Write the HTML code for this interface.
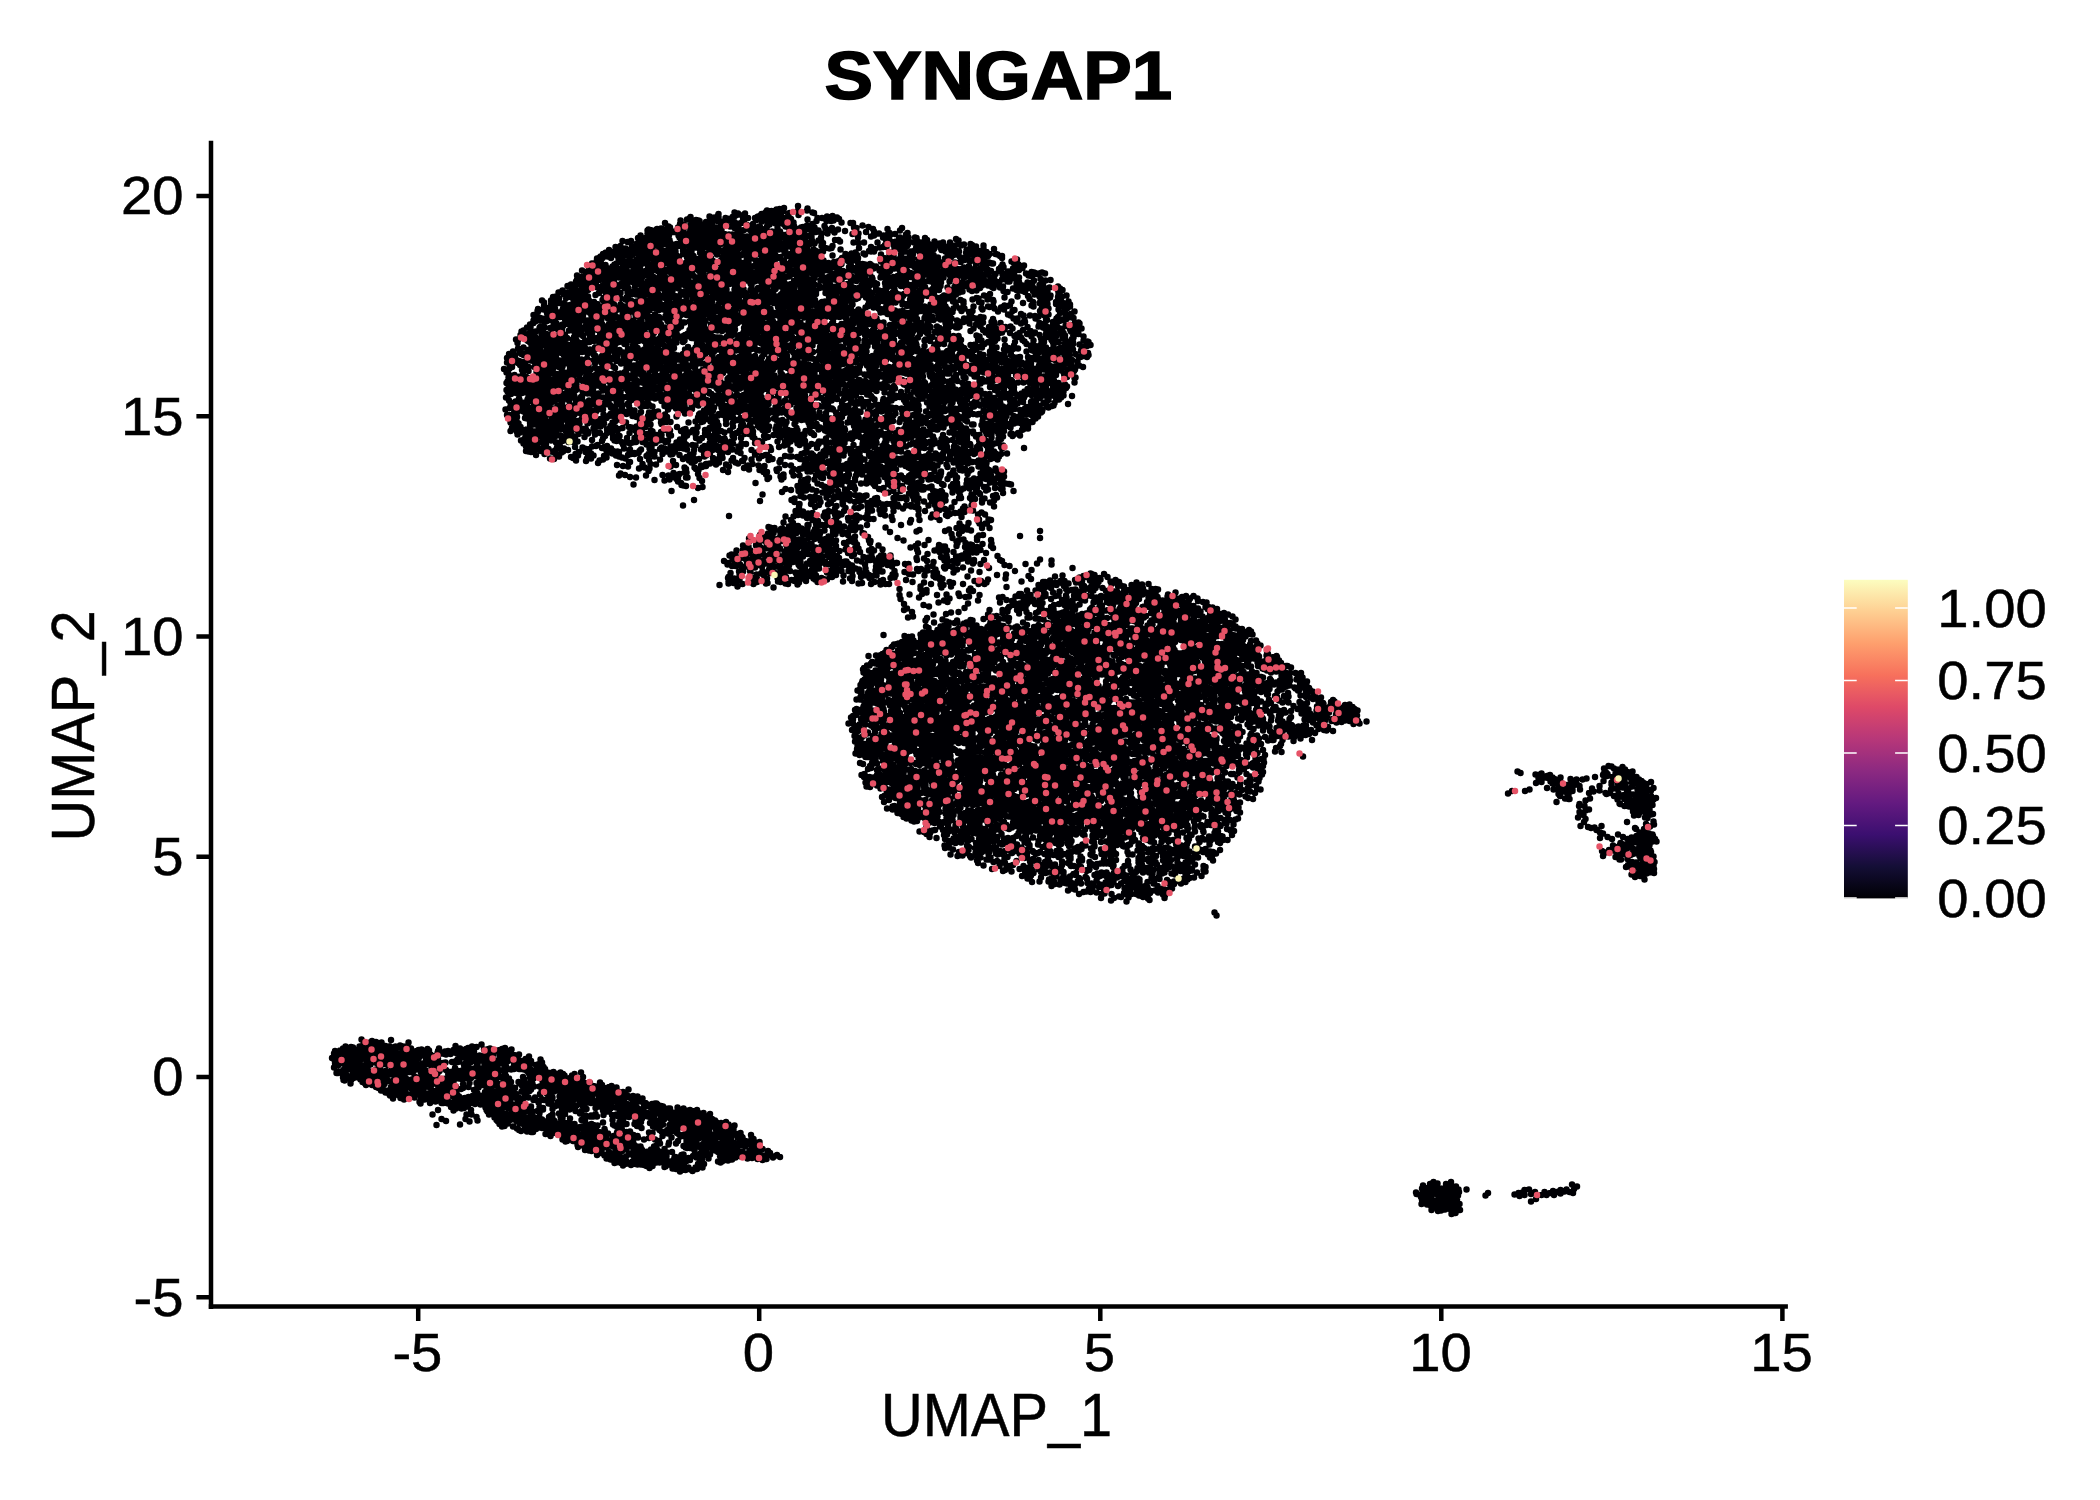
<!DOCTYPE html>
<html><head><meta charset="utf-8"><title>SYNGAP1</title>
<style>html,body{margin:0;padding:0;background:#fff}svg{display:block}text{font-family:"Liberation Sans",sans-serif;fill:#000;stroke:#000;stroke-width:0.5px}</style>
</head><body>
<svg width="2100" height="1500" viewBox="0 0 2100 1500">
<rect width="2100" height="1500" fill="#fff"/>
<g transform="scale(0.5000)" fill="none" stroke-linecap="round" stroke-width="12.80">
<path stroke="#000004" d="M1568 416h.1m28-4h-.1m110 34h.1m-5 0h-.1m-18-1h.1m-5-7h-.1m-4-3h.1m-7 6h-.1m-2-9h.1m-3 10h-.1m-8-9h.1m-1 9h-.1m-9-6h.1m-9 0h-.1m-2 6h.1m-5-16h-.1m-3-1h.1m-10 14h-.1m0-22h.1m-1 4h-.1m-17 9h.1m-2-8h-.1m-8 23h.1m0 3h-.1m-5-10h.1m0 3h-.1m0 3h.1m-3-18h-.1m-1 17h.1m-1-5h-.1m0 9h.1m-1-15h-.1m-1 3h.1m-2 9h-.1m-2-3h.1m-3 6h-.1m-1-25h.1m-3 12h-.1m-1-15h.1m-1 27h-.1m-2-16h.1m-1-12h-.1m-1 14h.1m0-4h-.1m-1 14h.1m-2-10h-.1m-2-13h.1m-1 26h-.1m0-3h.1m-1 5h-.1m-4-24h.1m-2 13h-.1m-1-4h.1m-1-10h-.1m0 20h.1m-6-15h-.1m-1 19h.1m-2-25h-.1m0 16h.1m-2-13h-.1m-3 3h.1m-5 16h-.1m-1-15h.1m0 9h-.1m-4-5h.1m-1 3h-.1m-1 4h.1m-1-3h-.1m0-3h.1m-3 7h-.1m-2-2h.1m-1-2h-.1m-4 12h.1m-10-12h-.1m-6 2h.1m0-11h-.1m-2 3h.1m0 16h-.1m-1-3h.1m-1-4h-.1m-4 7h.1m-3 1h-.1m-1-18h.1m-2-2h-.1m-3 3h.1m-3 2h-.1m-1-7h.1m0 19h-.1m-2 1h.1m-1-6h-.1m-1-5h.1m-1 7h-.1m-2 0h.1m-8-4h-.1m-3 4h.1m0 3h-.1m0-8h.1m-4 12h-.1m-1-2h.1m-5-3h-.1m-4-15h.1m0 6h-.1m-2 8h.1m0-10h-.1m-5 3h.1m-1 6h-.1m-5-6h.1m0 12h-.1m-3-2h.1m-2-12h-.1m-4 12h.1m-3-1h-.1m-1 3h.1m-12-5h-.1m-1 4h.1m-1-5h-.1m-5-1h.1m-9 6h-.1m-2-6h.1m0-6h-.1m-7 5h.1m-13 2h-.1m-1 7h.1m-30-2h-.1m-54 30h.1m2 1h-.1m3-6h.1m10 5h-.1m3-1h.1m1-8h-.1m0-6h.1m0 18h-.1m2-20h.1m0 18h-.1m3-17h.1m0 16h-.1m3-9h.1m1-6h-.1m5 16h.1m5-19h-.1m0 9h.1m2 5h-.1m0 7h.1m2-3h-.1m0-10h.1m1 3h-.1m2 6h.1m1-18h-.1m3 8h.1m1 9h-.1m1-2h.1m1-3h-.1m0 8h.1m0-18h-.1m5 20h.1m3-8h-.1m0-15h.1m1-3h-.1m1 17h.1m0-3h-.1m1-6h.1m1-6h-.1m7 9h.1m2-1h-.1m4 2h.1m3 2h-.1m0-12h.1m1 16h-.1m2 4h.1m5-18h-.1m0 3h.1m1 12h-.1m1-10h.1m1-13h-.1m0 13h.1m3 6h-.1m3 5h.1m2 1h-.1m1-21h.1m2 25h-.1m2-14h.1m2 13h-.1m0-21h.1m3-3h-.1m1 24h.1m0-17h-.1m0 5h.1m2 13h-.1m0-3h.1m0-25h-.1m2 18h.1m0-17h-.1m2 3h.1m0 3h-.1m1 17h.1m0-8h-.1m3-11h.1m1 13h-.1m1-4h.1m1-14h-.1m0 28h.1m0 2h-.1m1-19h.1m3 15h-.1m1-18h.1m0-8h-.1m1 25h.1m0 5h-.1m0-8h.1m1-4h-.1m0 10h.1m1-18h-.1m1-7h.1m2-3h-.1m2 10h.1m0-4h-.1m2 3h.1m0 15h-.1m0 2h.1m1 3h-.1m1-30h.1m1 16h-.1m1 9h.1m3-19h-.1m0-3h.1m1 17h-.1m1 4h.1m1-6h-.1m0-12h.1m2 23h-.1m1-7h.1m0-7h-.1m3 6h.1m1 10h-.1m1-18h.1m0-7h-.1m3 10h.1m1 14h-.1m1-7h.1m0-8h-.1m1-4h.1m2 7h-.1m1 10h.1m1-29h-.1m1 12h.1m1 13h-.1m2-3h.1m1-19h-.1m2 17h.1m0 9h-.1m3-4h.1m3-1h-.1m0 4h.1m2 3h-.1m1-10h.1m0 8h-.1m2-24h.1m4 24h-.1m0-6h.1m0 9h-.1m1-11h.1m1-16h-.1m2 24h.1m0-27h-.1m1 6h.1m1 20h-.1m1-4h.1m3-3h-.1m1-14h.1m0 11h-.1m1-2h.1m1 16h-.1m0-11h.1m0-14h-.1m3 16h.1m1 8h-.1m0-15h.1m0 4h-.1m6 5h.1m1-13h-.1m6 15h.1m0-2h-.1m0-23h.1m0 3h-.1m4 20h.1m2-13h-.1m0 18h.1m2-23h-.1m1-2h.1m1 22h-.1m1-5h.1m0 3h-.1m1-18h.1m0 24h-.1m3 1h.1m0-5h-.1m2-13h.1m0 18h-.1m2-5h.1m1-11h-.1m1-6h.1m0 4h-.1m1 16h.1m1-15h-.1m1-10h.1m0 6h-.1m2-5h.1m0 18h-.1m1-2h.1m2-12h-.1m3 1h.1m1 9h-.1m1-3h.1m1 14h-.1m2-15h.1m1 16h-.1m0-2h.1m1-3h-.1m0-19h.1m1 21h-.1m0-24h.1m3 23h-.1m1 3h.1m1-30h-.1m3 27h.1m1-4h-.1m1-9h.1m1 12h-.1m1-10h.1m2 6h-.1m0-6h.1m2 9h-.1m4-1h.1m1-17h-.1m1 10h.1m0 4h-.1m4-7h.1m7 12h-.1m1-5h.1m0-21h-.1m1 24h.1m2-20h-.1m0 25h.1m2-1h-.1m2-8h.1m1-1h-.1m0-14h.1m2 18h-.1m1-10h.1m1 14h-.1m1-26h.1m0 11h-.1m2 5h.1m2-11h-.1m1 21h.1m2-24h-.1m2 23h.1m0-19h-.1m2 5h.1m0 15h-.1m2-6h.1m4 5h-.1m2-8h.1m1 8h-.1m1-20h.1m0 6h-.1m3 8h.1m1-7h-.1m0-8h.1m2 11h-.1m0 6h.1m3 7h-.1m3-27h.1m1 21h-.1m1-14h.1m6-1h-.1m1 11h.1m0 6h-.1m2-26h.1m4 7h-.1m3 9h.1m5-3h-.1m5 14h.1m1-8h-.1m6-15h.1m2 5h-.1m4 3h.1m0 7h-.1m9-11h.1m3 6h-.1m2 3h.1m1 15h-.1m6-21h.1m14 3h-.1m15 6h.1m3-13h-.1m5 1h.1m3 19h-.1m1-8h.1m8-16h-.1m7 13h.1m5-10h-.1m5 19h.1m4-15h-.1m2 5h.1m0 8h-.1m3-3h.1m7-1h-.1m8 8h.1m1-4h-.1m5 9h.1m2-10h-.1m1-12h.1m0 14h-.1m3-4h.1m0 8h-.1m1-10h.1m2 3h-.1m9-1h.1m8 10h-.1m2-17h.1m0 14h-.1m3 2h.1m1-21h-.1m0 22h.1m4 1h-.1m4-7h.1m0-3h-.1m3-3h.1m2 9h-.1m13 0h.1m3 1h-.1m17 0h.1m62 2h-.1m92 34h.1m-4 0h-.1m-5-3h.1m-4-1h-.1m-3-10h.1m-9 10h-.1m-2 2h.1m-1 2h-.1m-3-8h.1m-3 0h-.1m-3-7h.1m0-6h-.1m-1 9h.1m-2 12h-.1m-1-10h.1m-4 7h-.1m-4-8h.1m-1 11h-.1m-2-19h.1m-5 17h-.1m0-4h.1m-1-5h-.1m-1-8h.1m-1 15h-.1m0-18h.1m-1 14h-.1m-1-9h.1m-1-7h-.1m-1 9h.1m-4 14h-.1m-3-11h.1m-1 6h-.1m-4-17h.1m-6 2h-.1m-4 12h.1m-1-22h-.1m-2 7h.1m-2 14h-.1m-1 7h.1m-2-18h-.1m-2 18h.1m0-4h-.1m-3 6h.1m-2-17h-.1m-1 2h.1m-1 3h-.1m-1-14h.1m-2 27h-.1m-3-3h.1m-4-16h-.1m0 10h.1m-4-12h-.1m0 3h.1m-1-9h-.1m-1 15h.1m-2 0h-.1m0-8h.1m-2 4h-.1m0-6h.1m-2-3h-.1m-3 3h.1m-7-7h-.1m-1 7h.1m0 8h-.1m-1 12h.1m-1-21h-.1m-2 21h.1m0-7h-.1m-2-10h.1m-2-2h-.1m-1 12h.1m-2 3h-.1m0-10h.1m-1 15h-.1m0-24h.1m0 3h-.1m-2-10h.1m-2 15h-.1m-1 6h.1m0 3h-.1m-5-8h.1m-1 6h-.1m0-14h.1m-1 13h-.1m-1-10h.1m-1-6h-.1m-1 26h.1m-1-6h-.1m-1-19h.1m0 3h-.1m-2 11h.1m-1-2h-.1m-2-4h.1m0-13h-.1m-1 4h.1m-1 11h-.1m-1-15h.1m-3 4h-.1m0 17h.1m-2 6h-.1m-3 3h.1m-1-8h-.1m-2 7h.1m-1-26h-.1m0 21h.1m-1-22h-.1m-2 6h.1m-2 3h-.1m-3 11h.1m0-21h-.1m-1 3h.1m0 14h-.1m-5-2h.1m-2 3h-.1m0 6h.1m0-17h-.1m-1 20h.1m-2-10h-.1m0-17h.1m-3 0h-.1m-4 5h.1m-1-4h-.1m0 9h.1m-3 5h-.1m-2-7h.1m0 21h-.1m-2-27h.1m-2 27h-.1m-3-6h.1m0-23h-.1m-1 28h.1m-6-16h-.1m-3-4h.1m-4 4h-.1m-4 15h.1m-2-14h-.1m-5-10h.1m-5 13h-.1m-2 5h.1m-6-9h-.1m0 9h.1m-4-1h-.1m-8 7h.1m-2-24h-.1m-1 22h.1m-9-11h-.1m-1-10h.1m-3 24h-.1m-3-2h.1m0-3h-.1m-4-20h.1m-4 22h-.1m-7 5h.1m-5-4h-.1m-10-9h.1m-1-16h-.1m-3-3h.1m-12 12h-.1m0 19h.1m-2-15h-.1m-4 1h.1m-8-1h-.1m-5-10h.1m0 17h-.1m-3-11h.1m0-9h-.1m-3 21h.1m-1 8h-.1m-2-31h.1m-5 30h-.1m0-9h.1m-2-1h-.1m-1-14h.1m-1 18h-.1m-1-6h.1m-3-18h-.1m-3 30h.1m-1-8h-.1m0-17h.1m-1 2h-.1m-2 17h.1m-2 0h-.1m0-13h.1m0 14h-.1m-3-4h.1m-1-8h-.1m-1-3h.1m0-10h-.1m-3 31h.1m-2-16h-.1m-1-15h.1m-1 5h-.1m-1 20h.1m-1-18h-.1m-1 16h.1m0 7h-.1m-1-4h.1m-2-1h-.1m-1-11h.1m-1 14h-.1m0-12h.1m-2-3h-.1m0-10h.1m-2 4h-.1m0 4h.1m-2-2h-.1m-1-2h.1m-2 13h-.1m-1 6h.1m0-23h-.1m0 3h.1m-2 7h-.1m-3 14h.1m-3 2h-.1m-3 2h.1m0-27h-.1m-1 3h.1m-2-8h-.1m0 18h.1m-2-8h-.1m0 16h.1m0-5h-.1m0-2h.1m-2-3h-.1m-3-1h.1m-3-7h-.1m-3 11h.1m0-18h-.1m-1 13h.1m0-11h-.1m-1 8h.1m-1-8h-.1m0 16h.1m-3 0h-.1m-1 12h.1m-2-18h-.1m-3-4h.1m0 10h-.1m0 3h.1m-2-18h-.1m-1 17h.1m-2 3h-.1m-1-11h.1m0-8h-.1m0 21h.1m-1 5h-.1m0-14h.1m-2-2h-.1m-1-5h.1m-2 4h-.1m0 10h.1m0 8h-.1m-2-19h.1m0 9h-.1m0-4h.1m-1 9h-.1m-3-6h.1m-2 10h-.1m-1-17h.1m0 16h-.1m-1-25h.1m-1 16h-.1m-4-15h.1m0 22h-.1m-1-9h.1m-3-9h-.1m-4 14h.1m-2-18h-.1m-2 22h.1m-1-14h-.1m-1-12h.1m0 27h-.1m-2-2h.1m0-24h-.1m-3 12h.1m-1-2h-.1m0 10h.1m-1-7h-.1m0-8h.1m-1 23h-.1m-1-30h.1m-1 23h-.1m-1-22h.1m-1 23h-.1m0-2h.1m0-14h-.1m0 11h.1m-1-5h-.1m-2-1h.1m-1 5h-.1m0-2h.1m-1 12h-.1m0-3h.1m-2 2h-.1m-2-26h.1m-3 29h-.1m-1-18h.1m0-6h-.1m-1-5h.1m0 27h-.1m0 2h.1m-1-26h-.1m-1 12h.1m-2 14h-.1m-1-24h.1m-1 11h-.1m-3 1h.1m-1 9h-.1m0 2h.1m-2-22h-.1m-3 4h.1m0 11h-.1m-1 7h.1m0-6h-.1m-1-7h.1m-2 3h-.1m0-14h.1m0 18h-.1m-1-23h.1m-1 27h-.1m0-15h.1m0 19h-.1m-1-31h.1m-1 3h-.1m-3 2h.1m0 7h-.1m-1-10h.1m-2 17h-.1m0-15h.1m-2 2h-.1m0 20h.1m-2-22h-.1m0 16h.1m-4-13h-.1m0-8h.1m-2 23h-.1m-1-19h.1m-3 13h-.1m0 4h.1m-1-11h-.1m-1-7h.1m0 26h-.1m-2-15h.1m0-3h-.1m0 5h.1m0-11h-.1m-3 17h.1m-3 1h-.1m0-10h.1m-2-2h-.1m-2 2h.1m-1 3h-.1m-1-11h.1m0 20h-.1m-3-23h.1m-1 2h-.1m0 2h.1m0-4h-.1m-1 24h.1m-1-23h-.1m0 11h.1m0-10h-.1m-4 23h.1m-1-23h-.1m0 23h.1m-1 4h-.1m-2-16h.1m0-1h-.1m-1 2h.1m-1-12h-.1m0 20h.1m-4-5h-.1m0 7h.1m-4-19h-.1m-3 2h.1m-1 6h-.1m-3-12h.1m-3 2h-.1m0 5h.1m-2-10h-.1m0 4h.1m0 8h-.1m-1 18h.1m0-6h-.1m0-5h.1m-1 10h-.1m-2-5h.1m-1-10h-.1m-2-6h.1m0 22h-.1m-2-7h.1m-1-15h-.1m-1 2h.1m-4-1h-.1m-2 4h.1m-1 8h-.1m0 7h.1m-3-19h-.1m-1-8h.1m-3 9h-.1m-2 2h.1m-4-4h-.1m0 1h.1m0 22h-.1m-2-5h.1m0-3h-.1m-4-3h.1m-1 10h-.1m0-8h.1m0-8h-.1m-5-8h.1m-2-6h-.1m-2 13h.1m-1 11h-.1m-4-19h.1m-1 17h-.1m-3 9h.1m-2-22h-.1m-1-9h.1m-2 29h-.1m0-25h.1m0 17h-.1m-2-5h.1m-1-4h-.1m-1 17h.1m0-10h-.1m-2-12h.1m-2 3h-.1m0 18h.1m0 3h-.1m-3-20h.1m-2 16h-.1m0-3h.1m-4-22h-.1m-2 21h.1m0-6h-.1m-1-2h.1m-6 7h-.1m-1 8h.1m-1-7h-.1m0-22h.1m-1 31h-.1m0-24h.1m0 2h-.1m0 10h.1m-1-7h-.1m-3 1h.1m-2-14h-.1m0 10h.1m-3 12h-.1m-1-9h.1m-1 17h-.1m0-23h.1m-3 15h-.1m-2-5h.1m-1-10h-.1m-1 21h.1m-1-15h-.1m-1-6h.1m-3 15h-.1m-3 1h.1m-2 0h-.1m-2-11h.1m0 7h-.1m0 11h.1m-2-28h-.1m-3 21h.1m-1 6h-.1m-3 2h.1m0-27h-.1m-2 24h.1m-1-10h-.1m0 13h.1m-1-14h-.1m-2 2h.1m-2 3h-.1m-1 5h.1m-1-25h-.1m-2 20h.1m-2-10h-.1m-2 5h.1m-3 7h-.1m0-7h.1m-2 14h-.1m0-4h.1m-2-2h-.1m-1-11h.1m-2 9h-.1m-6 7h.1m-5-10h-.1m-6 5h.1m-1 6h-.1m-5-3h.1m-42 33h-.1m7 3h.1m7-5h-.1m2 3h.1m1-6h-.1m3 7h.1m0-16h-.1m1 10h.1m0-8h-.1m1 10h.1m4-4h-.1m2-9h.1m0 10h-.1m1-13h.1m0 8h-.1m0-2h.1m1-12h-.1m2 18h.1m0 2h-.1m0-15h.1m0 6h-.1m3-1h.1m0 6h-.1m2-20h.1m1 7h-.1m3-4h.1m1 24h-.1m0-3h.1m2-6h-.1m1 5h.1m0-23h-.1m2 17h.1m0 11h-.1m1-7h.1m1 5h-.1m2-26h.1m4 24h-.1m3-21h.1m3 17h-.1m3-2h.1m1 2h-.1m0 4h.1m0-8h-.1m4 7h.1m0-9h-.1m4-10h.1m2 7h-.1m1 14h.1m3-1h-.1m0-16h.1m1 2h-.1m0 16h.1m1-23h-.1m1 6h.1m0 10h-.1m5 11h.1m0-19h-.1m2 15h.1m1 4h-.1m2-17h.1m1-2h-.1m1 6h.1m1-12h-.1m2 2h.1m6 16h-.1m0-7h.1m1-3h-.1m0 13h.1m3-2h-.1m1-13h.1m1-3h-.1m0-1h.1m1 5h-.1m1-7h.1m0 6h-.1m2 19h.1m0-11h-.1m0-6h.1m1 1h-.1m1-11h.1m0 15h-.1m1 5h.1m0-14h-.1m0 22h.1m1-29h-.1m3 9h.1m2 3h-.1m1-14h.1m2 6h-.1m1 7h.1m1-9h-.1m0 25h.1m4-23h-.1m0 9h.1m1 8h-.1m1-7h.1m0-11h-.1m0 16h.1m2-4h-.1m4 0h.1m1 4h-.1m1-20h.1m2 14h-.1m1-7h.1m1-5h-.1m2-4h.1m1 8h-.1m0 7h.1m1 14h-.1m1-22h.1m1 11h-.1m1-7h.1m1-3h-.1m0 23h.1m2-23h-.1m1 4h.1m3-11h-.1m2 22h.1m0 1h-.1m1-9h.1m2-1h-.1m1-5h.1m0 23h-.1m1-18h.1m1-11h-.1m0 29h.1m2-4h-.1m1-22h.1m2 9h-.1m1-13h.1m1 2h-.1m0 23h.1m0-14h-.1m1 9h.1m1-17h-.1m0 24h.1m1-12h-.1m0-10h.1m3 11h-.1m1-12h.1m1 21h-.1m2-11h.1m1-6h-.1m1 15h.1m0-20h-.1m2 14h.1m3 9h-.1m1-27h.1m2 8h-.1m0-7h.1m0 19h-.1m1 7h.1m1 1h-.1m0-11h.1m4 2h-.1m1-2h.1m0 12h-.1m0-15h.1m3 8h-.1m3-4h.1m2-6h-.1m1 16h.1m0-26h-.1m1 16h.1m0-3h-.1m2 15h.1m0-23h-.1m3 23h.1m0-5h-.1m2-21h.1m0 26h-.1m0-24h.1m1 20h-.1m1 4h.1m1-5h-.1m0-7h.1m2-19h-.1m1 15h.1m1-6h-.1m2 13h.1m2-10h-.1m0-6h.1m3 22h-.1m0-22h.1m1 18h-.1m1-17h.1m0 2h-.1m0 21h.1m0-16h-.1m2 11h.1m0-14h-.1m0 21h.1m1-15h-.1m1 14h.1m1-17h-.1m2-3h.1m0 13h-.1m0-20h.1m1 14h-.1m2-15h.1m0 3h-.1m1-2h.1m2-2h-.1m4 24h.1m0-17h-.1m0 8h.1m2-14h-.1m0 10h.1m0 6h-.1m2 9h.1m1-22h-.1m1 19h.1m1-21h-.1m2 13h.1m2-7h-.1m5 19h.1m4-15h-.1m1 15h.1m0 3h-.1m5-18h.1m1-5h-.1m1 7h.1m0 8h-.1m2-21h.1m4 18h-.1m3-5h.1m0-10h-.1m2 4h.1m0 5h-.1m0-15h.1m2 0h-.1m0 20h.1m4 4h-.1m0-9h.1m3 4h-.1m1 9h.1m1-23h-.1m0 9h.1m0 3h-.1m1-4h.1m0 16h-.1m2-16h.1m1 13h-.1m1-15h.1m0 14h-.1m3-17h.1m1 22h-.1m1-13h.1m2-10h-.1m1 4h.1m1 18h-.1m0-7h.1m5-7h-.1m1 16h.1m0-6h-.1m1 6h.1m2-4h-.1m1-14h.1m3 12h-.1m0-8h.1m0 7h-.1m1-22h.1m1 17h-.1m1-14h.1m0 2h-.1m1 4h.1m1 3h-.1m0 8h.1m1 10h-.1m1-26h.1m2 19h-.1m4-22h.1m2 2h-.1m1 15h.1m2-13h-.1m2 9h.1m1 5h-.1m0-8h.1m2 16h-.1m1-4h.1m0 6h-.1m1-18h.1m2 6h-.1m1 2h.1m1 5h-.1m0-17h.1m1 23h-.1m1-2h.1m0-26h-.1m1 8h.1m1-1h-.1m0 13h.1m2-18h-.1m1 9h.1m0 14h-.1m0-9h.1m1-11h-.1m2 14h.1m0-16h-.1m1 25h.1m2-30h-.1m0 29h.1m0-26h-.1m0 24h.1m1-15h-.1m1-3h.1m1 20h-.1m1-10h.1m0-15h-.1m3 1h.1m0 25h-.1m1-23h.1m0 9h-.1m1-7h.1m2 16h-.1m4-21h.1m0 4h-.1m1 5h.1m4 16h-.1m1-29h.1m2 26h-.1m1-7h.1m0-17h-.1m3-2h.1m4 11h-.1m1 17h.1m2-20h-.1m3 12h.1m0-6h-.1m5 13h.1m0-12h-.1m0-17h.1m3 1h-.1m0 17h.1m1 2h-.1m1-7h.1m3-8h-.1m1 9h.1m0 16h-.1m2-19h.1m1-10h-.1m1 12h.1m3 16h-.1m0-9h.1m2-17h-.1m1 24h.1m0-4h-.1m1-2h.1m1-18h-.1m1 14h.1m1 4h-.1m1-15h.1m1 22h-.1m1-21h.1m4 6h-.1m5-6h.1m1 7h-.1m1 18h.1m2-6h-.1m0-18h.1m1-2h-.1m2 8h.1m1 12h-.1m1-26h.1m2 32h-.1m1-15h.1m0 13h-.1m0-6h.1m0-13h-.1m1-5h.1m2 19h-.1m1-21h.1m2-1h-.1m1 16h.1m1-17h-.1m0 12h.1m1 1h-.1m3 13h.1m0-18h-.1m2 9h.1m0 3h-.1m5-18h.1m0 5h-.1m0 4h.1m2 16h-.1m2 1h.1m0-6h-.1m0-5h.1m1-10h-.1m0 14h.1m5 2h-.1m2 3h.1m1-9h-.1m2-5h.1m7 9h-.1m2-8h.1m0 2h-.1m2-5h.1m1 3h-.1m0-2h.1m1 8h-.1m1 0h.1m3 1h-.1m0 4h.1m1-15h-.1m2 4h.1m1-2h-.1m0 8h.1m0 5h-.1m3-18h.1m1 22h-.1m1-14h.1m1-12h-.1m2 26h.1m1-24h-.1m9 4h.1m2 12h-.1m2 8h.1m0-22h-.1m2-4h.1m0 10h-.1m2 12h.1m2-2h-.1m0-15h.1m3 20h-.1m3-27h.1m2 7h-.1m1 13h.1m1-9h-.1m0-9h.1m2 12h-.1m1 5h.1m1 1h-.1m2 6h.1m2-4h-.1m1-8h.1m3 11h-.1m2-10h.1m10 5h-.1m0-6h.1m1 8h-.1m3-5h.1m3 6h-.1m5-4h.1m7 8h-.1m1-3h.1m2-15h-.1m5 5h.1m1-12h-.1m1 22h.1m5-15h-.1m3 4h.1m3 15h-.1m0-21h.1m0-6h-.1m1 24h.1m1-5h-.1m0-16h.1m0 18h-.1m2-1h.1m3-5h-.1m1-9h.1m1 16h-.1m1-10h.1m1 5h-.1m0-2h.1m0-11h-.1m5 9h.1m1-3h-.1m0 6h.1m2 9h-.1m1-17h.1m1 2h-.1m0-10h.1m2 16h-.1m2-4h.1m0 10h-.1m1 5h.1m2-25h-.1m1 15h.1m1 7h-.1m1-17h.1m0 21h-.1m3-1h.1m2-25h-.1m3 13h.1m0-7h-.1m4 6h.1m1-10h-.1m2 12h.1m0-14h-.1m1 10h.1m2 7h-.1m4 9h.1m1-4h-.1m2-11h.1m2-10h-.1m0 2h.1m0 22h-.1m3-2h.1m1-6h-.1m0-11h.1m1-10h-.1m0 30h.1m1-18h-.1m1 15h.1m4-26h-.1m1 11h.1m2 4h-.1m2 6h.1m1-13h-.1m2-7h.1m0 25h-.1m2-4h.1m0-7h-.1m2-11h.1m1 17h-.1m1-8h.1m1-8h-.1m0 9h.1m0 13h-.1m2-11h.1m1-12h-.1m2 4h.1m0 17h-.1m0-6h.1m1 9h-.1m4-3h.1m2-11h-.1m0-13h.1m2 15h-.1m2-3h.1m0 16h-.1m2-15h.1m1-3h-.1m0 18h.1m4-6h-.1m3-20h.1m3-1h-.1m2 11h.1m1-7h-.1m0 14h.1m6-20h-.1m1 15h.1m3 12h-.1m1-7h.1m3-9h-.1m5 13h.1m5-24h-.1m1 10h.1m2-2h-.1m0 16h.1m4-1h-.1m1-2h.1m1-15h-.1m2-5h.1m1 25h-.1m6 1h.1m0-9h-.1m1-11h.1m2 1h-.1m2 19h.1m6-27h-.1m1 23h.1m0-19h-.1m0 22h.1m1-24h-.1m1 12h.1m5-14h-.1m3 27h.1m1-18h-.1m1 13h.1m3-4h-.1m0-7h.1m1 12h-.1m0-20h.1m3 5h-.1m2 6h.1m0-4h-.1m2 18h.1m0-13h-.1m2 10h.1m3-14h-.1m4 17h.1m2-15h-.1m2 0h.1m12 11h-.1m0 4h.1m4-8h-.1m1 4h.1m1-22h-.1m1 13h.1m2 5h-.1m9 9h.1m7-20h-.1m2 17h.1m1-3h-.1m1-12h.1m3 17h-.1m0-12h.1m1 9h-.1m1-4h.1m2-16h-.1m3 10h.1m1 11h-.1m7-4h.1m3-5h-.1m68 42h.1m-15-13h-.1m-2 15h.1m-8-14h-.1m-1-14h.1m-4 21h-.1m-2-23h.1m-3 13h-.1m0 11h.1m-2 1h-.1m-1-23h.1m-4 1h-.1m-6 13h.1m0-16h-.1m-1 31h.1m-2-11h-.1m-1-13h.1m-1 18h-.1m0-26h.1m0 29h-.1m-1-21h.1m-5-1h-.1m0 23h.1m-1-3h-.1m-1-6h.1m-3 8h-.1m0-26h.1m-7 24h-.1m-6 3h.1m-1-19h-.1m0 9h.1m-1 9h-.1m-2-7h.1m-2 1h-.1m-4-16h.1m0 6h-.1m-2-11h.1m-1 5h-.1m0-4h.1m-6 5h-.1m-1 7h.1m0 4h-.1m-3-3h.1m-1 3h-.1m-4-10h.1m-2-6h-.1m-3 26h.1m-1-24h-.1m-1 10h.1m-4 16h-.1m-2-11h.1m-7-16h-.1m-1 21h.1m-1-9h-.1m-1-5h.1m-2 6h-.1m-1 5h.1m-1 8h-.1m-3-18h.1m-1-12h-.1m-1 18h.1m-1 3h-.1m0-19h.1m-2 25h-.1m-1-4h.1m-5-17h-.1m-2 10h.1m-1-6h-.1m-1 11h.1m0-14h-.1m-2 20h.1m0-19h-.1m-4 24h.1m-1-15h-.1m-2 9h.1m-2-15h-.1m-1 9h.1m0-17h-.1m-5 2h.1m-1 14h-.1m-2-1h.1m-1-10h-.1m-1 23h.1m-3-19h-.1m-1 10h.1m-1 9h-.1m0-3h.1m-2-21h-.1m-1 15h.1m-2-15h-.1m-2-4h.1m-2 7h-.1m-2 19h.1m0-18h-.1m-2 9h.1m0-14h-.1m-5-2h.1m-1 3h-.1m0 14h.1m-1-17h-.1m0 24h.1m-2-7h-.1m-2-18h.1m-1 9h-.1m-3 14h.1m-1-19h-.1m-1 23h.1m0-19h-.1m-5 0h.1m0-8h-.1m-2 11h.1m-1-4h-.1m-1-10h.1m-1 19h-.1m0-14h.1m-4 26h-.1m-4-30h.1m-1 2h-.1m-3 8h.1m-3-8h-.1m-2 11h.1m0 7h-.1m-1 7h.1m-2-25h-.1m-1 3h.1m-1 10h-.1m0 8h.1m-3 7h-.1m-2-22h.1m0 9h-.1m-2-14h.1m-1 20h-.1m-1 5h.1m-1-22h-.1m-2 5h.1m-2-11h-.1m-1 18h.1m-1-9h-.1m-1-5h.1m-1 9h-.1m-3 4h.1m-5-13h-.1m-1 25h.1m0-26h-.1m-2-1h.1m0 16h-.1m0 12h.1m-2-2h-.1m-1-21h.1m-1 8h-.1m-1-11h.1m-1 22h-.1m-1-5h.1m0-21h-.1m-1 9h.1m-2 6h-.1m-1-13h.1m0 2h-.1m-2 14h.1m-3-5h-.1m-2 2h.1m0-4h-.1m0 17h.1m-1-24h-.1m0-2h.1m-1 21h-.1m-1 7h.1m-2-23h-.1m0-2h.1m-3 4h-.1m0 21h.1m-1-29h-.1m-2 24h.1m-4-23h-.1m-3 29h.1m0-15h-.1m0 3h.1m-1-10h-.1m-1 19h.1m-2-29h-.1m0 3h.1m0 9h-.1m-1 10h.1m0-2h-.1m-1-5h.1m-2 8h-.1m0-3h.1m-2-14h-.1m0 22h.1m-1-10h-.1m-1 2h.1m-3-1h-.1m-2-11h.1m0 16h-.1m-2-9h.1m-4 3h-.1m-2 5h.1m0-13h-.1m-1 4h.1m0 15h-.1m-1-6h.1m-4-8h-.1m0-3h.1m-2-1h-.1m-1 4h.1m-1-2h-.1m-1 15h.1m0-15h-.1m-1 17h.1m0-11h-.1m0-12h.1m-1 4h-.1m-2 7h.1m-1 9h-.1m-1-5h.1m0-14h-.1m-1-8h.1m-6 4h-.1m-2 7h.1m-7 13h-.1m-3 4h.1m-1-6h-.1m-3-1h.1m-2-7h-.1m-1-3h.1m-1 7h-.1m-1 6h.1m-2-22h-.1m-1 25h.1m-3-3h-.1m-1-21h.1m-1 23h-.1m0-9h.1m-1 4h-.1m-1-20h.1m-1 13h-.1m-3 7h.1m-1-15h-.1m0-2h.1m-2 7h-.1m-1 15h.1m-1-11h-.1m0 13h.1m-4 3h-.1m0-23h.1m-4-5h-.1m-2 15h.1m-3-6h-.1m-1 5h.1m-1 15h-.1m-4-2h.1m-1-21h-.1m-1 5h.1m-1 8h-.1m-1 7h.1m-2-26h-.1m-3 21h.1m-1-15h-.1m0-2h.1m-1-4h-.1m-1 23h.1m-1-26h-.1m0 4h.1m-1 4h-.1m-2 2h.1m-2 22h-.1m0-7h.1m-3 4h-.1m0-16h.1m0 4h-.1m-2 14h.1m0-27h-.1m-1 16h.1m-1-14h-.1m-1 15h.1m0-2h-.1m-4-14h.1m-1 5h-.1m0 6h.1m0 13h-.1m-2 1h.1m0-26h-.1m-1 11h.1m-2-1h-.1m0 16h.1m-2-19h-.1m-2 4h.1m-1-12h-.1m-1 7h.1m-2 12h-.1m-1-5h.1m-1-8h-.1m-2 4h.1m0 8h-.1m0 3h.1m-2 5h-.1m-3-17h.1m0 11h-.1m-1 7h.1m0-11h-.1m-4-9h.1m-2 0h-.1m0 4h.1m-3 3h-.1m-2 15h.1m0-27h-.1m-1 22h.1m-1-25h-.1m-8 23h.1m0-24h-.1m0 11h.1m-1-1h-.1m-2-8h.1m0 14h-.1m0 10h.1m0 2h-.1m-1-16h.1m-2-11h-.1m-1 29h.1m-1-7h-.1m-4-4h.1m-3 4h-.1m0 3h.1m0-24h-.1m-1 7h.1m-5 15h-.1m-1-9h.1m0-7h-.1m-1-9h.1m0 11h-.1m-2 11h.1m-1 2h-.1m-1 8h.1m0-16h-.1m-1 6h.1m0-21h-.1m-1 4h.1m-1 4h-.1m-1 10h.1m-4 3h-.1m-1-15h.1m0 17h-.1m0-5h.1m0-18h-.1m-4 30h.1m-1-13h-.1m0-14h.1m-1-2h-.1m-1 24h.1m-2-23h-.1m-1-2h.1m-1 23h-.1m-2-17h.1m0 19h-.1m-2-17h.1m-2 20h-.1m-3-4h.1m-1-15h-.1m-2-1h.1m-2 9h-.1m-2-6h.1m0 15h-.1m-1-21h.1m-1 18h-.1m-2-17h.1m-1 22h-.1m0-18h.1m-2 17h-.1m-1-10h.1m-3-14h-.1m0 18h.1m0 6h-.1m-1-17h.1m0 9h-.1m-3-18h.1m0 17h-.1m-1 11h.1m-2-20h-.1m-1 19h.1m0-24h-.1m0 22h.1m-1-14h-.1m0-2h.1m0-9h-.1m-1 8h.1m-1 14h-.1m0-22h.1m-1 4h-.1m-1 11h.1m0-15h-.1m-3-2h.1m0 5h-.1m-2 20h.1m-1-20h-.1m-2 26h.1m0-25h-.1m0 23h.1m-4-15h-.1m0 7h.1m-1-16h-.1m-1 4h.1m-2 14h-.1m-2 8h.1m0-2h-.1m-1-8h.1m0-15h-.1m-3 6h.1m-3 5h-.1m-1 15h.1m-2-23h-.1m0-8h.1m-1 12h-.1m-3-12h.1m-1 18h-.1m-1-7h.1m-5 15h-.1m0-21h.1m-1-2h-.1m-1 14h.1m0 5h-.1m-2-13h.1m0-2h-.1m-3-8h.1m0 17h-.1m-2-8h.1m0-4h-.1m0-1h.1m-2 13h-.1m-3-16h.1m0 2h-.1m-2 8h.1m-2-9h-.1m-1 25h.1m-1-10h-.1m-1-8h.1m-1 17h-.1m0-15h.1m-2-8h-.1m0 20h.1m-1-21h-.1m0 25h.1m0-14h-.1m-1 3h.1m0-12h-.1m-5 16h.1m-1-17h-.1m-1 24h.1m0-13h-.1m0-1h.1m-4-10h-.1m-3 5h.1m0 2h-.1m-1 12h.1m-3 2h-.1m-3-13h.1m-1 3h-.1m-2-13h.1m0 24h-.1m-1-8h.1m0 13h-.1m0-24h.1m-4 13h-.1m0-17h.1m0 26h-.1m-2-7h.1m0 9h-.1m-2-22h.1m0 23h-.1m0-12h.1m-2 11h-.1m-1 2h.1m0-19h-.1m-4-4h.1m0 18h-.1m-1-17h.1m-1-3h-.1m0-6h.1m-2 17h-.1m0-12h.1m0 9h-.1m0-3h.1m-1 7h-.1m-1-8h.1m-1 7h-.1m-1-7h.1m-1 15h-.1m0-22h.1m-2 9h-.1m-2 4h.1m-3 13h-.1m0-6h.1m-2-18h-.1m-2 8h.1m-1 14h-.1m-2-17h.1m0 11h-.1m-1 4h.1m-1-14h-.1m-4 10h.1m-1-22h-.1m-1 25h.1m0-20h-.1m-2 10h.1m0-13h-.1m-1 9h.1m0 14h-.1m-1-12h.1m-1 10h-.1m-1 2h.1m-1-15h-.1m0 5h.1m-5 12h-.1m-1-16h.1m-2 4h-.1m-4 10h.1m0 3h-.1m-1 4h.1m0-25h-.1m-7 1h.1m0 12h-.1m0-15h.1m-2 24h-.1m-1-25h.1m-1 6h-.1m-2 11h.1m-1-2h-.1m-1 6h.1m-1-22h-.1m0 24h.1m0-4h-.1m-2-12h.1m0-6h-.1m-3 13h.1m-1-14h-.1m-2 8h.1m-1 3h-.1m-2-14h.1m0 25h-.1m-2-13h.1m-1 19h-.1m-2-28h.1m-1 6h-.1m0 3h.1m-1 6h-.1m-2 11h.1m0-13h-.1m-1-10h.1m-1-4h-.1m-3 0h.1m-1 16h-.1m-2-7h.1m-1 19h-.1m0-4h.1m0-6h-.1m-1-21h.1m-1 29h-.1m-1-16h.1m-1 17h-.1m0-8h.1m-1 2h-.1m-1-3h.1m-2 3h-.1m-1-12h.1m0 20h-.1m-1-18h.1m0 12h-.1m-3-11h.1m-5-9h-.1m-1 5h.1m0 17h-.1m-1-9h.1m0-1h-.1m-1 14h.1m-1-31h-.1m0 10h.1m0 14h-.1m-1-2h.1m-1-8h-.1m0-2h.1m-2 13h-.1m0-3h.1m-2 4h-.1m0-14h.1m-1 9h-.1m-1-3h.1m-4-9h-.1m-1 15h.1m-2 0h-.1m-2-21h.1m0-4h-.1m0 6h.1m0 22h-.1m-3-18h.1m0 8h-.1m-1-16h.1m0 10h-.1m0 12h.1m-1 7h-.1m-1-14h.1m-1 8h-.1m-1-24h.1m0 5h-.1m-3 20h.1m0-2h-.1m-1-19h.1m-2 26h-.1m-3-26h.1m-1 6h-.1m-1-3h.1m0 10h-.1m0 9h.1m-2-12h-.1m-3 2h.1m-3-6h-.1m-1 13h.1m-1-16h-.1m-1 6h.1m-1 9h-.1m-1 7h.1m0-27h-.1m-2 8h.1m0 8h-.1m-1 2h.1m0-8h-.1m-1 4h.1m-5-11h-.1m0-4h.1m-3 13h-.1m-1-14h.1m0 3h-.1m-1-1h.1m-1 29h-.1m0-7h.1m-1-24h-.1m-1 19h.1m-2 3h-.1m0-13h.1m-1 4h-.1m-1 11h.1m0 5h-.1m0-11h.1m-1 3h-.1m-1 4h.1m0-22h-.1m0 3h.1m-1 7h-.1m-1-6h.1m-2 20h-.1m-1-4h.1m-2-14h-.1m-2 1h.1m-2 19h-.1m0-27h.1m-6 21h-.1m-2-12h.1m0-8h-.1m0 27h.1m0-16h-.1m-4 5h.1m0 2h-.1m-1-14h.1m-1-2h-.1m-1 14h.1m0-20h-.1m0 12h.1m0-4h-.1m-3 3h.1m-2 18h-.1m-1-9h.1m0-14h-.1m-2 23h.1m-1-18h-.1m0 16h.1m-1-12h-.1m-1-8h.1m0 9h-.1m-1 2h.1m-2-7h-.1m-1 15h.1m0 4h-.1m-1-25h.1m0 2h-.1m-2 6h.1m-5 17h-.1m-1-18h.1m0 4h-.1m-1 14h.1m-1-30h-.1m0 31h.1m-2-30h-.1m0 17h.1m-1 5h-.1m0-3h.1m-1-9h-.1m0-4h.1m-1 8h-.1m-2 12h.1m0-9h-.1m-1-14h.1m-1 10h-.1m-1 7h.1m0-4h-.1m-3-16h.1m-4 0h-.1m-1 16h.1m-1-15h-.1m0 21h.1m0 9h-.1m0-25h.1m-3-2h-.1m-2 21h.1m-2 4h-.1m0-6h.1m-3-1h-.1m0-9h.1m-3-4h-.1m-1 10h.1m-1-8h-.1m-1 12h.1m0-4h-.1m-2 5h.1m-4-2h-.1m0-8h.1m0-8h-.1m-2 12h.1m-3 11h-.1m-3-1h.1m-1-3h-.1m-3-1h.1m-7 3h-.1m-51 29h.1m4 4h-.1m14 3h.1m0-7h-.1m4 3h.1m0-10h-.1m4 5h.1m2-6h-.1m4 13h.1m0-2h-.1m1-19h.1m1 12h-.1m1 9h.1m6-25h-.1m3 8h.1m1 17h-.1m3-10h.1m2-7h-.1m0-4h.1m6 6h-.1m1 3h.1m0-5h-.1m1-6h.1m1-5h-.1m3 17h.1m0 2h-.1m1 9h.1m0-14h-.1m2-4h.1m0 13h-.1m1-5h.1m1 11h-.1m0-4h.1m1-22h-.1m1 5h.1m3 20h-.1m0-2h.1m1-6h-.1m0 7h.1m2-14h-.1m3-6h.1m1-5h-.1m1 9h.1m0 4h-.1m1 2h.1m1 9h-.1m3-1h.1m1-8h-.1m1-4h.1m0-8h-.1m5 13h.1m0-16h-.1m0 13h.1m2 11h-.1m0-3h.1m10 3h-.1m3-14h.1m7-4h-.1m3-4h.1m4 18h-.1m2-21h.1m0 17h-.1m3 9h.1m0-2h-.1m2-20h.1m0 6h-.1m1 9h.1m1 8h-.1m2-6h.1m0-4h-.1m2-11h.1m1 8h-.1m1-15h.1m1 29h-.1m2-30h.1m1 18h-.1m0-11h.1m0-4h-.1m2 27h.1m2-31h-.1m1 12h.1m2-10h-.1m2 2h.1m2-3h-.1m6 9h.1m0 11h-.1m8-21h.1m2 23h-.1m2-4h.1m2-14h-.1m0 4h.1m1 17h-.1m0-10h.1m0-8h-.1m0-4h.1m1-3h-.1m1 5h.1m1 5h-.1m2 1h.1m1 13h-.1m1-17h.1m0 23h-.1m1-19h.1m4 19h-.1m0-23h.1m4 5h-.1m1 14h.1m2 3h-.1m0-25h.1m2 8h-.1m4 6h.1m0-8h-.1m1 14h.1m1-19h-.1m0 26h.1m0-30h-.1m2 20h.1m1 8h-.1m1-6h.1m1-15h-.1m0 7h.1m0-10h-.1m1-5h.1m1 10h-.1m1 18h.1m0-20h-.1m2-7h.1m2 30h-.1m1-6h.1m2-26h-.1m0 14h.1m1-9h-.1m2 23h.1m0-7h-.1m1-2h.1m0-3h-.1m1-13h.1m0 6h-.1m2 9h.1m0 2h-.1m1-1h.1m1 6h-.1m1-20h.1m2 5h-.1m1 9h.1m0 12h-.1m1-19h.1m2-8h-.1m0 11h.1m1 16h-.1m0-23h.1m1 8h-.1m0 9h.1m1-4h-.1m0 6h.1m0-10h-.1m0-4h.1m1 10h-.1m3 9h.1m0-12h-.1m8-7h.1m0-9h-.1m1 16h.1m2-10h-.1m1 4h.1m1 14h-.1m1 4h.1m0-7h-.1m1-4h.1m1-18h-.1m1 23h.1m0-17h-.1m1-1h.1m2 3h-.1m0 2h.1m1 18h-.1m1-12h.1m0-2h-.1m0-6h.1m2-10h-.1m0 5h.1m1 10h-.1m3 2h.1m1-2h-.1m2 6h.1m0-4h-.1m1 8h.1m3 6h-.1m1-31h.1m3 14h-.1m1-2h.1m0 14h-.1m3 1h.1m2-20h-.1m4 5h.1m1 14h-.1m0-20h.1m1 3h-.1m0 6h.1m1 5h-.1m1-16h.1m2 3h-.1m0 5h.1m2 18h-.1m2-2h.1m6-22h-.1m0 13h.1m1-5h-.1m0 2h.1m4-11h-.1m1 25h.1m1-21h-.1m0-9h.1m2 21h-.1m0 3h.1m3-23h-.1m2 19h.1m2-17h-.1m0 14h.1m1-15h-.1m0 25h.1m2-2h-.1m2-25h.1m0 13h-.1m1 14h.1m2-12h-.1m1-15h.1m0 23h-.1m1-8h.1m0-10h-.1m2-2h.1m0 13h-.1m0-9h.1m2 11h-.1m0-19h.1m2 4h-.1m0 27h.1m1-29h-.1m3 21h.1m0 4h-.1m2-3h.1m0 3h-.1m1-19h.1m1 7h-.1m1 5h.1m0-8h-.1m4-7h.1m5 2h-.1m1 14h.1m0-7h-.1m0 18h.1m1-15h-.1m1-15h.1m0 28h-.1m3-23h.1m1 22h-.1m1-25h.1m2 15h-.1m4-3h.1m0-9h-.1m1 5h.1m1 15h-.1m0-12h.1m1-12h-.1m1 13h.1m1 7h-.1m4-7h.1m1 13h-.1m0-2h.1m1-14h-.1m3 13h.1m0 4h-.1m2-14h.1m0 3h-.1m1 6h.1m2-22h-.1m1 12h.1m0-8h-.1m0 15h.1m0-10h-.1m3 7h.1m0-9h-.1m0-8h.1m1 18h-.1m1-7h.1m0 12h-.1m2-24h.1m1 18h-.1m1-14h.1m2 7h-.1m3-5h.1m0 22h-.1m2-20h.1m1 5h-.1m0-12h.1m0 8h-.1m2 19h.1m0-20h-.1m2 7h.1m1 7h-.1m0 4h.1m1-15h-.1m1 12h.1m4-3h-.1m0 9h.1m0-12h-.1m3-14h.1m1 20h-.1m0 7h.1m1-4h-.1m0-26h.1m1 19h-.1m1-5h.1m1-4h-.1m1 15h.1m3-3h-.1m1-8h.1m1-10h-.1m2 18h.1m3 9h-.1m1-12h.1m5-16h-.1m0 10h.1m1 8h-.1m0 7h.1m1 3h-.1m0-25h.1m0-4h-.1m1 7h.1m1 8h-.1m0 13h.1m2-29h-.1m1 4h.1m1 18h-.1m2-15h.1m1-5h-.1m0 6h.1m2 21h-.1m1-16h.1m2-7h-.1m1 9h.1m0-7h-.1m0-3h.1m3 14h-.1m0-9h.1m1 14h-.1m3-5h.1m0-15h-.1m0 24h.1m4-28h-.1m2 26h.1m1-11h-.1m5 13h.1m1-12h-.1m1 7h.1m1-12h-.1m2 8h.1m1-11h-.1m0 22h.1m2-27h-.1m3 10h.1m1-7h-.1m0-2h.1m2 14h-.1m0 7h.1m1-21h-.1m1 2h.1m1-7h-.1m1 8h.1m1 21h-.1m1-4h.1m0-25h-.1m1 23h.1m1 1h-.1m2-5h.1m2-3h-.1m1 7h.1m0-14h-.1m1-7h.1m0 15h-.1m1-6h.1m0 12h-.1m1-10h.1m0-7h-.1m1 10h.1m0 12h-.1m3 2h.1m1-5h-.1m0-10h.1m1 16h-.1m0-18h.1m3 17h-.1m0-14h.1m1-8h-.1m1 12h.1m1-3h-.1m2-17h.1m0 10h-.1m1 3h.1m0 13h-.1m1-3h.1m0-14h-.1m1 14h.1m2-22h-.1m1 8h.1m3 20h-.1m3-6h.1m0-6h-.1m2 11h.1m1-28h-.1m1 25h.1m1-4h-.1m0-16h.1m1 2h-.1m1 8h.1m0 10h-.1m3-18h.1m1 2h-.1m2 15h.1m0-20h-.1m0 23h.1m1-18h-.1m1 14h.1m2-12h-.1m0-4h.1m3 23h-.1m9-3h.1m3 4h-.1m3-31h.1m0 26h-.1m1-17h.1m4-1h-.1m0-6h.1m0 27h-.1m1-19h.1m1-11h-.1m1 17h.1m1 12h-.1m0-18h.1m0 11h-.1m1-5h.1m0 3h-.1m0-17h.1m3 23h-.1m0-17h.1m2 2h-.1m6 9h.1m1-4h-.1m1-11h.1m1 27h-.1m0-25h.1m1 23h-.1m1-26h.1m1 3h-.1m0 14h.1m3-15h-.1m2 14h.1m0 10h-.1m1-25h.1m2 11h-.1m2 3h.1m1-8h-.1m2 20h.1m1-16h-.1m1 11h.1m0-13h-.1m0-9h.1m1 20h-.1m0 2h.1m4-11h-.1m1-1h.1m1-10h-.1m0 4h.1m1 9h-.1m1-2h.1m1 12h-.1m3-22h.1m7 17h-.1m1-21h.1m1 11h-.1m2 8h.1m0-16h-.1m1 11h.1m0-6h-.1m3 6h.1m0-13h-.1m3 11h.1m1-12h-.1m1 6h.1m3-3h-.1m3 2h.1m1 13h-.1m3-5h.1m1-2h-.1m1-8h.1m1 24h-.1m5-8h.1m1-10h-.1m0 12h.1m2 5h-.1m3-5h.1m3-18h-.1m2 25h.1m1-13h-.1m1 14h.1m2-25h-.1m1 15h.1m4-12h-.1m0 13h.1m1-8h-.1m0 6h.1m1 2h-.1m1 5h.1m1-20h-.1m1 6h.1m3-10h-.1m2 21h.1m0-14h-.1m3 7h.1m2-4h-.1m2 10h.1m1-8h-.1m0 11h.1m5-17h-.1m1 16h.1m1-14h-.1m0 6h.1m1-13h-.1m2 24h.1m0 2h-.1m0-20h.1m6 15h-.1m1-11h.1m5 8h-.1m1-6h.1m1 15h-.1m1-14h.1m2-4h-.1m2 20h.1m4-21h-.1m0-8h.1m4 7h-.1m2 13h.1m3-5h-.1m2 11h.1m2-24h-.1m1 21h.1m1-5h-.1m0-6h.1m1-6h-.1m2 5h.1m1 13h-.1m0-11h.1m0 14h-.1m1-18h.1m1 2h-.1m1-5h.1m4-4h-.1m2 20h.1m2-8h-.1m0-9h.1m1-7h-.1m6 2h.1m2 12h-.1m2-2h.1m0-2h-.1m0 5h.1m4-11h-.1m4 5h.1m3-9h-.1m2 11h.1m4-9h-.1m1 17h.1m2 0h-.1m3 4h.1m0-20h-.1m1 27h.1m1-10h-.1m4-3h.1m4-3h-.1m0 13h.1m1-6h-.1m7-1h.1m3-7h-.1m4-10h.1m3 23h-.1m1-3h.1m1-9h-.1m1-6h.1m2-6h-.1m0 26h.1m1-16h-.1m4-9h.1m2 5h-.1m2-5h.1m1 20h-.1m1-23h.1m3 6h-.1m2 24h.1m0-4h-.1m12-24h.1m5 3h-.1m1 17h.1m8-3h-.1m0-15h.1m4 16h-.1m1 7h.1m5 1h-.1m5-14h.1m7 8h-.1m2-7h.1m3-4h-.1m6 12h.1m1 3h-.1m0-27h.1m20 6h-.1m2 13h.1m6-11h-.1m8 19h.1m3-26h-.1m7 3h.1m2 13h-.1m4-12h.1m7 1h-.1m0 24h.1m4-22h-.1m5-7h.1m1 15h-.1m3 6h.1m7-16h-.1m0 22h.1m3-21h-.1m0 6h.1m1-3h-.1m1-6h.1m8 26h-.1m0-13h.1m0-7h-.1m2 16h.1m0-10h-.1m1-12h.1m1 5h-.1m0 6h.1m1 3h-.1m1 3h.1m2-8h-.1m2-8h.1m0-5h-.1m1 30h.1m1-10h-.1m1 11h.1m1-3h-.1m1-13h.1m1 3h-.1m0-11h.1m0 6h-.1m0 10h.1m5-4h-.1m1-4h.1m11 13h-.1m2-1h.1m2-22h-.1m0 13h.1m1-9h-.1m0-6h.1m0 10h-.1m3 16h.1m0-28h-.1m2 21h.1m2-5h-.1m1-13h.1m1 26h-.1m6 1h.1m1-16h-.1m4 12h.1m1 5h-.1m11 15h.1m-2 13h-.1m-3-1h.1m-2-7h-.1m-2-15h.1m0-4h-.1m-2 20h.1m-3-13h-.1m-2 22h.1m0-26h-.1m-2 6h.1m0 10h-.1m-2-5h.1m-5 16h-.1m-3 0h.1m-1-26h-.1m0 13h.1m-3 12h-.1m0-19h.1m-1 15h-.1m-3 3h.1m-1-29h-.1m-15 21h.1m0-12h-.1m-2-9h.1m0 19h-.1m-1 13h.1m-1-11h-.1m-2-14h.1m0 10h-.1m-2 6h.1m0-14h-.1m0 7h.1m-1 3h-.1m-3-11h.1m-2 2h-.1m0-9h.1m-3 13h-.1m-3 11h.1m-6 4h-.1m-1-5h.1m-3-19h-.1m-4-2h.1m-3 20h-.1m-11 8h.1m-2-8h-.1m-5-3h.1m-7 9h-.1m-6-17h.1m-2 17h-.1m-2-15h.1m-4 9h-.1m-1-21h.1m-4 19h-.1m-1-17h.1m-6-1h-.1m-1 8h.1m-6-4h-.1m-6 8h.1m-7-6h-.1m-3 21h.1m0-26h-.1m-7 2h.1m-3-1h-.1m-9 22h.1m-2-16h-.1m-2-3h.1m-2 18h-.1m-10 3h.1m-4-24h-.1m-1 23h.1m-1-14h-.1m-3 6h.1m-3 4h-.1m-1-8h.1m-3 16h-.1m-6-23h.1m-1 20h-.1m-5-15h.1m-3-5h-.1m-8-6h.1m-5 6h-.1m-2 7h.1m-2 13h-.1m-3-5h.1m-2-10h-.1m-2 11h.1m-1-8h-.1m-1-7h.1m0 15h-.1m-3-20h.1m-2 26h-.1m-2-12h.1m-2 2h-.1m-1-6h.1m-1-8h-.1m-1 18h.1m0-24h-.1m-1 6h.1m0 24h-.1m-2-2h.1m-1-3h-.1m0 3h.1m-1-9h-.1m0-6h.1m-1 3h-.1m-5-15h.1m0 6h-.1m-2 5h.1m-4 13h-.1m-2-17h.1m0-8h-.1m-2 0h.1m0 7h-.1m-2 1h.1m-1-2h-.1m0 12h.1m0 13h-.1m-1-8h.1m-3 2h-.1m-1-7h.1m-2 5h-.1m-1-17h.1m-1-2h-.1m0 23h.1m-7-24h-.1m0 10h.1m-1-4h-.1m-1 4h.1m-4-14h-.1m0 15h.1m-1-4h-.1m-1 19h.1m0-25h-.1m-2 14h.1m-2-9h-.1m0 20h.1m-1-5h-.1m0-23h.1m-1 28h-.1m-3-24h.1m0 4h-.1m0 6h.1m-5 12h-.1m-3-10h.1m-3-14h-.1m0-4h.1m-3 18h-.1m-1 5h.1m-1-6h-.1m-2 12h.1m-1-11h-.1m-1-17h.1m0 25h-.1m0-12h.1m-1 8h-.1m-2 0h.1m-1-6h-.1m-1 5h.1m-1-6h-.1m-4 7h.1m0 6h-.1m-5-12h.1m0 13h-.1m0-16h.1m-2 5h-.1m-1 3h.1m0 6h-.1m-1-11h.1m-2 8h-.1m0 4h.1m-2-21h-.1m-1-4h.1m-1 10h-.1m0 3h.1m-2-10h-.1m-1 1h.1m0 10h-.1m-2 3h.1m-2-18h-.1m-2 6h.1m-5 8h-.1m-5-6h.1m0 7h-.1m-1-5h.1m-3-3h-.1m-4-5h.1m0 25h-.1m-5-28h.1m-1 31h-.1m0-25h.1m-9-4h-.1m-1 25h.1m-1-26h-.1m-1 3h.1m-4 2h-.1m-5 25h.1m-1-8h-.1m0-9h.1m-1 3h-.1m-5 2h.1m-2-9h-.1m0 6h.1m-2 13h-.1m0-6h.1m-2-9h-.1m-3 4h.1m0 4h-.1m-2 5h.1m0-7h-.1m-3-4h.1m0-16h-.1m0 28h.1m-3-17h-.1m0 7h.1m0-14h-.1m-1 10h.1m-1-6h-.1m-4-2h.1m0 6h-.1m-3 2h.1m-1 11h-.1m-1 2h.1m-1-19h-.1m-1 6h.1m-1 6h-.1m0-20h.1m-1 9h-.1m-2-7h.1m0 3h-.1m-4 8h.1m-1 9h-.1m0-14h.1m-1 13h-.1m0 4h.1m0-21h-.1m-2 14h.1m-2 6h-.1m-3-15h.1m-2-8h-.1m0 23h.1m-1-12h-.1m0-6h.1m-2 21h-.1m0-25h.1m-2 19h-.1m-3 4h.1m0-2h-.1m-1-14h.1m-3 0h-.1m0-6h.1m-1 11h-.1m0-14h.1m-2 5h-.1m0-1h.1m-2 1h-.1m0 3h.1m-2 17h-.1m-2-22h.1m0 7h-.1m-1-5h.1m-1 18h-.1m-1-15h.1m0-7h-.1m-1 13h.1m-1 4h-.1m0 7h.1m-2-26h-.1m-1 12h.1m0-9h-.1m-1 5h.1m-1 20h-.1m0-23h.1m-2 15h-.1m-1 9h.1m0-27h-.1m0 7h.1m-1 5h-.1m-1 14h.1m-1-25h-.1m-1 25h.1m-1-28h-.1m-1 19h.1m-2 6h-.1m0-10h.1m0 17h-.1m-3-17h.1m0 16h-.1m-1-29h.1m-1 17h-.1m0 4h.1m-1-22h-.1m-2 28h.1m-1-4h-.1m0-8h.1m-2-4h-.1m0-8h.1m-3 0h-.1m0 9h.1m-1 7h-.1m-2-11h.1m-1 4h-.1m-1-4h.1m-1 17h-.1m-2-15h.1m0 13h-.1m0-10h.1m-1-6h-.1m-1 7h.1m-2-15h-.1m-4 23h.1m-2-15h-.1m-1 10h.1m0 11h-.1m-1-19h.1m-1 18h-.1m0-28h.1m-2 14h-.1m-1 13h.1m-1-13h-.1m0-10h.1m-3 11h-.1m-1-12h.1m0-4h-.1m-3 15h.1m0 8h-.1m0-22h.1m0 24h-.1m-2-16h.1m-1 12h-.1m-1 3h.1m-3 6h-.1m-2-28h.1m-1 25h-.1m-1-9h.1m-3-10h-.1m-1 16h.1m-1-17h-.1m-1 8h.1m-3 14h-.1m-1 2h.1m-2-6h-.1m0-18h.1m-2 10h-.1m0 5h.1m-1 1h-.1m0-17h.1m-5 12h-.1m-3 0h.1m0 5h-.1m-2-5h.1m0 1h-.1m-2 12h.1m-2-1h-.1m-1-20h.1m-2 8h-.1m0 3h.1m0 10h-.1m-2-21h.1m-1 6h-.1m-1-2h.1m0 6h-.1m-1 6h.1m0-13h-.1m-1-7h.1m-2-1h-.1m0 14h.1m-1 3h-.1m-1-7h.1m-4 14h-.1m0-17h.1m-1-10h-.1m-1 20h.1m-2-1h-.1m0-8h.1m-1-3h-.1m0-10h.1m-3 13h-.1m-1 11h.1m0-4h-.1m-1-19h.1m-1 10h-.1m0 10h.1m-1 3h-.1m-1-22h.1m-2 28h-.1m-4-8h.1m-2-10h-.1m0 16h.1m-1-11h-.1m0 4h.1m-1-15h-.1m0 24h.1m0-4h-.1m-2 0h.1m0-4h-.1m-1 2h.1m-1-10h-.1m0-3h.1m-2-8h-.1m0 21h.1m-1-17h-.1m-1 2h.1m-2 1h-.1m0 14h.1m0-6h-.1m0-15h.1m-1 28h-.1m-2-7h.1m-1-9h-.1m-1 5h.1m-1-12h-.1m-1-6h.1m0 9h-.1m-1 4h.1m-3 8h-.1m-3 5h.1m-1 4h-.1m-1-8h.1m-2-19h-.1m-1 25h.1m-1-9h-.1m0-11h.1m-1 7h-.1m0-3h.1m-1 11h-.1m0-7h.1m0 4h-.1m0-21h.1m-2 9h-.1m-1 10h.1m0 9h-.1m-1-4h.1m-2-4h-.1m-1 2h.1m-2 2h-.1m0-4h.1m-4-5h-.1m-1-9h.1m-1 7h-.1m-1 11h.1m-3 3h-.1m0-13h.1m0-12h-.1m-1 2h.1m0 19h-.1m0-23h.1m-3 12h-.1m-1 4h.1m-2-7h-.1m0 11h.1m-1 5h-.1m-1-5h.1m0 4h-.1m-1-2h.1m0-11h-.1m-1 17h.1m-3-15h-.1m-3-2h.1m-2 15h-.1m0-14h.1m-1-4h-.1m0-2h.1m-2-2h-.1m0 10h.1m-2 14h-.1m-1-9h.1m0-12h-.1m-3 19h.1m0 2h-.1m-1-9h.1m0-16h-.1m-1 19h.1m-1-4h-.1m0 7h.1m0-15h-.1m0 10h.1m-1-17h-.1m0 19h.1m-1-7h-.1m-1-2h.1m-1-10h-.1m-2 4h.1m0 11h-.1m-7 6h.1m-3-19h-.1m0 9h.1m0 16h-.1m-1-7h.1m-2-2h-.1m-1-22h.1m-4 16h-.1m0 16h.1m-4-15h-.1m0-7h.1m-2 12h-.1m0 7h.1m0-19h-.1m-4 2h.1m-1 20h-.1m-1-3h.1m-2-16h-.1m-1 11h.1m-4-5h-.1m0-4h.1m-1-7h-.1m-2 1h.1m0-4h-.1m-1 14h.1m0 3h-.1m-11-16h.1m0 16h-.1m-1-5h.1m-1 4h-.1m-1-11h.1m-1 19h-.1m-1-11h.1m-1-16h-.1m-1 9h.1m-3 6h-.1m0-17h.1m-1 14h-.1m0-12h.1m0 9h-.1m-2 19h.1m-1-4h-.1m-2-15h.1m-1 16h-.1m0-4h.1m-1-16h-.1m-3 21h.1m-1-14h-.1m-1-8h.1m-4 18h-.1m0-16h.1m-2 9h-.1m-1 12h.1m0-24h-.1m-1 19h.1m-4-13h-.1m-2-9h.1m-5 27h-.1m-2-3h.1m0-14h-.1m-3-9h.1m-1 24h-.1m-1-26h.1m-3 20h-.1m-1-13h.1m0-3h-.1m-2 2h.1m-3 19h-.1m-1 4h.1m-2-23h-.1m-1 25h.1m-1-19h-.1m-1 15h.1m0-1h-.1m0-21h.1m-1 8h-.1m0-4h.1m-1 20h-.1m-2-5h.1m0-5h-.1m-1-18h.1m0 21h-.1m-3-13h.1m-2 0h-.1m-1-3h.1m-2 10h-.1m-1 8h.1m-4 7h-.1m-1-18h.1m0-4h-.1m-2-2h.1m-1 16h-.1m-1-12h.1m-3 11h-.1m-1-9h.1m0-12h-.1m0 20h.1m-6-8h-.1m0-8h.1m-3 7h-.1m0 2h.1m-1-6h-.1m0-2h.1m-2-7h-.1m-1 2h.1m0 6h-.1m-1 21h.1m0-17h-.1m0 13h.1m-3-7h-.1m-1-12h.1m-1 23h-.1m0-14h.1m-1-8h-.1m-2 25h.1m-1-27h-.1m-1 18h.1m0-9h-.1m-2 2h.1m-1-5h-.1m-3-10h.1m-3 26h-.1m0 1h.1m-2-20h-.1m-3 4h.1m-2 13h-.1m-1-3h.1m-2 5h-.1m0-26h.1m-3 14h-.1m0-11h.1m-1 27h-.1m0-20h.1m0-11h-.1m-2 26h.1m0 6h-.1m-1-12h.1m-1 8h-.1m0-9h.1m0 11h-.1m-1-7h.1m0 2h-.1m-3 4h.1m-1-10h-.1m-1-8h.1m-1 8h-.1m0-18h.1m-1 6h-.1m-2-5h.1m-1 21h-.1m-2-14h.1m-1 13h-.1m-1-14h.1m0 3h-.1m0 5h.1m-2 14h-.1m0-3h.1m-1-22h-.1m0 25h.1m-2-1h-.1m-1 1h.1m-1-16h-.1m-1 5h.1m0-2h-.1m-1 7h.1m-2-24h-.1m-2 7h.1m-1 5h-.1m-1 4h.1m-3-4h-.1m-3-1h.1m-1 14h-.1m-1-25h.1m-2 18h-.1m-6-11h.1m-2 8h-.1m-1-9h.1m-3 9h-.1m0-3h.1m-2 11h-.1m-3-14h.1m-1 21h-.1m0-26h.1m-2 18h-.1m0-15h.1m0 5h-.1m-1-8h.1m-2 24h-.1m-2 3h.1m-1 1h-.1m-2-17h.1m0-12h-.1m-2 2h.1m-1 19h-.1m-1-10h.1m0 7h-.1m-1-17h.1m-1 8h-.1m-2 17h.1m0 3h-.1m-1-28h.1m-1 19h-.1m0 5h.1m-2-23h-.1m0 8h.1m0-11h-.1m-4 15h.1m-2-14h-.1m-3 24h.1m0-20h-.1m0-4h.1m-1 28h-.1m0-8h.1m-1-21h-.1m0 8h.1m-2 8h-.1m0 8h.1m-1-17h-.1m0 10h.1m-1-7h-.1m-1 6h.1m-4 8h-.1m-1-6h.1m-2-3h-.1m-3 8h.1m-1 2h-.1m-3-7h.1m0-11h-.1m-1 8h.1m0 9h-.1m0-21h.1m-3-3h-.1m-1 4h.1m-2-2h-.1m0 23h.1m-1-8h-.1m-1-5h.1m0-4h-.1m0 15h.1m-2 1h-.1m0-10h.1m-2 13h-.1m0-6h.1m-3-5h-.1m0 9h.1m-3-20h-.1m-3-4h.1m-1 8h-.1m-3 18h.1m-6 2h-.1m0-4h.1m-1-14h-.1m-1 2h.1m0-5h-.1m-1 4h.1m-5 13h-.1m-1 3h.1m-2-8h-.1m-26 40h.1m2-7h-.1m2 7h.1m2-9h-.1m4 9h.1m3 0h-.1m0-15h.1m3 13h-.1m3-2h.1m0-17h-.1m1 5h.1m0 17h-.1m1-7h.1m5-23h-.1m0 5h.1m3 19h-.1m1-2h.1m1-21h-.1m7 14h.1m1-2h-.1m0-13h.1m0 21h-.1m1-4h.1m1 5h-.1m1 5h.1m0-27h-.1m3 29h.1m0-28h-.1m0 17h.1m2-15h-.1m1 11h.1m3-12h-.1m1 25h.1m1-26h-.1m4 30h.1m2-16h-.1m3 12h.1m0-28h-.1m2 17h.1m2-11h-.1m5 10h.1m1-9h-.1m1 4h.1m0 4h-.1m2 4h.1m1-7h-.1m1 4h.1m2 10h-.1m0-8h.1m4 14h-.1m0-12h.1m1-11h-.1m1 21h.1m0-18h-.1m2 17h.1m2 2h-.1m0-24h.1m1-4h-.1m2 3h.1m3-3h-.1m0 5h.1m2 13h-.1m0-20h.1m3 9h-.1m7-2h.1m0 6h-.1m0-9h.1m1 19h-.1m1-21h.1m0 9h-.1m1-11h.1m0 5h-.1m1 19h.1m4-8h-.1m0-7h.1m1 19h-.1m0-24h.1m0 9h-.1m1-8h.1m2 19h-.1m2 0h.1m4 7h-.1m1-17h.1m1-14h-.1m3 16h.1m1-3h-.1m0-7h.1m2-6h-.1m1 7h.1m0 16h-.1m3 3h.1m2-7h-.1m0-8h.1m0 11h-.1m0-14h.1m0 17h-.1m2-3h.1m0 6h-.1m1-8h.1m0-6h-.1m0-12h.1m0 2h-.1m1 5h.1m0 10h-.1m0 8h.1m3-23h-.1m2 1h.1m1-5h-.1m1 7h.1m1-6h-.1m3 18h.1m1-13h-.1m2-2h.1m0 4h-.1m1 3h.1m1 18h-.1m1-10h.1m0-19h-.1m0 9h.1m2 0h-.1m0 2h.1m1-4h-.1m3 4h.1m0 11h-.1m1-6h.1m0 8h-.1m7-7h.1m1 3h-.1m1-4h.1m1-9h-.1m3 16h.1m1-11h-.1m1-12h.1m2 5h-.1m1 5h.1m0-7h-.1m0 13h.1m3 8h-.1m0 3h.1m2 2h-.1m0-21h.1m1 2h-.1m1 11h.1m1-15h-.1m1 9h.1m1 8h-.1m1 2h.1m1-10h-.1m1-14h.1m0 11h-.1m0 7h.1m1-15h-.1m2 7h.1m0-2h-.1m3 1h.1m2 5h-.1m1 14h.1m0-20h-.1m1 7h.1m2 12h-.1m0-26h.1m5 3h-.1m2 14h.1m0 11h-.1m2-16h.1m0 14h-.1m1-8h.1m1 5h-.1m1 5h.1m0-20h-.1m1 10h.1m1 3h-.1m1-22h.1m1 13h-.1m0-3h.1m0-11h-.1m2 16h.1m0 14h-.1m3-21h.1m2 12h-.1m1 8h.1m0-10h-.1m1-2h.1m1 13h-.1m0-2h.1m1-18h-.1m0-6h.1m3 9h-.1m1 15h.1m1-28h-.1m1 13h.1m0 16h-.1m1-4h.1m1-17h-.1m1 9h.1m1-8h-.1m2 16h.1m2 5h-.1m0-16h.1m4-9h-.1m2-3h.1m0 27h-.1m1-21h.1m1-2h-.1m0 8h.1m2 1h-.1m1 8h.1m1-6h-.1m2-9h.1m0 19h-.1m2-16h.1m0-4h-.1m0 18h.1m1-23h-.1m1 18h.1m1-19h-.1m2 8h.1m0 2h-.1m0 7h.1m3 0h-.1m1-12h.1m3 0h-.1m2 24h.1m0-22h-.1m3 12h.1m3 2h-.1m3-8h.1m1 5h-.1m1-1h.1m2 3h-.1m0-20h.1m1 25h-.1m0-26h.1m1 17h-.1m2-14h.1m1 5h-.1m0 20h.1m1-24h-.1m0 21h.1m4-24h-.1m0 12h.1m0 15h-.1m1-2h.1m0-10h-.1m3 0h.1m2 1h-.1m0-9h.1m1-8h-.1m0 19h.1m1 4h-.1m1 6h.1m3-14h-.1m1-7h.1m2 2h-.1m1-7h.1m1 1h-.1m0 8h.1m5-8h-.1m0 27h.1m2-27h-.1m1 25h.1m3 1h-.1m3-4h.1m2 1h-.1m1-25h.1m0 17h-.1m2 2h.1m1-10h-.1m1-5h.1m0 17h-.1m2 0h.1m0-15h-.1m1 9h.1m0 14h-.1m0-17h.1m0 15h-.1m2-15h.1m1 4h-.1m1-2h.1m0-10h-.1m0-1h.1m1 16h-.1m1 2h.1m1-13h-.1m1 7h.1m0-13h-.1m2 0h.1m2 0h-.1m0 18h.1m1 3h-.1m0-5h.1m4-15h-.1m1 1h.1m1 4h-.1m0 17h.1m0-12h-.1m2 7h.1m1-13h-.1m2 12h.1m1-20h-.1m2 23h.1m1 7h-.1m2-12h.1m2 0h-.1m1 10h.1m0-12h-.1m1 5h.1m1 4h-.1m0-8h.1m1-10h-.1m1 13h.1m2-8h-.1m1-11h.1m2 17h-.1m2-3h.1m0-7h-.1m4 0h.1m1 11h-.1m2-8h.1m0-12h-.1m2 11h.1m2-5h-.1m1 6h.1m2 9h-.1m1-10h.1m2 5h-.1m3-7h.1m2-6h-.1m1 5h.1m2 11h-.1m2-7h.1m1 14h-.1m1-21h.1m1 18h-.1m2-8h.1m2 2h-.1m1-10h.1m0 22h-.1m1-30h.1m1 13h-.1m2 15h.1m0-28h-.1m1 19h.1m0-9h-.1m2-3h.1m3-1h-.1m2 25h.1m3-1h-.1m0-27h.1m2 29h-.1m1-31h.1m3 1h-.1m0 27h.1m1-4h-.1m0-23h.1m1 14h-.1m1 10h.1m1-14h-.1m1-6h.1m2-4h-.1m2 25h.1m2-17h-.1m1 13h.1m1-9h-.1m3-4h.1m0 17h-.1m2-14h.1m0 13h-.1m1-6h.1m0-14h-.1m3 16h.1m1-4h-.1m0-12h.1m1-6h-.1m1 10h.1m1 15h-.1m1-2h.1m1-7h-.1m1-4h.1m3 6h-.1m2-11h.1m0-7h-.1m1 23h.1m3-7h-.1m1 6h.1m1-9h-.1m2 14h.1m0-15h-.1m1-5h.1m2 3h-.1m2 12h.1m0-14h-.1m3 18h.1m3-6h-.1m0-7h.1m1 9h-.1m1 4h.1m0-25h-.1m1 29h.1m1-24h-.1m2 4h.1m0 6h-.1m1-13h.1m2 17h-.1m0-6h.1m2-4h-.1m0 18h.1m1-8h-.1m3 9h.1m0-21h-.1m1 22h.1m1-19h-.1m0 6h.1m2-5h-.1m0 3h.1m2-6h-.1m0 12h.1m1 11h-.1m0-21h.1m2-7h-.1m3 23h.1m0-14h-.1m0-12h.1m1 5h-.1m1 12h.1m1 8h-.1m4-26h.1m0 6h-.1m2 24h.1m2-2h-.1m0-26h.1m1 3h-.1m0 4h.1m1 22h-.1m1-15h.1m1-11h-.1m0 27h.1m1-5h-.1m1-10h.1m2-15h-.1m1 21h.1m2-19h-.1m4 11h.1m0-7h-.1m3 10h.1m1 7h-.1m3 2h.1m2-21h-.1m1 10h.1m4-5h-.1m2 5h.1m1-1h-.1m2 4h.1m0-7h-.1m1 14h.1m2-13h-.1m1 18h.1m2-19h-.1m0-7h.1m2-2h-.1m2 14h.1m0-2h-.1m0-6h.1m1 13h-.1m1 10h.1m0-4h-.1m1-12h.1m1 8h-.1m1-3h.1m0-14h-.1m0 7h.1m2 4h-.1m1 3h.1m1 11h-.1m1-16h.1m2 12h-.1m2 4h.1m0-2h-.1m2-1h.1m0-16h-.1m2 11h.1m3-9h-.1m2-8h.1m1 1h-.1m0-7h.1m1 29h-.1m3-4h.1m1-2h-.1m1-12h.1m1 18h-.1m2-15h.1m1 16h-.1m0-12h.1m1-7h-.1m2 6h.1m0-3h-.1m0-3h.1m6-5h-.1m2 4h.1m0 14h-.1m0-22h.1m3 9h-.1m0 10h.1m1-5h-.1m1-5h.1m2 17h-.1m3-16h.1m2 18h-.1m2-12h.1m3-11h-.1m2 16h.1m2-2h-.1m2 1h.1m2-2h-.1m1-9h.1m1-7h-.1m1 13h.1m1 7h-.1m3 0h.1m2-21h-.1m0 16h.1m1-3h-.1m1-5h.1m0-10h-.1m3 21h.1m1-15h-.1m0 18h.1m0-24h-.1m5 18h.1m0-17h-.1m3 20h.1m0-3h-.1m4 6h.1m1-16h-.1m2 3h.1m0-4h-.1m0 15h.1m1-10h-.1m2 10h.1m3-22h-.1m2 9h.1m1 19h-.1m2-10h.1m0 11h-.1m2-25h.1m1 24h-.1m1-22h.1m0-3h-.1m3 3h.1m1 16h-.1m5 1h.1m1-5h-.1m1 5h.1m1-14h-.1m1 12h.1m1 7h-.1m2-30h.1m1 12h-.1m2-9h.1m2 2h-.1m3 20h.1m1-2h-.1m2 7h.1m4-15h-.1m0-6h.1m0-4h-.1m3 25h.1m0-6h-.1m7-4h.1m2 8h-.1m1-18h.1m2 2h-.1m2 9h.1m1 7h-.1m2-19h.1m1 12h-.1m1-19h.1m2 26h-.1m1-17h.1m1 16h-.1m1-18h.1m3 16h-.1m3-11h.1m2-1h-.1m0 7h.1m1 10h-.1m0-24h.1m2 16h-.1m1 6h.1m3-21h-.1m0 15h.1m0 7h-.1m1-14h.1m3 4h-.1m5-11h.1m0-2h-.1m2 10h.1m0 9h-.1m1 4h.1m3-1h-.1m3-6h.1m2-12h-.1m3-3h.1m1 5h-.1m2 6h.1m4 1h-.1m1 9h.1m1-7h-.1m0-12h.1m1 9h-.1m0-4h.1m1-8h-.1m3 6h.1m3 10h-.1m1-8h.1m4 7h-.1m0 5h.1m2-22h-.1m1 21h.1m0-17h-.1m1 7h.1m0 2h-.1m3-3h.1m6-14h-.1m3 24h.1m4-11h-.1m1 2h.1m3 12h-.1m1-11h.1m2 14h-.1m2-11h.1m4 8h-.1m3-9h.1m1 13h-.1m0-25h.1m1 8h-.1m1 14h.1m3-4h-.1m1-23h.1m1 3h-.1m1 10h.1m1-10h-.1m3 8h.1m8 1h-.1m1 2h.1m2-5h-.1m0-9h.1m2 14h-.1m1 17h.1m0-29h-.1m2 10h.1m8-9h-.1m12 3h.1m2 15h-.1m6-5h.1m5-8h-.1m1 22h.1m4-28h-.1m4 10h.1m5 7h-.1m0-15h.1m5 20h-.1m5-4h.1m2 9h-.1m0-16h.1m4 6h-.1m1-16h.1m5 0h-.1m1 23h.1m0-16h-.1m3 6h.1m7 9h-.1m2-20h.1m3 19h-.1m5-6h.1m2-5h-.1m9 12h.1m1-13h-.1m4 4h.1m4 15h-.1m4-29h.1m1 26h-.1m5-3h.1m3-19h-.1m4 13h.1m4-16h-.1m4 24h.1m1-14h-.1m6 8h.1m6 5h-.1m3-2h.1m7-12h-.1m1-2h.1m1 19h-.1m0-24h.1m5 2h-.1m2 7h.1m4-8h-.1m1 11h.1m0-4h-.1m1-2h.1m0-12h-.1m0 28h.1m3-1h-.1m6-7h.1m1-2h-.1m1-4h.1m2 14h-.1m1-24h.1m0 5h-.1m2 9h.1m0-11h-.1m1 18h.1m0 4h-.1m3-20h.1m1 1h-.1m2-6h.1m1-3h-.1m3 26h.1m0-25h-.1m1 15h.1m4 3h-.1m3 6h.1m1-25h-.1m2 30h.1m1-19h-.1m9 6h.1m1 3h-.1m0-11h.1m1 13h-.1m4 5h.1m2-10h-.1m1 3h.1m1-16h-.1m3 22h.1m0-7h-.1m3-9h.1m1-4h-.1m0-2h.1m0 23h-.1m2-21h.1m0 11h-.1m4-1h.1m18 33h-.1m-4 0h.1m0-6h-.1m-2-1h.1m-1 9h-.1m-6 2h.1m-1-13h-.1m0-8h.1m-1 23h-.1m-4 5h.1m-3-12h-.1m-12-17h.1m0 3h-.1m-1 24h.1m0-11h-.1m0-4h.1m-2 8h-.1m0-14h.1m0 19h-.1m-4 2h.1m-1-5h-.1m0-6h.1m-1-3h-.1m0 11h.1m-4-13h-.1m-2 14h.1m-1 2h-.1m-1-23h.1m-1 12h-.1m-1 8h.1m-3-20h-.1m0 25h.1m-4-5h-.1m-2 1h.1m-1 5h-.1m-1-18h.1m-5-11h-.1m0 27h.1m-1-15h-.1m-4 8h.1m-1-8h-.1m-1-7h.1m0 23h-.1m-1-20h.1m0-5h-.1m-1 4h.1m-2 20h-.1m-7-26h.1m-2 21h-.1m-4-11h.1m-1 11h-.1m-2 1h.1m-2-3h-.1m0-9h.1m-1-7h-.1m-1 25h.1m-1-11h-.1m-1 13h.1m-3-5h-.1m-4 3h.1m-2-10h-.1m-2 10h.1m-1-21h-.1m-2 20h.1m0-11h-.1m-2-17h.1m-1 20h-.1m-9 10h.1m0-15h-.1m-4-5h.1m-4-3h-.1m-3-5h.1m-5-1h-.1m-1 23h.1m-6-13h-.1m-2 7h.1m-2 7h-.1m-4 5h.1m-2-3h-.1m-3-4h.1m-5 5h-.1m-2-10h.1m-1-12h-.1m-1 20h.1m-13-22h-.1m-2 18h.1m-3-13h-.1m-1 15h.1m-2-23h-.1m-2 18h.1m-1 3h-.1m-1-15h.1m0 8h-.1m-3 15h.1m-4-19h-.1m-7 4h.1m-5 7h-.1m-1-14h.1m-2 12h-.1m-2-20h.1m-3 7h-.1m-3 18h.1m-3-9h-.1m-1 11h.1m-1-3h-.1m-3-1h.1m-4-6h-.1m-10 11h.1m-3-5h-.1m-3 3h.1m-2-6h-.1m-1-13h.1m-1 10h-.1m-2 8h.1m-1-10h-.1m0-12h.1m-2 17h-.1m-2-12h.1m0 10h-.1m-1-13h.1m-2 2h-.1m-1 6h.1m-2-11h-.1m-1 23h.1m0-26h-.1m-3 29h.1m0-3h-.1m-1-9h.1m-2 5h-.1m-1-18h.1m-1 2h-.1m-1-6h.1m-3 6h-.1m0 24h.1m-1-29h-.1m-1 31h.1m-1-25h-.1m-4 9h.1m-4-12h-.1m-6 12h.1m-2-9h-.1m-1 22h.1m-1-6h-.1m-4-6h.1m-2 4h-.1m-2 11h.1m-1-30h-.1m-2 30h.1m-3-22h-.1m-1 21h.1m0-30h-.1m-8 6h.1m-2 2h-.1m0 11h.1m-2 9h-.1m-11-26h.1m-1 28h-.1m0-6h.1m-2-7h-.1m0 3h.1m-1-6h-.1m-1 9h.1m-1-6h-.1m-1 4h.1m-1-9h-.1m0 2h.1m0-8h-.1m-1 21h.1m-1 2h-.1m-3-3h.1m-1-12h-.1m-2 8h.1m0-17h-.1m-2-6h.1m0 14h-.1m-4 14h.1m-3-3h-.1m-1-15h.1m-3-3h-.1m0 20h.1m0 2h-.1m-2-4h.1m0-12h-.1m0 5h.1m-3-4h-.1m0 14h.1m0-27h-.1m-3 21h.1m-2 4h-.1m-4-7h.1m-2 5h-.1m-1 3h.1m-2-13h-.1m0-6h.1m0 3h-.1m-1 16h.1m-1-24h-.1m-4 11h.1m-2 8h-.1m-2-19h.1m-1 10h-.1m0-6h.1m-1 20h-.1m0-25h.1m-1 19h-.1m-2-1h.1m-3 7h-.1m-1-19h.1m-2 19h-.1m0-12h.1m-2 8h-.1m0-22h.1m-2 3h-.1m-2 0h.1m-1 19h-.1m-2-23h.1m-2 29h-.1m-1-21h.1m-1 5h-.1m-4 8h.1m-1-15h-.1m-6-4h.1m-1 9h-.1m-6 1h.1m-1 8h-.1m-1-3h.1m-1 14h-.1m-1-31h.1m-2 29h-.1m-1-20h.1m0 4h-.1m-2 18h.1m0-3h-.1m-1-7h.1m-9 0h-.1m-1 8h.1m0-22h-.1m-1 6h.1m-1 15h-.1m0-12h.1m-2-2h-.1m0-10h.1m0 17h-.1m-2-9h.1m-1-11h-.1m-1 17h.1m-1 9h-.1m0-11h.1m-2 7h-.1m-2 1h.1m-2-15h-.1m-1 13h.1m0 6h-.1m-1-19h.1m0 17h-.1m-2-12h.1m-1-12h-.1m-4 11h.1m-4-9h-.1m-1 20h.1m-4 3h-.1m-2-26h.1m0 6h-.1m0 14h.1m-1-17h-.1m-1 23h.1m0 2h-.1m0-26h.1m-1 5h-.1m-1-7h.1m-2 8h-.1m0-6h.1m-1-2h-.1m-2 11h.1m0-3h-.1m-2 10h.1m-1-8h-.1m0 9h.1m-1-18h-.1m-1 26h.1m-1-24h-.1m-3 0h.1m0 7h-.1m-4 10h.1m-2-16h-.1m-1 5h.1m0 13h-.1m-1-9h.1m-3-7h-.1m-1 15h.1m-3-3h-.1m-2 6h.1m0-22h-.1m-1 11h.1m0-12h-.1m-5 20h.1m0-10h-.1m-2 18h.1m-4-20h-.1m0-8h.1m-1 2h-.1m-2 5h.1m-3-3h-.1m0 5h.1m-2 21h-.1m-1-19h.1m0 6h-.1m-1-1h.1m-1 14h-.1m-1-27h.1m0 10h-.1m-2-7h.1m0 17h-.1m-1-19h.1m-3 25h-.1m-3-25h.1m-1 23h-.1m0-18h.1m0 7h-.1m-1-2h.1m0 7h-.1m-2-20h.1m-1 20h-.1m0-14h.1m0 4h-.1m-3 8h.1m0-3h-.1m0 6h.1m-1-15h-.1m-1 11h.1m-1 9h-.1m-1-5h.1m-1-2h-.1m-1-20h.1m0 3h-.1m-1 25h.1m-1-26h-.1m-4 11h.1m-2-8h-.1m-1 4h.1m-2 2h-.1m-1 8h.1m-1 11h-.1m-1-17h.1m0 3h-.1m0 12h.1m-1-28h-.1m-2 27h.1m-2-10h-.1m-1-15h.1m-4 18h-.1m-3-15h.1m-3 6h-.1m-1 16h.1m-1-12h-.1m-1-13h.1m0 18h-.1m-1-9h.1m-2-2h-.1m-1 19h.1m-1-12h-.1m-6-17h.1m0 21h-.1m-1-5h.1m0 1h-.1m-3 1h.1m-3 0h-.1m-2 7h.1m0-22h-.1m0 11h.1m-1-6h-.1m-2 10h.1m-1-16h-.1m0 27h.1m-1 1h-.1m0-6h.1m0-16h-.1m-2 21h.1m0-17h-.1m-3-12h.1m-2 18h-.1m0-10h.1m0 12h-.1m-2-17h.1m-1 12h-.1m-2 14h.1m0-13h-.1m-2 8h.1m0-10h-.1m0 16h.1m0-26h-.1m-2 2h.1m-2 8h-.1m-1-10h.1m-3 24h-.1m0-16h.1m-2-10h-.1m-2 25h.1m-2 0h-.1m-2-19h.1m-2 13h-.1m0-11h.1m-1-8h-.1m-3-1h.1m-1 4h-.1m-1 20h.1m0-12h-.1m0 7h.1m0-13h-.1m-5 10h.1m-2-1h-.1m-1-9h.1m-3-8h-.1m-1 28h.1m-1-14h-.1m-4 15h.1m-1-20h-.1m0 11h.1m-2-5h-.1m-1 15h.1m0-11h-.1m-2-13h.1m-1 16h-.1m-4-14h.1m-3 21h-.1m-3-8h.1m0-9h-.1m-2 4h.1m-2 12h-.1m0-17h.1m0 20h-.1m-3-15h.1m-2 13h-.1m-2 2h.1m-1-25h-.1m0 8h.1m-1-14h-.1m-1 13h.1m-1-12h-.1m-1 10h.1m0-8h-.1m0 17h.1m-1 10h-.1m-2-4h.1m-2-1h-.1m-2-10h.1m-3 11h-.1m-1-22h.1m-1 2h-.1m-1-3h.1m0 7h-.1m-2-1h.1m-1 18h-.1m-1-1h.1m0-16h-.1m-1 4h.1m-1-11h-.1m0 1h.1m-1 23h-.1m0-5h.1m-1-8h-.1m-3-10h.1m0 4h-.1m-1 23h.1m0-6h-.1m-1-23h.1m-1 19h-.1m-2-3h.1m-1 7h-.1m-1 3h.1m-1-26h-.1m-1 5h.1m0-3h-.1m-2 3h.1m0-6h-.1m0 8h.1m0 16h-.1m-1-13h.1m0 6h-.1m-2 14h.1m-3-10h-.1m-3-15h.1m-1 20h-.1m-1-26h.1m0 5h-.1m-1 1h.1m0 18h-.1m-1-6h.1m-2-9h-.1m0 14h.1m-2 0h-.1m-2 3h.1m-1-4h-.1m0-10h.1m-1 13h-.1m-1 1h.1m-1-23h-.1m0 14h.1m-1 4h-.1m0-7h.1m0 5h-.1m-1-15h.1m-2 18h-.1m-1-18h.1m-6 24h-.1m0-26h.1m-1 1h-.1m-6-4h.1m0 31h-.1m-1-9h.1m-6 5h-.1m-1-18h.1m0-6h-.1m-3 9h.1m-1-6h-.1m-1-4h.1m-5 1h-.1m-1-2h.1m-1 2h-.1m-1-1h.1m-3 11h-.1m-1-2h.1m0-7h-.1m-4 20h.1m0-15h-.1m-1 9h.1m-2 4h-.1m-1 2h.1m-1-6h-.1m-1 4h.1m-1 10h-.1m0-12h.1m-1-6h-.1m-3-5h.1m-1-3h-.1m0 20h.1m-3 3h-.1m0-23h.1m-4 21h-.1m0-7h.1m0-18h-.1m-4 10h.1m0 5h-.1m-1-7h.1m-2 1h-.1m-1 1h.1m-1-8h-.1m-2 3h.1m0 8h-.1m-1-4h.1m0 17h-.1m-2-5h.1m-1-15h-.1m-2 3h.1m-1-4h-.1m0 24h.1m-1-6h-.1m-1 6h.1m-3-18h-.1m-2 9h.1m-1 6h-.1m-1-20h.1m0 16h-.1m-1-5h.1m-1-13h-.1m-2-6h.1m0 15h-.1m-2 9h.1m-1-4h-.1m0 10h.1m-1-17h-.1m0-3h.1m-1 10h-.1m-1-4h.1m-1 14h-.1m0-18h.1m0-10h-.1m-1 24h.1m-2-20h-.1m0 4h.1m0 20h-.1m-1-2h.1m-5-20h-.1m-1-4h.1m-4 6h-.1m0 18h.1m-2-4h-.1m0-14h.1m-1 21h-.1m-1-30h.1m-1 6h-.1m-1 14h.1m0-17h-.1m-4 22h.1m-1-8h-.1m-2-9h.1m0-8h-.1m-4 4h.1m-2 3h-.1m-2 18h.1m-1 6h-.1m-2-16h.1m-1-7h-.1m-3-2h.1m0 9h-.1m-3-4h.1m-6 19h-.1m-1-3h.1m-1-16h-.1m0-4h.1m-2 22h-.1m-1-23h.1m-3-3h-.1m-1 12h.1m-1-7h-.1m-1 10h.1m0 7h-.1m-1-11h.1m-4-14h-.1m-1 3h.1m0 19h-.1m-1 6h.1m0-15h-.1m0-13h.1m-1 2h-.1m-1 23h.1m-1-2h-.1m-1-14h.1m-1 20h-.1m0-14h.1m-3 15h-.1m0-20h.1m0 11h-.1m-1-19h.1m-1-3h-.1m0 7h.1m-1 3h-.1m-2 21h.1m-1-13h-.1m0-13h.1m-1 1h-.1m-1 14h.1m0-6h-.1m-1 11h.1m0-5h-.1m-2-19h.1m-1 7h-.1m0 5h.1m-2-4h-.1m-1 7h.1m0-3h-.1m-3-3h.1m-2-6h-.1m-1 21h.1m-3-2h-.1m-1-15h.1m0-2h-.1m-1 4h.1m0 19h-.1m-3-21h.1m-3 20h-.1m-2-1h.1m0-25h-.1m-1 10h.1m-3 0h-.1m-1 17h.1m-2-2h-.1m-1-16h.1m-2 1h-.1m0 12h.1m0-15h-.1m-1 8h.1m-2 4h-.1m-1-3h.1m-1 10h-.1m-1-9h.1m-2 7h-.1m-2-12h.1m-3 13h-.1m-4-5h.1m0-13h-.1m-1 20h.1m-1-23h-.1m-2 26h.1m0-14h-.1m-1-16h.1m0 12h-.1m-1 15h.1m0-13h-.1m-2-9h.1m-1 24h-.1m-2-3h.1m-1-10h-.1m-2 11h.1m-2-3h-.1m-1-8h.1m-2-1h-.1m0-13h.1m-3 10h-.1m0 10h.1m0-6h-.1m-1 2h.1m0-20h-.1m-1 26h.1m-1-16h-.1m-2 16h.1m-1-14h-.1m-2-8h.1m-1 27h-.1m0-14h.1m0 8h-.1m-1-2h.1m-3-4h-.1m-1 9h.1m-1-27h-.1m-1 25h.1m-1-22h-.1m-1 5h.1m-1-9h-.1m0 28h.1m-1 2h-.1m-1-13h.1m-2 3h-.1m0-12h.1m-3 18h-.1m0-25h.1m-1 8h-.1m-1 11h.1m-1 4h-.1m0-15h.1m-1 20h-.1m-1-27h.1m0 6h-.1m-1 17h.1m-3 7h-.1m0-13h.1m-2 3h-.1m0-2h.1m0 8h-.1m-2-17h.1m-4-10h-.1m-1 3h.1m-3 28h-.1m0-23h.1m-1 11h-.1m-1-10h.1m0 21h-.1m-3-1h.1m0-17h-.1m-2-3h.1m-1-4h-.1m0 22h.1m0-7h-.1m-1 6h.1m-1-16h-.1m0 19h.1m-1-23h-.1m-2 19h.1m0-23h-.1m-3 8h.1m-1 6h-.1m-2-13h.1m0 16h-.1m-3 5h.1m0-10h-.1m-3-3h.1m-2-10h-.1m-1 8h.1m-1 18h-.1m-1-20h.1m-3-4h-.1m-4 19h.1m-11-15h-.1m0 17h.1m-1-11h-.1m-3-7h.1m-6 24h-.1m-12 13h.1m0 9h-.1m4-17h.1m1 20h-.1m2-11h.1m1 7h-.1m2-7h.1m0 17h-.1m4-18h.1m2-5h-.1m0 13h.1m1-6h-.1m5 8h.1m2-4h-.1m1-17h.1m1 25h-.1m3-22h.1m1 16h-.1m0 2h.1m2-18h-.1m1 2h.1m2 24h-.1m2-11h.1m1 9h-.1m1 3h.1m1-27h-.1m1 5h.1m2-4h-.1m0 25h.1m2-22h-.1m2 9h.1m1-9h-.1m1 0h.1m1 5h-.1m3-10h.1m1 16h-.1m1 11h.1m2 0h-.1m1-20h.1m1 8h-.1m2-1h.1m0-6h-.1m1-3h.1m1 5h-.1m1 5h.1m1 4h-.1m0-2h.1m2 9h-.1m0-28h.1m3 3h-.1m3-1h.1m1 11h-.1m2 18h.1m2-1h-.1m1-10h.1m2-14h-.1m1 19h.1m2 5h-.1m0-13h.1m3 2h-.1m1 3h.1m0-13h-.1m2-4h.1m0 9h-.1m1-2h.1m1 8h-.1m1 10h.1m0-2h-.1m2-10h.1m1-13h-.1m1 6h.1m1-5h-.1m1 13h.1m2 3h-.1m1 1h.1m2 6h-.1m1-13h.1m1-16h-.1m3 19h.1m0-18h-.1m0 29h.1m2-2h-.1m1-9h.1m1-15h-.1m2 4h.1m2-6h-.1m1 19h.1m3 1h-.1m1-5h.1m0-14h-.1m1 10h.1m5 11h-.1m1-14h.1m0-4h-.1m1 24h.1m0-12h-.1m1-10h.1m1-4h-.1m0 18h.1m1 3h-.1m0-6h.1m2-17h-.1m1 22h.1m1-22h-.1m1 24h.1m0-10h-.1m1 3h.1m1-17h-.1m0 18h.1m0-14h-.1m0 18h.1m1 6h-.1m1-14h.1m1 3h-.1m3 6h.1m0-3h-.1m2-5h.1m1-3h-.1m1 12h.1m0-27h-.1m6 28h.1m1-9h-.1m1 11h.1m2-17h-.1m1-10h.1m1 25h-.1m0-4h.1m1 3h-.1m0-10h.1m10-12h-.1m1 11h.1m2 15h-.1m0-9h.1m1-14h-.1m1 9h.1m5 0h-.1m5 0h.1m1-6h-.1m0 11h.1m1-14h-.1m0 3h.1m1 8h-.1m2 5h.1m1-21h-.1m1 12h.1m0-7h-.1m2 7h.1m1 16h-.1m4-27h.1m1 4h-.1m1 13h.1m1-8h-.1m0-2h.1m1 16h-.1m1-14h.1m0 3h-.1m2-4h.1m3 17h-.1m2-18h.1m2-8h-.1m3 15h.1m1-8h-.1m3-9h.1m4 18h-.1m1 4h.1m5-16h-.1m0-6h.1m0 14h-.1m1-9h.1m2-4h-.1m1 16h.1m1 6h-.1m0-11h.1m0 3h-.1m1 16h.1m1-17h-.1m1 17h.1m1-12h-.1m1 4h.1m0-10h-.1m0-2h.1m1 4h-.1m0 6h.1m0-1h-.1m1 6h.1m0-25h-.1m1 12h.1m6-9h-.1m2 22h.1m3-15h-.1m1 16h.1m1 3h-.1m0-21h.1m1-6h-.1m3 23h.1m0-4h-.1m2 5h.1m2-25h-.1m2 14h.1m0-9h-.1m1 6h.1m2 6h-.1m2 11h.1m1-28h-.1m0 15h.1m1-16h-.1m1 23h.1m0-20h-.1m1-5h.1m2 13h-.1m1 17h.1m0-19h-.1m1 4h.1m3 3h-.1m1-9h.1m0 13h-.1m1 10h.1m4-32h-.1m1 11h.1m0-4h-.1m0 11h.1m1-9h-.1m2 12h.1m0-13h-.1m1 17h.1m0 5h-.1m1-17h.1m2-2h-.1m0 17h.1m2-19h-.1m2 2h.1m1-6h-.1m0 20h.1m1-25h-.1m0 13h.1m0 8h-.1m1-8h.1m1-11h-.1m0 18h.1m0 2h-.1m1 9h.1m1-15h-.1m1-6h.1m0 3h-.1m1 5h.1m2-17h-.1m2 10h.1m3 4h-.1m1 8h.1m1-21h-.1m0 30h.1m3-14h-.1m0-11h.1m1 22h-.1m1 0h.1m5-24h-.1m1 11h.1m0 6h-.1m1-4h.1m2 6h-.1m1 6h.1m0-25h-.1m3 6h.1m2 2h-.1m1 2h.1m1-8h-.1m1 23h.1m2-1h-.1m3-13h.1m3 15h-.1m0-16h.1m1 8h-.1m0-19h.1m0 5h-.1m2-4h.1m1 7h-.1m2 9h.1m0-13h-.1m2-6h.1m0 24h-.1m2 4h.1m2-28h-.1m0 26h.1m2 2h-.1m0-20h.1m0 2h-.1m2 17h.1m0-19h-.1m3 18h.1m0-25h-.1m1 20h.1m1 3h-.1m2-24h.1m1 12h-.1m1 18h.1m0-8h-.1m0-20h.1m2 14h-.1m0 7h.1m2-4h-.1m1-16h.1m6 15h-.1m1-13h.1m0 16h-.1m1-12h.1m5-3h-.1m2-7h.1m1 2h-.1m1 20h.1m0 4h-.1m3-5h.1m1-4h-.1m1-3h.1m5-15h-.1m1 11h.1m2-9h-.1m0 6h.1m0 9h-.1m1 15h.1m2-17h-.1m1 9h.1m2 1h-.1m3-5h.1m3-3h-.1m0-4h.1m1-3h-.1m2 18h.1m1-5h-.1m3-14h.1m0 7h-.1m0-12h.1m1 25h-.1m3-22h.1m1-6h-.1m1 28h.1m0-18h-.1m2 13h.1m0-10h-.1m1-11h.1m1 2h-.1m5 20h.1m1-15h-.1m0 5h.1m2 11h-.1m0-23h.1m3 25h-.1m1-19h.1m2 23h-.1m1-15h.1m1 11h-.1m0-5h.1m1-8h-.1m0 6h.1m2-2h-.1m2-5h.1m1 11h-.1m2-15h.1m2 1h-.1m1 7h.1m0 8h-.1m1-16h.1m0 21h-.1m2 0h.1m1-8h-.1m1 7h.1m1-28h-.1m1 8h.1m3 7h-.1m0 14h.1m1-23h-.1m1 13h.1m1-9h-.1m0-10h.1m0 2h-.1m3-1h.1m0 5h-.1m0 24h.1m1-8h-.1m0 5h.1m1-12h-.1m1 14h.1m0-8h-.1m0 6h.1m3-16h-.1m0 16h.1m4-19h-.1m0 20h.1m1-3h-.1m1 5h.1m0-6h-.1m1-18h.1m0 14h-.1m0-11h.1m1 5h-.1m0 9h.1m3 6h-.1m2-16h.1m1 10h-.1m3 2h.1m2-10h-.1m2-7h.1m2 13h-.1m2-22h.1m1 26h-.1m0-23h.1m6 24h-.1m1-9h.1m2-5h-.1m3 18h.1m1-8h-.1m1-18h.1m3 7h-.1m0 2h.1m2-9h-.1m0 17h.1m1 8h-.1m1-14h.1m0 6h-.1m1-2h.1m1-5h-.1m2-13h.1m2 26h-.1m2-6h.1m0-21h-.1m4 3h.1m0 13h-.1m2-4h.1m1-11h-.1m0 8h.1m0 16h-.1m0-21h.1m1 17h-.1m0-6h.1m1-9h-.1m0 4h.1m1 14h-.1m0-23h.1m2 27h-.1m2-27h.1m0 8h-.1m0 14h.1m2-17h-.1m0 9h.1m1 8h-.1m0 7h.1m5-14h-.1m0 6h.1m2 3h-.1m0 4h.1m0-10h-.1m3 5h.1m1 5h-.1m1-30h.1m1 16h-.1m0 8h.1m1-21h-.1m0 8h.1m1 14h-.1m1-3h.1m1-19h-.1m3 13h.1m1-9h-.1m2 1h.1m1 14h-.1m2-19h.1m0 22h-.1m3 0h.1m0 5h-.1m4 1h.1m0-6h-.1m1-18h.1m0-2h-.1m0 9h.1m1-3h-.1m2-7h.1m4 7h-.1m1 13h.1m2-24h-.1m5 29h.1m0-17h-.1m0-12h.1m1 27h-.1m5-13h.1m2 9h-.1m1-8h.1m0 4h-.1m4-7h.1m2-4h-.1m1 20h.1m0-17h-.1m1-6h.1m1 4h-.1m2 22h.1m0-21h-.1m1 6h.1m3-12h-.1m0 6h.1m1 18h-.1m2-6h.1m0-5h-.1m3-1h.1m1-16h-.1m1 13h.1m0-7h-.1m2 5h.1m2 9h-.1m5-8h.1m0-10h-.1m1 14h.1m0 12h-.1m2-22h.1m1-5h-.1m1 23h.1m1-15h-.1m1 18h.1m0-27h-.1m0 25h.1m0-11h-.1m2-7h.1m1 22h-.1m0-5h.1m2 5h-.1m0-21h.1m1 17h-.1m4-2h.1m1-15h-.1m1-8h.1m0 16h-.1m2 7h.1m0-9h-.1m1-15h.1m0 19h-.1m0-5h.1m2 1h-.1m0 3h.1m2-9h-.1m1-3h.1m1 17h-.1m3-21h.1m0 6h-.1m2 2h.1m0 22h-.1m1-32h.1m2 27h-.1m0-12h.1m4-13h-.1m0 19h.1m1-6h-.1m4-6h.1m1 9h-.1m1 2h.1m3-18h-.1m3 13h.1m2 13h-.1m4-19h.1m1 12h-.1m1-10h.1m0-7h-.1m1 3h.1m1-4h-.1m0 7h.1m3-3h-.1m2 13h.1m1 7h-.1m2-17h.1m0 3h-.1m1 12h.1m1 7h-.1m0-22h.1m7 10h-.1m0-12h.1m2 1h-.1m1 20h.1m2-20h-.1m1 16h.1m1 3h-.1m1-27h.1m1 16h-.1m0-10h.1m5-7h-.1m0 4h.1m2 8h-.1m1 9h.1m1-3h-.1m1 4h.1m1 7h-.1m1-22h.1m2 15h-.1m2-8h.1m1 17h-.1m1-15h.1m1 13h-.1m0-16h.1m2-8h-.1m3 25h.1m3-29h-.1m3 3h.1m1 10h-.1m0 17h.1m4-2h-.1m1-18h.1m0 7h-.1m2 8h.1m1-8h-.1m2 12h.1m2-30h-.1m0 13h.1m2-12h-.1m1 26h.1m2 1h-.1m0-6h.1m2-16h-.1m1-3h.1m1 27h-.1m0-15h.1m0-8h-.1m1 19h.1m2-23h-.1m4 19h.1m0 8h-.1m0-28h.1m2 13h-.1m2 7h.1m0-16h-.1m1 12h.1m2-9h-.1m4-9h.1m0 22h-.1m1-8h.1m5 7h-.1m0 8h.1m2-5h-.1m5-12h.1m0 6h-.1m1 7h.1m1 2h-.1m1-12h.1m1-9h-.1m1 22h.1m1-14h-.1m0-9h.1m1 18h-.1m5-17h.1m4 20h-.1m0-19h.1m2 22h-.1m0-12h.1m6 14h-.1m0-5h.1m0-16h-.1m1 4h.1m7-7h-.1m1-1h.1m2 24h-.1m0-16h.1m3 2h-.1m1 10h.1m1-18h-.1m3 2h.1m4-7h-.1m0 8h.1m1 11h-.1m1-8h.1m2 7h-.1m1 2h.1m0-18h-.1m1 24h.1m0-26h-.1m4 10h.1m1-6h-.1m0 9h.1m2-12h-.1m1 27h.1m0-25h-.1m1 10h.1m2 2h-.1m1-2h.1m2 14h-.1m0-26h.1m3 7h-.1m2 3h.1m0 3h-.1m5 6h.1m1-13h-.1m1 5h.1m1 16h-.1m1-12h.1m0-6h-.1m1-8h.1m2 25h-.1m1-1h.1m2-11h-.1m1-17h.1m2 17h-.1m3-11h.1m4 19h-.1m1-26h.1m0 7h-.1m5 25h.1m2-4h-.1m2-13h.1m0-12h-.1m5 7h.1m2 12h-.1m1-10h.1m2 11h-.1m1-10h.1m1 18h-.1m3-11h.1m1-16h-.1m0 14h.1m1 13h-.1m2-2h.1m0-18h-.1m1 5h.1m0-2h-.1m3-8h.1m3 10h-.1m0 2h.1m1 12h-.1m3 1h.1m0-6h-.1m2-9h.1m4-10h-.1m2 23h.1m2-27h-.1m0 10h.1m2 12h-.1m2-11h.1m0-4h-.1m2 15h.1m1-11h-.1m1-4h.1m2 22h-.1m0-27h.1m4 12h-.1m0-6h.1m2-4h-.1m3 15h.1m0-9h-.1m6-10h.1m1 9h-.1m1 8h.1m1 5h-.1m1 8h.1m0-4h-.1m3-10h.1m3 11h-.1m1-8h.1m2 5h-.1m0-20h.1m4 4h-.1m0 2h.1m2 9h-.1m1 2h.1m3-4h-.1m1 2h.1m2-10h-.1m1 14h.1m4-15h-.1m0 15h.1m3-4h-.1m5 2h.1m3 5h-.1m3-2h.1m2-16h-.1m1 15h.1m0-11h-.1m2 13h.1m3-4h-.1m3-11h.1m3 2h-.1m4-8h.1m1 5h-.1m1 4h.1m1-6h-.1m2 7h.1m1 11h-.1m3-1h.1m2-11h-.1m0 14h.1m1-16h-.1m3-1h.1m2-10h-.1m2 24h.1m2-22h-.1m0 21h.1m0-3h-.1m1-20h.1m2 23h-.1m0-9h.1m2 0h-.1m1-15h.1m1 27h-.1m0-22h.1m3 3h-.1m3 5h.1m1-10h-.1m2 25h.1m1-18h-.1m0 5h.1m0-8h-.1m5-7h.1m0 13h-.1m2 17h.1m0-29h-.1m0 24h.1m1-12h-.1m2 17h.1m3-2h-.1m1-6h.1m3 8h-.1m1-28h.1m1 9h-.1m3 6h.1m2-10h-.1m2 14h.1m1-13h-.1m0-8h.1m1 3h-.1m0 17h.1m1-14h-.1m0 9h.1m1-3h-.1m2 11h.1m2-8h-.1m1 15h.1m6-27h-.1m4 15h.1m0 6h-.1m2-16h.1m1 18h-.1m3-17h.1m5 20h-.1m0-22h.1m2-7h-.1m3 1h.1m3 8h-.1m2-8h.1m1 4h-.1m-26 45h.1m-1-16h-.1m-1 26h.1m0-9h-.1m-1-14h.1m-3 5h-.1m-1-10h.1m-5 11h-.1m-2-10h.1m-3 16h-.1m0-8h.1m-4 9h-.1m-1-3h.1m-1-4h-.1m-5-11h.1m-1 4h-.1m-2-2h.1m-3 27h-.1m-3-29h.1m-2 13h-.1m0-7h.1m-2 25h-.1m-2-30h.1m0 23h-.1m-2-7h.1m-1 9h-.1m-2-16h.1m-3 7h-.1m-3-12h.1m0 24h-.1m-1-21h.1m-2 18h-.1m-1-11h.1m-2 2h-.1m-1 11h.1m-2-26h-.1m-1 14h.1m-2 6h-.1m-5-22h.1m-2 6h-.1m-1 9h.1m-1-3h-.1m0 17h.1m-1-15h-.1m-1-14h.1m0 27h-.1m0-22h.1m-1 4h-.1m-2-4h.1m0 4h-.1m-2 14h.1m0-2h-.1m-1-17h.1m-1 19h-.1m0-15h.1m-1 20h-.1m-1-24h.1m0 7h-.1m-1-12h.1m-1 11h-.1m-3 20h.1m0-26h-.1m0 10h.1m-2 3h-.1m-1-6h.1m-1 15h-.1m-2-1h.1m-1-20h-.1m-5 16h.1m-1-11h-.1m0 18h.1m-6-24h-.1m-2 11h.1m-3 13h-.1m-2-21h.1m-2 6h-.1m-2-7h.1m-1-6h-.1m-5 25h.1m-2-2h-.1m0-18h.1m-3-1h-.1m-2 24h.1m-1-20h-.1m0 7h.1m-1-13h-.1m0-2h.1m-1 8h-.1m-1 12h.1m-2-2h-.1m-1-5h.1m0 10h-.1m-1 7h.1m-5-17h-.1m0-12h.1m-2 6h-.1m0 11h.1m-3 6h-.1m-2-22h.1m-1 17h-.1m0-12h.1m-5 11h-.1m0-14h.1m-2-5h-.1m-1 24h.1m-2 2h-.1m-1-2h.1m-1-14h-.1m-1 21h.1m-1-28h-.1m0 18h.1m0 5h-.1m-1-13h.1m-3 2h-.1m-3 12h.1m-1-2h-.1m0-22h.1m-6 6h-.1m0 18h.1m-2-24h-.1m0 3h.1m-2 16h-.1m0 3h.1m-3-18h-.1m0 21h.1m0 3h-.1m-2-4h.1m-5-10h-.1m0-8h.1m-1-4h-.1m-2 2h.1m-2 10h-.1m-1-3h.1m-4-9h-.1m-2 6h.1m-5 21h-.1m0-25h.1m-6 13h-.1m-2-14h.1m-2 8h-.1m0 4h.1m-2 12h-.1m-3-29h.1m0 8h-.1m-7 17h.1m-3-12h-.1m0 5h.1m-4 5h-.1m0-23h.1m0 19h-.1m0-17h.1m-5 25h-.1m0-3h.1m-3-24h-.1m-1 10h.1m-1 16h-.1m-4-16h.1m-3-6h-.1m-3 21h.1m-1-15h-.1m-1-1h.1m-1 3h-.1m-1 7h.1m-1 11h-.1m-3-22h.1m0 8h-.1m-2-16h.1m0 13h-.1m-2 13h.1m0-9h-.1m-1 11h.1m0-25h-.1m-3 12h.1m-5 16h-.1m-1-10h.1m-1-21h-.1m-1 11h.1m-3 0h-.1m0 5h.1m-1-2h-.1m-1-4h.1m-4-8h-.1m-5 27h.1m-2-2h-.1m-2-11h.1m0-13h-.1m-1 5h.1m-2 0h-.1m-2 8h.1m-2-17h-.1m-1 16h.1m-1 12h-.1m-1-24h.1m-4 25h-.1m0-10h.1m0-3h-.1m-3-1h.1m-2-6h-.1m-2-7h.1m-2 20h-.1m-3-8h.1m-3-5h-.1m-2 17h.1m-3-15h-.1m-2-1h.1m-5-4h-.1m0 3h.1m-1 15h-.1m-1 5h.1m0-24h-.1m-4-4h.1m-1 8h-.1m-1 13h.1m-1-17h-.1m-1 16h.1m-1-12h-.1m-2-2h.1m-5 16h-.1m-1-16h.1m-1 9h-.1m0-16h.1m-1 4h-.1m-3 3h.1m-1 6h-.1m-1 12h.1m-1-15h-.1m-3 7h.1m0-7h-.1m-1 4h.1m-3-12h-.1m0 23h.1m0 5h-.1m-1-15h.1m-3-2h-.1m-1-13h.1m-2 17h-.1m-4-4h.1m-3-5h-.1m-3 13h.1m-1 7h-.1m0-12h.1m-1 10h-.1m-2-11h.1m-1 10h-.1m0-4h.1m-1 8h-.1m-1-24h.1m0 9h-.1m-1 10h.1m0-14h-.1m-2-9h.1m-1 6h-.1m0 7h.1m-2 2h-.1m-1-2h.1m-1 15h-.1m0-23h.1m-7 9h-.1m-2 11h.1m-1-13h-.1m-5 14h.1m-1 2h-.1m-4-20h.1m0 15h-.1m-1-23h.1m-2 25h-.1m-2-20h.1m0-5h-.1m-1 10h.1m-2 3h-.1m-1-12h.1m-5 5h-.1m-1-6h.1m0 24h-.1m-1-13h.1m0 9h-.1m-1-12h.1m-5-7h-.1m-1 19h.1m-1-11h-.1m-1-4h.1m-1-2h-.1m-4 15h.1m-2 0h-.1m0-12h.1m-1 16h-.1m-1 5h.1m-1-4h-.1m0 6h.1m-2-9h-.1m0-9h.1m-1-2h-.1m0 7h.1m-3 3h-.1m-1-7h.1m0 11h-.1m-3-2h.1m-1 3h-.1m0-19h.1m0 23h-.1m-4-20h.1m0-6h-.1m0 26h.1m-1-24h-.1m-2 12h.1m-2-9h-.1m-3 9h.1m-3 11h-.1m0-6h.1m0 9h-.1m-1-27h.1m0-2h-.1m-1 11h.1m-2 5h-.1m-2 8h.1m0-26h-.1m-2 11h.1m0 8h-.1m-1-18h.1m-2 8h-.1m0 17h.1m-2-13h-.1m0 10h.1m-1-14h-.1m-1 23h.1m-3-8h-.1m-2-3h.1m-2 7h-.1m-1-9h.1m0 12h-.1m-1-29h.1m-5 8h-.1m-2 15h.1m-3-21h-.1m0 26h.1m0-15h-.1m-1 12h.1m-2 0h-.1m-1-8h.1m-1-19h-.1m0 9h.1m0 21h-.1m0-17h.1m-2-6h-.1m-3 12h.1m-3 1h-.1m-1-9h.1m0 18h-.1m-1 3h.1m-1-15h-.1m-2 12h.1m0-13h-.1m-1-13h.1m0 9h-.1m-2 12h.1m-2-9h-.1m-1-14h.1m0 19h-.1m0-15h.1m-1 4h-.1m-1 22h.1m0-3h-.1m-2-3h.1m-1 2h-.1m-1-11h.1m0-7h-.1m-2 13h.1m0-10h-.1m0-11h.1m-2 2h-.1m-2 1h.1m0 1h-.1m-2 22h.1m-1-13h-.1m0 7h.1m-1 4h-.1m-1-10h.1m-2-9h-.1m0 6h.1m-2 3h-.1m0 12h.1m0-25h-.1m-4 16h.1m-2 2h-.1m0-3h.1m-3 9h-.1m0 4h.1m-3-3h-.1m0 2h.1m-3-4h-.1m0-12h.1m-2 3h-.1m0 3h.1m0 11h-.1m-1-23h.1m-4 23h-.1m-2-3h.1m-1-5h-.1m-2 6h.1m-3 3h-.1m0-16h.1m-1 2h-.1m-2 13h.1m0-27h-.1m-3 13h.1m-2-2h-.1m-2 9h.1m0-10h-.1m0 8h.1m0 3h-.1m-2-3h.1m-1 3h-.1m0-22h.1m-1 6h-.1m-2-2h.1m0 3h-.1m-1 8h.1m0 12h-.1m-1-17h.1m-1 20h-.1m0-15h.1m-1-2h-.1m0 10h.1m0 5h-.1m-1-28h.1m-1 3h-.1m-3 5h.1m-4 12h-.1m0 5h.1m-1-24h-.1m0 3h.1m-3 25h-.1m-1-27h.1m0 4h-.1m-1 17h.1m0-5h-.1m-1-4h.1m-2-12h-.1m-1 27h.1m-2-3h-.1m0-24h.1m0 27h-.1m-3-25h.1m0 2h-.1m-2 23h.1m-5-16h-.1m0 17h.1m-2-18h-.1m0 12h.1m-1 6h-.1m-1-16h.1m-1 1h-.1m-1-10h.1m-1 18h-.1m-1-21h.1m0 9h-.1m-1 6h.1m-2-1h-.1m-3 3h.1m0-18h-.1m0 4h.1m0 23h-.1m-3-10h.1m-2 0h-.1m-3-13h.1m0-5h-.1m-1 20h.1m-1 8h-.1m-1-24h.1m0 22h-.1m-1-17h.1m-1 9h-.1m0 9h.1m-5-25h-.1m-1 9h.1m-1 10h-.1m-1-22h.1m-1 17h-.1m0 2h.1m0-4h-.1m-1-5h.1m0 3h-.1m-2-8h.1m-2 21h-.1m0-7h.1m-1 5h-.1m-1-3h.1m-3-18h-.1m-3-3h.1m-1 31h-.1m-2-22h.1m-3 21h-.1m-1-22h.1m-1 5h-.1m0-3h.1m0-6h-.1m-1 19h.1m-1-17h-.1m-2 10h.1m0-14h-.1m-1 20h.1m-2-16h-.1m0 9h.1m-1 9h-.1m-1-8h.1m-1 3h-.1m0-13h.1m-1 18h-.1m-1-19h.1m0 18h-.1m0-9h.1m-1 4h-.1m-1-17h.1m-3-1h-.1m0 11h.1m-2 13h-.1m0-7h.1m-2-13h-.1m-1 13h.1m-5-18h-.1m-1 20h.1m-1 7h-.1m0-16h.1m-1 11h-.1m-2-13h.1m-1 18h-.1m0-8h.1m-1 1h-.1m0 2h.1m0 6h-.1m-2-24h.1m-4 10h-.1m0 12h.1m-1 5h-.1m-2-21h.1m-1-2h-.1m-1 6h.1m-1 18h-.1m-1-8h.1m-3-4h-.1m0-11h.1m0-2h-.1m-2 5h.1m-2 3h-.1m-1 8h.1m-2-10h-.1m-1 18h.1m0-10h-.1m-2 6h.1m-1-17h-.1m-1 16h.1m-1 3h-.1m-4-22h.1m-1 5h-.1m-1 10h.1m-2-6h-.1m-3 11h.1m0-10h-.1m0-16h.1m-1 24h-.1m0-8h.1m-1 12h-.1m-1-28h.1m-2 23h-.1m-1-3h.1m-1 4h-.1m-2-16h.1m-2 15h-.1m-2-4h.1m-1 10h-.1m-1-14h.1m0-4h-.1m-2-5h.1m-3 21h-.1m-1-3h.1m-2-22h-.1m0 21h.1m0 5h-.1m0-10h.1m-1-14h-.1m-2 26h.1m-1-14h-.1m0 4h.1m-2 0h-.1m-1-4h.1m-1-14h-.1m0 19h.1m-4-9h-.1m-3-10h.1m-1 9h-.1m-1 5h.1m0 14h-.1m-1-7h.1m-1-16h-.1m0-7h.1m-1 14h-.1m-2 12h.1m0-11h-.1m-1 7h.1m-2-7h-.1m-1 11h.1m-1-4h-.1m-2 1h.1m-2-22h-.1m-2 12h.1m-1 12h-.1m0-3h.1m0-15h-.1m-5-6h.1m-1 2h-.1m-1-4h.1m-2 17h-.1m-2-12h.1m-1 15h-.1m0 4h.1m-1-3h-.1m-3-2h.1m-1-2h-.1m-1-2h.1m0 12h-.1m-1 4h.1m0-2h-.1m-2-15h.1m0 13h-.1m-3-11h.1m0-7h-.1m-1 19h.1m-1-3h-.1m0 4h.1m-1-15h-.1m-4-10h.1m-3 7h-.1m-1 19h.1m-3-26h-.1m0 20h.1m-1-18h-.1m-2 12h.1m-1-18h-.1m0 31h.1m0-26h-.1m-1-3h.1m0 6h-.1m0 10h.1m-4-2h-.1m-2 4h.1m0-20h-.1m-2 0h.1m-2 15h-.1m-2 1h.1m0 2h-.1m0 8h.1m-3-16h-.1m-1 15h.1m0-4h-.1m-1-13h.1m0 16h-.1m-2-12h.1m-1 6h-.1m-2 9h.1m-2 0h-.1m0-9h.1m-2 10h-.1m0-17h.1m-6 6h-.1m-1-5h.1m-2 12h-.1m0-2h.1m-1-2h-.1m-1-20h.1m-1 16h-.1m-2-2h.1m-3-2h-.1m-2 8h.1m0 2h-.1m-1 5h.1m0 4h-.1m0-16h.1m-1 10h-.1m-2 2h.1m-3-16h-.1m0 5h.1m-3 2h-.1m-2-15h.1m-1 22h-.1m-1-21h.1m-2 12h-.1m-1-3h.1m0-3h-.1m-1 6h.1m-4-14h-.1m-2 13h.1m-1 10h-.1m-2-10h.1m-1-13h-.1m-2 26h.1m0-15h-.1m-5 9h.1m-6-19h-.1m-1 28h.1m0-17h-.1m-1 1h.1m-3 9h-.1m-1 3h.1m0-24h-.1m0 9h.1m-3 6h-.1m0 7h.1m-3-1h-.1m0-17h.1m-1-4h-.1m-1 25h.1m0 3h-.1m-1-28h.1m-3 21h-.1m-1-20h.1m-2 7h-.1m0-4h.1m0 15h-.1m-6-18h.1m0 8h-.1m-1-3h.1m-4 15h-.1m0 2h.1m0-15h-.1m0-5h.1m-3 13h-.1m-1 12h.1m-1-20h-.1m-2 9h.1m-2-20h-.1m-1 8h.1m-3 8h-.1m-1 15h.1m0-22h-.1m-1 13h.1m-2 3h-.1m-1-6h.1m-3-10h-.1m-2 17h.1m0-18h-.1m-1 1h.1m0 5h-.1m-1-6h.1m0 23h-.1m0-12h.1m-1-17h-.1m0 26h.1m-3 4h-.1m-2-5h.1m-4-15h-.1m0 7h.1m-1 0h-.1m-1 8h.1m-2-14h-.1m0 7h.1m-4-12h-.1m0 20h.1m-2-25h-.1m-1 3h.1m-2-5h-.1m0 26h.1m-3-14h-.1m0 13h.1m0-4h-.1m-1 3h.1m-2-5h-.1m-1-2h.1m-1-7h-.1m-4 17h.1m0-2h-.1m-2-2h.1m-1-19h-.1m-1 11h.1m-1-15h-.1m-1 25h.1m0-2h-.1m-1-17h.1m-2 23h-.1m-1-24h.1m0-3h-.1m-1 16h.1m0-2h-.1m0-4h.1m0-8h-.1m-2 21h.1m-1-13h-.1m0 15h.1m-1 3h-.1m0-21h.1m-1 17h-.1m0-19h.1m-2 9h-.1m-2 5h.1m-4 8h-.1m-2-6h.1m-1-2h-.1m-4 1h.1m-1-17h-.1m-2 15h.1m0-16h-.1m0 19h.1m-1 4h-.1m0-9h.1m-2 1h-.1m0-2h.1m-1 5h-.1m-1-5h.1m-1 12h-.1m-1-6h.1m-2-16h-.1m0 14h.1m-2-18h-.1m0-2h.1m-2 30h-.1m-2-15h.1m-2 4h-.1m-3 3h.1m-1-5h-.1m-3 13h.1m-2-15h-.1m0-3h.1m-2 9h-.1m-1 8h.1m-4-13h-.1m-3-17h.1m-1 14h-.1m-1-13h.1m0 10h-.1m0 7h.1m-2 8h-.1m0-24h.1m-2 6h-.1m0 21h.1m-5-28h-.1m4 57h.1m1-15h-.1m2 3h.1m0 11h-.1m2-19h.1m3-3h-.1m0 15h.1m2 1h-.1m1-10h.1m4-2h-.1m4-2h.1m1 12h-.1m1-15h.1m0 4h-.1m3 5h.1m2 17h-.1m3-11h.1m3-9h-.1m0 9h.1m6-17h-.1m2 16h.1m1-7h-.1m2-4h.1m0 25h-.1m1-26h.1m0 24h-.1m2-6h.1m2 1h-.1m0 4h.1m1-14h-.1m0-7h.1m3 7h-.1m1-2h.1m0-9h-.1m1 23h.1m1-2h-.1m0-14h.1m3 7h-.1m1-6h.1m0 6h-.1m3-8h.1m0 14h-.1m0-17h.1m1 21h-.1m1-25h.1m1 6h-.1m0 10h.1m0 11h-.1m0-12h.1m1-15h-.1m5 0h.1m1 25h-.1m0-10h.1m0-12h-.1m2 16h.1m0-17h-.1m1 12h.1m1-15h-.1m0 8h.1m2 16h-.1m0-14h.1m1 19h-.1m1-24h.1m1 10h-.1m1-4h.1m1 15h-.1m0-9h.1m3-15h-.1m1 16h.1m0-18h-.1m1 24h.1m2-12h-.1m2-12h.1m1 11h-.1m1 6h.1m0-10h-.1m1 16h.1m0-23h-.1m1 11h.1m0 13h-.1m0 5h.1m1-26h-.1m1 2h.1m1 26h-.1m1-19h.1m4 7h-.1m2 4h.1m0 4h-.1m0-10h.1m1-2h-.1m1-14h.1m0 11h-.1m1 19h.1m0-11h-.1m3-15h.1m1 25h-.1m0-3h.1m1-26h-.1m2 18h.1m2 6h-.1m1-6h.1m4-8h-.1m0-2h.1m0 11h-.1m2-2h.1m0 12h-.1m1-16h.1m2 2h-.1m0 10h.1m1-7h-.1m3 4h.1m0-9h-.1m4 6h.1m0-12h-.1m1 2h.1m0 14h-.1m1-23h.1m1 29h-.1m1-19h.1m1-11h-.1m0 8h.1m0 22h-.1m8-2h.1m1-3h-.1m1-16h.1m1 18h-.1m0-4h.1m1-16h-.1m0 6h.1m0-4h-.1m4-7h.1m6 16h-.1m1-3h.1m2-12h-.1m2 9h.1m1 6h-.1m4-18h.1m0 13h-.1m1-3h.1m2 14h-.1m1-6h.1m5-18h-.1m1 22h.1m0-20h-.1m2 16h.1m0 8h-.1m1-26h.1m5 6h-.1m3-4h.1m0 24h-.1m0-14h.1m5-4h-.1m1 3h.1m0 19h-.1m3-21h.1m1 21h-.1m0-10h.1m1 8h-.1m1-19h.1m1 18h-.1m1-21h.1m0 17h-.1m1-4h.1m1-15h-.1m0 9h.1m3 9h-.1m0 5h.1m1-10h-.1m0 2h.1m2-5h-.1m0-14h.1m2 12h-.1m0 8h.1m1-12h-.1m0 11h.1m2-4h-.1m1-6h.1m1-7h-.1m0 25h.1m1-16h-.1m2 11h.1m0-5h-.1m1-15h.1m1 2h-.1m1 12h.1m2 15h-.1m2-6h.1m2-21h-.1m4 4h.1m2 17h-.1m1-21h.1m1 6h-.1m1 3h.1m2 1h-.1m0-6h.1m0 12h-.1m3-19h.1m2 30h-.1m0-8h.1m2-18h-.1m0 3h.1m3 15h-.1m0-6h.1m1-3h-.1m2-2h.1m1-9h-.1m1 11h.1m0-9h-.1m2 25h.1m4-11h-.1m1 10h.1m1-18h-.1m2 16h.1m1-3h-.1m0-5h.1m6-7h-.1m1-9h.1m2 18h-.1m1-22h.1m1 32h-.1m1-14h.1m1 6h-.1m0-9h.1m0-11h-.1m0 24h.1m2-27h-.1m1 26h.1m0-6h-.1m1-5h.1m1 9h-.1m0 2h.1m1-12h-.1m1-6h.1m1 7h-.1m2-8h.1m0-3h-.1m3 6h.1m0 18h-.1m0-23h.1m1 18h-.1m3 0h.1m3-17h-.1m0 20h.1m1-3h-.1m1-6h.1m1-13h-.1m2 5h.1m1 17h-.1m1-5h.1m3-14h-.1m2 0h.1m0 19h-.1m1-25h.1m2 26h-.1m0-21h.1m0 19h-.1m1-14h.1m1-6h-.1m0 12h.1m1 5h-.1m4-1h.1m0 4h-.1m1-23h.1m0 6h-.1m1 18h.1m1-12h-.1m1 13h.1m1-24h-.1m0 26h.1m2-17h-.1m0 14h.1m4-6h-.1m3 11h.1m0-6h-.1m0-3h.1m1-10h-.1m1-3h.1m0-10h-.1m1 7h.1m2 24h-.1m0-14h.1m1-8h-.1m0 2h.1m1-7h-.1m1 11h.1m1-4h-.1m0-2h.1m0 21h-.1m1-6h.1m3-16h-.1m3 5h.1m0 19h-.1m5-13h.1m0-14h-.1m1 21h.1m3-6h-.1m1 7h.1m3-17h-.1m2 19h.1m2-3h-.1m1-17h.1m5 15h-.1m0-11h.1m1 18h-.1m1-18h.1m0-2h-.1m1 12h.1m0-19h-.1m0 10h.1m1 8h-.1m0-9h.1m0 4h-.1m4 9h.1m4-22h-.1m2 21h.1m2-8h-.1m3-17h.1m1 4h-.1m6 12h.1m1 3h-.1m1-17h.1m3 18h-.1m2-17h.1m1 24h-.1m4 4h.1m1-3h-.1m2-20h.1m1 15h-.1m0-19h.1m2 7h-.1m2-3h.1m1 3h-.1m0-11h.1m3 30h-.1m0-7h.1m5-13h-.1m1 12h.1m1-10h-.1m1 2h.1m0-5h-.1m2-9h.1m0 26h-.1m1-6h.1m1-13h-.1m1 13h.1m1-15h-.1m1 26h.1m0-19h-.1m0 17h.1m3-9h-.1m1 10h.1m1-21h-.1m1-4h.1m6 26h-.1m2-7h.1m1-15h-.1m0 3h.1m3 10h-.1m3-21h.1m2 6h-.1m0 2h.1m2 23h-.1m0-26h.1m1 18h-.1m1 5h.1m3-7h-.1m1-20h.1m0 23h-.1m2 0h.1m3-8h-.1m0 2h.1m0 12h-.1m0-20h.1m2-7h-.1m0 10h.1m1 11h-.1m1-18h.1m2 3h-.1m1-6h.1m2 4h-.1m0 23h.1m1-3h-.1m3-9h.1m1 7h-.1m1-23h.1m0 2h-.1m1 18h.1m2-11h-.1m5 19h.1m1-29h-.1m0 10h.1m1 10h-.1m1-8h.1m1-2h-.1m2 16h.1m1-14h-.1m0 12h.1m3-21h-.1m2 2h.1m4-5h-.1m1 3h.1m0 5h-.1m4 21h.1m1-10h-.1m0-11h.1m0-2h-.1m1 22h.1m1-15h-.1m0-10h.1m2 15h-.1m1-18h.1m1 13h-.1m2 15h.1m4 0h-.1m1-24h.1m4 13h-.1m0-16h.1m2 22h-.1m0 5h.1m0-7h-.1m3-15h.1m1 7h-.1m0-3h.1m3-6h-.1m2 9h.1m2-3h-.1m3-2h.1m3 13h-.1m1-7h.1m1-9h-.1m0 13h.1m0 2h-.1m1-10h.1m4 8h-.1m2-19h.1m1 12h-.1m2 18h.1m1 1h-.1m2-27h.1m1 16h-.1m1-21h.1m1 29h-.1m1-8h.1m1-20h-.1m2 12h.1m0-5h-.1m2 2h.1m0-2h-.1m1 22h.1m0-15h-.1m1 7h.1m1-18h-.1m1 24h.1m3-22h-.1m3 4h.1m1 5h-.1m0-7h.1m1 15h-.1m0-17h.1m2 0h-.1m0-3h.1m4 9h-.1m0-11h.1m3 8h-.1m1-4h.1m1 25h-.1m0-27h.1m1 8h-.1m1 3h.1m1 11h-.1m2 3h.1m0-14h-.1m1-5h.1m2-8h-.1m1 3h.1m3-1h-.1m1 7h.1m0 17h-.1m1-20h.1m0 18h-.1m0-19h.1m1 17h-.1m1-16h.1m1 4h-.1m0 5h.1m3-4h-.1m0 1h.1m1 15h-.1m3-17h.1m3-10h-.1m0 30h.1m0-22h-.1m3 9h.1m3-6h-.1m1 17h.1m1 2h-.1m2-13h.1m0-15h-.1m1 20h.1m2-16h-.1m0 18h.1m2-4h-.1m1-18h.1m2 26h-.1m0-18h.1m1 6h-.1m1-9h.1m3 19h-.1m1-27h.1m2 30h-.1m1-18h.1m1-8h-.1m1 5h.1m3 10h-.1m7-18h.1m1 29h-.1m1-9h.1m1-9h-.1m1-9h.1m1 13h-.1m3 6h.1m2-20h-.1m1 17h.1m0-4h-.1m0 13h.1m2-1h-.1m2 3h.1m1-19h-.1m1-8h.1m1 19h-.1m3-22h.1m1 4h-.1m0-2h.1m1 14h-.1m1 7h.1m0-13h-.1m1 11h.1m1-14h-.1m2 9h.1m1-16h-.1m0 9h.1m1-7h-.1m3 5h.1m0 7h-.1m0-12h.1m2 28h-.1m1-28h.1m0 14h-.1m0-5h.1m0-6h-.1m1 9h.1m2-2h-.1m4-9h.1m0 13h-.1m3-4h.1m1 9h-.1m1-10h.1m4 10h-.1m2-10h.1m1 13h-.1m0-23h.1m3 27h-.1m1-21h.1m2-5h-.1m1 29h.1m3-18h-.1m0-10h.1m1 2h-.1m0 9h.1m7-10h-.1m4-3h.1m1 7h-.1m0-3h.1m2 25h-.1m1-23h.1m1 10h-.1m0-4h.1m4-8h-.1m3 1h.1m3 24h-.1m1-10h.1m3-11h-.1m0 6h.1m1 9h-.1m1-16h.1m1 3h-.1m2-3h.1m0-4h-.1m2 19h.1m0 5h-.1m0-19h.1m4 16h-.1m3-1h.1m2 2h-.1m3-10h.1m6-15h-.1m1 23h.1m2-22h-.1m4 11h.1m2 13h-.1m4-3h.1m0-22h-.1m0 3h.1m4 1h-.1m1 26h.1m2-16h-.1m0-9h.1m3-2h-.1m4 16h.1m0-6h-.1m1-14h.1m1 22h-.1m0-3h.1m1-3h-.1m0-11h.1m6 17h-.1m1-12h.1m0 19h-.1m2-6h.1m0-13h-.1m0-10h.1m3 18h-.1m1 5h.1m0-17h-.1m6 2h.1m1-3h-.1m0 7h.1m1-2h-.1m0 19h.1m1-23h-.1m1 20h.1m3-8h-.1m1-18h.1m2 16h-.1m3 2h.1m1-13h-.1m1 9h.1m0 10h-.1m0 8h.1m2-5h-.1m1-14h.1m1-6h-.1m0 22h.1m0-14h-.1m3-11h.1m1-3h-.1m0 26h.1m2-11h-.1m1-12h.1m2 17h-.1m0 9h.1m3-11h-.1m0 3h.1m1-11h-.1m1 7h.1m4-11h-.1m0 13h.1m3-10h-.1m0 21h.1m1-28h-.1m0 2h.1m1 23h-.1m2-17h.1m3 12h-.1m0-15h.1m1-4h-.1m6 25h.1m0-18h-.1m0 7h.1m2 4h-.1m5 5h.1m1-3h-.1m3 7h.1m0-2h-.1m0-17h.1m2 4h-.1m1-6h.1m1 6h-.1m0 2h.1m1-8h-.1m1-9h.1m5 0h-.1m0 6h.1m1 18h-.1m0 6h.1m2-23h-.1m0 9h.1m0 5h-.1m4 2h.1m1-7h-.1m1-5h.1m1 5h-.1m1-11h.1m5-3h-.1m0 20h.1m4-12h-.1m2 16h.1m0-25h-.1m0 10h.1m4 12h-.1m2-11h.1m9 7h-.1m4 4h.1m3 3h-.1m2-7h.1m1-14h-.1m2-4h.1m6 26h-.1m2-16h.1m3-6h-.1m2 5h.1m2 8h-.1m2-12h.1m0 14h-.1m2-17h.1m0 25h-.1m2-9h.1m0-14h-.1m3 13h.1m2-7h-.1m1 10h.1m1 5h-.1m1-3h.1m2 0h-.1m1-22h.1m3 18h-.1m0 6h.1m1-2h-.1m1-24h.1m1 21h-.1m1-16h.1m1-5h-.1m1 15h.1m2-14h-.1m1 30h.1m2-17h-.1m0-7h.1m1 11h-.1m6 6h.1m0-2h-.1m5 2h.1m3-5h-.1m3 12h.1m2-4h-.1m1-3h.1m0-9h-.1m3 6h.1m0-5h-.1m3-6h.1m8 12h-.1m1-6h.1m0-3h-.1m3-7h.1m0 13h-.1m1-18h.1m4 22h-.1m1-17h.1m1 22h-.1m1-15h.1m4 15h-.1m1-6h.1m1 4h-.1m3-4h.1m0-6h-.1m2-10h.1m2-4h-.1m1 16h.1m1 5h-.1m0-19h.1m1-3h-.1m1 7h.1m3 16h-.1m0 4h.1m4-13h-.1m4 8h.1m1-7h-.1m1-16h.1m1 8h-.1m3 8h.1m2-8h-.1m1 10h.1m0 10h-.1m5-14h.1m0 5h-.1m1 4h.1m0 8h-.1m3-28h.1m1 24h-.1m1-19h.1m1 15h-.1m3 0h.1m0-8h-.1m2-12h.1m1-2h-.1m2 7h.1m2-3h-.1m10 19h.1m-8 16h-.1m-27-2h.1m-2 5h-.1m-3 1h.1m-7-12h-.1m0 15h.1m-3-3h-.1m-5-7h.1m-2 1h-.1m-2 13h.1m-1 4h-.1m-2 2h.1m-3-13h-.1m0 6h.1m-2 1h-.1m-1-2h.1m-3-5h-.1m-1 9h.1m0 5h-.1m0-22h.1m0 4h-.1m-2 16h.1m0-3h-.1m-1-13h.1m-2 1h-.1m-3 9h.1m0 13h-.1m0-29h.1m-1 11h-.1m-1-9h.1m0 16h-.1m-4-4h.1m-4 13h-.1m0-5h.1m0-10h-.1m-2 12h.1m0-9h-.1m-2 0h.1m-2 8h-.1m-2-21h.1m-4-2h-.1m0 24h.1m-2-6h-.1m-5-13h.1m-4 2h-.1m-1 9h.1m-1-18h-.1m-1 9h.1m-1-8h-.1m-4 14h.1m-2 9h-.1m-1-23h.1m-1 11h-.1m0 4h.1m-1 5h-.1m-4 3h.1m-1 8h-.1m-2-16h.1m-2 0h-.1m-2 10h.1m-1-13h-.1m-1 3h.1m-1 8h-.1m-2-5h.1m-1-11h-.1m-1-5h.1m-1 24h-.1m-2-18h.1m0 22h-.1m-1-29h.1m0 5h-.1m-3 21h.1m-1-17h-.1m-1 3h.1m-2 4h-.1m-1-2h.1m-3 2h-.1m0-7h.1m0-7h-.1m-1 3h.1m0 12h-.1m-3 5h.1m-2-9h-.1m-2-10h.1m-1 7h-.1m-2-11h.1m0 7h-.1m-1 17h.1m0 2h-.1m-2 3h.1m-1-26h-.1m-1 6h.1m-2-9h-.1m0 21h.1m-7-11h-.1m-2 17h.1m-2-19h-.1m-2 20h.1m-1-26h-.1m-4 1h.1m-1 9h-.1m-2 15h.1m0-20h-.1m-2 0h.1m-4 12h-.1m-1 4h.1m-1-5h-.1m-2 12h.1m-1-10h-.1m-3-11h.1m-1-3h-.1m-2 15h.1m-1 10h-.1m0-21h.1m-6 0h-.1m-2-7h.1m-1 14h-.1m-5 0h.1m-2 7h-.1m-2-5h.1m-2-3h-.1m-2 10h.1m-1-22h-.1m-2 12h.1m0 11h-.1m-2-16h.1m-1 8h-.1m-2-19h.1m-5 18h-.1m-3 3h.1m-1-18h-.1m-1-1h.1m-1 12h-.1m-1 5h.1m0-3h-.1m-2-1h.1m-1 2h-.1m-2 9h.1m0-7h-.1m0-5h.1m-3-14h-.1m-1 8h.1m-1 20h-.1m-2-15h.1m-3 3h-.1m0 11h.1m0-4h-.1m-3-3h.1m0 2h-.1m-1 8h.1m-1-14h-.1m-1-10h.1m-1-5h-.1m-1 3h.1m-1 22h-.1m-3-14h.1m-5-8h-.1m-2 18h.1m-14-3h-.1m-1-9h.1m-1-10h-.1m0 23h.1m-1 5h-.1m-2-7h.1m0 6h-.1m-6 2h.1m-1-14h-.1m0-10h.1m0 2h-.1m0 4h.1m-5 4h-.1m0-6h.1m-2 21h-.1m-3-23h.1m0 10h-.1m-2-4h.1m-1 2h-.1m0-15h.1m-2 1h-.1m0 3h.1m-3 20h-.1m0-25h.1m-3 27h-.1m-1-7h.1m-1-3h-.1m-11-1h.1m-1 11h-.1m-4 4h.1m-4-30h-.1m0 14h.1m-2 4h-.1m-3 8h.1m-2-23h-.1m-1 12h.1m0 9h-.1m0-17h.1m-8 6h-.1m-1-5h.1m0-7h-.1m-1 18h.1m0-7h-.1m-2 10h.1m-6-13h-.1m-1 10h.1m-4 11h-.1m0-8h.1m-1-14h-.1m-2 19h.1m-4-2h-.1m-2-14h.1m-3 3h-.1m-4 8h.1m0-19h-.1m-3 3h.1m-1-2h-.1m-4-1h.1m-1 9h-.1m-1-6h.1m-5 17h-.1m-1-21h.1m-3 4h-.1m0 16h.1m-1 4h-.1m-2-24h.1m-4 15h-.1m0 2h.1m0-12h-.1m-4 13h.1m-4 3h-.1m0-19h.1m-1 25h-.1m-4-10h.1m0-9h-.1m-3 5h.1m-1 7h-.1m-4 3h.1m-3-16h-.1m-1 11h.1m-1-5h-.1m0-10h.1m0-3h-.1m-2 13h.1m-1 0h-.1m-4 14h.1m-5-5h-.1m-6-6h.1m-2-2h-.1m-1-16h.1m-2 17h-.1m-2-16h.1m0 14h-.1m-3-1h.1m0-7h-.1m-1 11h.1m-3 7h-.1m0 5h.1m-2-24h-.1m-2-5h.1m-3 11h-.1m-6 12h.1m-2-14h-.1m-1 2h.1m-2-2h-.1m-7 5h.1m0 15h-.1m-1-5h.1m-2-16h-.1m-2-4h.1m0 18h-.1m0-5h.1m-3-13h-.1m-4 0h.1m-2 17h-.1m0-11h.1m-3-11h-.1m-1 23h.1m-4-10h-.1m0 16h.1m0-30h-.1m-1 21h.1m0-14h-.1m0 9h.1m-2-14h-.1m0 9h.1m-2 15h-.1m-1-6h.1m0-11h-.1m-6 16h.1m0-9h-.1m-2-12h.1m-1 23h-.1m-2-24h.1m-2 25h-.1m0-27h.1m-3 0h-.1m-2 8h.1m-4 2h-.1m0-2h.1m0-2h-.1m-3 21h.1m-1-22h-.1m0 10h.1m-3-15h-.1m0 14h.1m-2-11h-.1m-2 17h.1m-3 4h-.1m-3-6h.1m0 5h-.1m-1-17h.1m-3 0h-.1m0 8h.1m-2 12h-.1m0-15h.1m-1-5h-.1m0 16h.1m-1 6h-.1m-1-15h.1m-10-14h-.1m0 21h.1m-1 4h-.1m-3-24h.1m0 7h-.1m-1 20h.1m-1-8h-.1m0 3h.1m-1 8h-.1m-1-21h.1m0-8h-.1m-3 19h.1m-1-4h-.1m-2 8h.1m0 6h-.1m-1-18h.1m-1-12h-.1m-1 2h.1m-1 25h-.1m-1-15h.1m-1 12h-.1m-1-20h.1m0 26h-.1m-2-3h.1m-1 4h-.1m-2-23h.1m-1 10h-.1m-1 7h.1m-1 6h-.1m-1-11h.1m-1-21h-.1m0 24h.1m-1-16h-.1m-2-4h.1m0-3h-.1m-1 11h.1m0-2h-.1m-2 6h.1m-1 13h-.1m-1-1h.1m-1-8h-.1m0-18h.1m0 15h-.1m-1-3h.1m-3 17h-.1m-1-17h.1m-5 5h-.1m-1-4h.1m-1-7h-.1m-4 7h.1m-1 6h-.1m-2-3h.1m-2 1h-.1m0-14h.1m-1 17h-.1m-2 2h.1m-1-16h-.1m-2 4h.1m0 9h-.1m-1-6h.1m-1-11h-.1m-1 18h.1m-2 2h-.1m-1-20h.1m-1 9h-.1m-2-5h.1m0 17h-.1m-1 6h.1m-1-6h-.1m0-25h.1m-1 4h-.1m-1 27h.1m0-4h-.1m-1-14h.1m0-5h-.1m-2 12h.1m-1 5h-.1m0-14h.1m-2 17h-.1m-6 3h.1m-1-2h-.1m0-10h.1m-1-8h-.1m0 6h.1m-1 13h-.1m-1-12h.1m0-17h-.1m-2 14h.1m0 11h-.1m-1-16h.1m-3-8h-.1m-1 26h.1m0-21h-.1m-2 24h.1m-2-31h-.1m-4 1h.1m-2 14h-.1m-2 6h.1m-3-14h-.1m0-6h.1m-1 21h-.1m-3-1h.1m-1-9h-.1m-1 10h.1m0-13h-.1m-1 11h.1m0 4h-.1m-1-13h.1m0-4h-.1m-1 10h.1m-1-17h-.1m-2 2h.1m0 22h-.1m-1 6h.1m-2-9h-.1m0-16h.1m-2-4h-.1m-6 26h.1m-1-20h-.1m0-3h.1m-1 25h-.1m-1-18h.1m-1-10h-.1m-1 8h.1m-2 0h-.1m-3-4h.1m0 4h-.1m-2-6h.1m-2 2h-.1m-2 13h.1m0-8h-.1m-1-2h.1m-5-6h-.1m-3 17h.1m-5 8h-.1m-1-16h.1m-2-6h-.1m-1 14h.1m-5 1h-.1m0-10h.1m-1 5h-.1m-2-1h.1m-1-5h-.1m-1-4h.1m-2-1h-.1m-2 13h.1m-6-7h-.1m-3-7h.1m-2 10h-.1m-1-7h.1m-4 13h-.1m-3-19h.1m-3 29h-.1m-1-17h.1m-6-10h-.1m-7 21h.1m0 4h-.1m-8-3h.1m-3-11h-.1m-1 15h.1m-2 4h-.1m-1-4h.1m-2-17h-.1m-1 14h.1m-1-17h-.1m-1 24h.1m-2-20h-.1m-4-3h.1m-2 3h-.1m0-5h.1m-6 17h-.1m-1-12h.1m-4-11h-.1m-5 30h.1m-3-10h-.1m-6 4h.1m-1-5h-.1m-3-17h.1m-1 9h-.1m-3 11h.1m0-15h-.1m-2 20h.1m-3-2h-.1m-5-15h.1m-1 7h-.1m-1 5h.1m0-13h-.1m-5-8h.1m-1 22h-.1m-2-22h.1m-1 6h-.1m-1 20h.1m0-26h-.1m-2 14h.1m0 11h-.1m-2 0h.1m0-10h-.1m-1 6h.1m-2 9h-.1m-1-19h.1m-3 2h-.1m-1 13h.1m-1-18h-.1m-1 21h.1m-1 1h-.1m-1-29h.1m0 6h-.1m-9 1h.1m-1 19h-.1m-1-19h.1m0 9h-.1m0-11h.1m-1 8h-.1m-1 3h.1m-8-1h-.1m0-7h.1m-2 9h-.1m0-17h.1m-2 18h-.1m0 2h.1m-2 6h-.1m-2-20h.1m0 20h-.1m-1-25h.1m0 1h-.1m-2 17h.1m-1 10h-.1m0-9h.1m-2 5h-.1m0-3h.1m-4 2h-.1m0-12h.1m0-14h-.1m0 10h.1m-1 4h-.1m-1 7h.1m-3 9h-.1m-1-6h.1m-5-21h-.1m-1 4h.1m-1 8h-.1m0-14h.1m-1 4h-.1m-3 20h.1m-1 0h-.1m-1-5h.1m-1-11h-.1m0 14h.1m-1-18h-.1m0 15h.1m-2-16h-.1m-2 6h.1m0-2h-.1m-1-7h.1m-1 24h-.1m0-15h.1m-2 18h-.1m-3-8h.1m0 10h-.1m-2-20h.1m-1 20h-.1m-1-14h.1m0 5h-.1m-3-1h.1m-1-20h-.1m0 28h.1m0-17h-.1m-3 9h.1m-1 3h-.1m-3-2h.1m-2-7h-.1m0 10h.1m-3-25h-.1m0 27h.1m-1-25h-.1m0 22h.1m0-6h-.1m-1-2h.1m0-9h-.1m-2 8h.1m0-5h-.1m0 16h.1m-2-3h-.1m-1 4h.1m0 3h-.1m-1-1h.1m-2 2h-.1m0-3h.1m0-14h-.1m-1-2h.1m-1 11h-.1m-1-2h.1m-2 6h-.1m-2-2h.1m-2-5h-.1m-1-3h.1m-1 4h-.1m0-18h.1m-1 1h-.1m-1 25h.1m-2-3h-.1m-2-4h.1m-1 7h-.1m0-17h.1m-2 4h-.1m-1-6h.1m-1-5h-.1m-1 4h.1m-2 9h-.1m0 10h.1m-1-7h-.1m0 4h.1m-2-19h-.1m-3 18h.1m-2-21h-.1m-1 19h.1m0-8h-.1m-6 12h.1m0-26h-.1m-1 9h.1m-4-3h-.1m0 7h.1m0-3h-.1m-3 20h.1m0-20h-.1m0 5h.1m-1 6h-.1m0 7h.1m-1-24h-.1m0 21h.1m-2-24h-.1m-1 25h.1m0-24h-.1m-3 24h.1m0-8h-.1m0-2h.1m-1 14h-.1m-1-7h.1m-3-18h-.1m0 21h.1m-1-4h-.1m-3-12h.1m0 16h-.1m-1-21h.1m-2 13h-.1m0-2h.1m-1 7h-.1m-2-14h.1m-2 7h-.1m0-9h.1m0 14h-.1m-1-16h.1m-3-5h-.1m0 3h.1m-1 16h-.1m-2-15h.1m-1 16h-.1m-1 5h.1m-2 1h-.1m-1-23h.1m-2 6h-.1m0 10h.1m-1 7h-.1m-4-11h.1m-2-1h-.1m-1-8h.1m-2 24h-.1m0-14h.1m-1-15h-.1m-4 29h.1m-3-11h-.1m9 20h.1m1 6h-.1m0 17h.1m1-20h-.1m2 13h.1m0-22h-.1m2 18h.1m0-6h-.1m3 13h.1m1-23h-.1m0 17h.1m2-17h-.1m1 6h.1m0 14h-.1m1-21h.1m3 13h-.1m4 7h.1m9 6h-.1m0 3h.1m0-27h-.1m2 27h.1m0-3h-.1m2-1h.1m0-22h-.1m6 9h.1m0 6h-.1m1-20h.1m0 2h-.1m1 5h.1m1-2h-.1m0 25h.1m3-17h-.1m1-3h.1m0 7h-.1m2 14h.1m1-29h-.1m1 12h.1m2 18h-.1m0-20h.1m1-9h-.1m3 19h.1m1-3h-.1m0 10h.1m0-15h-.1m1-13h.1m1 17h-.1m1-18h.1m1 9h-.1m1 9h.1m2 10h-.1m3 4h.1m1-16h-.1m1-5h.1m0-10h-.1m1 24h.1m0-12h-.1m0-5h.1m0 11h-.1m1-8h.1m1 18h-.1m1-12h.1m2-4h-.1m1 18h.1m1 1h-.1m0-13h.1m1 5h-.1m1-3h.1m1 11h-.1m1-2h.1m0-15h-.1m1-6h.1m1-8h-.1m0 18h.1m1 10h-.1m1-10h.1m0-8h-.1m1 3h.1m0-4h-.1m0 16h.1m1-8h-.1m3-9h.1m0 22h-.1m0-25h.1m1 11h-.1m0 6h.1m1-10h-.1m2 11h.1m2-20h-.1m0 3h.1m1 8h-.1m2 7h.1m2 4h-.1m0-21h.1m0 10h-.1m1 6h.1m3-17h-.1m3 19h.1m2 6h-.1m0-26h.1m2 5h-.1m1 19h.1m2-13h-.1m1-14h.1m0 10h-.1m1 13h.1m0 5h-.1m0 3h.1m0-31h-.1m0 7h.1m1-4h-.1m0 18h.1m2 5h-.1m1 2h.1m1-9h-.1m2-9h.1m1-8h-.1m6 18h.1m2 8h-.1m0-18h.1m1 11h-.1m3-11h.1m1 20h-.1m0-14h.1m4-10h-.1m4 20h.1m1 1h-.1m0 3h.1m1-4h-.1m2 2h.1m1-1h-.1m1-19h.1m2 23h-.1m0-16h.1m2-3h-.1m1-9h.1m4 4h-.1m2 6h.1m3 12h-.1m1-16h.1m1 20h-.1m0 3h.1m1-28h-.1m2 17h.1m1-5h-.1m3-2h.1m1-3h-.1m1 8h.1m2-10h-.1m1-3h.1m0 15h-.1m4-10h.1m0-3h-.1m1 5h.1m1 4h-.1m1-2h.1m5-11h-.1m1 23h.1m7-7h-.1m3 12h.1m1-10h-.1m0-9h.1m2 6h-.1m3-13h.1m0-5h-.1m0 21h.1m0 3h-.1m1-15h.1m3 19h-.1m2-23h.1m1 20h-.1m5-18h.1m3 16h-.1m7-11h.1m6 9h-.1m5 1h.1m2-23h-.1m5 24h.1m1 5h-.1m2-8h.1m0-19h-.1m2 29h.1m0-5h-.1m3 2h.1m1-27h-.1m0 16h.1m1-6h-.1m1 17h.1m2-8h-.1m1 11h.1m7-9h-.1m0-4h.1m2-6h-.1m3-6h.1m5 11h-.1m1-12h.1m0 24h-.1m3 2h.1m4-30h-.1m12 3h.1m1 9h-.1m1 3h.1m2-7h-.1m2-7h.1m2 3h-.1m3 23h.1m1-16h-.1m1-10h.1m6 27h-.1m1-17h.1m12-11h-.1m1 21h.1m8 8h-.1m6-3h.1m3-1h-.1m6-13h.1m9 15h-.1m5-17h.1m4 11h-.1m1-19h.1m7 9h-.1m1-10h.1m2 9h-.1m3-6h.1m1 23h-.1m7-21h.1m2 17h-.1m2-13h.1m1 14h-.1m1-23h.1m1 2h-.1m2 17h.1m0-20h-.1m1 13h.1m3-8h-.1m0 16h.1m4-10h-.1m3 7h.1m1 11h-.1m4 0h.1m10-22h-.1m0 8h.1m2-12h-.1m6 25h.1m4-26h-.1m1 12h.1m1-13h-.1m0 19h.1m1-16h-.1m0 6h.1m8-3h-.1m4 21h.1m2-25h-.1m1 16h.1m2-7h-.1m1 18h.1m0-26h-.1m0 3h.1m1 9h-.1m5 6h.1m6-16h-.1m3 10h.1m1-2h-.1m3 10h.1m2-15h-.1m0 21h.1m7-19h-.1m3 8h.1m2-13h-.1m1 16h.1m2-9h-.1m3-5h.1m1 9h-.1m0 10h.1m2-25h-.1m1 13h.1m1-6h-.1m1-6h.1m1 26h-.1m0-16h.1m0 12h-.1m1-26h.1m1 11h-.1m1 14h.1m2 3h-.1m0-21h.1m2 14h-.1m10-16h.1m3-4h-.1m0 25h.1m2-18h-.1m0 12h.1m3 10h-.1m1-21h.1m2 18h-.1m2-11h.1m1-7h-.1m3-1h.1m1 4h-.1m5 4h.1m0 9h-.1m2-13h.1m3 16h-.1m2-27h.1m5 29h-.1m2-26h.1m4 12h-.1m2-13h.1m0 9h-.1m1 20h.1m1-8h-.1m0-18h.1m2 23h-.1m2-23h.1m2-3h-.1m4 5h.1m2-8h-.1m4 7h.1m2 23h-.1m1-29h.1m1 5h-.1m2-6h.1m2 13h-.1m0-9h.1m2 23h-.1m0-9h.1m1-11h-.1m2 7h.1m7 6h-.1m1-16h.1m3 12h-.1m0-15h.1m4 26h-.1m3-4h.1m1-22h-.1m1 3h.1m1-2h-.1m3 4h.1m1 19h-.1m3 4h.1m2-14h-.1m1 7h.1m1 9h-.1m0-19h.1m2 16h-.1m2-6h.1m0-6h-.1m2 6h.1m0-6h-.1m1-11h.1m1 18h-.1m2-8h.1m1 6h-.1m5 7h.1m0-20h-.1m1-2h.1m1-4h-.1m2 22h.1m1-8h-.1m1 13h.1m1-21h-.1m2-5h.1m1 26h-.1m0-19h.1m1-6h-.1m0 15h.1m1-5h-.1m0 6h.1m1 5h-.1m1-23h.1m0 29h-.1m5-6h.1m1 3h-.1m5-15h.1m5-8h-.1m2 7h.1m1-12h-.1m4 7h.1m1-7h-.1m0 20h.1m2 9h-.1m1-23h.1m1 16h-.1m0 8h.1m1-17h-.1m1-7h.1m3-1h-.1m1 12h.1m0 13h-.1m1-10h.1m2 2h-.1m2 5h.1m1-2h-.1m1-12h.1m3 15h-.1m3-1h.1m0-20h-.1m1 18h.1m1 6h-.1m0-12h.1m4 7h-.1m0-25h.1m0 5h-.1m0 5h.1m1-9h-.1m0 20h.1m2-14h-.1m1 15h.1m1 7h-.1m1-11h.1m0 2h-.1m0-9h.1m2 16h-.1m5-3h.1m1 3h-.1m1-24h.1m2 0h-.1m1 14h.1m1 13h-.1m1-18h.1m4-3h-.1m4 3h.1m1 8h-.1m3-17h.1m0 9h-.1m5-5h.1m0-7h-.1m0 21h.1m2-14h-.1m0-2h.1m1 13h-.1m2-7h.1m1 18h-.1m1-5h.1m5-15h-.1m11 18h.1m2-16h-.1m2-6h.1m4-2h-.1m2 25h.1m1-24h-.1m0 21h.1m3-22h-.1m0 18h.1m0 10h-.1m1-14h.1m1-9h-.1m0 3h.1m0 9h-.1m4 5h.1m1-22h-.1m0 3h.1m1 13h-.1m1-5h.1m0-3h-.1m0 20h.1m3-1h-.1m7-7h.1m1-6h-.1m1-7h.1m1-6h-.1m0 25h.1m1-7h-.1m6 7h.1m1-15h-.1m1-14h.1m1 29h-.1m1-16h.1m1-5h-.1m2 18h.1m1 3h-.1m3-21h.1m1-5h-.1m3 11h.1m2-15h-.1m3 21h.1m1-7h-.1m2 13h.1m3-16h-.1m4 12h.1m3-1h-.1m0 5h.1m2-18h-.1m0 18h.1m4-4h-.1m0-15h.1m1 4h-.1m1 3h.1m1-7h-.1m2 0h.1m3-3h-.1m0 18h.1m2-13h-.1m3 5h.1m1-7h-.1m4 0h.1m0-4h-.1m3-1h.1m1 9h-.1m3 9h.1m2 10h-.1m2-18h.1m2 5h-.1m0 5h.1m1-18h-.1m1 11h.1m4 1h-.1m0-13h.1m0-4h-.1m1 8h.1m3 16h-.1m0-6h.1m3 4h-.1m1 3h.1m2-20h-.1m4 3h.1m2 17h-.1m2-14h.1m3 20h-.1m7-14h.1m2 14h-.1m1-14h.1m16 1h-.1m2-3h.1m0-5h-.1m1 17h.1m0-8h-.1m0-15h.1m2 21h-.1m4 7h.1m2-8h-.1m1-7h.1m1-15h-.1m0 13h.1m3 9h-.1m0-22h.1m3-1h-.1m0 7h.1m2 14h-.1m3 5h.1m0-7h-.1m1-13h.1m1 14h-.1m4 4h.1m1-25h-.1m1 31h.1m2-19h-.1m0-5h.1m2 19h-.1m1 3h.1m0-19h-.1m1 8h.1m0 5h-.1m2 4h.1m1-8h-.1m2-3h.1m1-11h-.1m1 25h.1m2-24h-.1m2 14h.1m2-4h-.1m7 7h.1m3-13h-.1m0 3h.1m1-6h-.1m2-7h.1m1 15h-.1m5-13h.1m1 11h-.1m3-6h.1m1-6h-.1m2 3h.1m1 10h-.1m2-2h.1m0-10h-.1m1 26h.1m2-11h-.1m0 10h.1m0-6h-.1m1-2h.1m1-10h-.1m0 6h.1m5-5h-.1m3 15h.1m0-5h-.1m2-7h.1m3-1h-.1m4 0h.1m1-11h-.1m3 1h.1m2 3h-.1m5-4h.1m-36 38h-.1m-4-5h.1m-8 3h-.1m-3 3h.1m-2-5h-.1m-2 1h.1m-15 5h-.1m0 18h.1m-1 5h-.1m-3-18h.1m0 16h-.1m-1-29h.1m0 2h-.1m-3 14h.1m-1-3h-.1m0-10h.1m-1 18h-.1m-7 1h.1m-5 3h-.1m-1-15h.1m0-7h-.1m0 19h.1m-1 5h-.1m-1-24h.1m-2 15h-.1m-3 1h.1m-3-1h-.1m0 8h.1m0-23h-.1m-2 17h.1m-1-5h-.1m-5 1h.1m-1 6h-.1m-4-4h.1m-1-13h-.1m-1 10h.1m0 14h-.1m0-5h.1m-4 5h-.1m-2-21h.1m0-3h-.1m-5-3h.1m-6 24h-.1m-1-3h.1m-5 0h-.1m-1-17h.1m0 7h-.1m-1 9h.1m0-12h-.1m-1 2h.1m-4 16h-.1m-1-21h.1m0 16h-.1m-1-23h.1m-2 8h-.1m0 6h.1m-4 2h-.1m0-15h.1m0 18h-.1m-3-10h.1m-6-7h-.1m-1 18h.1m-1-16h-.1m-1 24h.1m-3-13h-.1m-6-15h.1m-4 16h-.1m-1 13h.1m-1-3h-.1m-2-13h.1m-5-5h-.1m0-3h.1m-1 18h-.1m-2-10h.1m-1 6h-.1m-1 10h.1m-9-8h-.1m-3-6h.1m-1 7h-.1m-2-14h.1m-1 16h-.1m-2 1h.1m-1-3h-.1m-1-4h.1m-1-14h-.1m-5-5h.1m-3 6h-.1m-1 14h.1m0 3h-.1m-3-20h.1m-2 10h-.1m-3-12h.1m0 30h-.1m-1-16h.1m0-3h-.1m-1 11h.1m-1-10h-.1m-3 2h.1m0 2h-.1m-3-12h.1m-1 17h-.1m-2-1h.1m-4-14h-.1m-2 16h.1m-1-20h-.1m-1 4h.1m-1 4h-.1m-2 14h.1m-4-16h-.1m0-2h.1m-2 6h-.1m-2 16h.1m-4-18h-.1m-2 7h.1m0 9h-.1m-2-23h.1m-1 27h-.1m-1-7h.1m-1-4h-.1m-2-12h.1m-1 4h-.1m-2 12h.1m-1-6h-.1m0-5h.1m0 17h-.1m-3-28h.1m0 16h-.1m-2-5h.1m-1 9h-.1m-2-9h.1m0 5h-.1m-4 14h.1m-1-23h-.1m0 3h.1m-5-8h-.1m-3 25h.1m-1-11h-.1m-1-14h.1m-1 8h-.1m-1 9h.1m-1 2h-.1m-1 5h.1m-3 0h-.1m-3-27h.1m0 4h-.1m-8 5h.1m-1 12h-.1m-1-3h.1m-3 12h-.1m0-16h.1m-2 13h-.1m0-22h.1m-1 12h-.1m0-5h.1m-2 7h-.1m-1-4h.1m-2-10h-.1m0 18h.1m-1-20h-.1m-1 18h.1m-1 4h-.1m-1-24h.1m0 27h-.1m0-16h.1m-3 11h-.1m-2-2h.1m-1 10h-.1m0-23h.1m-4 2h-.1m0 19h.1m-1-11h-.1m-1 12h.1m0-4h-.1m0-3h.1m-5-14h-.1m-3-5h.1m-8 4h-.1m-2 17h.1m-2-18h-.1m-1 6h.1m-2-11h-.1m-6 5h.1m-2 5h-.1m-5-10h.1m0 19h-.1m0-7h.1m0 4h-.1m-2 12h.1m-1-29h-.1m-2 4h.1m-1 8h-.1m-1-11h.1m-1 18h-.1m0 3h.1m-2-1h-.1m-2-19h.1m0 24h-.1m-3-2h.1m-2-16h-.1m0 9h.1m0 5h-.1m-3-14h.1m-1-5h-.1m0 4h.1m-2-1h-.1m0-7h.1m-3 20h-.1m-3-19h.1m-1 3h-.1m-3 17h.1m-2 9h-.1m0-10h.1m-1 4h-.1m0 7h.1m-1-19h-.1m-6 6h.1m-8 0h-.1m-1 2h.1m0 3h-.1m-3 8h.1m-1-7h-.1m-5-19h.1m-4-4h-.1m-1 22h.1m-1-22h-.1m-5 27h.1m-4-1h-.1m0 4h.1m-3-14h-.1m-1-13h.1m-1 10h-.1m-1-10h.1m-1 8h-.1m-1-6h.1m-2 16h-.1m0-17h.1m-2 5h-.1m-2 1h.1m0 14h-.1m-4-3h.1m-1-5h-.1m-1-6h.1m-2-6h-.1m0 6h.1m-1 2h-.1m-3-13h.1m-1-1h-.1m0 8h.1m-4-8h-.1m-1 19h.1m-2-13h-.1m-1 3h.1m-3 16h-.1m0-19h.1m-1 3h-.1m-3-1h.1m-1 12h-.1m-1-19h.1m-1 26h-.1m-1-24h.1m-6 3h-.1m-1 3h.1m0 2h-.1m-2 19h.1m0-25h-.1m-3 1h.1m0 13h-.1m-8-13h.1m-8 24h-.1m-3-20h.1m-6 2h-.1m-2-4h.1m-4 13h-.1m-3 4h.1m-3-7h-.1m-8 4h.1m-1-9h-.1m-3-7h.1m-1 4h-.1m-4-7h.1m-3 1h-.1m-6 20h.1m-3-20h-.1m-6 19h.1m-1-11h-.1m-1 18h.1m-4-1h-.1m-1-28h.1m-3 1h-.1m-5 10h.1m-1-7h-.1m-1 18h.1m-1-16h-.1m-3 12h.1m-2 11h-.1m0-2h.1m-8-1h-.1m0-3h.1m-2-6h-.1m0-2h.1m-1-15h-.1m0 12h.1m-2 14h-.1m-5 3h.1m-1-16h-.1m0 3h.1m-2-2h-.1m-2-4h.1m-3 4h-.1m-1-9h.1m0 22h-.1m-2-24h.1m0 9h-.1m-1-12h.1m-2 23h-.1m0 6h.1m-2-17h-.1m-6 0h.1m0-5h-.1m-1 15h.1m-3-20h-.1m-2 3h.1m-4-3h-.1m-1 25h.1m0 3h-.1m-4 0h.1m-1-19h-.1m-5 5h.1m-6-16h-.1m-1 11h.1m-1 15h-.1m0-22h.1m-6 21h-.1m-6-25h.1m-5 2h-.1m0 4h.1m-1 19h-.1m-1-20h.1m-2 4h-.1m-1 12h.1m0 9h-.1m-1-18h.1m0-7h-.1m-4 9h.1m-3 9h-.1m-1-9h.1m-1 17h-.1m-4-4h.1m-2-7h-.1m-4 10h.1m-3-2h-.1m-4-22h.1m-1 22h-.1m-3-24h.1m-2 12h-.1m-5 3h.1m-6-4h-.1m-2 15h.1m0-25h-.1m-1-6h.1m-1 14h-.1m-3 3h.1m0-7h-.1m-5-4h.1m-2 16h-.1m-1-16h.1m-5 3h-.1m-1 15h.1m-1 6h-.1m-1-17h.1m-1-9h-.1m-3 9h.1m-4-9h-.1m-1 21h.1m-2-8h-.1m-6 3h.1m0-11h-.1m-7 0h.1m-3 3h-.1m-1-9h.1m-2 17h-.1m-3-8h.1m-4 9h-.1m-5 2h.1m-1-21h-.1m-4 19h.1m-1-9h-.1m-1 8h.1m-7 5h-.1m-3-5h.1m-4-12h-.1m-3-2h.1m-3 12h-.1m-3-8h.1m-1 7h-.1m-3-9h.1m0 5h-.1m-11 18h.1m-1-3h-.1m0-26h.1m-3 29h-.1m-1-23h.1m-1 22h-.1m-3-17h.1m-2 5h-.1m-4-16h.1m-5 24h-.1m-1-25h.1m-2 27h-.1m-2-23h.1m-6 11h-.1m0 13h.1m-8-29h-.1m0 3h.1m-7 7h-.1m-4 21h.1m-8-27h-.1m-2 15h.1m-3-1h-.1m-2 12h.1m0-20h-.1m-2 1h.1m-1 9h-.1m-2-8h.1m-2-7h-.1m-4 5h.1m-2 10h-.1m-2-12h.1m-1-4h-.1m0 7h.1m-1-5h-.1m-8 12h.1m-2-10h-.1m0 3h.1m-2-4h-.1m-1 22h.1m-4-7h-.1m-1 5h.1m-1 4h-.1m0-26h.1m-2 16h-.1m-2-12h.1m-3 2h-.1m-1-6h.1m0 6h-.1m-2-7h.1m-2 13h-.1m-3-6h.1m-1 2h-.1m-3-1h.1m-1 2h-.1m-2 12h.1m0 3h-.1m-2-19h.1m-2-4h-.1m-1 2h.1m-1 9h-.1m-2-10h.1m-1 14h-.1m-2-13h.1m-7 22h-.1m-1-7h.1m0-10h-.1m0-10h.1m-2 6h-.1m-1 16h.1m-2-18h-.1m-1 21h.1m-1-11h-.1m-2-10h.1m-1 21h-.1m0-17h.1m-1-4h-.1m-2 18h.1m-1-20h-.1m0 13h.1m0-7h-.1m-2-3h.1m-1-8h-.1m-2 2h.1m-2 25h-.1m0 2h.1m-1-27h-.1m0 7h.1m-2 5h-.1m-2 9h.1m-5-6h-.1m-2-16h.1m-5 4h-.1m-1-5h.1m18 38h-.1m5 1h.1m4-4h-.1m1 5h.1m8-4h-.1m2 10h.1m3-14h-.1m7 6h.1m3-5h-.1m4 11h.1m8-10h-.1m3 19h.1m2-14h-.1m6 2h.1m0 13h-.1m2-17h.1m2 10h-.1m2-14h.1m1 13h-.1m3 3h.1m5-8h-.1m3-2h.1m2-6h-.1m8 3h.1m6 14h-.1m4 2h.1m5-8h-.1m1 13h.1m4-10h-.1m2-7h.1m11-7h-.1m2 7h.1m1 18h-.1m2-5h.1m2-4h-.1m2-15h.1m4 19h-.1m0-10h.1m5 4h-.1m9 15h.1m3-5h-.1m5-25h.1m2 23h-.1m2-7h.1m5-10h-.1m0 13h.1m1-8h-.1m8-10h.1m3 10h-.1m1-5h.1m6 9h-.1m3-8h.1m3 1h-.1m0 9h.1m6 2h-.1m4-18h.1m3 20h-.1m5-7h.1m2 15h-.1m1-21h.1m1-5h-.1m0 25h.1m2-16h-.1m7-2h.1m0 2h-.1m8-2h.1m2-4h-.1m1 16h.1m2-19h-.1m3 29h.1m8-16h-.1m4-4h.1m1 12h-.1m1-23h.1m2 31h-.1m1-20h.1m7 5h-.1m0-9h.1m11-6h-.1m0 21h.1m5-11h-.1m4-11h.1m4 6h-.1m0-2h.1m6 2h-.1m1-4h.1m1 10h-.1m4-1h.1m1-4h-.1m0 18h.1m4-19h-.1m9 7h.1m7 8h-.1m1-21h.1m6 17h-.1m1-15h.1m4 22h-.1m2-11h.1m2 2h-.1m1 13h.1m4-19h-.1m1 11h.1m0-17h-.1m2 22h.1m8-4h-.1m4-19h.1m5 3h-.1m1 7h.1m1 4h-.1m1-14h.1m2 12h-.1m0-11h.1m3-4h-.1m4 1h.1m1 30h-.1m0-20h.1m2-7h-.1m3 0h.1m0-4h-.1m1 20h.1m5 8h-.1m5-24h.1m2 17h-.1m0 8h.1m2-16h-.1m4 0h.1m1 7h-.1m2-18h.1m1 4h-.1m8 2h.1m5-5h-.1m2 22h.1m2-22h-.1m1 17h.1m5 9h-.1m4-22h.1m1 24h-.1m5-21h.1m3 16h-.1m2 0h.1m3-6h-.1m14-16h.1m0 19h-.1m7-10h.1m3-4h-.1m5 12h.1m6-5h-.1m7-2h.1m3 0h-.1m3 10h.1m2-6h-.1m2-18h.1m1 4h-.1m3 18h.1m14 6h-.1m2-4h.1m9-8h-.1m9 1h.1m2-13h-.1m2 13h.1m11 1h-.1m6 4h.1m3-10h-.1m5 12h.1m1-14h-.1m4 12h.1m0-16h-.1m0 24h.1m7-10h-.1m1-6h.1m2-3h-.1m2 19h.1m0-7h-.1m1-9h.1m6 7h-.1m2-3h.1m1 7h-.1m6-12h.1m4 7h-.1m1-9h.1m1-4h-.1m2 4h.1m1-6h-.1m0 25h.1m1-15h-.1m5-13h.1m1 27h-.1m0-2h.1m2-19h-.1m1 23h.1m3-29h-.1m2 21h.1m0-8h-.1m0-13h.1m2 2h-.1m2 21h.1m2-2h-.1m0 9h.1m1-11h-.1m0-11h.1m1 6h-.1m3 6h.1m0-15h-.1m0 23h.1m1-28h-.1m0 22h.1m2-11h-.1m0-5h.1m1-2h-.1m2 5h.1m5 4h-.1m1-7h.1m4-6h-.1m6 0h.1m3 7h-.1m0 15h.1m1-12h-.1m1-7h.1m2 25h-.1m0-8h.1m1-6h-.1m1 15h.1m0-20h-.1m4-4h.1m3 11h-.1m0 12h.1m0-2h-.1m0-21h.1m2 25h-.1m1-6h.1m0-24h-.1m1 16h.1m1-7h-.1m1 19h.1m1-11h-.1m8 4h.1m1-19h-.1m8 9h.1m2-4h-.1m1 8h.1m2 11h-.1m1 1h.1m2-11h-.1m1-6h.1m2 18h-.1m0-15h.1m2-15h-.1m1 21h.1m1-18h-.1m0 9h.1m2 14h-.1m1-6h.1m1-10h-.1m4 5h.1m0-11h-.1m1 15h.1m2 5h-.1m2-8h.1m2 6h-.1m1-12h.1m1 4h-.1m2 11h.1m0-24h-.1m3 28h.1m0-8h-.1m2-11h.1m2 21h-.1m2-18h.1m0 14h-.1m2-18h.1m1 13h-.1m0 10h.1m2-11h-.1m1-17h.1m2 2h-.1m1 24h.1m2-23h-.1m1 14h.1m0-19h-.1m0 4h.1m2 22h-.1m2-25h.1m3-1h-.1m0 26h.1m0-6h-.1m2-15h.1m2 20h-.1m1-6h.1m8 4h-.1m0-9h.1m0-4h-.1m3-2h.1m2 20h-.1m2-9h.1m1-5h-.1m1-1h.1m0 16h-.1m2-13h.1m4 13h-.1m1-2h.1m3-10h-.1m1-7h.1m0-11h-.1m1 7h.1m0 24h-.1m2-23h.1m4 8h-.1m3 6h.1m2 7h-.1m1-2h.1m3 0h-.1m0-28h.1m1 17h-.1m7 13h.1m0-16h-.1m1-2h.1m2 3h-.1m0 9h.1m1-22h-.1m3 15h.1m7 4h-.1m0-10h.1m3 9h-.1m4-5h.1m0 8h-.1m3 4h.1m1-10h-.1m4-6h.1m1 9h-.1m0-19h.1m4 2h-.1m3 2h.1m2 18h-.1m4-2h.1m0-7h-.1m2-5h.1m2-2h-.1m3 22h.1m1-26h-.1m1-3h.1m1 25h-.1m1-14h.1m2 5h-.1m0-6h.1m1-10h-.1m1 27h.1m1-3h-.1m3 6h.1m2-15h-.1m0-10h.1m1 25h-.1m1-22h.1m1 16h-.1m1-22h.1m2 10h-.1m0 7h.1m1-17h-.1m1 12h.1m1 13h-.1m0-24h.1m1 26h-.1m2-20h.1m2 22h-.1m0-23h.1m1 5h-.1m1 10h.1m2 6h-.1m5-24h.1m1 23h-.1m3-18h.1m0 2h-.1m1-7h.1m2 5h-.1m2 18h.1m1-20h-.1m2-3h.1m1 20h-.1m3-20h.1m0-2h-.1m3 14h.1m5 6h-.1m1-5h.1m1 11h-.1m3-17h.1m0 18h-.1m3-24h.1m0-6h-.1m2 6h.1m2-5h-.1m0 6h.1m0 4h-.1m1 6h.1m0 5h-.1m1-19h.1m4 17h-.1m2-13h.1m2 8h-.1m1-4h.1m1 4h-.1m3 8h.1m3-6h-.1m4-5h.1m2-11h-.1m10 10h.1m34-11h-.1m-40 47h.1m0 10h-.1m-6 7h.1m-2-15h-.1m-3 4h.1m-3 7h-.1m0-13h.1m-3-6h-.1m-9 14h.1m0-8h-.1m-3 15h.1m-1-10h-.1m0-8h.1m-3 16h-.1m-2-7h.1m0-14h-.1m-1 23h.1m-2-10h-.1m-1 9h.1m-3-17h-.1m-1-9h.1m-3-2h-.1m-1 18h.1m-2 10h-.1m-2-24h.1m-9 24h-.1m-5-18h.1m-5 3h-.1m-3 6h.1m-1 12h-.1m-3-19h.1m-1-3h-.1m-5 3h.1m-2-2h-.1m-2-8h.1m-1 9h-.1m-3-8h.1m-3 23h-.1m-2 4h.1m-1-6h-.1m-1-3h.1m-3-9h-.1m-1 3h.1m-1 3h-.1m-5 2h.1m-1 2h-.1m-4-17h.1m0 24h-.1m-2-29h.1m-11 14h-.1m0 3h.1m-1 5h-.1m-2 4h.1m-2-5h-.1m-2-19h.1m-2 29h-.1m-1-29h.1m-3 11h-.1m-3 13h.1m-1-26h-.1m-2 1h.1m0 3h-.1m0 17h.1m-1 8h-.1m-2-3h.1m0-20h-.1m-1 16h.1m-2 8h-.1m0-28h.1m-2 23h-.1m-1-19h.1m-1 16h-.1m-3-17h.1m0 6h-.1m-6-7h.1m-1 24h-.1m0-15h.1m-2 10h-.1m-1-7h.1m0-16h-.1m-2 20h.1m-2-6h-.1m0-12h.1m0 4h-.1m-1-3h.1m-3-1h-.1m0 20h.1m-2-11h-.1m-1 5h.1m-4 13h-.1m0-6h.1m-2-14h-.1m-2 12h.1m-2-14h-.1m-1 24h.1m0-8h-.1m-1-17h.1m-6-3h-.1m0 25h.1m-2 2h-.1m-3-3h.1m-4-5h-.1m-1-22h.1m-7 23h-.1m0 3h.1m-2-16h-.1m-4-9h.1m-1 2h-.1m-1 2h.1m-1 12h-.1m-2 8h.1m-1-9h-.1m-2 6h.1m-3 1h-.1m-1-11h.1m-1-2h-.1m-3 14h.1m-2-2h-.1m-1-15h.1m0 18h-.1m-1-16h.1m-4 10h-.1m-3-4h.1m0-11h-.1m-4 11h.1m0-12h-.1m-2 23h.1m-1-22h-.1m0 10h.1m-1-7h-.1m-2 8h.1m-1-8h-.1m0 19h.1m-2-22h-.1m0 26h.1m0-7h-.1m-1-21h.1m-3 13h-.1m-4-13h.1m-1 28h-.1m-1-6h.1m0-12h-.1m-3 0h.1m0-11h-.1m-1 25h.1m-5-17h-.1m0-2h.1m-3 6h-.1m-1-8h.1m-1 15h-.1m-2-12h.1m-2-4h-.1m-2 5h.1m-1 6h-.1m-3-1h.1m-2 8h-.1m0-19h.1m-2 25h-.1m-6-20h.1m-2-9h-.1m0 8h.1m-3-5h-.1m0 3h.1m-1 15h-.1m-2-7h.1m0 12h-.1m0-2h.1m0-21h-.1m-2-3h.1m-1 8h-.1m-1-6h.1m-1 22h-.1m-2-21h.1m-2 6h-.1m-3-5h.1m-1 26h-.1m-3-15h.1m0 5h-.1m0-11h.1m-2-1h-.1m-2 0h.1m-1 11h-.1m-1 12h.1m-1-27h-.1m-2 14h.1m-1-11h-.1m0 23h.1m-3-1h-.1m-2-7h.1m0-11h-.1m-2 13h.1m-2-11h-.1m-1 12h.1m-1-25h-.1m0 10h.1m0 11h-.1m-11-3h.1m-2 10h-.1m-1-4h.1m0-12h-.1m-2 13h.1m-1 2h-.1m0-27h.1m-4 7h-.1m-1 4h.1m-2 8h-.1m-1-18h.1m-2 21h-.1m-1-12h.1m-2 21h-.1m-3-28h.1m0-3h-.1m-5 15h.1m-2-11h-.1m-1-3h.1m-2 28h-.1m-1-14h.1m-3-11h-.1m-3 28h.1m0-29h-.1m-5 6h.1m-5 1h-.1m0 13h.1m-2-11h-.1m-10-2h.1m0 13h-.1m-3-7h.1m-2-13h-.1m-12-1h.1m-3 19h-.1m0 6h.1m-2-4h-.1m-2 8h.1m-2-6h-.1m-3-16h.1m-4 5h-.1m-1-3h.1m-15 16h-.1m-3 3h.1m-1-14h-.1m-2 5h.1m-3-17h-.1m-1 5h.1m-1 7h-.1m-4-7h.1m-4 3h-.1m-2-9h.1m-12-3h-.1m-7 11h.1m-2-8h-.1m-4 3h.1m-4 2h-.1m-30-3h.1m-2 11h-.1m-4-15h.1m-6 11h-.1m-14-11h.1m-17-1h-.1m-3 4h.1m0-4h-.1m-8 6h.1m-2-3h-.1m-3 25h.1m-2-16h-.1m-1 8h.1m-4-10h-.1m-3-3h.1m-14 20h-.1m-2-10h.1m-1-7h-.1m0 17h.1m0-13h-.1m-3 3h.1m0-10h-.1m-10 13h.1m-3 8h-.1m-3 2h.1m-1-28h-.1m-5 16h.1m0 8h-.1m-6-21h.1m-2 26h-.1m-2-8h.1m-12-1h-.1m-13-21h.1m-13 8h-.1m-2 5h.1m-5 9h-.1m-3-16h.1m-11 2h-.1m-6 18h.1m-12-1h-.1m-4-21h.1m-6 17h-.1m-4-18h.1m-5 15h-.1m-3 4h.1m-4-21h-.1m33 39h.1m42-9h-.1m20 1h.1m14 21h-.1m13-19h.1m6 3h-.1m1 4h.1m4 1h-.1m5 1h.1m24 4h-.1m8-14h.1m1 12h-.1m106-8h.1m14 23h-.1m39-5h.1m7-6h-.1m11 2h.1m13-8h-.1m2 10h.1m0-4h-.1m5-15h.1m2 20h-.1m2-10h.1m0-9h-.1m2 8h.1m3-3h-.1m1 12h.1m3-20h-.1m1 11h.1m8 7h-.1m9 3h.1m2-15h-.1m8 3h.1m2 15h-.1m3-12h.1m0 12h-.1m4-7h.1m2 14h-.1m3-2h.1m2-18h-.1m2-5h.1m0 15h-.1m3-1h.1m0-18h-.1m1 6h.1m4-5h-.1m4 7h.1m3-6h-.1m0 17h.1m1 6h-.1m4 1h.1m2-20h-.1m1 21h.1m1-27h-.1m2-1h.1m3 17h-.1m2 8h.1m2-8h-.1m1 9h.1m1-25h-.1m3 28h.1m0-3h-.1m1-14h.1m4-4h-.1m2-4h.1m2 7h-.1m2-12h.1m0 29h-.1m0-12h.1m9 13h-.1m3-24h.1m7 25h-.1m4-1h.1m0-24h-.1m0-4h.1m7 1h-.1m7 4h.1m1-7h-.1m2 11h.1m3-10h-.1m4 0h.1m1 16h-.1m8 2h.1m1-4h-.1m8-15h.1m1 7h-.1m1 17h.1m3-15h-.1m2-1h.1m0 3h-.1m5 10h.1m5 8h-.1m3-26h.1m2 8h-.1m4 10h.1m3-10h-.1m2 4h.1m8-13h-.1m4 24h.1m2-11h-.1m0-11h.1m4 16h-.1m3 3h.1m0-16h-.1m1 5h.1m5 16h-.1m1-11h.1m0-11h-.1m1 3h.1m2-5h-.1m0 6h.1m2-2h-.1m1 2h.1m2 3h-.1m1 5h.1m0-18h-.1m4 18h.1m0-5h-.1m10 1h.1m4 17h-.1m2-19h.1m3 8h-.1m2 2h.1m2 8h-.1m1-8h.1m6-21h-.1m5 20h.1m2 2h-.1m0-16h.1m3 2h-.1m4 21h.1m11-18h-.1m3 5h.1m0 7h-.1m1-17h.1m4 3h-.1m1 8h.1m3-13h-.1m1 7h.1m3 11h-.1m2-5h.1m0 12h-.1m2-11h.1m5-3h-.1m6-9h.1m6 9h-.1m2-16h.1m2 28h-.1m1-15h.1m0-10h-.1m2 27h.1m2-27h-.1m4 19h.1m1-16h-.1m1 9h.1m2-11h-.1m2 21h.1m2-19h-.1m0 21h.1m8-14h-.1m4 7h.1m1-7h-.1m3 5h.1m4-14h-.1m4-5h.1m2 32h-.1m1-29h.1m2 3h-.1m1 10h.1m2 14h-.1m9-22h.1m1 10h-.1m3 0h.1m0-17h-.1m1 25h.1m5-19h-.1m7 1h.1m4 1h-.1m5 13h.1m-33 13h-.1m-6 18h.1m0-12h-.1m-8 4h.1m-11-8h-.1m-5 2h.1m0 6h-.1m-14-7h.1m-4 23h-.1m-2-20h.1m-1 10h-.1m0-14h.1m-3-1h-.1m-8 23h.1m-3 5h-.1m0-11h.1m-3 4h-.1m-1 4h.1m-3-25h-.1m-1 27h.1m-3-27h-.1m-9 8h.1m-6 11h-.1m-8 6h.1m-4-20h-.1m-1 17h.1m-2-17h-.1m-1-9h.1m-2 4h-.1m-1 10h.1m-5 14h-.1m0-27h.1m-2 16h-.1m-1-17h.1m0 26h-.1m-2-3h.1m0-14h-.1m-1 16h.1m-3-7h-.1m-4-8h.1m-1-6h-.1m0 4h.1m-1 2h-.1m-3-7h.1m-4 16h-.1m-7 11h.1m-2-19h-.1m-11-6h.1m0 20h-.1m0 3h.1m-2-14h-.1m-1 5h.1m-4 3h-.1m-2-15h.1m-3-7h-.1m-3 21h.1m0-3h-.1m-9-11h.1m-1 12h-.1m-3-16h.1m-3 22h-.1m-3-21h.1m-4 0h-.1m-2 17h.1m-2-4h-.1m-6 4h.1m0-8h-.1m-2 17h.1m0-26h-.1m-1 17h.1m-4-5h-.1m-8 0h.1m-5 11h-.1m-4-10h.1m-6 11h-.1m-2-15h.1m-3-9h-.1m-1 13h.1m-2-1h-.1m-1-11h.1m-6 24h-.1m-1-11h.1m0-8h-.1m-3 5h.1m-3 3h-.1m-1 11h.1m-1-8h-.1m0-7h.1m-7-12h-.1m-2 5h.1m-3 1h-.1m-1 13h.1m-2-18h-.1m-2 7h.1m-1 14h-.1m-1-23h.1m-6 11h-.1m-1 12h.1m-9-15h-.1m-6-6h.1m-3 21h-.1m-3 6h.1m0-22h-.1m-2 9h.1m-1-4h-.1m-4-10h.1m-7-1h-.1m-1 18h.1m-3 5h-.1m-1 6h.1m0-30h-.1m-2 5h.1m-5 8h-.1m-3 17h.1m0-18h-.1m-2 17h.1m-1-13h-.1m-3-14h.1m-12 9h-.1m-2-7h.1m-1 13h-.1m-2-14h.1m-4 1h-.1m-2-4h.1m0 21h-.1m-2-13h.1m-4-4h-.1m-1 3h.1m-1 8h-.1m-2-14h.1m-12 1h-.1m-2 28h.1m-5-31h-.1m-2 16h.1m-1 5h-.1m0 3h.1m-7 6h-.1m-2-25h.1m0 7h-.1m-6-4h.1m-63 2h-.1m-132-2h.1m-22 11h-.1m92 21h.1m79 22h-.1m3 1h.1m9 1h-.1m18-11h.1m4-12h-.1m7 20h.1m4-13h-.1m3 9h.1m1-3h-.1m1-13h.1m1 18h-.1m4 5h.1m4-4h-.1m0-22h.1m5-4h-.1m5 5h.1m2-4h-.1m6 9h.1m1 20h-.1m0-6h.1m1-23h-.1m1 23h.1m5-14h-.1m3 4h.1m0-14h-.1m7 22h.1m1-8h-.1m3 2h.1m3 8h-.1m5 0h.1m3-18h-.1m3-7h.1m1 11h-.1m2 14h.1m1-4h-.1m1-12h.1m6 14h-.1m3 5h.1m4-12h-.1m2-12h.1m2 8h-.1m1-2h.1m1 13h-.1m1-20h.1m1 4h-.1m1-5h.1m1 20h-.1m3 8h.1m2-26h-.1m5 24h.1m8-17h-.1m1 5h.1m4 13h-.1m1-26h.1m1 17h-.1m1-13h.1m3 0h-.1m3 16h.1m0-5h-.1m3-2h.1m0-10h-.1m2 24h.1m5-20h-.1m1 20h.1m10-20h-.1m2 2h.1m1 13h-.1m1-22h.1m4 10h-.1m8 0h.1m14-10h-.1m9 3h.1m1 24h-.1m12-22h.1m2 7h-.1m17 10h.1m18-5h-.1m2-5h.1m15-10h-.1m2 10h.1m23-5h-.1m3-6h.1m8 5h-.1m1-10h.1m5 16h-.1m13-10h.1m3 2h-.1m5-4h.1m10-2h-.1m8 0h.1m1 21h-.1m4-13h.1m0 19h-.1m2-28h.1m9 29h-.1m3-8h.1m19-17h-.1m1 14h.1m1-4h-.1m1 8h.1m4-22h-.1m7 4h.1m1 18h-.1m3 0h.1m3-8h-.1m5 1h.1m98 36h-.1m0-14h.1m-40 10h-.1m-57 15h.1m-1-7h-.1m-3-24h.1m-13 14h-.1m-2-14h.1m-6 15h-.1m-4 4h.1m0 5h-.1m-12-19h.1m-8-2h-.1m-3 27h.1m-4-7h-.1m-3-17h.1m-6 18h-.1m0-12h.1m-3 18h-.1m-2-3h.1m0-27h-.1m-8 20h.1m-2-8h-.1m-5-9h.1m-8 3h-.1m-33 18h.1m-18-20h-.1m-3 27h.1m-3-24h-.1m-26 18h.1m-12-5h-.1m-15-12h.1m-39 18h-.1m-1 4h.1m-2-5h-.1m-2-7h.1m-8-7h-.1m-3-1h.1m-15 7h-.1m0 10h.1m0-23h-.1m-2 25h.1m-4-8h-.1m0-17h.1m-3 18h-.1m-2-20h.1m-2 25h-.1m-1-13h.1m-5-4h-.1m-3 0h.1m0 20h-.1m-3-18h.1m-5-7h-.1m-3-5h.1m-4 4h-.1m-1 21h.1m-1-13h-.1m-5-7h.1m0 4h-.1m-3 22h.1m-1-10h-.1m-5-4h.1m-1 15h-.1m-4-5h.1m-1-5h-.1m-2-17h.1m-2 19h-.1m-6 1h.1m-1-14h-.1m0 10h.1m-2-14h-.1m-4 8h.1m-1-7h-.1m-2 1h.1m0-5h-.1m-1 7h.1m0-9h-.1m-1 20h.1m-1-13h-.1m0-2h.1m-1 8h-.1m-4 17h.1m-3-18h-.1m-2-1h.1m-1 7h-.1m-2-14h.1m-1-2h-.1m-6 21h.1m0 3h-.1m0-20h.1m-2 5h-.1m-1-4h.1m-2-8h-.1m-2 3h.1m0 27h-.1m-3-8h.1m0 5h-.1m-2-22h.1m-3 4h-.1m-1 14h.1m-3-18h-.1m-1 16h.1m-1 9h-.1m-1-20h.1m-2 5h-.1m-3-6h.1m0 10h-.1m0-4h.1m-1-11h-.1m-4 11h.1m-1-12h-.1m-2 14h.1m-1 10h-.1m-2-24h.1m0 12h-.1m-4-13h.1m-2 2h-.1m0-4h.1m0 16h-.1m0 8h.1m-1-4h-.1m0-7h.1m-1-12h-.1m0 24h.1m-1-11h-.1m0-5h.1m-1 14h-.1m-6-2h.1m-4-18h-.1m-3 6h.1m0 16h-.1m-2 4h.1m-1-17h-.1m0 10h.1m-3-13h-.1m-5 1h.1m0 9h-.1m-3 10h.1m-1-10h-.1m-2-3h.1m-3 8h-.1m-7-11h.1m-3 15h-.1m-5 0h.1m-13-3h-.1m-1-5h.1m-39 34h-.1m4-2h.1m2 10h-.1m3-9h.1m3-1h-.1m2-8h.1m5 17h-.1m8-27h.1m0 8h-.1m1 8h.1m1 9h-.1m0-6h.1m1 2h-.1m3 7h.1m0-9h-.1m1 5h.1m1-7h-.1m1-15h.1m0 3h-.1m2-3h.1m0 13h-.1m4-5h.1m5 12h-.1m1 2h.1m0 5h-.1m2-6h.1m2-10h-.1m1-13h.1m0 27h-.1m1-11h.1m1-4h-.1m2 13h.1m0-20h-.1m2-5h.1m0 18h-.1m1-13h.1m3-1h-.1m1 7h.1m3 6h-.1m4-11h.1m0 16h-.1m3-17h.1m4 1h-.1m1 13h.1m0-19h-.1m3 23h.1m2-17h-.1m2 4h.1m4 1h-.1m0-8h.1m0 12h-.1m0-15h.1m1 13h-.1m1 6h.1m0 10h-.1m2-10h.1m2-4h-.1m0 5h.1m1-22h-.1m4 8h.1m0 16h-.1m4 5h.1m2-6h-.1m3-9h.1m3-14h-.1m0 27h.1m2-6h-.1m0-13h.1m3 7h-.1m1 2h.1m1 2h-.1m2-17h.1m1 12h-.1m1 9h.1m0 7h-.1m1-17h.1m0 8h-.1m1-13h.1m0 3h-.1m3-1h.1m1 18h-.1m0-23h.1m1-2h-.1m2 14h.1m2 0h-.1m0-9h.1m0 11h-.1m4 8h.1m2-7h-.1m1 4h.1m3-20h-.1m2 20h.1m0-21h-.1m1 17h.1m0-5h-.1m5-6h.1m2-4h-.1m1 4h.1m1 10h-.1m1-16h.1m0 2h-.1m2-6h.1m4 22h-.1m1-13h.1m2 20h-.1m1-10h.1m0-5h-.1m1 10h.1m0-16h-.1m3-1h.1m0 10h-.1m0-4h.1m1 8h-.1m0-2h.1m4 10h-.1m4-12h.1m0 13h-.1m0-8h.1m1-3h-.1m1-12h.1m1 6h-.1m0-9h.1m2-1h-.1m1 2h.1m0 20h-.1m3-18h.1m1-4h-.1m2 5h.1m2 6h-.1m0-13h.1m2 21h-.1m2-9h.1m0 13h-.1m1-24h.1m0 21h-.1m6-3h.1m1-6h-.1m0 11h.1m1-13h-.1m5-8h.1m2 20h-.1m2 8h.1m2-4h-.1m1-14h.1m12-3h-.1m2-4h.1m3 11h-.1m8 6h.1m2-12h-.1m2 9h.1m2-12h-.1m3-3h.1m1-5h-.1m3 8h.1m3 7h-.1m7 10h.1m10 1h-.1m1-14h.1m1 18h-.1m2 1h.1m2-22h-.1m0 13h.1m2 6h-.1m3-16h.1m9-10h-.1m1 24h.1m4-4h-.1m1 5h.1m2-17h-.1m2 12h.1m6 5h-.1m8-5h.1m1 8h-.1m39-24h.1m10-3h-.1m2 24h.1m1-17h-.1m2 6h.1m12 12h-.1m1-27h.1m6 18h-.1m14-7h.1m8-5h-.1m1-6h.1m1 14h-.1m3 10h.1m1-17h-.1m3 19h.1m0-23h-.1m1 8h.1m3-8h-.1m3 18h.1m1-10h-.1m0 15h.1m13-12h-.1m5 9h.1m1-21h-.1m5 21h.1m0 6h-.1m6-8h.1m1 6h-.1m5-23h.1m2 11h-.1m3 5h.1m2 6h-.1m0-16h.1m1-7h-.1m3 2h.1m0-6h-.1m3 7h.1m0-6h-.1m1 15h.1m8 0h-.1m1-11h.1m7 6h-.1m4-12h.1m3 32h-.1m4-14h.1m10-14h-.1m4 4h.1m9 16h-.1m85 7h.1m128 29h-.1m-19 2h.1m-4 1h-.1m-2-3h.1m-2-1h-.1m-14 5h.1m-22-16h-.1m-20 15h.1m-22-30h-.1m0 8h.1m-29-2h-.1m-11 13h.1m-6 12h-.1m-6-24h.1m-21 14h-.1m-11-10h.1m-7 17h-.1m-3-19h.1m-5-8h-.1m-4-2h.1m-6 30h-.1m-16-14h.1m-17-8h-.1m-2 16h.1m-11-20h-.1m0-4h.1m-2 7h-.1m-4 14h.1m-6-18h-.1m-10 12h.1m-11-9h-.1m-1 13h.1m-7 6h-.1m-1-23h.1m-1 12h-.1m-9-2h.1m-1-8h-.1m-5 13h.1m-1-16h-.1m-1 13h.1m-14 12h-.1m-2 4h.1m-1-11h-.1m-4 6h.1m0-21h-.1m0 28h.1m-2-20h-.1m-10 9h.1m0-7h-.1m-1-12h.1m-4 19h-.1m-1 10h.1m-7-13h-.1m-5 4h.1m-3-4h-.1m0-18h.1m-8 29h-.1m-8-1h.1m-1-20h-.1m-2 3h.1m-5-3h-.1m-1 16h.1m-15-18h-.1m-2 0h.1m-1 24h-.1m-2-8h.1m-4 7h-.1m-1-16h.1m-1-5h-.1m-3-7h.1m-5 9h-.1m-6-10h.1m-4 23h-.1m-2-14h.1m0 14h-.1m-5-7h.1m0-12h-.1m-5 27h.1m0-27h-.1m0 21h.1m0-17h-.1m-1 10h.1m0-5h-.1m-1 8h.1m0-19h-.1m0 27h.1m-13 1h-.1m-2-30h.1m-3 25h-.1m0 6h.1m-2-14h-.1m-1-8h.1m-1 18h-.1m-2 1h.1m-1 3h-.1m-2-4h.1m-1-24h-.1m-2 23h.1m-2-2h-.1m-1-5h.1m-4-18h-.1m-3 16h.1m-6 15h-.1m-1-9h.1m0-12h-.1m-4 10h.1m-3 1h-.1m0-10h.1m0-4h-.1m-4-5h.1m0 6h-.1m-3-6h.1m-3 28h-.1m0-21h.1m-3-1h-.1m-1 13h.1m-2-3h-.1m-1-16h.1m-8 7h-.1m0 20h.1m0-4h-.1m-2-14h.1m0 7h-.1m-4-5h.1m-1 17h-.1m-1-29h.1m-1 4h-.1m0 2h.1m-1 19h-.1m-2-6h.1m-4-13h-.1m-2 17h.1m-2-16h-.1m-2-5h.1m-4-1h-.1m-3 2h.1m-5 12h-.1m0-8h.1m-1-5h-.1m-2 8h.1m-2-2h-.1m-1 21h.1m-2-24h-.1m-1 18h.1m-1-10h-.1m-3-2h.1m-2 14h-.1m0-6h.1m-1-12h-.1m-2-7h.1m-1 30h-.1m-5-25h.1m-3 22h-.1m0-7h.1m-1-5h-.1m-3-4h.1m-2 5h-.1m-1 2h.1m-3-16h-.1m-1-2h.1m-1 30h-.1m0-4h.1m0-16h-.1m-1 13h.1m-1-16h-.1m-4 20h.1m-2-4h-.1m-3-22h.1m-2 1h-.1m-6 18h.1m-2-11h-.1m-1-3h.1m-5-2h-.1m0 10h.1m-3 10h-.1m-3-9h.1m-2 6h-.1m-1 4h.1m-2-20h-.1m0 12h.1m-2-15h-.1m0 26h.1m-6-17h-.1m-2 15h.1m-1-2h-.1m-5-5h.1m0-10h-.1m0-4h.1m-1 6h-.1m-3 13h.1m0-13h-.1m0-11h.1m-1 10h-.1m-1 10h.1m-1 2h-.1m0-5h.1m-2 5h-.1m-3-17h.1m-3 19h-.1m-2 5h.1m0-5h-.1m-1-18h.1m-1-8h-.1m-1 22h.1m-1-9h-.1m-2 14h.1m-1-23h-.1m-2 6h.1m-2-2h-.1m-4 21h.1m-3-14h-.1m-1-5h.1m-3-9h-.1m-2 0h.1m-3 15h-.1m0-4h.1m0-12h-.1m0 10h.1m0 14h-.1m-1-2h.1m-5-19h-.1m-1 1h.1m-1 9h-.1m-7 10h.1m-2-10h-.1m-1 3h.1m-2 13h-.1m-1-20h.1m-1 15h-.1m0 4h.1m-1-5h-.1m-2-22h.1m-5 11h-.1m-2-3h.1m-5 3h-.1m-3 14h.1m-5-20h-.1m-1 3h.1m-7-7h-.1m-9 48h.1m17-14h-.1m1-2h.1m0 13h-.1m0-4h.1m5-3h-.1m5 6h.1m1-9h-.1m5 6h.1m0-5h-.1m2 15h.1m4-15h-.1m6 10h.1m15-9h-.1m3 6h.1m4 3h-.1m1-12h.1m6 2h-.1m0 4h.1m0 2h-.1m15-2h.1m1 2h-.1m2 3h.1m1-7h-.1m1-3h.1m1 9h-.1m12 9h.1m8-19h-.1m1 7h.1m5 1h-.1m1-5h.1m9 8h-.1m1-13h.1m4 14h-.1m7-8h.1m5 0h-.1m1 2h.1m4-4h-.1m2 11h.1m1-5h-.1m2 1h.1m1-6h-.1m2-2h.1m8 1h-.1m3 4h.1m0-7h-.1m0 2h.1m1-4h-.1m14 4h.1m3 2h-.1m4-1h.1m1 6h-.1m8-8h.1m4 2h-.1m1 3h.1m2-2h-.1m4 0h.1m7-6h-.1m3 1h.1m22 9h-.1m14-6h.1m4 1h-.1m0 4h.1m13 5h-.1m5-13h.1m2 12h-.1m15-10h.1m3 12h-.1m2-15h.1m5 11h-.1m12 5h.1m0-7h-.1m5-2h.1m5 8h-.1m7 0h.1m3-12h-.1m8-1h.1m10 23h-.1m13-18h.1m13 4h-.1m16 14h.1m0-5h-.1m7-8h.1m5 15h-.1m9-12h.1m9-13h-.1m8 0h.1m1 4h-.1m1 10h.1m2 6h-.1m2-17h.1m2 12h-.1m12-6h.1m3 9h-.1m4-7h.1m20 2h-.1m9-15h.1m3 28h-.1m3-4h.1m5 5h-.1m3-20h.1m8 6h-.1m5-6h.1m7 6h-.1m4-3h.1m3-6h-.1m35-2h.1m2 17h-.1m30-11h.1m11 18h-.1m8-23h.1m9 23h-.1m6-11h.1m5 8h-.1m4-14h.1m0 5h-.1m2-2h.1m0 17h-.1m2-20h.1m1 10h-.1m6-10h.1m3-3h-.1m0 9h.1m2 6h-.1m8-23h.1m0 13h-.1m3 4h.1m5-5h-.1m1 18h.1m2-21h-.1m3 3h.1m2 3h-.1m2 4h.1m1-10h-.1m3 16h.1m3 4h-.1m2-15h.1m6 13h-.1m3 0h.1m4-20h-.1m1 19h.1m1-14h-.1m7-10h.1m2 28h-.1m1-16h.1m2 5h-.1m0-9h.1m3 20h-.1m1-11h.1m3-18h-.1m5-2h.1m0 25h-.1m4-16h.1m0 16h-.1m1 4h.1m2-9h-.1m2 5h.1m1-2h-.1m0-11h.1m1 17h-.1m1-10h.1m1-17h-.1m2 22h.1m3-5h-.1m3-7h.1m2-8h-.1m2 3h.1m4 17h-.1m7 6h.1m3-28h-.1m3 27h.1m3-1h-.1m0-17h.1m2 5h-.1m4-3h.1m2 18h-.1m2-23h.1m3 23h-.1m0-18h.1m2 7h-.1m2-8h.1m1 4h-.1m7 5h.1m2 9h-.1m0-9h.1m6 7h-.1m6 0h.1m3-1h-.1m0-9h.1m2 2h-.1m5 9h.1m1-5h-.1m2-11h.1m5 16h-.1m2-5h.1m2-3h-.1m2-4h.1m0 9h-.1m2-1h.1m2 6h-.1m9-15h.1m6 10h-.1m8 0h.1m1 5h-.1m4-4h.1m109 36h-.1m-8-1h.1m-4-9h-.1m-2 9h.1m-5-10h-.1m-10-2h.1m-1-5h-.1m-8-5h.1m0 20h-.1m-7-15h.1m-2 3h-.1m-1 4h.1m0 2h-.1m-5 8h.1m0-22h-.1m-6 15h.1m-1-1h-.1m0-7h.1m-1-5h-.1m-1 13h.1m-2-3h-.1m0 4h.1m-2-11h-.1m-7 0h.1m-1-12h-.1m-2 23h.1m-3 5h-.1m0-17h.1m-1 19h-.1m-3-9h.1m-1-6h-.1m-4 0h.1m-1-11h-.1m0 17h.1m-1-13h-.1m0 3h.1m-3 6h-.1m-2 4h.1m0 2h-.1m-3-2h.1m-2-5h-.1m0 5h.1m-3 1h-.1m0 6h.1m-2-9h-.1m-2 3h.1m-2-9h-.1m-1 11h.1m0-15h-.1m-2 6h.1m0 8h-.1m-1 3h.1m0-5h-.1m-1-3h.1m-1-9h-.1m-1 6h.1m-4 12h-.1m0-26h.1m0 6h-.1m-1 7h.1m-2 4h-.1m-1 10h.1m-1-16h-.1m-1 3h.1m0 12h-.1m-1 2h.1m-1-19h-.1m0 16h.1m0-5h-.1m-1-18h.1m-2 20h-.1m0-4h.1m-2-19h-.1m-4 28h.1m-3-24h-.1m0 25h.1m-6-25h-.1m-1 9h.1m-2-11h-.1m-2 12h.1m-1-7h-.1m-1 14h.1m-1-17h-.1m0-4h.1m-2 31h-.1m-3-26h.1m0 5h-.1m-1-1h.1m0 14h-.1m-1-19h.1m-2 17h-.1m0 5h.1m-8-11h-.1m0 10h.1m-3-11h-.1m0-11h.1m0 9h-.1m-1 11h.1m-1-16h-.1m-1 3h.1m0 21h-.1m-2-12h.1m-1 3h-.1m-2 6h.1m-1-22h-.1m-1 24h.1m0-22h-.1m-3 7h.1m-1-13h-.1m-1 6h.1m-1 10h-.1m-1-8h.1m-8 15h-.1m0-22h.1m-1 10h-.1m0 15h.1m0-12h-.1m0 14h.1m-1-7h-.1m-4-16h.1m-1 2h-.1m-1 12h.1m-1-15h-.1m-3 3h.1m0 10h-.1m-8-10h.1m-2 17h-.1m-2-19h.1m-2 9h-.1m-1 13h.1m-4-18h-.1m-2 7h.1m0-8h-.1m-5 0h.1m-1 10h-.1m-3 10h.1m-1-23h-.1m-10 0h.1m-3 9h-.1m-3-1h.1m-2-4h-.1m-2-6h.1m-2 7h-.1m-2 12h.1m-7-13h-.1m0-6h.1m-1 23h-.1m-3-22h.1m0 21h-.1m-3-11h.1m0 4h-.1m-1 10h.1m-1-8h-.1m-7-1h.1m-1-3h-.1m-2-8h.1m0 10h-.1m-1-14h.1m-1 11h-.1m0 9h.1m-2-1h-.1m-1-4h.1m-4-6h-.1m-6 8h.1m-1-17h-.1m-6 1h.1m-3 18h-.1m-2-25h.1m-4 13h-.1m0 16h.1m-11-26h-.1m0 4h.1m-5 2h-.1m-1 12h.1m-3-2h-.1m0 8h.1m-1-4h-.1m-2-11h.1m-4 11h-.1m-1-3h.1m-4 3h-.1m-4-9h.1m-5-9h-.1m-2 13h.1m0-5h-.1m-3 7h.1m-2 3h-.1m0-16h.1m-2 13h-.1m-1 10h.1m-3-4h-.1m-1-9h.1m-1 14h-.1m-1-23h.1m-3-5h-.1m-3 19h.1m-1-19h-.1m0 4h.1m-2 20h-.1m-5-19h.1m-3 12h-.1m-3 5h.1m-1-8h-.1m-6 12h.1m-5-14h-.1m-8-6h.1m-5 11h-.1m-2-10h.1m-39-5h-.1m-3 11h.1m-18-8h-.1m-2 14h.1m-5-13h-.1m-12-2h.1m-2-5h-.1m-18 10h.1m-4 7h-.1m-2-15h.1m-5 12h-.1m-11 4h.1m-3-15h-.1m-16 23h.1m-5-28h-.1m-6 25h.1m-3-22h-.1m-6 7h.1m-19-6h-.1m-11 19h.1m-7-10h-.1m-2-8h.1m9 30h-.1m6-3h.1m2 18h-.1m8-11h.1m2 9h-.1m25 8h.1m3-5h-.1m13-7h.1m1 16h-.1m17-6h.1m7-11h-.1m1 15h.1m5 2h-.1m4-20h.1m7 21h-.1m5-5h.1m1 4h-.1m2-21h.1m11 23h-.1m1-31h.1m4 29h-.1m3 2h.1m2-1h-.1m3-6h.1m4 1h-.1m22-3h.1m9-9h-.1m1 5h.1m1-2h-.1m1-12h.1m2 24h-.1m5-11h.1m4 13h-.1m3-14h.1m5 6h-.1m7-12h.1m0-6h-.1m3 17h.1m2-16h-.1m2 14h.1m3-12h-.1m1-6h.1m1 25h-.1m1-6h.1m16-16h-.1m4 7h.1m0-7h-.1m8 25h.1m7-21h-.1m2 11h.1m4 0h-.1m0-5h.1m12 7h-.1m1-11h.1m6 12h-.1m0-15h.1m2-5h-.1m1 2h.1m2-4h-.1m1 4h.1m3 19h-.1m6-11h.1m0-6h-.1m2 24h.1m6-13h-.1m1-14h.1m1 9h-.1m4-9h.1m0 21h-.1m4-13h.1m0 21h-.1m1-2h.1m1-13h-.1m1 11h.1m1-8h-.1m0 4h.1m2-10h-.1m3-3h.1m1 17h-.1m1 2h.1m3-3h-.1m1-18h.1m2 10h-.1m2 9h.1m1-11h-.1m1 8h.1m0 2h-.1m1-27h.1m2 18h-.1m1-7h.1m1 13h-.1m4 2h.1m3-12h-.1m1 5h.1m0-13h-.1m1 19h.1m0-8h-.1m0 12h.1m2-2h-.1m0 5h.1m2-29h-.1m0 24h.1m2-7h-.1m0 2h.1m3 1h-.1m0 7h.1m1-15h-.1m1 10h.1m0 5h-.1m3-3h.1m4-15h-.1m0 5h.1m2-2h-.1m3 10h.1m0-4h-.1m0 7h.1m3-7h-.1m0-10h.1m3 15h-.1m1-9h.1m1-7h-.1m3-7h.1m1 6h-.1m0 16h.1m1-24h-.1m3 20h.1m0 6h-.1m3 0h.1m2-17h-.1m2-3h.1m1 17h-.1m0 1h.1m1-22h-.1m3 19h.1m0 8h-.1m1-1h.1m1-26h-.1m0 9h.1m1 11h-.1m2-13h.1m1-6h-.1m0 11h.1m1 5h-.1m3 10h.1m1-25h-.1m5 0h.1m1 15h-.1m3-16h.1m5 0h-.1m0 4h.1m4 11h-.1m2-7h.1m0 8h-.1m1 5h.1m0-18h-.1m1 7h.1m1 17h-.1m5-3h.1m0-15h-.1m1-5h.1m2 20h-.1m0-26h.1m1 8h-.1m0 9h.1m3-4h-.1m0 7h.1m6-11h-.1m1-8h.1m0 19h-.1m0 9h.1m1-18h-.1m1 14h.1m4 0h-.1m0-21h.1m2 3h-.1m0 15h.1m1-5h-.1m1-14h.1m0 17h-.1m3-17h.1m0 11h-.1m1-12h.1m3 22h-.1m0-7h.1m3 0h-.1m1-12h.1m2 16h-.1m1 6h.1m1-13h-.1m0-8h.1m1 16h-.1m1 2h.1m0-16h-.1m1 18h.1m4-23h-.1m0 23h.1m2-26h-.1m0 17h.1m2 0h-.1m0-11h.1m2 11h-.1m4-3h.1m8 13h-.1m2 3h.1m0-22h-.1m1 15h.1m0-25h-.1m4 0h.1m1 7h-.1m1 8h.1m2-10h-.1m1 1h.1m0 10h-.1m2 2h.1m0-14h-.1m0 20h.1m8-9h-.1m1 11h.1m0 4h-.1m1-9h.1m1 1h-.1m2-10h.1m1-11h-.1m3 17h.1m1-17h-.1m1 15h.1m0-11h-.1m1 24h.1m1 0h-.1m1-17h.1m4 15h-.1m1 2h.1m1-22h-.1m1-6h.1m0 22h-.1m1-12h.1m0-8h-.1m3 26h.1m1-9h-.1m2-15h.1m2-2h-.1m1 6h.1m0 5h-.1m8-8h.1m1 17h-.1m0-15h.1m0 18h-.1m0-5h.1m1 2h-.1m0-11h.1m2-1h-.1m0-10h.1m1 4h-.1m1 21h.1m0 5h-.1m1-15h.1m1-12h-.1m1 18h.1m5-20h-.1m0 6h.1m1 2h-.1m0 3h.1m1 11h-.1m3-22h.1m0 6h-.1m0 19h.1m1 4h-.1m1-20h.1m2 18h-.1m1-23h.1m3 13h-.1m0 4h.1m0-7h-.1m1-16h.1m2 9h-.1m3 20h.1m2-15h-.1m0-13h.1m0 6h-.1m4 20h.1m1-20h-.1m4 10h.1m1 9h-.1m1 5h.1m2-1h-.1m2-9h.1m3 4h-.1m1-23h.1m1 18h-.1m2 2h.1m1-17h-.1m1 8h.1m3 0h-.1m3-11h.1m0 4h-.1m2 18h.1m0-4h-.1m2-6h.1m2-1h-.1m2-11h.1m1 28h-.1m3-10h.1m1-4h-.1m1 10h.1m1-14h-.1m4 0h.1m2 10h-.1m1-12h.1m2 14h-.1m1 7h.1m4 0h-.1m1-18h.1m4 17h-.1m5-13h.1m6 6h-.1m34 30h.1m-3-6h-.1m-4 5h.1m0-8h-.1m-3 6h.1m-4 7h-.1m-5-9h.1m0-2h-.1m0 15h.1m-1-1h-.1m-1-18h.1m-1 9h-.1m-3-5h.1m-2 9h-.1m-1 3h.1m-1-17h-.1m-5-4h.1m0 4h-.1m-1 14h.1m-2-15h-.1m0-4h.1m-1 27h-.1m-1-29h.1m-1 20h-.1m-5 7h.1m-1-16h-.1m0 5h.1m-2-17h-.1m-1 11h.1m-1 3h-.1m-1 7h.1m-2 7h-.1m0-23h.1m-2 3h-.1m0 14h.1m-2-3h-.1m-1-13h.1m-1 12h-.1m-4 2h.1m-1-13h-.1m-1 14h.1m-2 0h-.1m-1-5h.1m-1-9h-.1m0 8h.1m0 8h-.1m-2-22h.1m0 22h-.1m-2 0h.1m-1-19h-.1m-2-2h.1m-2 25h-.1m-1-19h.1m0 16h-.1m-1-23h.1m-1 21h-.1m0-7h.1m0-4h-.1m0-12h.1m-1 8h-.1m-1-2h.1m-3 18h-.1m-1-13h.1m0 16h-.1m-2-21h.1m-1 2h-.1m0 17h.1m-2-1h-.1m-2-14h.1m-2 15h-.1m0-13h.1m-1 19h-.1m0-3h.1m-1-8h-.1m-2 6h.1m-3-18h-.1m-1 16h.1m0-3h-.1m0-7h.1m-1-11h-.1m0 2h.1m-2 20h-.1m-1-23h.1m-1 13h-.1m-1-13h.1m0 7h-.1m-2 2h.1m0 4h-.1m0-12h.1m-1 27h-.1m-1-14h.1m-1 8h-.1m0-20h.1m-1 23h-.1m-1-25h.1m0 23h-.1m-4-15h.1m0 18h-.1m0-24h.1m-1-3h-.1m-1 15h.1m-1-2h-.1m0-13h.1m0 11h-.1m-3 3h.1m0-3h-.1m-2 14h.1m0 1h-.1m-1-8h.1m0 10h-.1m-1-26h.1m-2 13h-.1m-1 9h.1m0-21h-.1m0 7h.1m0 18h-.1m-2-28h.1m0 14h-.1m-1 13h.1m-1-11h-.1m0 2h.1m-1-3h-.1m-2-16h.1m-1 3h-.1m0 21h.1m-2-24h-.1m-1 15h.1m0-6h-.1m-4 16h.1m-5-22h-.1m-1 16h.1m0 3h-.1m0-8h.1m-2 8h-.1m-2-11h.1m0 1h-.1m-1-4h.1m-1-2h-.1m-3 6h.1m-2-4h-.1m-1 14h.1m0-20h-.1m-1 18h.1m-1-17h-.1m-1 3h.1m-2-2h-.1m0 8h.1m-2 14h-.1m0-2h.1m-2-16h-.1m-2 12h.1m-1-10h-.1m-1 13h.1m0-2h-.1m-1-10h.1m-2 12h-.1m-1-22h.1m-1 25h-.1m-1-4h.1m-1-14h-.1m-1 13h.1m0-6h-.1m-1 4h.1m-3-7h-.1m0 13h.1m-2-12h-.1m-3 7h.1m-2 9h-.1m0-9h.1m-1 4h-.1m0-23h.1m-1 2h-.1m-5 0h.1m-1 10h-.1m-3-10h.1m0 18h-.1m-4-4h.1m0 14h-.1m0-19h.1m-2 12h-.1m-2-14h.1m-1 5h-.1m0-4h.1m-3 15h-.1m-1-6h.1m0-4h-.1m-1-10h.1m-1 6h-.1m-1 5h.1m0 14h-.1m-4-9h.1m0-15h-.1m-2 2h.1m-5 15h-.1m0 6h.1m-1-3h-.1m0-12h.1m-2-6h-.1m-3 0h.1m0 4h-.1m0 8h.1m-2-7h-.1m-5 5h.1m-1-3h-.1m-1-14h.1m-1 22h-.1m0 3h.1m-2-10h-.1m0 4h.1m-1 8h-.1m-1-27h.1m0 14h-.1m-2-4h.1m0 2h-.1m-1-8h.1m0 25h-.1m-1-28h.1m-2 22h-.1m-2-13h.1m0 3h-.1m-3 12h.1m-1-20h-.1m0 21h.1m-4-24h-.1m0 27h.1m-1-23h-.1m-1 17h.1m-1-15h-.1m-2-9h.1m-3 3h-.1m-1 12h.1m-1-1h-.1m-2 1h.1m0-6h-.1m-2 16h.1m-1 3h-.1m0-27h.1m-1 4h-.1m-2-2h.1m-1 22h-.1m-1-21h.1m-2 22h-.1m-1-10h.1m-1 2h-.1m-1-3h.1m-1 2h-.1m-1-16h.1m-2 2h-.1m-1 24h.1m0-13h-.1m-3 6h.1m-1 2h-.1m-2-7h.1m-1-14h-.1m0 29h.1m-1-4h-.1m0-14h.1m-1-7h-.1m-1 19h.1m0-7h-.1m-3-1h.1m0 6h-.1m0 8h.1m-1-30h-.1m-1 3h.1m0 20h-.1m-1-22h.1m-1 27h-.1m-7 1h.1m-1-20h-.1m-1 14h.1m-1-8h-.1m-7 7h.1m-2 1h-.1m-1-17h.1m-1 8h-.1m0 7h.1m-2 9h-.1m-1-7h.1m0-3h-.1m-1-4h.1m-1-3h-.1m-1 12h.1m-2-2h-.1m0-15h.1m-4 22h-.1m-3-1h.1m-1-3h-.1m-1-11h.1m-1 9h-.1m-1 6h.1m0-13h-.1m-3-5h.1m0 3h-.1m-1 10h.1m-1-2h-.1m-1-15h.1m-1-5h-.1m0 9h.1m-1 8h-.1m-1-17h.1m-1 25h-.1m-1-28h.1m-2 30h-.1m-1-15h.1m-2 4h-.1m-3-9h.1m-1 11h-.1m-1-19h.1m-1 24h-.1m-2-1h.1m-3 1h-.1m0-14h.1m-1 19h-.1m-1-6h.1m-2-24h-.1m0 20h.1m-1-12h-.1m-3 14h.1m-2-18h-.1m0 20h.1m-2 2h-.1m-1-15h.1m-1-3h-.1m0 5h.1m-4-11h-.1m-2-2h.1m-3 15h-.1m0 2h.1m-2 9h-.1m-2-24h.1m-2 8h-.1m-1-3h.1m-1 14h-.1m0-17h.1m-1 7h-.1m-3 17h.1m-1-11h-.1m0-11h.1m0 7h-.1m0-9h.1m-2 6h-.1m-1 9h.1m0-4h-.1m-2-15h.1m-1 18h-.1m0-9h.1m-1 14h-.1m0-20h.1m-7 25h-.1m0-24h.1m-1 11h-.1m0 7h.1m0 3h-.1m-1 2h.1m0 1h-.1m-1-13h.1m-1-3h-.1m-1 8h.1m-1-5h-.1m-1 8h.1m-5-11h-.1m0 13h.1m-1 4h-.1m-1-29h.1m-1 26h-.1m-2 0h.1m-3-13h-.1m0-5h.1m0 13h-.1m-1 8h.1m-2-3h-.1m-5-17h.1m-1 7h-.1m-2-9h.1m-3 15h-.1m0-19h.1m-4 2h-.1m-2 12h.1m-4 11h-.1m-5-1h.1m-1-22h-.1m-3 17h.1m-2-7h-.1m-3 8h.1m-1-12h-.1m-1 17h.1m-1-26h-.1m0 17h.1m-1 2h-.1m0 7h.1m-5-27h-.1m0 7h.1m-3 4h-.1m-1-8h.1m-1-1h-.1m0-5h.1m-1 20h-.1m-1-14h.1m-1 15h-.1m-3-1h.1m-1-12h-.1m0 16h.1m0-10h-.1m-1 6h.1m0-16h-.1m0 25h.1m-1-27h-.1m-1 3h.1m-3 1h-.1m-1 4h.1m-1 14h-.1m0-10h.1m0-4h-.1m-2-8h.1m-1 17h-.1m-3-13h.1m-1 15h-.1m-1 9h.1m-5-18h-.1m-1 12h.1m-3 3h-.1m-1-3h.1m0-12h-.1m-1-2h.1m-4 6h-.1m0-2h.1m-1 14h-.1m-1-3h.1m-3 0h-.1m0-22h.1m0 13h-.1m-3 13h.1m-2-25h-.1m-1 2h.1m0 24h-.1m-1-10h.1m-1-10h-.1m-2-8h.1m-4 26h-.1m-1-10h.1m-1 11h-.1m-1-5h.1m0-3h-.1m-3 0h.1m-2-13h-.1m-1-7h.1m-4 3h-.1m-4 15h.1m0-3h-.1m-1 11h.1m-1 3h-.1m0-21h.1m-1 20h-.1m-1-5h.1m-2-14h-.1m-2 4h.1m-1 11h-.1m-1-3h.1m0 6h-.1m-1-15h.1m-1 8h-.1m-1 6h.1m-2-13h-.1m-1 9h.1m0-6h-.1m-6 9h.1m-3-22h-.1m-2 6h.1m0 14h-.1m0-4h.1m-1-12h-.1m-3 4h.1m-2 11h-.1m-2-17h.1m0-2h-.1m0 23h.1m-1-22h-.1m-4 2h.1m0 20h-.1m0-12h.1m-1-3h-.1m0-7h.1m-1 21h-.1m-5-14h.1m-2 5h-.1m-2 4h.1m-1 9h-.1m-1-7h.1m-2 5h-.1m-3 1h.1m-1-11h-.1m-1 7h.1m-2-3h-.1m-1-5h.1m-1 15h-.1m-1-24h.1m0 12h-.1m-5-2h.1m0-13h-.1m-2 22h.1m-3-6h-.1m-1-4h.1m-1 8h-.1m-3-1h.1m0 4h-.1m-1-7h.1m-17 4h-.1m-7 1h.1m-8-2h-.1m-42-2h.1m-15 41h-.1m7 0h.1m6-3h-.1m2 1h.1m3-4h-.1m2 0h.1m1-5h-.1m10-5h.1m2-2h-.1m2 18h.1m0-3h-.1m1-19h.1m2 20h-.1m4-21h.1m1 17h-.1m0 7h.1m1-11h-.1m2-14h.1m2 13h-.1m0-5h.1m0 17h-.1m2-22h.1m0 19h-.1m2-7h.1m0-18h-.1m2 27h.1m2-20h-.1m2 4h.1m0 16h-.1m0-7h.1m2-2h-.1m1-21h.1m1 27h-.1m1-9h.1m4 10h-.1m1-7h.1m0-14h-.1m1 11h.1m0 13h-.1m1-7h.1m1-17h-.1m1-5h.1m3-2h-.1m2 25h.1m1-12h-.1m1-5h.1m5-3h-.1m3 4h.1m0 17h-.1m1-12h.1m2 5h-.1m1-11h.1m1 7h-.1m1-5h.1m2 4h-.1m2 1h.1m2 14h-.1m0-27h.1m1 13h-.1m1 14h.1m3 0h-.1m0-8h.1m1-4h-.1m0 8h.1m1-12h-.1m1 7h.1m2 8h-.1m0-22h.1m1 7h-.1m2 15h.1m1-20h-.1m2 13h.1m2-14h-.1m3-6h.1m1 2h-.1m1 9h.1m0-12h-.1m0 29h.1m1-9h-.1m1-16h.1m2 17h-.1m1-11h.1m0 5h-.1m2-13h.1m4 22h-.1m0-7h.1m0-9h-.1m0 11h.1m2 6h-.1m1-14h.1m1 12h-.1m1-10h.1m1-5h-.1m0-3h.1m2 6h-.1m0 5h.1m0 14h-.1m1-7h.1m1-22h-.1m2 21h.1m0-15h-.1m1 17h.1m0-8h-.1m0-7h.1m3-3h-.1m0 6h.1m0-10h-.1m1 26h.1m1-14h-.1m1 2h.1m1 8h-.1m0-14h.1m2 9h-.1m1-8h.1m2-3h-.1m0 11h.1m2-1h-.1m0-13h.1m2 12h-.1m0 6h.1m1 4h-.1m4-21h.1m0-7h-.1m3 23h.1m2 9h-.1m1-21h.1m1 13h-.1m1 2h.1m1 6h-.1m2-31h.1m5 19h-.1m2 1h.1m3-13h-.1m2-3h.1m0 15h-.1m1-7h.1m2 2h-.1m4-12h.1m1 27h-.1m2-2h.1m2 3h-.1m0-18h.1m3 4h-.1m0-14h.1m1 1h-.1m1 9h.1m0 17h-.1m2-18h.1m0 10h-.1m1 4h.1m0 3h-.1m2-11h.1m1-15h-.1m2 9h.1m0 13h-.1m1-10h.1m1 13h-.1m0-7h.1m1-14h-.1m2-5h.1m1 17h-.1m1-10h.1m0 7h-.1m2 3h.1m1 10h-.1m1-18h.1m3 4h-.1m1-8h.1m0 4h-.1m2 14h.1m1-12h-.1m0-9h.1m2 3h-.1m1 20h.1m2 0h-.1m1-1h.1m2-21h-.1m2 16h.1m1-14h-.1m1-2h.1m1 13h-.1m3 14h.1m1-27h-.1m5-3h.1m0 19h-.1m1-10h.1m2 6h-.1m1-11h.1m0 16h-.1m2 1h.1m1 5h-.1m1-25h.1m0 23h-.1m0-12h.1m3 17h-.1m3-12h.1m1-17h-.1m0 3h.1m2 6h-.1m1 21h.1m1-3h-.1m1-4h.1m0-10h-.1m1 16h.1m5-19h-.1m3 1h.1m1 10h-.1m2-16h.1m0 6h-.1m2-10h.1m1 22h-.1m1 5h.1m1-7h-.1m1 8h.1m1-16h-.1m1 9h.1m1-23h-.1m3 26h.1m1-25h-.1m0 14h.1m4 7h-.1m2 5h.1m0-22h-.1m0 4h.1m1 5h-.1m1 4h.1m1-16h-.1m1 10h.1m0 15h-.1m2-11h.1m1 12h-.1m0-21h.1m1-4h-.1m0 16h.1m0 2h-.1m1-5h.1m2 0h-.1m0-5h.1m0 17h-.1m2-22h.1m1 16h-.1m5-5h.1m1-2h-.1m0-9h.1m1 21h-.1m1-13h.1m2-6h-.1m0 14h.1m2 7h-.1m1-8h.1m1-20h-.1m2-2h.1m0 3h-.1m4 23h.1m2-2h-.1m1-8h.1m1-9h-.1m0 5h.1m2 4h-.1m0 6h.1m0-19h-.1m0 1h.1m5 15h-.1m3 6h.1m2-13h-.1m0 4h.1m1 6h-.1m0 7h.1m1-29h-.1m1 2h.1m4 20h-.1m0-9h.1m1-6h-.1m1 16h.1m1-10h-.1m0 1h.1m2 14h-.1m2-13h.1m1-3h-.1m1 19h.1m1-21h-.1m0 17h.1m1-3h-.1m2 3h.1m0-19h-.1m1 13h.1m3 5h-.1m4-22h.1m1 16h-.1m0-11h.1m0 7h-.1m0-4h.1m6-5h-.1m0 13h.1m1-16h-.1m0 7h.1m0 5h-.1m1 8h.1m2-16h-.1m2-4h.1m1 5h-.1m1 18h.1m0-22h-.1m1 12h.1m1 11h-.1m1-3h.1m0-12h-.1m2 8h.1m2 0h-.1m1-8h.1m0 9h-.1m2-2h.1m0-12h-.1m2 19h.1m0-6h-.1m1 2h.1m0-17h-.1m1 24h.1m1-8h-.1m2-16h.1m0 10h-.1m3-13h.1m2 27h-.1m1-2h.1m0-3h-.1m2-23h.1m1 28h-.1m1-19h.1m0 6h-.1m0-2h.1m1 6h-.1m1-17h.1m0-3h-.1m0 17h.1m1-10h-.1m1-4h.1m1 8h-.1m0 2h.1m2-5h-.1m1 19h.1m2-4h-.1m0 2h.1m1 3h-.1m4-10h.1m0 9h-.1m1-20h.1m0 6h-.1m3 3h.1m2 2h-.1m0 7h.1m4-7h-.1m1 4h.1m0-7h-.1m1 12h.1m5-5h-.1m0-10h.1m0 9h-.1m1 8h.1m0-30h-.1m0 9h.1m2-6h-.1m1 24h.1m0-4h-.1m1 2h.1m2-16h-.1m0-3h.1m1 16h-.1m2-8h.1m1-4h-.1m0-4h.1m1 9h-.1m2 0h.1m2-15h-.1m1 30h.1m1-23h-.1m1 9h.1m1 15h-.1m0-24h.1m1 6h-.1m2 8h.1m0-4h-.1m1 10h.1m2-15h-.1m0 12h.1m1-1h-.1m0 4h.1m1-12h-.1m2 8h.1m1-9h-.1m0-2h.1m4 17h-.1m2-2h.1m2-8h-.1m2 7h.1m1-17h-.1m2-5h.1m0 21h-.1m6-5h.1m2-4h-.1m0 13h.1m2-23h-.1m2 22h.1m1-28h-.1m2 20h.1m0 9h-.1m1 2h.1m2-26h-.1m2 19h.1m2 4h-.1m0-8h.1m0-5h-.1m1 2h.1m1 6h-.1m1-12h.1m0-3h-.1m1 19h.1m3-23h-.1m2 23h.1m0-17h-.1m0 2h.1m2 6h-.1m1 10h.1m1-14h-.1m0-4h.1m2 0h-.1m2-7h.1m1 12h-.1m1 12h.1m0-25h-.1m0 20h.1m0-5h-.1m2 8h.1m2-11h-.1m0 4h.1m1 10h-.1m1-8h.1m0 7h-.1m2 0h.1m1-23h-.1m3 7h.1m0-8h-.1m1 9h.1m2 2h-.1m0-11h.1m1 23h-.1m2-22h.1m1 10h-.1m1 3h.1m1-13h-.1m0 8h.1m0 13h-.1m1-8h.1m0-11h-.1m3-6h.1m0 8h-.1m2-2h.1m2 10h-.1m0-13h.1m2 10h-.1m2 2h.1m1-4h-.1m1-7h.1m2 26h-.1m0-27h.1m0 3h-.1m3 18h.1m3-23h-.1m0 22h.1m3-23h-.1m0 27h.1m0-20h-.1m1-4h.1m2 28h-.1m0-22h.1m2 4h-.1m3 7h.1m0 7h-.1m0-3h.1m1-22h-.1m0 2h.1m2 21h-.1m8 2h.1m2-27h-.1m4 29h.1m2-4h-.1m1 4h.1m1-4h-.1m0-17h.1m3 4h-.1m0 15h.1m2 0h-.1m0-24h.1m1 16h-.1m1 11h.1m1-12h-.1m3 5h.1m1-10h-.1m0 13h.1m1-18h-.1m3-4h.1m0 12h-.1m3-15h.1m0 27h-.1m5-9h.1m1 3h-.1m0-7h.1m5 3h-.1m0-17h.1m0 28h-.1m3-13h.1m2 11h-.1m1-16h.1m0 20h-.1m1-23h.1m1 12h-.1m0 4h.1m2-22h-.1m1 24h.1m2-10h-.1m1-9h.1m1 21h-.1m4-5h.1m1-6h-.1m1 15h.1m0-26h-.1m1 6h.1m1 17h-.1m1-13h.1m1-10h-.1m0 17h.1m1-21h-.1m1 15h.1m2 11h-.1m0-20h.1m7 0h-.1m2 11h.1m1 4h-.1m1-6h.1m3 9h-.1m0-15h.1m1-3h-.1m1 14h.1m1 9h-.1m2-17h.1m1 2h-.1m1 6h.1m0 9h-.1m1-12h.1m4-16h-.1m0 17h.1m2 9h-.1m0-24h.1m1 13h-.1m0-10h.1m0 16h-.1m2-11h.1m0-13h-.1m4 5h.1m0 21h-.1m1-18h.1m1 10h-.1m0 9h.1m1-11h-.1m1 15h.1m5-24h-.1m2 2h.1m1 15h-.1m0-22h.1m2 17h-.1m1-19h.1m0 26h-.1m1-4h.1m2-2h-.1m2-17h.1m0 27h-.1m1 2h.1m0-15h-.1m1-17h.1m1 12h-.1m4 20h.1m2-8h-.1m1 8h.1m2-18h-.1m4 7h.1m0-12h-.1m2 21h.1m0-28h-.1m3 24h.1m2-5h-.1m1 3h.1m0 2h-.1m2-11h.1m1 5h-.1m1-19h.1m2 18h-.1m0 8h.1m0-17h-.1m1-3h.1m1 24h-.1m5-20h.1m12 20h-.1m1-8h.1m2 5h-.1m17 4h.1m29 23h-.1m-7-3h.1m-3 0h-.1m-4 2h.1m-6-8h-.1m0 15h.1m-3-1h-.1m-1-19h.1m-1 6h-.1m-3-13h.1m-1 29h-.1m-1 0h.1m-1-10h-.1m-2-6h.1m-1 5h-.1m0-18h.1m-1 3h-.1m-1 15h.1m-2 11h-.1m-1-5h.1m0-23h-.1m-1 11h.1m-4-12h-.1m0 9h.1m-3 9h-.1m-1-17h.1m0 26h-.1m-1-8h.1m-5 0h-.1m-1 5h.1m0-15h-.1m-2 14h.1m-1-7h-.1m-2-4h.1m-3 2h-.1m-1-15h.1m-1 6h-.1m-1 13h.1m-1-7h-.1m0-7h.1m-4-3h-.1m-1-2h.1m0 4h-.1m-3 0h.1m-3 26h-.1m-2-10h.1m-5-12h-.1m-1 12h.1m0-7h-.1m-2-3h.1m-7 21h-.1m-2-12h.1m-1-14h-.1m0 24h.1m-2-3h-.1m-4-5h.1m-1-7h-.1m-1 3h.1m-1 4h-.1m-2-14h.1m-1 13h-.1m0-8h.1m-2 15h-.1m-2-26h.1m0 13h-.1m0 7h.1m-1 4h-.1m-3-12h.1m0 16h-.1m-1-9h.1m0 5h-.1m-2-12h.1m-2-8h-.1m-2 3h.1m-1 7h-.1m0-15h.1m-2 11h-.1m0 9h.1m-1-6h-.1m-2 12h.1m-1-8h-.1m-2 4h.1m0-17h-.1m0-4h.1m-2 13h-.1m0 4h.1m-2-19h-.1m0 21h.1m-2 4h-.1m0-11h.1m0 6h-.1m-1 10h.1m0-30h-.1m-1 9h.1m-1 10h-.1m-4 1h.1m-2-19h-.1m0 11h.1m-3 14h-.1m0-8h.1m0 6h-.1m-1-4h.1m-2-17h-.1m-1-1h.1m0 12h-.1m-1 13h.1m-2-13h-.1m0-7h.1m0 4h-.1m-2 7h.1m-3 4h-.1m0 8h.1m0-28h-.1m0 6h.1m-1 5h-.1m-1 13h.1m-1-17h-.1m-1-7h.1m-2-1h-.1m-1 14h.1m0 13h-.1m-1-17h.1m-1-4h-.1m-1 20h.1m0-27h-.1m-3 3h.1m-2 21h-.1m-1-24h.1m0 28h-.1m-4-1h.1m-3 2h-.1m0-2h.1m0-14h-.1m-1-11h.1m0 22h-.1m-1-12h.1m0 11h-.1m0-8h.1m-2-11h-.1m-1 14h.1m0-12h-.1m-1 24h.1m0-26h-.1m-1 24h.1m-1-7h-.1m-1-12h.1m-2 8h-.1m-1 2h.1m0-18h-.1m-1 11h.1m-1-12h-.1m-2 20h.1m0-15h-.1m-1 24h.1m-2-21h-.1m-1-3h.1m0-3h-.1m-3 1h.1m-3 12h-.1m0 13h.1m-1-8h-.1m-1 2h.1m-1-18h-.1m0 22h.1m-1 3h-.1m0-27h.1m-1 5h-.1m0 8h.1m-1 11h-.1m-1-24h.1m-2 24h-.1m-4-14h.1m-1-12h-.1m0 30h.1m-1-12h-.1m0-2h.1m-2 2h-.1m-2-1h.1m-1-12h-.1m-2 25h.1m-1-5h-.1m0-5h.1m-3-19h-.1m0 5h.1m0 4h-.1m-2 16h.1m0 3h-.1m0-16h.1m-1 4h-.1m0-7h.1m-3-10h-.1m-6 11h.1m-1 19h-.1m-3-22h.1m-3-5h-.1m-1 16h.1m0-1h-.1m-3-3h.1m-1 15h-.1m0-28h.1m0 3h-.1m-2 24h.1m-1-14h-.1m-1 6h.1m-2-1h-.1m-3-8h.1m-2 7h-.1m0-15h.1m-2 23h-.1m0-9h.1m0 11h-.1m-3-17h.1m-1-8h-.1m-1-2h.1m-1 23h-.1m-1-23h.1m0 13h-.1m-3-8h.1m-1 12h-.1m0 2h.1m0 10h-.1m-2-27h.1m-1 18h-.1m0-14h.1m-1-3h-.1m0 22h.1m-1-26h-.1m0 19h.1m-1-16h-.1m0 3h.1m-1-1h-.1m0 20h.1m-9-20h-.1m-1 16h.1m0-3h-.1m-3 1h.1m0 6h-.1m-3-19h.1m0 7h-.1m-1 4h.1m0-14h-.1m-1 6h.1m0 18h-.1m0-21h.1m-5 18h-.1m-1-3h.1m-1-20h-.1m0 13h.1m-2-5h-.1m-1-9h.1m0 12h-.1m0 13h.1m-1-4h-.1m0-4h.1m-2 4h-.1m0-21h.1m0 5h-.1m-1 23h.1m0-26h-.1m-3 18h.1m-1 7h-.1m0-6h.1m-3-4h-.1m-3 12h.1m0-3h-.1m-2-25h.1m-1 14h-.1m-5-8h.1m-1 23h-.1m-2-5h.1m-2-7h-.1m-2 5h.1m-1 4h-.1m-2 2h.1m-1-8h-.1m0 2h.1m-1-3h-.1m-1-10h.1m-3 18h-.1m-2-12h.1m-2-8h-.1m0 18h.1m0-11h-.1m-1 14h.1m-1-17h-.1m0 14h.1m-1-9h-.1m-2-17h.1m-2 10h-.1m-1 7h.1m-3-10h-.1m0-5h.1m-1-2h-.1m-1 23h.1m-5 8h-.1m-1-25h.1m0 3h-.1m-1 8h.1m-1-2h-.1m0 5h.1m-3 6h-.1m-2-6h.1m0-8h-.1m-1 17h.1m0-29h-.1m0 15h.1m-1-3h-.1m-1-8h.1m0 21h-.1m-1-14h.1m-2 12h-.1m0-3h.1m0 7h-.1m-2-23h.1m-1 2h-.1m-1 13h.1m-1-18h-.1m0 23h.1m0-17h-.1m-1 3h.1m0 1h-.1m0 18h.1m0-12h-.1m0 5h.1m-1-7h-.1m-1 9h.1m0-6h-.1m-2 1h.1m-3 4h-.1m-3-15h.1m-3-4h-.1m0 18h.1m-2 3h-.1m-3-12h.1m-1-4h-.1m0 19h.1m-1-6h-.1m0-19h.1m-2 21h-.1m-1-17h.1m-2-3h-.1m0 7h.1m-3-2h-.1m-1 21h.1m-1-24h-.1m-3 7h.1m0 3h-.1m0 11h.1m-1-16h-.1m-2 8h.1m0-3h-.1m-3-12h.1m-2 27h-.1m-1-25h.1m-1 9h-.1m-2-14h.1m0 21h-.1m-2 7h.1m-2-8h-.1m-1-2h.1m-2 6h-.1m0-11h.1m-1-2h-.1m-5 18h.1m0-9h-.1m0 3h.1m-1 4h-.1m-1-18h.1m-1-5h-.1m-1 21h.1m-1-20h-.1m-1-6h.1m-1 15h-.1m-2 0h.1m-1-3h-.1m-1-11h.1m-2 4h-.1m0 11h.1m-2-15h-.1m0 17h.1m0-1h-.1m-1 12h.1m0-28h-.1m-2 18h.1m0 9h-.1m-2-22h.1m-4 2h-.1m-1 2h.1m-1 9h-.1m0-5h.1m-1 11h-.1m0-5h.1m-1-3h-.1m-3-6h.1m0-6h-.1m-1 25h.1m-4-25h-.1m-1 17h.1m0-9h-.1m0-10h.1m-2 17h-.1m-2-1h.1m0 9h-.1m-1 2h.1m-1-11h-.1m-2 9h.1m0-8h-.1m-3-8h.1m-1-8h-.1m0 24h.1m-1-21h-.1m0 1h.1m-2 15h-.1m-1 5h.1m0-8h-.1m-1 4h.1m-1-7h-.1m-1-17h.1m-2 2h-.1m0 10h.1m0-3h-.1m-1 18h.1m0-3h-.1m-2-18h.1m-3 16h-.1m0 5h.1m-2-20h-.1m0 13h.1m-2-16h-.1m-1 24h.1m-2-5h-.1m-1-20h.1m-2 15h-.1m-1-15h.1m-2 26h-.1m-2-11h.1m0-15h-.1m-1 12h.1m-2-13h-.1m-1 20h.1m0-8h-.1m-2 13h.1m-2-11h-.1m-1 3h.1m0-18h-.1m0-1h.1m-3 1h-.1m-3 12h.1m-3-2h-.1m-2 0h.1m0 9h-.1m0-2h.1m0 10h-.1m-2-26h.1m0 3h-.1m-1 14h.1m0-19h-.1m-5 19h.1m0-1h-.1m-1 8h.1m-2-2h-.1m-4-1h.1m0-5h-.1m-2-4h.1m0-3h-.1m-2 18h.1m-2-28h-.1m0 17h.1m-2 10h-.1m-2-7h.1m-1-17h-.1m-1-2h.1m-2 1h-.1m0 21h.1m-2 4h-.1m-3-17h.1m-1-9h-.1m-1 22h.1m-2-19h-.1m-1 12h.1m-3 7h-.1m-2-24h.1m0 14h-.1m-1-4h.1m0 5h-.1m-1 2h.1m-3 14h-.1m0-12h.1m-1-14h-.1m-1-1h.1m0 14h-.1m0 10h.1m0-8h-.1m-3-13h.1m-1 2h-.1m-1-5h.1m-1 19h-.1m0-21h.1m0 10h-.1m-1-8h.1m-2 13h-.1m-3 3h.1m-2-7h-.1m0-10h.1m-1 23h-.1m0-3h.1m-1-9h-.1m-1-3h.1m-2 2h-.1m-1 9h.1m-1-5h-.1m0-8h.1m0 11h-.1m-2-15h.1m-2 1h-.1m-6 17h.1m-2-16h-.1m-2-4h.1m-2 8h-.1m-2-9h.1m0 3h-.1m-2-1h.1m-4 15h-.1m-1-20h.1m-2 2h-.1m-1 14h.1m-2 5h-.1m0-7h.1m0-2h-.1m-1 6h.1m-1-7h-.1m-1 2h.1m0 4h-.1m-1-7h.1m-3-4h-.1m-2 6h.1m-1 8h-.1m0 12h.1m-2-21h-.1m-3 1h.1m-1 3h-.1m-1 10h.1m-3 1h-.1m-1-4h.1m-2-3h-.1m-5 8h.1m0-3h-.1m-1-2h.1m0-3h-.1m-1-9h.1m-1 16h-.1m0 2h.1m-2-12h-.1m-4 1h.1m-1 14h-.1m-1-15h.1m-1-10h-.1m-1 17h.1m-1-15h-.1m-1 17h.1m-3 2h-.1m0-19h.1m-1-5h-.1m-1 24h.1m-2-27h-.1m-5 16h.1m0 12h-.1m-2-17h.1m0 17h-.1m-1-6h.1m-4-22h-.1m0 17h.1m-1-2h-.1m0-8h.1m-1-4h-.1m-1 13h.1m0 2h-.1m-2-14h.1m0 9h-.1m0 2h.1m-1-12h-.1m-1 17h.1m0 7h-.1m-1-13h.1m-1-8h-.1m0 21h.1m-2-8h-.1m0-18h.1m-2 5h-.1m-1 16h.1m-1 2h-.1m0-6h.1m-2 12h-.1m-1-17h.1m0-10h-.1m0 7h.1m-1 21h-.1m-2-27h.1m-2 17h-.1m-3-8h.1m-1-4h-.1m0 10h.1m-1-4h-.1m-5 13h.1m-2-8h-.1m-2-4h.1m-1-10h-.1m0 12h.1m-1 7h-.1m-1 2h.1m-2-11h-.1m0 5h.1m-1-21h-.1m0 12h.1m-1 8h-.1m-1-5h.1m0 13h-.1m-2-5h.1m-1 8h-.1m-2-20h.1m0 17h-.1m0-26h.1m-6 18h-.1m-1-16h.1m-1 14h-.1m-1 13h.1m-4-23h-.1m-4 19h.1m0-15h-.1m-1 8h.1m-3-9h-.1m-1-6h.1m-2 0h-.1m-1 15h.1m-1-12h-.1m-3-7h.1m-1 17h-.1m0-9h.1m-1 5h-.1m0-14h.1m-1 22h-.1m-2-14h.1m-1 7h-.1m0 13h.1m-3-3h-.1m0-12h.1m0-2h-.1m-1 13h.1m-1-2h-.1m-1-15h.1m-1 23h-.1m0-8h.1m-3 9h-.1m-1-7h.1m-1 4h-.1m-1-15h.1m0 10h-.1m-2-10h.1m-1 16h-.1m-1-12h.1m-1-13h-.1m-4 26h.1m-1-15h-.1m0 14h.1m-3-16h-.1m-4-1h.1m-2 3h-.1m-3 4h.1m-2-19h-.1m0 19h.1m-3 0h-.1m-6 5h.1m-2 3h-.1m-5 31h.1m1 4h-.1m2-9h.1m1-3h-.1m2-17h.1m2 14h-.1m0 13h.1m2-24h-.1m1-2h.1m0 11h-.1m2 13h.1m2-26h-.1m0 12h.1m4 11h-.1m0 9h.1m1-30h-.1m1 9h.1m1 14h-.1m2-3h.1m2-11h-.1m2-10h.1m0 7h-.1m2 0h.1m2 12h-.1m0-10h.1m2-1h-.1m0 12h.1m1 6h-.1m0-19h.1m3-2h-.1m3 9h.1m0-9h-.1m0-4h.1m1 22h-.1m2 3h.1m1 3h-.1m3-29h.1m0 5h-.1m2 25h.1m1-31h-.1m0 27h.1m1-20h-.1m2 0h.1m2 3h-.1m0-6h.1m0 2h-.1m0 19h.1m1-4h-.1m0-11h.1m1 10h-.1m0-4h.1m4 5h-.1m2 1h.1m0 9h-.1m0-25h.1m0 19h-.1m1-8h.1m0-14h-.1m2 12h.1m0-9h-.1m0 10h.1m1 7h-.1m2-2h.1m2 6h-.1m2-19h.1m0 19h-.1m2-16h.1m1-8h-.1m1 6h.1m1 0h-.1m2 21h.1m0-17h-.1m1 4h.1m0 5h-.1m3-22h.1m1 18h-.1m0 13h.1m1-23h-.1m4 3h.1m0 2h-.1m0-9h.1m1 15h-.1m3-9h.1m2 7h-.1m0-7h.1m1 18h-.1m1-23h.1m0 18h-.1m0 6h.1m2-9h-.1m0-19h.1m0 1h-.1m0 14h.1m1 9h-.1m3 1h.1m5-20h-.1m0 2h.1m2 19h-.1m0 2h.1m1-5h-.1m1-4h.1m0-10h-.1m1 19h.1m0-26h-.1m2 3h.1m1 8h-.1m1 7h.1m0-16h-.1m1-5h.1m1 12h-.1m3 10h.1m1-7h-.1m3 10h.1m1-12h-.1m1 16h.1m1-15h-.1m0-8h.1m1 4h-.1m3 19h.1m0-7h-.1m1-16h.1m1-1h-.1m0-2h.1m1 13h-.1m2-13h.1m0 3h-.1m0 22h.1m2 2h-.1m1-7h.1m1-6h-.1m2-13h.1m0 15h-.1m2 9h.1m0-5h-.1m0-5h.1m4 8h-.1m1-22h.1m1 28h-.1m1-10h.1m5 5h-.1m1-17h.1m2-10h-.1m0 15h.1m1-5h-.1m1 12h.1m0 2h-.1m2-22h.1m1 11h-.1m3-3h.1m0-8h-.1m1 22h.1m6-5h-.1m1 12h.1m2-4h-.1m1-12h.1m0 4h-.1m1-17h.1m1 16h-.1m1-5h.1m1-12h-.1m1 21h.1m0-13h-.1m1 11h.1m3 7h-.1m0-23h.1m1 24h-.1m0-10h.1m5-16h-.1m2 2h.1m2 15h-.1m0-9h.1m1 9h-.1m3-9h.1m2 19h-.1m2 2h.1m0-16h-.1m1-7h.1m1-8h-.1m1 17h.1m0-11h-.1m2 22h.1m0-12h-.1m0-12h.1m0 4h-.1m5 19h.1m0-21h-.1m0-2h.1m1 7h-.1m0 3h.1m2-13h-.1m2 28h.1m2-26h-.1m2 29h.1m1-11h-.1m2-5h.1m1-8h-.1m2 23h.1m1-22h-.1m0 6h.1m2 3h-.1m4 11h.1m1 3h-.1m0-16h.1m3 13h-.1m0-25h.1m0 9h-.1m3-10h.1m0 3h-.1m2-5h.1m1 11h-.1m1 5h.1m0 15h-.1m2-22h.1m1-3h-.1m0 9h.1m0-14h-.1m1 9h.1m0 12h-.1m0 8h.1m0-3h-.1m3-4h.1m1-5h-.1m1 11h.1m0-17h-.1m3 12h.1m0-12h-.1m3 11h.1m0-11h-.1m1 16h.1m1-4h-.1m1-4h.1m3 8h-.1m3-11h.1m1 8h-.1m1-5h.1m2-6h-.1m0 9h.1m0-11h-.1m1 4h.1m3-17h-.1m1 26h.1m0-16h-.1m3 5h.1m0 3h-.1m0-8h.1m1-3h-.1m1 17h.1m0-4h-.1m0-15h.1m3 6h-.1m2 16h.1m1-10h-.1m2 7h.1m3-21h-.1m0 28h.1m1-30h-.1m1 20h.1m0 7h-.1m1-15h.1m2-2h-.1m0-1h.1m1 20h-.1m1-19h.1m2-9h-.1m3 4h.1m2 7h-.1m0 3h.1m1-14h-.1m0 4h.1m1 19h-.1m7-21h.1m1 16h-.1m3 7h.1m0-12h-.1m0 6h.1m1 10h-.1m2-29h.1m2 22h-.1m0 4h.1m3-16h-.1m0 4h.1m1-5h-.1m1 10h.1m1-11h-.1m2 3h.1m1-10h-.1m0 22h.1m0 6h-.1m1-8h.1m0-7h-.1m2 5h.1m1 9h-.1m1-11h.1m0 8h-.1m3-19h.1m3-7h-.1m2 9h.1m0 7h-.1m1-6h.1m1 15h-.1m1-17h.1m1-6h-.1m1 10h.1m0-8h-.1m0 19h.1m1 2h-.1m3-25h.1m2 0h-.1m3 6h.1m2 16h-.1m0-8h.1m1 3h-.1m2 4h.1m1-19h-.1m1 15h.1m0 5h-.1m4-5h.1m0 8h-.1m2-11h.1m2-1h-.1m0 11h.1m2-11h-.1m2-14h.1m1 19h-.1m1-8h.1m2-4h-.1m0 21h.1m1-11h-.1m2 5h.1m0-20h-.1m0 11h.1m0 16h-.1m2-14h.1m2 8h-.1m0 8h.1m1-23h-.1m1-6h.1m0 8h-.1m1 16h.1m2-19h-.1m0 3h.1m0 19h-.1m2-6h.1m1-22h-.1m0 18h.1m1-2h-.1m1-15h.1m3 14h-.1m0-9h.1m3 7h-.1m1-1h.1m1 9h-.1m3 8h.1m0-17h-.1m1 13h.1m1-22h-.1m1 9h.1m4 7h-.1m0 6h.1m3-7h-.1m1-7h.1m0-4h-.1m1 12h.1m1 10h-.1m0-17h.1m2 14h-.1m2-9h.1m2 11h-.1m6-14h.1m1 5h-.1m0-7h.1m1 12h-.1m1-23h.1m1 29h-.1m0-31h.1m2 22h-.1m1 3h.1m0 5h-.1m1-10h.1m0-3h-.1m2 13h.1m0-26h-.1m2 3h.1m1-4h-.1m0 14h.1m1 11h-.1m0-8h.1m6 8h-.1m2-8h.1m0-17h-.1m2 4h.1m0 2h-.1m3 4h.1m0-6h-.1m2 25h.1m2-4h-.1m1-23h.1m5-5h-.1m1 5h.1m2-2h-.1m2-2h.1m3 29h-.1m1-11h.1m0 7h-.1m2 6h.1m1-21h-.1m0 16h.1m1-13h-.1m1-6h.1m2 5h-.1m5-4h.1m0-4h-.1m1 24h.1m1-5h-.1m0-7h.1m1-2h-.1m2-4h.1m0 17h-.1m1-14h.1m0-12h-.1m1 20h.1m0-6h-.1m5 10h.1m0-3h-.1m6-6h.1m1-2h-.1m3-4h.1m1 13h-.1m0 7h.1m1-12h-.1m1-18h.1m0 28h-.1m1-4h.1m0-10h-.1m1-4h.1m0 17h-.1m0-25h.1m1 16h-.1m2 5h.1m0-22h-.1m3 6h.1m2 13h-.1m2-16h.1m1 15h-.1m1 2h.1m1-2h-.1m1-12h.1m5 4h-.1m1 16h.1m0-12h-.1m2-8h.1m0-4h-.1m2 6h.1m1 10h-.1m1-16h.1m0 21h-.1m1-16h.1m4-7h-.1m0 10h.1m1 13h-.1m0-23h.1m1 7h-.1m2 19h.1m1-3h-.1m3-19h.1m0-6h-.1m0 16h.1m2-8h-.1m0 3h.1m0 16h-.1m3-19h.1m0 23h-.1m1-2h.1m0-17h-.1m1-7h.1m1 1h-.1m1 12h.1m3-17h-.1m1 23h.1m3-12h-.1m1-4h.1m1-7h-.1m2 5h.1m2 16h-.1m0-8h.1m0-14h-.1m1 20h.1m1-10h-.1m0 7h.1m1-15h-.1m0 26h.1m2-26h-.1m0 10h.1m1 4h-.1m1-4h.1m2 8h-.1m1-6h.1m2 1h-.1m2 15h.1m3-28h-.1m1 26h.1m1-15h-.1m3 12h.1m1 2h-.1m1-21h.1m1-2h-.1m1 14h.1m0-17h-.1m3 26h.1m2-23h-.1m0 26h.1m0-19h-.1m2 4h.1m1 8h-.1m2-10h.1m0-7h-.1m0 16h.1m1 7h-.1m1-24h.1m2 27h-.1m0-9h.1m1-22h-.1m3 3h.1m0 20h-.1m3 6h.1m4-25h-.1m1 13h.1m2-10h-.1m2 19h.1m0-19h-.1m1 16h.1m0-4h-.1m0-10h.1m1-4h-.1m4 21h.1m1-24h-.1m4 28h.1m2-29h-.1m0 27h.1m3-1h-.1m0-4h.1m2-10h-.1m0 11h.1m4-12h-.1m2 13h.1m0-12h-.1m0 5h.1m3 3h-.1m0-8h.1m1 16h-.1m1-17h.1m1 12h-.1m1 5h.1m1-8h-.1m0-17h.1m2 19h-.1m1-24h.1m2 1h-.1m1 12h.1m2-3h-.1m0 5h.1m3 5h-.1m0 8h.1m0-20h-.1m0-5h.1m1 19h-.1m2-4h.1m0-8h-.1m0 4h.1m1-6h-.1m0-3h.1m3 6h-.1m2-5h.1m1 3h-.1m1-2h.1m1-5h-.1m0 19h.1m1-18h-.1m1 6h.1m1 12h-.1m2 3h.1m1-7h-.1m1-14h.1m1 21h-.1m1 4h.1m5-13h-.1m0 5h.1m0 3h-.1m5-6h.1m0 10h-.1m2 1h.1m2-9h-.1m1-4h.1m1-9h-.1m2 7h.1m1 14h-.1m0 4h.1m1-15h-.1m4-9h.1m0-2h-.1m1 15h.1m2 2h-.1m0-20h.1m2 21h-.1m1-21h.1m1 4h-.1m1 24h.1m1-29h-.1m1 22h.1m4 8h-.1m0-3h.1m0-18h-.1m3 18h.1m0-11h-.1m3-9h.1m0 2h-.1m1 5h.1m0 2h-.1m2-8h.1m0 3h-.1m0 14h.1m0-7h-.1m1-10h.1m1-3h-.1m4 6h.1m0-6h-.1m2 4h.1m4 17h-.1m0-18h.1m2 10h-.1m2-12h.1m1-2h-.1m1 18h.1m0-16h-.1m0 25h.1m1-17h-.1m6 15h.1m0-14h-.1m2-13h.1m0 11h-.1m3 12h.1m0-23h-.1m2 23h.1m2 1h-.1m0-25h.1m1 13h-.1m2 14h.1m5-19h-.1m1 3h.1m0 6h-.1m1 5h.1m0-14h-.1m0 8h.1m3-7h-.1m3 20h.1m2-5h-.1m4-4h.1m5-8h-.1m1 10h.1m1-23h-.1m0 16h.1m2 4h-.1m3 1h.1m1 3h-.1m4-4h.1m7 4h-.1m1-8h.1m3-10h-.1m1 10h.1m1-4h-.1m0-7h.1m2 5h-.1m1 20h.1m0-11h-.1m1 4h.1m3-22h-.1m0 27h.1m1-16h-.1m4 4h.1m2-6h-.1m0 16h.1m1-10h-.1m0-15h.1m9 29h-.1m2-29h.1m2 13h-.1m2-4h.1m1 4h-.1m3 0h.1m1-9h-.1m0 18h.1m0 5h-.1m2-27h.1m1 28h-.1m2-19h.1m3 12h-.1m2 6h.1m3-2h-.1m1-8h.1m4 13h-.1m51 27h.1m-3-3h-.1m-4 4h.1m-15 4h-.1m-1-2h.1m-4-11h-.1m-2 12h.1m-2-6h-.1m-1 3h.1m-7-13h-.1m-3-2h.1m-1 9h-.1m-1-15h.1m0 12h-.1m-4 0h.1m-1-15h-.1m-5 4h.1m-1 22h-.1m-1-29h.1m-1 8h-.1m0 9h.1m-1-15h-.1m-9 27h.1m-1-15h-.1m-2 13h.1m-1-24h-.1m-2 1h.1m-5-4h-.1m-14 28h.1m0-12h-.1m-1-7h.1m-3 15h-.1m-5-9h.1m-3 13h-.1m-1-26h.1m-5-2h-.1m-1 24h.1m-3-18h-.1m-1 11h.1m-4-2h-.1m-8 14h.1m-3-28h-.1m0 28h.1m-1-7h-.1m-2-11h.1m-2 1h-.1m-1 18h.1m-1-24h-.1m-10 20h.1m0-19h-.1m-3 19h.1m-2-25h-.1m-2 24h.1m-1-4h-.1m-1 7h.1m-2-6h-.1m-1-15h.1m0 12h-.1m-2-9h.1m-1 6h-.1m0 6h.1m-3 7h-.1m-3-21h.1m-1-2h-.1m-2 13h.1m-1 9h-.1m-3-29h.1m-1 16h-.1m0 4h.1m-1-11h-.1m-2-2h.1m-2 24h-.1m0-13h.1m-2 8h-.1m-1-26h.1m-1 31h-.1m-2-7h.1m-2-5h-.1m-5 2h.1m0-18h-.1m-1 24h.1m0-5h-.1m0-17h.1m-1 5h-.1m-1-9h.1m0 23h-.1m-2-15h.1m0-3h-.1m-3 14h.1m0 9h-.1m0-12h.1m-1-16h-.1m0 11h.1m0 1h-.1m-4-8h.1m0 19h-.1m-1-16h.1m0-4h-.1m-2 9h.1m-2 2h-.1m-3-2h.1m0 15h-.1m-1-3h.1m-2-18h-.1m0 25h.1m-1-27h-.1m-1 19h.1m-2-8h-.1m-2 9h.1m0-21h-.1m-1 23h.1m-1-2h-.1m-1 2h.1m0-6h-.1m0-9h.1m-1-5h-.1m-3-4h.1m-8 20h-.1m0-15h.1m-1 9h-.1m0 11h.1m-1-23h-.1m-1 18h.1m-2-19h-.1m-1 6h.1m-1 11h-.1m-1-12h.1m-2 6h-.1m-1-13h.1m-3-2h-.1m-4 25h.1m0-19h-.1m-3 8h.1m-4-11h-.1m-4 15h.1m-4-10h-.1m-1 3h.1m-1 20h-.1m-1-15h.1m0-13h-.1m0 21h.1m-2-6h-.1m0-8h.1m-1 21h-.1m-1-24h.1m-1-2h-.1m0 10h.1m-1-14h-.1m0 21h.1m0 5h-.1m-3-16h.1m0 11h-.1m0-2h.1m-1-17h-.1m-4 28h.1m0-7h-.1m-1-7h.1m0-11h-.1m-2 17h.1m0-7h-.1m-1-3h.1m-2-4h-.1m0 17h.1m-2-19h-.1m-1 3h.1m-2-9h-.1m-1 31h.1m0-22h-.1m0 15h.1m0-21h-.1m-1 3h.1m-1 19h-.1m0 6h.1m-1-12h-.1m0-5h.1m-2 5h-.1m0 5h.1m-1-7h-.1m-5-6h.1m-1 13h-.1m-4-12h.1m0-8h-.1m-4 9h.1m0-10h-.1m-3 0h.1m-1 16h-.1m-3-12h.1m-1 16h-.1m0-2h.1m-1 5h-.1m0-23h.1m-2 14h-.1m0-5h.1m0-8h-.1m-2-2h.1m-3 1h-.1m0 16h.1m0-10h-.1m0 15h.1m-1-23h-.1m0 4h.1m-2 9h-.1m0-9h.1m-2 25h-.1m-2-7h.1m-1-2h-.1m-2-7h.1m0 8h-.1m0-3h.1m-1 10h-.1m-1-12h.1m-1-9h-.1m0 2h.1m-1 19h-.1m0-10h.1m0-15h-.1m0-3h.1m-2 6h-.1m0 5h.1m0 5h-.1m0 4h.1m0-12h-.1m-4 21h.1m0-27h-.1m-1 11h.1m-5-13h-.1m0-2h.1m-1 27h-.1m0-12h.1m0-8h-.1m-3 4h.1m-1 18h-.1m0-14h.1m-1 12h-.1m-1-13h.1m0-6h-.1m-1 3h.1m0 17h-.1m-3 1h.1m-1-8h-.1m-3-6h.1m0-10h-.1m-2 16h.1m-1-5h-.1m0-9h.1m-1-2h-.1m-1-2h.1m-6 6h-.1m-1 17h.1m0-13h-.1m-2-10h.1m-4-2h-.1m-1 15h.1m0 13h-.1m-2-28h.1m-2 28h-.1m0-14h.1m-2-9h-.1m-2 4h.1m-2 19h-.1m-1-19h.1m-1-4h-.1m-1 23h.1m-6-29h-.1m-1 22h.1m-2 2h-.1m-1-23h.1m0 8h-.1m-1-3h.1m-4-1h-.1m0 5h.1m0 16h-.1m-1-20h.1m-2 6h-.1m0 17h.1m-1-14h-.1m-1 11h.1m-1 3h-.1m-3-13h.1m-3-4h-.1m0-3h.1m-1 5h-.1m-1-13h.1m-3 3h-.1m-1 8h.1m0 9h-.1m0-11h.1m-1 2h-.1m-1 3h.1m-5 11h-.1m-1-13h.1m0-4h-.1m-2 18h.1m-1 4h-.1m-1-24h.1m-1 17h-.1m-3-24h.1m0 23h-.1m-1-17h.1m-1 3h-.1m-1 11h.1m-2 1h-.1m0-9h.1m-2-9h-.1m-1 28h.1m-1-13h-.1m-1-15h.1m-4 10h-.1m0-6h.1m-1 3h-.1m0 13h.1m-1-17h-.1m-1 4h.1m0 7h-.1m-2 11h.1m-3-16h-.1m0 10h.1m-1-4h-.1m0 3h.1m0-6h-.1m-1 7h.1m0-18h-.1m-2 11h.1m0 13h-.1m-1-2h.1m-3-23h-.1m-2 23h.1m-3-13h-.1m-1-8h.1m-1 20h-.1m0-7h.1m-3-9h-.1m-1 7h.1m-1 2h-.1m0 11h.1m-2-22h-.1m-1 24h.1m-2-2h-.1m-1-6h.1m0-5h-.1m-1-2h.1m0-4h-.1m-1 13h.1m0-22h-.1m0 11h.1m-2 2h-.1m-2-12h.1m-2-4h-.1m0 11h.1m-1 18h-.1m0-24h.1m-2 8h-.1m-2-8h.1m0 22h-.1m-2 0h.1m-1-19h-.1m0 17h.1m-3 1h-.1m-1-26h.1m-1 13h-.1m-2-11h.1m-1 6h-.1m-1 11h.1m-1-17h-.1m-1 5h.1m0 14h-.1m-1-20h.1m-2 24h-.1m-1-17h.1m-1 16h-.1m-1 5h.1m0-24h-.1m-3 22h.1m-2-12h-.1m0 14h.1m-1-24h-.1m0 23h.1m-1-7h-.1m-2 3h.1m-1-4h-.1m-2 9h.1m-1-3h-.1m-1-22h.1m-1 26h-.1m0-10h.1m-3-17h-.1m-1 24h.1m-3-3h-.1m0-2h.1m-2 6h-.1m-1 2h.1m-2-23h-.1m-1 20h.1m0-26h-.1m-1 18h.1m-3-13h-.1m-3-2h.1m-1 19h-.1m0-14h.1m-1 3h-.1m-1-6h.1m-1 2h-.1m-1 11h.1m-1-8h-.1m-2 4h.1m0-7h-.1m-1-8h.1m-1 20h-.1m-1 4h.1m-2-6h-.1m-3 3h.1m-3-19h-.1m-1 3h.1m-1 23h-.1m-1-24h.1m-1 11h-.1m0 9h.1m-1-17h-.1m-1 25h.1m0-15h-.1m-3 12h.1m-1-8h-.1m0-21h.1m-1 4h-.1m0 9h.1m-2 18h-.1m-1-14h.1m-1-5h-.1m-1-8h.1m-1 26h-.1m-2-24h.1m-2-5h-.1m-1 17h.1m0-7h-.1m-1-3h.1m-1 11h-.1m0-5h.1m-2-11h-.1m-1 18h.1m-6-8h-.1m0-12h.1m0 25h-.1m-2-1h.1m-2-8h-.1m-3-7h.1m-1-8h-.1m-2 0h.1m0 7h-.1m-2-5h.1m0 10h-.1m-1 4h.1m-3 4h-.1m0-13h.1m-1 5h-.1m-3-4h.1m-2-1h-.1m-2 1h.1m-1 21h-.1m0-6h.1m-1 5h-.1m-5-29h.1m-1 29h-.1m0-4h.1m0-6h-.1m-1-10h.1m-1-3h-.1m0 23h.1m-3-26h-.1m-2 20h.1m0-13h-.1m-2-6h.1m-1 13h-.1m-2-2h.1m-1 13h-.1m-1-26h.1m-1 3h-.1m-1 12h.1m-3-10h-.1m0-4h.1m-1-2h-.1m-4 4h.1m-1 26h-.1m-2 0h.1m0-19h-.1m0 11h.1m-5 3h-.1m-1 2h.1m-2-17h-.1m-3-9h.1m-2 16h-.1m-1-8h.1m-1-5h-.1m-1-3h.1m-2 20h-.1m-2-5h.1m-2-7h-.1m-1 19h.1m-3-19h-.1m0 15h.1m0 2h-.1m-1-20h.1m-2 6h-.1m0 16h.1m-1-30h-.1m-1 18h.1m0-2h-.1m-1 4h.1m0-7h-.1m-1-5h.1m-1-4h-.1m-1 15h.1m-2-6h-.1m-1-9h.1m0 14h-.1m-1-3h.1m-5 7h-.1m-2 2h.1m-2-4h-.1m-1-18h.1m0 21h-.1m-1-8h.1m-1-11h-.1m-2 14h.1m-4 9h-.1m0-16h.1m0 12h-.1m-2-15h.1m-1 11h-.1m-1 9h.1m-1-26h-.1m0 18h.1m-1-5h-.1m0-14h.1m-2 18h-.1m0-18h.1m-2 9h-.1m0 8h.1m-1 7h-.1m-2-23h.1m-1 18h-.1m-1-13h.1m-1 23h-.1m0-3h.1m-1-18h-.1m-1 18h.1m-2-10h-.1m0-10h.1m-1 17h-.1m-1-20h.1m0 16h-.1m-1 8h.1m-1-6h-.1m0-6h.1m-1 14h-.1m0-28h.1m-2 28h-.1m0-15h.1m-1-2h-.1m-1 6h.1m-1 3h-.1m-2 1h.1m-3 4h-.1m0-9h.1m-3-15h-.1m-2 3h.1m-1 12h-.1m-2-16h.1m0 26h-.1m-3-13h.1m0-3h-.1m0 17h.1m0-23h-.1m-3 9h.1m-3 5h-.1m-1-6h.1m-1-3h-.1m0-2h.1m-1 13h-.1m-1-19h.1m-1 8h-.1m-2-11h.1m0 27h-.1m-2-18h.1m0 11h-.1m-3-14h.1m-1 10h-.1m0-13h.1m-1 27h-.1m0-4h.1m-1-3h-.1m0-12h.1m-2-9h-.1m-1 22h.1m-1 3h-.1m-1-12h.1m-2 2h-.1m0 5h.1m-4-7h-.1m0 9h.1m0-2h-.1m-1-19h.1m-4 25h-.1m-1-18h.1m-2 6h-.1m-1 11h.1m-1 1h-.1m0-11h.1m0-3h-.1m-1-11h.1m0 21h-.1m-1-15h.1m-1 21h-.1m-2-13h.1m-1-5h-.1m-2-11h.1m0 9h-.1m-1 20h.1m-1-16h-.1m-1-12h.1m-1 2h-.1m-2 19h.1m-3-17h-.1m-2 9h.1m-2-4h-.1m-2 15h.1m0-26h-.1m-2 26h.1m0-4h-.1m-1 5h.1m-5-3h-.1m-2-15h.1m-1-3h-.1m-1-3h.1m-2 4h-.1m0 9h.1m-1-10h-.1m-2 15h.1m-6-21h-.1m0 25h.1m-1-7h-.1m0-10h.1m-1 6h-.1m0 5h.1m-2-16h-.1m0 27h.1m-1-5h-.1m-3 1h.1m-1 6h-.1m-1-30h.1m-1 9h-.1m0-5h.1m-1 1h-.1m-3 17h.1m-2-23h-.1m-3 12h.1m-2 16h-.1m0-16h.1m-4 17h-.1m-2-10h.1m-1-12h-.1m-2 18h.1m0-20h-.1m-5 9h.1m0 16h-.1m0-5h.1m-1-18h-.1m-1 2h.1m0 21h-.1m-1-13h.1m-1 5h-.1m0-4h.1m0-14h-.1m-2 3h.1m-2 10h-.1m-1-2h.1m0 13h-.1m-1-17h.1m-1 13h-.1m-1-19h.1m-1-2h-.1m-2 10h.1m-1-4h-.1m-2 18h.1m-1-20h-.1m-1 2h.1m-1 11h-.1m-1 4h.1m-2-7h-.1m-1 11h.1m-2 1h-.1m-1-13h.1m-5-10h-.1m-2 11h.1m-1-11h-.1m0-5h.1m0 21h-.1m-5-18h.1m-2 18h-.1m-11 36h.1m4 4h-.1m0-7h.1m4-12h-.1m2 10h.1m1-12h-.1m4 4h.1m1 3h-.1m4 13h.1m1-19h-.1m0 2h.1m3 16h-.1m1-5h.1m0-19h-.1m2 9h.1m1 14h-.1m1-7h.1m1-14h-.1m1 10h.1m0 9h-.1m1 5h.1m2-10h-.1m0-17h.1m0 10h-.1m0-4h.1m2 13h-.1m1-18h.1m2 14h-.1m2 10h.1m1-16h-.1m1 3h.1m1 4h-.1m3 11h.1m0-17h-.1m3 3h.1m1 11h-.1m1-11h.1m3 6h-.1m0-10h.1m0 13h-.1m2-17h.1m2 3h-.1m1-10h.1m2-2h-.1m1 17h.1m0-12h-.1m0 21h.1m2-16h-.1m1 5h.1m7 9h-.1m2 3h.1m1 2h-.1m1-3h.1m1-23h-.1m1 23h.1m1-12h-.1m0 17h.1m0-4h-.1m2-17h.1m0 11h-.1m2-5h.1m1 16h-.1m2-10h.1m1-16h-.1m2-4h.1m0 27h-.1m2-17h.1m2-3h-.1m0 16h.1m0-21h-.1m1 21h.1m2-8h-.1m1-16h.1m0 17h-.1m2 11h.1m4-3h-.1m3-23h.1m1 2h-.1m2 7h.1m1 15h-.1m1-10h.1m0 5h-.1m0 8h.1m1-19h-.1m0 16h.1m1-7h-.1m1-9h.1m3 1h-.1m2-6h.1m1 18h-.1m0-20h.1m2 10h-.1m1 16h.1m1-19h-.1m0 10h.1m0 4h-.1m1-5h.1m0-8h-.1m1 11h.1m1-19h-.1m0 8h.1m1 13h-.1m0 6h.1m0-28h-.1m2 27h.1m0-3h-.1m5-17h.1m0 6h-.1m2-15h.1m4 10h-.1m2 10h.1m0-13h-.1m0 19h.1m2-5h-.1m3-5h.1m0-12h-.1m1 6h.1m1 6h-.1m0 13h.1m2-25h-.1m3 5h.1m0 13h-.1m1 6h.1m3-7h-.1m0-2h.1m0 12h-.1m2-7h.1m1-8h-.1m2 0h.1m0-13h-.1m1 5h.1m2-5h-.1m1 15h.1m1-13h-.1m0 17h.1m0-14h-.1m1 8h.1m2-15h-.1m1 3h.1m3-3h-.1m1 26h.1m4-18h-.1m1-6h.1m2 10h-.1m0 9h.1m3-5h-.1m2 8h.1m2-17h-.1m1 16h.1m0-3h-.1m1-3h.1m2 9h-.1m0-3h.1m1-21h-.1m2 1h.1m3 26h-.1m1-11h.1m4-5h-.1m1 12h.1m0-14h-.1m2-11h.1m0 29h-.1m0-13h.1m1 9h-.1m1-18h.1m1 23h-.1m1-8h.1m1 5h-.1m0-25h.1m2 18h-.1m1 6h.1m0 2h-.1m2-11h.1m2-18h-.1m0 9h.1m1 15h-.1m1-5h.1m0-14h-.1m1-2h.1m0 14h-.1m1 3h.1m2-12h-.1m2-6h.1m1 17h-.1m0-14h.1m1 4h-.1m0 2h.1m0 14h-.1m1-22h.1m0 10h-.1m2 9h.1m1-3h-.1m2-13h.1m1 22h-.1m0-19h.1m0 14h-.1m2-8h.1m0-9h-.1m5-4h.1m1 12h-.1m1 17h.1m2-29h-.1m1 23h.1m0 5h-.1m2 1h.1m0-4h-.1m2-23h.1m0 17h-.1m0 4h.1m4-13h-.1m0-3h.1m3 6h-.1m0 11h.1m1-27h-.1m1 8h.1m1-7h-.1m1 5h.1m1 3h-.1m1-8h.1m0 14h-.1m1 2h.1m0-14h-.1m0 4h.1m2 25h-.1m3-30h.1m2 28h-.1m1-15h.1m3 13h-.1m0-16h.1m1-9h-.1m5 2h.1m0-1h-.1m2 25h.1m1-3h-.1m0 3h.1m2-19h-.1m2 12h.1m1-5h-.1m4-9h.1m1-4h-.1m2 23h.1m1-20h-.1m0 12h.1m1-14h-.1m2 13h.1m0 6h-.1m1 4h.1m2-12h-.1m0-4h.1m1 9h-.1m0 7h.1m1-4h-.1m0-4h.1m0-15h-.1m1 16h.1m2-3h-.1m1-5h.1m1-8h-.1m0 10h.1m2 12h-.1m0 5h.1m0-8h-.1m1-11h.1m1 9h-.1m3-19h.1m0 23h-.1m1-10h.1m2-11h-.1m0 7h.1m2 18h-.1m1-23h.1m2 18h-.1m0-11h.1m1-14h-.1m3 19h.1m1-16h-.1m1 27h.1m0-17h-.1m0-5h.1m2 16h-.1m0-17h.1m0 11h-.1m3-18h.1m1 32h-.1m0-29h.1m1 28h-.1m2-8h.1m0-14h-.1m1-4h.1m1 12h-.1m0 8h.1m1-14h-.1m2 9h.1m2-10h-.1m1-5h.1m0 16h-.1m4-11h.1m1 21h-.1m2-24h.1m1 18h-.1m2-5h.1m1 5h-.1m1-19h.1m2 12h-.1m1 13h.1m0-17h-.1m1 4h.1m3-15h-.1m2 28h.1m1-18h-.1m3-4h.1m0 22h-.1m6-21h.1m1 16h-.1m0-26h.1m1 10h-.1m2 16h.1m1-24h-.1m1 25h.1m0-19h-.1m2 10h.1m0 5h-.1m1-18h.1m0 15h-.1m1-12h.1m2-6h-.1m0 30h.1m3-20h-.1m1-8h.1m0 23h-.1m1-16h.1m3 19h-.1m1-25h.1m1 11h-.1m1 1h.1m2-13h-.1m2 26h.1m1-12h-.1m2-8h.1m1-3h-.1m1 17h.1m2-8h-.1m1-4h.1m1 6h-.1m1 14h.1m1-4h-.1m2-8h.1m1-15h-.1m0 12h.1m4 8h-.1m1-7h.1m0 13h-.1m1-4h.1m0-10h-.1m2-12h.1m1 11h-.1m2 9h.1m1-4h-.1m2-13h.1m0 6h-.1m1 6h.1m1 2h-.1m0-11h.1m1 5h-.1m0 9h.1m1 2h-.1m0-5h.1m1-22h-.1m0 31h.1m0-15h-.1m1 8h.1m3-8h-.1m0-2h.1m0-7h-.1m1-3h.1m0-3h-.1m1 14h.1m2 6h-.1m1-16h.1m0 13h-.1m1-15h.1m2 24h-.1m1 2h.1m0-20h-.1m1 2h.1m0-8h-.1m0 21h.1m1-15h-.1m0-2h.1m1 5h-.1m0 5h.1m1-3h-.1m4 12h.1m0 2h-.1m3-17h.1m2 16h-.1m1-19h.1m0 10h-.1m0 8h.1m1-4h-.1m0-4h.1m0-3h-.1m1-4h.1m0 10h-.1m4-6h.1m2-12h-.1m0 17h.1m1 8h-.1m3-13h.1m1-12h-.1m2 28h.1m0-26h-.1m1-4h.1m3 22h-.1m2-19h.1m4 17h-.1m2-14h.1m2 20h-.1m1-22h.1m0 4h-.1m1 16h.1m1-2h-.1m1-14h.1m1 16h-.1m1-21h.1m0 18h-.1m5 5h.1m0-7h-.1m1-9h.1m1 19h-.1m1-29h.1m0 6h-.1m1 18h.1m2-18h-.1m1 22h.1m2-10h-.1m6-8h.1m0-3h-.1m1 22h.1m1-20h-.1m1 11h.1m3-13h-.1m0 12h.1m2 6h-.1m1-3h.1m1-16h-.1m0 8h.1m0 11h-.1m0-17h.1m2 5h-.1m0 8h.1m1 10h-.1m0-23h.1m1 19h-.1m1-6h.1m1 7h-.1m0-22h.1m0 4h-.1m1 11h.1m1-8h-.1m1 2h.1m1-4h-.1m1-8h.1m1 25h-.1m1-19h.1m2 3h-.1m1 17h.1m0-10h-.1m4-3h.1m1 9h-.1m0-22h.1m1 20h-.1m0-14h.1m0 10h-.1m3 5h.1m3 7h-.1m2-8h.1m0-21h-.1m2 26h.1m0-12h-.1m1-10h.1m0 8h-.1m0 5h.1m1 1h-.1m3-4h.1m0-5h-.1m2 14h.1m0-24h-.1m1 29h.1m1-19h-.1m1 10h.1m1 4h-.1m2-17h.1m0 12h-.1m1 5h.1m0-3h-.1m0-21h.1m1 26h-.1m3-19h.1m2 14h-.1m0-14h.1m1-9h-.1m0 31h.1m2-8h-.1m1-7h.1m0-12h-.1m1 23h.1m1 2h-.1m0-5h.1m1-6h-.1m1-7h.1m1 17h-.1m1-22h.1m1 13h-.1m1 6h.1m0-23h-.1m1 12h.1m2-7h-.1m2 9h.1m2-8h-.1m1 3h.1m0 14h-.1m1-3h.1m1 6h-.1m0-23h.1m2 14h-.1m1 10h.1m1-9h-.1m0-7h.1m2 15h-.1m0-13h.1m1-1h-.1m3 10h.1m1-24h-.1m3 22h.1m2 1h-.1m2 3h.1m0 5h-.1m0-21h.1m3-9h-.1m1 2h.1m3 7h-.1m0 16h.1m1-4h-.1m2-21h.1m1 8h-.1m2 3h.1m0-7h-.1m0 14h.1m0 4h-.1m2-8h.1m2 6h-.1m1-10h.1m0 3h-.1m1 11h.1m0 3h-.1m3-3h.1m2-16h-.1m0 8h.1m1 4h-.1m0 5h.1m0-12h-.1m1-7h.1m0 14h-.1m1 10h.1m0-27h-.1m3 11h.1m0 7h-.1m1 2h.1m2-8h-.1m0 11h.1m1-23h-.1m0 2h.1m0 2h-.1m2-4h.1m3 19h-.1m2-22h.1m1 26h-.1m4-3h.1m0-14h-.1m1 9h.1m0-6h-.1m1-8h.1m7 26h-.1m1-10h.1m0-6h-.1m1-15h.1m0 26h-.1m1-22h.1m0 12h-.1m1 12h.1m3-8h-.1m1-11h.1m1-7h-.1m1 19h.1m0-15h-.1m0-2h.1m1 5h-.1m0 16h.1m5 2h-.1m1-2h.1m0-5h-.1m0-18h.1m0 20h-.1m1-7h.1m3 7h-.1m2 0h.1m0-2h-.1m1 9h.1m0-4h-.1m2 5h.1m0-17h-.1m0 13h.1m1-19h-.1m1 4h.1m1 15h-.1m4-24h.1m1 11h-.1m1 5h.1m1-17h-.1m0 26h.1m2-10h-.1m0-17h.1m0 19h-.1m1-7h.1m0 2h-.1m1-6h.1m0 21h-.1m2-22h.1m2 12h-.1m0-14h.1m1 12h-.1m0 3h.1m2-1h-.1m0 2h.1m1-9h-.1m0 11h.1m1 3h-.1m2-3h.1m2-8h-.1m2-8h.1m1 6h-.1m0-7h.1m3 23h-.1m0-18h.1m1 15h-.1m1-4h.1m0-19h-.1m0 5h.1m1 3h-.1m1 10h.1m2 3h-.1m2-15h.1m1 11h-.1m0-15h.1m0 20h-.1m1-18h.1m0 7h-.1m1 17h.1m3-18h-.1m2-11h.1m1 19h-.1m1 5h.1m1-15h-.1m1 8h.1m7-10h-.1m0 8h.1m5 12h-.1m4-17h.1m3 20h-.1m1-10h.1m3 4h-.1m0-17h.1m3 12h-.1m3 6h.1m1-12h-.1m1 13h.1m2-20h-.1m2 14h.1m1-4h-.1m5 10h.1m4-8h-.1m1 11h.1m1-3h-.1m1-16h.1m2-9h-.1m0 29h.1m6-20h-.1m4 18h.1m1-2h-.1m1-14h.1m0 16h-.1m2-18h.1m3-8h-.1m2 9h.1m1-12h-.1m6 18h.1m3 7h-.1m2-13h.1m1-3h-.1m5-4h.1m4 7h-.1m2 16h.1m1-6h-.1m1-9h.1m1 13h-.1m2-6h.1m6-9h-.1m3 5h.1m8 13h-.1m3-16h.1m0 12h-.1m5-22h.1m8 6h-.1m6-6h.1m1 4h-.1m1 11h.1m6 12h-.1m0-25h.1m0 13h-.1m2-18h.1m1 12h-.1m0 10h.1m5-2h-.1m0-10h.1m0 17h-.1m1 4h.1m2-13h-.1m2 12h.1m4-5h-.1m2-3h.1m5-10h-.1m1-8h.1m2 2h-.1m0 21h.1m2-15h-.1m1 11h.1m2-15h-.1m0 8h.1m2 4h-.1m0 4h.1m0-17h-.1m1 7h.1m3-6h-.1m1 19h.1m0-21h-.1m1 8h.1m2 8h-.1m1-5h.1m0 9h-.1m1-12h.1m1 8h-.1m4-6h.1m0-6h-.1m1-5h.1m2-3h-.1m1 1h.1m3 26h-.1m4-25h.1m1 24h-.1m2-8h.1m0-19h-.1m1 10h.1m0-3h-.1m1 9h.1m1-12h-.1m1 21h.1m1-13h-.1m1-7h.1m0 11h-.1m1 7h.1m1-4h-.1m1 8h.1m1-19h-.1m1 8h.1m0 6h-.1m1 3h.1m3-6h-.1m1-11h.1m1-6h-.1m0 26h.1m1-4h-.1m0-14h.1m0-10h-.1m1 21h.1m1 4h-.1m2-13h.1m0 14h-.1m0 2h.1m2-20h-.1m0 20h.1m1 1h-.1m1-11h.1m1-19h-.1m1 12h.1m0 8h-.1m0-11h.1m2 5h-.1m2 11h.1m1-6h-.1m0-14h.1m0 10h-.1m2 14h.1m2-20h-.1m2 21h.1m3-8h-.1m1-10h.1m18 22h-.1m-14 4h.1m-3-5h-.1m-9 2h.1m0 4h-.1m-4-6h.1m-4 0h-.1m-9-1h.1m-7 3h-.1m0-2h.1m-10 3h-.1m-1-1h.1m-1-2h-.1m-5 20h.1m-3-20h-.1m-7 12h.1m0 4h-.1m-3 3h.1m-3-9h-.1m0-11h.1m-2 19h-.1m-2-5h.1m-1-5h-.1m-1-7h.1m-3 1h-.1m-3 4h.1m-1 10h-.1m-4-7h.1m-3 15h-.1m-4-21h.1m-2-4h-.1m-2 19h.1m-1 2h-.1m-3 6h.1m-6-17h-.1m0 11h.1m-1 8h-.1m-1-4h.1m0-2h-.1m-2-3h.1m-1-10h-.1m-1 7h.1m-1 11h-.1m-6-14h.1m0 16h-.1m-2-18h.1m0 9h-.1m-8 0h.1m-1 5h-.1m-3-15h.1m-2-2h-.1m-3 14h.1m-3-18h-.1m-2 10h.1m-3-8h-.1m-2 5h.1m0 6h-.1m-1-10h.1m-3 8h-.1m-1-14h.1m-1 8h-.1m0 17h.1m-3-16h-.1m-2-1h.1m0-7h-.1m-3-3h.1m-1 31h-.1m-1-2h.1m-1-14h-.1m-2 9h.1m-1 4h-.1m-8-28h.1m-2 21h-.1m-1-9h.1m-7-4h-.1m-3 5h.1m-1-7h-.1m-2 7h.1m0 7h-.1m-2-11h.1m-7 1h-.1m0-4h.1m-3 24h-.1m-7-28h.1m0 15h-.1m-4 9h.1m-2 3h-.1m-1-23h.1m-1 7h-.1m-1-9h.1m-3 4h-.1m-10 15h.1m-5-3h-.1m-1 6h.1m-1-14h-.1m0 4h.1m-8 3h-.1m-1 4h.1m-3-11h-.1m-6-5h.1m0 17h-.1m-2 3h.1m-1-5h-.1m0 8h.1m-2-30h-.1m0 18h.1m-1 10h-.1m-1-3h.1m-1-21h-.1m0-3h.1m0 21h-.1m-2-18h.1m0 4h-.1m-1 21h.1m0-29h-.1m0 18h.1m-2-19h-.1m0 13h.1m-2 13h-.1m-2-11h.1m0-4h-.1m-2-8h.1m0 12h-.1m-1 6h.1m-3-19h-.1m-3-2h.1m-2 3h-.1m-1 14h.1m-2 2h-.1m-4-1h.1m0-17h-.1m-4 17h.1m0-4h-.1m-5-7h.1m0 6h-.1m-3 12h.1m0 7h-.1m-1-21h.1m-1-2h-.1m0 7h.1m-2 8h-.1m0-11h.1m0 4h-.1m-2 9h.1m-1-5h-.1m-2-11h.1m0 11h-.1m-7 3h.1m0-17h-.1m0 8h.1m0 3h-.1m-1 10h.1m-3-21h-.1m0 17h.1m0 4h-.1m-1-8h.1m-2 6h-.1m-5-2h.1m-1-16h-.1m-1 20h.1m0-1h-.1m-2-6h.1m0-8h-.1m0 17h.1m-4-3h-.1m0 2h.1m-1 2h-.1m-3-25h.1m-1 4h-.1m-2 17h.1m-1-6h-.1m0-4h.1m-2-4h-.1m-1 6h.1m-1 12h-.1m-2-4h.1m0-22h-.1m-2 22h.1m-1-3h-.1m-1-17h.1m-1-6h-.1m-6 19h.1m-1 8h-.1m-3-3h.1m-3-5h-.1m-1-8h.1m0 19h-.1m0-15h.1m-1 2h-.1m-1 12h.1m0-21h-.1m0-7h.1m0 4h-.1m-2 8h.1m-3 3h-.1m0 3h.1m-2-6h-.1m-1 4h.1m0-13h-.1m0 21h.1m-3-4h-.1m-1-19h.1m-2 5h-.1m0 23h.1m-1-21h-.1m0 16h.1m-1-18h-.1m-2 8h.1m0 14h-.1m-1-23h.1m-5 9h-.1m-1 5h.1m-1-18h-.1m-1 14h.1m0-8h-.1m0 5h.1m-1 9h-.1m-1-23h.1m-5 3h-.1m0 25h.1m-4-25h-.1m0 4h.1m-1 5h-.1m-1 10h.1m-1-18h-.1m0 16h.1m-1-7h-.1m-1 10h.1m-1-4h-.1m0 7h.1m-2-19h-.1m-3 22h.1m0-2h-.1m0-21h.1m0 14h-.1m-1 11h.1m0-20h-.1m-2 12h.1m-1-13h-.1m0 5h.1m-4 8h-.1m-1-23h.1m-2 18h-.1m0-2h.1m-1-13h-.1m-1 16h.1m-1 2h-.1m-3-10h.1m0 16h-.1m-1-26h.1m0 14h-.1m-4 2h.1m0-11h-.1m0 23h.1m-1 2h-.1m-1-23h.1m-3 24h-.1m-3-22h.1m0 21h-.1m-2-13h.1m-1 13h-.1m-2-4h.1m-1-17h-.1m-2-9h.1m-3 22h-.1m0 6h.1m-3-27h-.1m-1 23h.1m-4 6h-.1m0-12h.1m-1-8h-.1m-2-5h.1m-2-5h-.1m0 16h.1m-2 10h-.1m-2-23h.1m0 8h-.1m-1-10h.1m0 12h-.1m0 12h.1m-1-20h-.1m0-4h.1m-2 5h-.1m0-3h.1m-3 5h-.1m-2 14h.1m-1-3h-.1m0-12h.1m-1 7h-.1m0-6h.1m0 18h-.1m0-27h.1m-1 24h-.1m-1-1h.1m-2-16h-.1m-2-5h.1m-1 14h-.1m0 2h.1m0-14h-.1m-6 20h.1m-1-15h-.1m0 11h.1m-2-14h-.1m-2 20h.1m0-19h-.1m-1 12h.1m-1-7h-.1m-1 8h.1m-1 6h-.1m-1-9h.1m-1-16h-.1m0 10h.1m-1 13h-.1m-1 5h.1m-3-4h-.1m0 1h.1m-1-7h-.1m-3-4h.1m-1 13h-.1m0-27h.1m0 22h-.1m0-7h.1m-3-13h-.1m0 17h.1m-2-11h-.1m-1 16h.1m0-4h-.1m-4-5h.1m-1 14h-.1m-8-6h.1m0-14h-.1m-1-7h.1m-1 24h-.1m-5-8h.1m0 9h-.1m-4-17h.1m-1 5h-.1m0 12h.1m-4-25h-.1m0 23h.1m-2-21h-.1m0-3h.1m-1 22h-.1m0-20h.1m0 8h-.1m-3 12h.1m0-3h-.1m-2-2h.1m-2 7h-.1m0-11h.1m-1-4h-.1m0-5h.1m0 9h-.1m-2 6h.1m-2-6h-.1m-1-8h.1m-1 7h-.1m0 8h.1m-2 5h-.1m-3-2h.1m-2-15h-.1m0-7h.1m0 11h-.1m-2-7h.1m-1 20h-.1m0-9h.1m-4-12h-.1m-1 13h.1m-2-14h-.1m-2 17h.1m0-8h-.1m-1-10h.1m0 5h-.1m-2 20h.1m-3-17h-.1m-2-4h.1m-7 19h-.1m-1-9h.1m-1-1h-.1m0 7h.1m-3-13h-.1m-1 18h.1m-1-25h-.1m0 13h.1m-1 7h-.1m-1 2h.1m-1-16h-.1m-3 2h.1m0 16h-.1m-1-2h.1m-4-13h-.1m-1-11h.1m-3 4h-.1m-1 7h.1m0 16h-.1m-2-10h.1m-1 8h-.1m0-19h.1m-1 18h-.1m-1 1h.1m0-24h-.1m-2 5h.1m-4 21h-.1m-1-19h.1m-4-5h-.1m0 10h.1m0 17h-.1m-2-12h.1m0-5h-.1m-2 11h.1m0-5h-.1m-2-10h.1m0-6h-.1m-1 8h.1m0 7h-.1m-2 5h.1m0-17h-.1m-1 16h.1m-1-20h-.1m-1 7h.1m-1 18h-.1m0-5h.1m-2 4h-.1m-1-8h.1m0 12h-.1m-3-18h.1m0 12h-.1m-1 3h.1m0-25h-.1m-3-2h.1m-3 13h-.1m-1-6h.1m-2 0h-.1m-2-1h.1m-1 8h-.1m-1 7h.1m0-6h-.1m-1 9h.1m0-24h-.1m-1 21h.1m0-23h-.1m-3 23h.1m0-12h-.1m-1 4h.1m0 16h-.1m-3-19h.1m0 7h-.1m-1-9h.1m-1 14h-.1m0 5h.1m0-29h-.1m0 20h.1m-2-15h-.1m0 23h.1m-4-27h-.1m-6 20h.1m0 2h-.1m-1-13h.1m-1 11h-.1m-2-7h.1m-1 7h-.1m0 10h.1m-1-18h-.1m0-12h.1m-5 2h-.1m-3 22h.1m-3-11h-.1m0-2h.1m-1-4h-.1m-2-7h.1m0 3h-.1m-1 17h.1m0-8h-.1m-1 3h.1m-1-5h-.1m0-7h.1m-1 9h-.1m-2 8h.1m-2-14h-.1m-1 18h.1m0-14h-.1m0 16h.1m-2-10h-.1m-2 15h.1m0-8h-.1m-6-3h.1m-1-13h-.1m-1 15h.1m0-5h-.1m-1-10h.1m0 15h-.1m-1-13h.1m0-8h-.1m-1 28h.1m-2-17h-.1m-1 16h.1m-1-7h-.1m-2-3h.1m0-15h-.1m-2 9h.1m0 2h-.1m-1-5h.1m0-5h-.1m-2 9h.1m-1 2h-.1m-3-11h.1m0 6h-.1m-3 2h.1m-2 14h-.1m0-5h.1m-1-5h-.1m0-4h.1m-2 4h-.1m-1-2h.1m-1 9h-.1m-4-10h.1m-1 10h-.1m-1 2h.1m-4-11h-.1m0-9h.1m-3 10h-.1m-1-12h.1m0 9h-.1m-4 0h.1m0 9h-.1m-1-10h.1m-4-6h-.1m0 8h.1m-4-7h-.1m0 20h.1m-1-9h-.1m-3-8h.1m0 22h-.1m-1-13h.1m-2-17h-.1m0 6h.1m0 19h-.1m-1-8h.1m-1-11h-.1m0-4h.1m-6 10h-.1m-1-3h.1m0 13h-.1m-1-4h.1m0-19h-.1m-1 2h.1m0 2h-.1m-3 7h.1m-1-3h-.1m0 15h.1m0-18h-.1m-1 21h.1m-3-13h-.1m-1 16h.1m-2-15h-.1m-1-13h.1m-1 5h-.1m0 3h.1m-1 20h-.1m-1-11h.1m-2 7h-.1m0-3h.1m-1 2h-.1m-1-22h.1m-3 13h-.1m0 14h.1m-1-18h-.1m-1 19h.1m-1-23h-.1m-1-4h.1m0 14h-.1m-2-3h.1m0-10h-.1m-1-4h.1m-2 9h-.1m-3-2h.1m-2 0h-.1m0 11h.1m-3 2h-.1m-2-16h.1m0 24h-.1m-1-25h.1m-1 3h-.1m0 2h.1m-1-8h-.1m-1 26h.1m-1-19h-.1m-1 14h.1m-3-6h-.1m0-8h.1m0 15h-.1m0-4h.1m-1-16h-.1m-1 9h.1m0 16h-.1m-2-5h.1m-1 8h-.1m-1-12h.1m-3 11h-.1m0-6h.1m0-10h-.1m-1-13h.1m-1 5h-.1m0 16h.1m-1-11h-.1m-1-4h.1m-1-1h-.1m-1 7h.1m-1 9h-.1m0 9h.1m-2-21h-.1m-1-4h.1m-2 17h-.1m0-14h.1m-1-2h-.1m-1 22h.1m-1-19h-.1m0 5h.1m-1-3h-.1m-1 17h.1m0-24h-.1m-1 21h.1m-1 5h-.1m-1-8h.1m-3-5h-.1m0-8h.1m-1-3h-.1m-1 17h.1m-1-9h-.1m-2-9h.1m0-4h-.1m-2 19h.1m-1-9h-.1m0 20h.1m-5-12h-.1m-1 7h.1m-2-25h-.1m0 13h.1m-1-6h-.1m0 3h.1m-3 9h-.1m-2 6h.1m0-14h-.1m-1-3h.1m-1-7h-.1m-1 16h.1m-1 12h-.1m-3 1h.1m0-16h-.1m-2 15h.1m-1-28h-.1m0 11h.1m-5-2h-.1m-2 15h.1m-1 1h-.1m0-12h.1m-1-5h-.1m-1 21h.1m-1-15h-.1m-2 4h.1m-1-20h-.1m-1 16h.1m0-14h-.1m-1 21h.1m0-11h-.1m0-2h.1m-2 17h-.1m0-26h.1m-3 0h-.1m-5 14h.1m-2 1h-.1m-1-5h.1m0-7h-.1m-1 2h.1m0-4h-.1m-1 14h.1m0 7h-.1m-2-10h.1m-1 1h-.1m-1 17h.1m-2-30h-.1m-2 9h.1m-6 14h-.1m-1 2h.1m-2 0h-.1m-2-18h.1m-1-4h-.1m-2 26h.1m-1-12h-.1m-8-10h.1m-3 7h-.1m0 6h.1m-2-4h-.1m-3 12h.1m0-18h-.1m-2 20h.1m-1-15h-.1m-2-10h.1m-2 13h-.1m-7-13h.1m13 36h-.1m4 18h.1m0-3h-.1m1-6h.1m2 7h-.1m1-23h.1m2 2h-.1m0 18h.1m1-14h-.1m3 14h.1m0-22h-.1m1 26h.1m1-9h-.1m3-3h.1m2 13h-.1m1-2h.1m2-5h-.1m2 7h.1m1-15h-.1m1 9h.1m0-14h-.1m2 10h.1m1-3h-.1m1 12h.1m1-6h-.1m1-14h.1m2 22h-.1m3-24h.1m2-2h-.1m0 28h.1m0-5h-.1m1-14h.1m0-4h-.1m2 8h.1m0 11h-.1m1-25h.1m1 9h-.1m1 20h.1m1-3h-.1m0-10h.1m2 6h-.1m2-12h.1m1-2h-.1m1-9h.1m0 21h-.1m1-13h.1m3 15h-.1m3-24h.1m0 9h-.1m0 12h.1m0-7h-.1m1 10h.1m3 4h-.1m3-29h.1m1 26h-.1m0-18h.1m1-3h-.1m3-2h.1m5 28h-.1m1-21h.1m0 9h-.1m3 9h.1m0-11h-.1m3 6h.1m2-22h-.1m2 27h.1m0-22h-.1m1 15h.1m0-17h-.1m1 23h.1m1-17h-.1m2 7h.1m0-15h-.1m1 26h.1m1 3h-.1m0-14h.1m0 4h-.1m1-14h.1m1-5h-.1m0 18h.1m1-17h-.1m4 1h.1m0 11h-.1m1-3h.1m0 12h-.1m0-2h.1m4 3h-.1m2 5h.1m0-3h-.1m1-17h.1m0 10h-.1m1-17h.1m2-2h-.1m0 10h.1m1 13h-.1m3-1h.1m1-8h-.1m1-5h.1m1 21h-.1m1-25h.1m0-1h-.1m1 10h.1m2-2h-.1m3 17h.1m1-28h-.1m0 7h.1m3 8h-.1m0-10h.1m1 2h-.1m0-3h.1m1-4h-.1m0 13h.1m0 15h-.1m0-5h.1m1-14h-.1m0 5h.1m0 4h-.1m0-8h.1m1-4h-.1m1-4h.1m2 5h-.1m1-8h.1m1 19h-.1m0 6h.1m1 3h-.1m0-22h.1m2 6h-.1m2 18h.1m1-19h-.1m0-11h.1m0 5h-.1m1 2h.1m1 15h-.1m1-14h.1m0 8h-.1m1 12h.1m0-8h-.1m0 11h.1m2-32h-.1m1 15h.1m1 13h-.1m2-12h.1m0 2h-.1m1 14h.1m1-27h-.1m1 12h.1m2 2h-.1m0-8h.1m1 4h-.1m1-4h.1m1 20h-.1m1-18h.1m0 4h-.1m0-6h.1m1 15h-.1m4-18h.1m1 4h-.1m3-1h.1m2 15h-.1m0-5h.1m1-8h-.1m1-1h.1m1-9h-.1m0 19h.1m1-4h-.1m1-2h.1m2-12h-.1m0 26h.1m0-28h-.1m1 30h.1m1-17h-.1m0-14h.1m2 10h-.1m2 12h.1m0-22h-.1m1 27h.1m0 2h-.1m1-16h.1m0-13h-.1m0 4h.1m1 4h-.1m2-4h.1m1 20h-.1m0-14h.1m0-7h-.1m4 24h.1m1-18h-.1m4 21h.1m1-29h-.1m1 5h.1m0 7h-.1m1-9h.1m1 26h-.1m2-27h.1m4 5h-.1m3 5h.1m0-13h-.1m1 10h.1m1-10h-.1m2 0h.1m2 30h-.1m0-28h.1m1 10h-.1m2-10h.1m0 19h-.1m0 8h.1m1-3h-.1m3 1h.1m2-13h-.1m0 15h.1m2-4h-.1m0-20h.1m1 7h-.1m2-9h.1m0 5h-.1m0 13h.1m1 3h-.1m7 6h.1m1-6h-.1m2-7h.1m0-16h-.1m0 7h.1m1 22h-.1m0-18h.1m1-11h-.1m2 18h.1m1-17h-.1m2 5h.1m3 3h-.1m1 4h.1m1-14h-.1m3 8h.1m0 20h-.1m0-8h.1m0-3h-.1m3 9h.1m3-10h-.1m1-2h.1m2-6h-.1m1 7h.1m2 14h-.1m1-7h.1m5-19h-.1m0 23h.1m0-12h-.1m0-4h.1m0-2h-.1m2 12h.1m1-6h-.1m0 16h.1m4-23h-.1m1 13h.1m0-4h-.1m0-14h.1m1 0h-.1m1 2h.1m1 19h-.1m2-14h.1m0-5h-.1m2-4h.1m1 27h-.1m0-25h.1m1 26h-.1m3-14h.1m2 6h-.1m3 1h.1m1 8h-.1m0-3h.1m1-22h-.1m0 15h.1m1-19h-.1m1 12h.1m2 11h-.1m0-21h.1m2 23h-.1m2-15h.1m0-7h-.1m3 24h.1m1-22h-.1m0 7h.1m2 3h-.1m6-12h.1m3 16h-.1m2 6h.1m2 4h-.1m0-10h.1m2-10h-.1m1 17h.1m0-14h-.1m2 15h.1m1-5h-.1m1-10h.1m2 0h-.1m1 17h.1m1-6h-.1m0-15h.1m1 21h-.1m1-9h.1m1 5h-.1m2 3h.1m0-6h-.1m1-3h.1m3 7h-.1m2 1h.1m1 3h-.1m0-10h.1m1-15h-.1m1-3h.1m4 0h-.1m0 6h.1m2 18h-.1m1-26h.1m4 2h-.1m2 0h.1m1 16h-.1m1-19h.1m1 21h-.1m1-12h.1m1 17h-.1m2 4h.1m1-17h-.1m2 15h.1m0-15h-.1m0-11h.1m3-1h-.1m2 17h.1m1 8h-.1m2-25h.1m1 21h-.1m0-18h.1m2 5h-.1m2 14h.1m1 6h-.1m0-22h.1m1 11h-.1m1-4h.1m0-8h-.1m1 16h.1m2-16h-.1m2 5h.1m2 11h-.1m0-7h.1m1-13h-.1m2 21h.1m0 5h-.1m1-19h.1m0-2h-.1m1-3h.1m0 17h-.1m5-12h.1m2 15h-.1m0 5h.1m1-20h-.1m0 9h.1m1 6h-.1m4 1h.1m2 1h-.1m0-24h.1m1 18h-.1m0-18h.1m2 29h-.1m1-28h.1m2 2h-.1m1 13h.1m4-15h-.1m2 3h.1m1 22h-.1m1-21h.1m0 7h-.1m0 11h.1m2-15h-.1m0 14h.1m2 4h-.1m1 4h.1m1-31h-.1m1 8h.1m2-4h-.1m1 1h.1m0 10h-.1m0-3h.1m1-10h-.1m2 28h.1m4-17h-.1m3 10h.1m1-7h-.1m1 7h.1m1-10h-.1m0 3h.1m1-7h-.1m1 17h.1m0-10h-.1m2 5h.1m1 4h-.1m0-25h.1m1 7h-.1m4 1h.1m0 2h-.1m1 2h.1m4 14h-.1m1-27h.1m2 11h-.1m0-6h.1m1-1h-.1m1 19h.1m2-23h-.1m2 8h.1m1 5h-.1m3 12h.1m3-23h-.1m1 11h.1m2 15h-.1m1 3h.1m1-12h-.1m0-6h.1m3-8h-.1m1 3h.1m1-6h-.1m0 9h.1m0 8h-.1m1 8h.1m2-24h-.1m0-2h.1m0 16h-.1m1 14h.1m2-1h-.1m0-30h.1m1 27h-.1m1-11h.1m1 12h-.1m0-22h.1m2 8h-.1m0 5h.1m1 11h-.1m0-27h.1m1 15h-.1m1 8h.1m0 5h-.1m1-16h.1m2 13h-.1m1-25h.1m0 7h-.1m3 22h.1m1-9h-.1m1-13h.1m3 20h-.1m0-14h.1m5 3h-.1m1-7h.1m1 19h-.1m1-5h.1m1-15h-.1m3 21h.1m2-5h-.1m4-13h.1m2-7h-.1m0-3h.1m1 8h-.1m0 11h.1m2-5h-.1m0-9h.1m1 4h-.1m1-5h.1m1 10h-.1m2-14h.1m0 10h-.1m1 5h.1m0 12h-.1m0-30h.1m2 22h-.1m2-14h.1m2 12h-.1m1-21h.1m4 3h-.1m1 28h.1m2-27h-.1m1 18h.1m2-13h-.1m0 12h.1m3 2h-.1m1-13h.1m1-4h-.1m0 23h.1m1 2h-.1m0-30h.1m0 15h-.1m3 0h.1m0 10h-.1m2-26h.1m1 31h-.1m1-13h.1m3-12h-.1m0-4h.1m1 27h-.1m3-22h.1m1 20h-.1m0-17h.1m2 1h-.1m2-1h.1m0-8h-.1m1 3h.1m1 16h-.1m2 8h.1m1-5h-.1m5 6h.1m1-27h-.1m0 10h.1m2 5h-.1m6-7h.1m1 17h-.1m1-3h.1m1-10h-.1m1-10h.1m2 1h-.1m1 23h.1m3 3h-.1m1-11h.1m1-15h-.1m2 6h.1m0 16h-.1m1-13h.1m0-7h-.1m1-2h.1m0 17h-.1m1 3h.1m3-3h-.1m2 5h.1m4-10h-.1m0-12h.1m2 20h-.1m0 5h.1m4-20h-.1m3 15h.1m2 5h-.1m0-27h.1m0 25h-.1m2-26h.1m4 12h-.1m0-5h.1m2 3h-.1m2 3h.1m1 5h-.1m0-7h.1m1 6h-.1m5-3h.1m0-10h-.1m3 21h.1m0-28h-.1m2 11h.1m1-8h-.1m4 12h.1m1 10h-.1m0-2h.1m5-17h-.1m1 22h.1m0-18h-.1m1-9h.1m0 6h-.1m0 13h.1m1-18h-.1m2 11h.1m1 14h-.1m0 5h.1m1-11h-.1m4-8h.1m1 9h-.1m1 4h.1m1-19h-.1m1-6h.1m2 18h-.1m2-3h.1m2-5h-.1m3-4h.1m1 10h-.1m1 1h.1m1-10h-.1m0 17h.1m1-5h-.1m0-6h.1m1 14h-.1m1-13h.1m1-11h-.1m0 3h.1m2 18h-.1m0 7h.1m4-8h-.1m1 3h.1m8 1h-.1m0-18h.1m1 15h-.1m1-3h.1m2-18h-.1m1 9h.1m2 3h-.1m0-12h.1m1 10h-.1m1-9h.1m1 3h-.1m4 6h.1m0 15h-.1m1-18h.1m2-11h-.1m0 3h.1m0 16h-.1m2-18h.1m5 29h-.1m2-26h.1m0 17h-.1m2-12h.1m2 19h-.1m2-27h.1m2 22h-.1m6 1h.1m3 4h-.1m2-13h.1m2 16h-.1m0-9h.1m3-2h-.1m1-13h.1m3 18h-.1m1-7h.1m1 2h-.1m0 5h.1m1-19h-.1m2 17h.1m4-18h-.1m0-3h.1m1 21h-.1m4-6h.1m2-12h-.1m4 11h.1m4 12h-.1m4-26h.1m6 7h-.1m7-8h.1m1 7h-.1m1-3h.1m2 3h-.1m3-7h.1m0 30h-.1m2-7h.1m8-4h-.1m2-4h.1m3-8h-.1m1-4h.1m11-3h-.1m7-1h.1m3 10h-.1m1-7h.1m13 2h-.1m23 3h.1m621 54h-.1m-22-1h.1m-6-1h-.1m-611-19h.1m-43-9h-.1m-33 6h.1m-2 15h-.1m-1-7h.1m-1 14h-.1m-3 3h.1m0-17h-.1m-1 14h.1m-7-11h-.1m0-15h.1m-2 27h-.1m-1-6h.1m-1-14h-.1m0 3h.1m-3 9h-.1m-2 10h.1m-1-8h-.1m-7-22h.1m-3 27h-.1m0-3h.1m-1-14h-.1m-2-6h.1m-9 16h-.1m-1-5h.1m-5 10h-.1m-1-20h.1m-3 2h-.1m-1 14h.1m0-20h-.1m-7 15h.1m-2-1h-.1m-2-10h.1m-1 16h-.1m-4-22h.1m0 3h-.1m-1 8h.1m-1 4h-.1m-1 13h.1m-1-6h-.1m-1 2h.1m-3-5h-.1m0-10h.1m-3 14h-.1m-1-11h.1m-4-8h-.1m-2-3h.1m-3 11h-.1m-1-9h.1m0 27h-.1m-1-14h.1m0 7h-.1m-1-4h.1m-2-18h-.1m-1 13h.1m-2 9h-.1m-1-5h.1m-1-5h-.1m-2-9h.1m-6 0h-.1m0 13h.1m-1 10h-.1m0 4h.1m-1-28h-.1m-4 28h.1m-1-13h-.1m0-18h.1m-1 24h-.1m-3-21h.1m-2 27h-.1m-1-13h.1m-3-3h-.1m0-9h.1m-1 22h-.1m-3-3h.1m0 2h-.1m-1-19h.1m0-6h-.1m-2 29h.1m-1-26h-.1m-3-4h.1m-1 32h-.1m0-19h.1m-1 7h-.1m-1-17h.1m-1 8h-.1m0 6h.1m-1-4h-.1m-1 19h.1m0-11h-.1m-1 9h.1m-2-8h-.1m-2-20h.1m0 21h-.1m-1 5h.1m-2 0h-.1m-1-16h.1m-1 13h-.1m0-21h.1m-3 23h-.1m0-15h.1m-1-5h-.1m0-3h.1m-2 24h-.1m-1-24h.1m0 16h-.1m-1-10h.1m0 8h-.1m-1 3h.1m-1 9h-.1m0-19h.1m-1 17h-.1m-2-1h.1m-1-18h-.1m-3-8h.1m-2 21h-.1m-1 5h.1m-3-13h-.1m-1 4h.1m-1-16h-.1m-2 22h.1m-1-5h-.1m0-7h.1m-2-11h-.1m0 30h.1m-2-13h-.1m0-17h.1m-2 17h-.1m0 3h.1m-1-8h-.1m0-5h.1m0 14h-.1m0-10h.1m-3-11h-.1m-1 8h.1m0 18h-.1m-5-5h.1m-1-19h-.1m0 16h.1m0 4h-.1m-1-11h.1m-1 17h-.1m-3-14h.1m-1-12h-.1m-2 0h.1m-2 20h-.1m-2-3h.1m0-12h-.1m-2 4h.1m-1 18h-.1m0-8h.1m-2 8h-.1m-4-22h.1m-2 10h-.1m-6 3h.1m-2-20h-.1m-2 22h.1m-1 7h-.1m-2-15h.1m-1 7h-.1m0-9h.1m-1-12h-.1m-1 18h.1m0-7h-.1m-1 13h.1m-2 1h-.1m0-13h.1m-2 6h-.1m-1 10h.1m-1-7h-.1m-2-3h.1m-1 5h-.1m-1-13h.1m-1 8h-.1m0 8h.1m0 4h-.1m-1-28h.1m-1 19h-.1m-1-17h.1m-3-1h-.1m-2 20h.1m0-6h-.1m-4-14h.1m0 18h-.1m-1 10h.1m-3-12h-.1m-7 3h.1m-1-15h-.1m0 5h.1m0 16h-.1m-1-1h.1m-1-27h-.1m0 6h.1m-1-4h-.1m-1 10h.1m-3-11h-.1m0 14h.1m-1 6h-.1m0-10h.1m-1 16h-.1m0-10h.1m0-9h-.1m-2-1h.1m0 12h-.1m0 11h.1m-1-9h-.1m0 6h.1m0-13h-.1m-3 13h.1m-1-9h-.1m0-9h.1m-1 22h-.1m-2-15h.1m-1 6h-.1m-2 7h.1m0-13h-.1m0-10h.1m-1-7h-.1m-1 8h.1m0 13h-.1m-3-20h.1m0 11h-.1m-2 4h.1m0 6h-.1m-5-1h.1m-1-2h-.1m0-12h.1m-1 18h-.1m-2-21h.1m-2 1h-.1m-2 9h.1m-2-4h-.1m0-7h.1m-1 12h-.1m-2 12h.1m0 2h-.1m-1-23h.1m-4 6h-.1m0 10h.1m0-13h-.1m-4 4h.1m-2 4h-.1m-1-2h.1m0-11h-.1m-1 19h.1m-3-10h-.1m0-4h.1m0-3h-.1m0 19h.1m-5-24h-.1m-2 16h.1m0-9h-.1m-2 22h.1m-5-1h-.1m-2-15h.1m-1-8h-.1m0 21h.1m-1-12h-.1m-2 12h.1m0 4h-.1m-1-6h.1m-2-21h-.1m-1 4h.1m-1 20h-.1m0 4h.1m-1-7h-.1m0-18h.1m-2 19h-.1m-3-8h.1m0 2h-.1m-2-15h.1m-2 7h-.1m-5 0h.1m-2 5h-.1m0 4h.1m-2-16h-.1m-1 16h.1m-1-11h-.1m-1 3h.1m0 16h-.1m-1-9h.1m-1 6h-.1m0-22h.1m-4 1h-.1m-1-2h.1m-1 1h-.1m-3 13h.1m0-13h-.1m-2 10h.1m0 8h-.1m-2-12h.1m0-5h-.1m-2 2h.1m-4 9h-.1m0 2h.1m0-4h-.1m-1 7h.1m-1-19h-.1m-1 16h.1m-1 13h-.1m-1-5h.1m-2-5h-.1m-2-12h.1m-2 22h-.1m-1-27h.1m0 23h-.1m-2-14h.1m0 2h-.1m-1 3h.1m-1 5h-.1m-1 2h.1m0-16h-.1m-1 9h.1m-1 13h-.1m0-2h.1m0-29h-.1m-2 31h.1m-1-17h-.1m-3 10h.1m-3-21h-.1m-2 9h.1m-1-2h-.1m0 15h.1m-1-11h-.1m-1 7h.1m0 7h-.1m-1-13h.1m-1 15h-.1m0-24h.1m0 13h-.1m-1 7h.1m-1 5h-.1m-1-15h.1m-3 7h-.1m0-5h.1m-2 0h-.1m-2-4h.1m-3 1h-.1m0 10h.1m-1-4h-.1m-1-3h.1m0-12h-.1m-3 3h.1m0 7h-.1m-2 0h.1m-1 14h-.1m-1-3h.1m0-22h-.1m-3 20h.1m-4-10h-.1m0 11h.1m0 6h-.1m-1-28h.1m-1 14h-.1m-1-9h.1m0-8h-.1m-3 22h.1m0-11h-.1m-2-4h.1m0 13h-.1m-3-19h.1m-1 3h-.1m-1 7h.1m-1 3h-.1m-4-10h.1m-2-4h-.1m0 24h.1m-1-8h-.1m0 5h.1m-2-9h-.1m-1 13h.1m-1-16h-.1m0 11h.1m-1-21h-.1m0 10h.1m-1-7h-.1m0 14h.1m-1-13h-.1m-2 15h.1m-1-4h-.1m-2-3h.1m0 12h-.1m-3 2h.1m0-24h-.1m-3 4h.1m0 25h-.1m-4-22h.1m-3 3h-.1m-1 1h.1m0 14h-.1m-2-22h.1m-1 14h-.1m-3-9h.1m-2 4h-.1m-2 9h.1m-1 3h-.1m-1-3h.1m0-22h-.1m-2 31h.1m-1-26h-.1m-1-3h.1m-1 20h-.1m-1 8h.1m0-14h-.1m-1-7h.1m-1 6h-.1m0 12h.1m0-6h-.1m-1 5h.1m-1-3h-.1m-1 8h.1m-4-6h-.1m-1-5h.1m-1-11h-.1m-1 2h.1m-1-9h-.1m-1 2h.1m-1 22h-.1m0-19h.1m-3-5h-.1m-1 15h.1m-3 6h-.1m-1-23h.1m-2 24h-.1m0-9h.1m-1-3h-.1m0 17h.1m-3 0h-.1m-1-5h.1m-2-14h-.1m0 18h.1m-2-2h-.1m-2-7h.1m-1-3h-.1m-1-3h.1m-1 17h-.1m0-19h.1m-1 9h-.1m-3 5h.1m-1-26h-.1m-2 2h.1m0 12h-.1m0-5h.1m-1-9h-.1m-1 15h.1m-1 5h-.1m0 12h.1m-2-7h-.1m0-25h.1m-5 8h-.1m0 19h.1m-1-14h-.1m0-5h.1m-1 2h-.1m-2 13h.1m-1 4h-.1m-1-22h.1m-2 23h-.1m0-27h.1m-1 14h-.1m-2 11h.1m-1-12h-.1m-2 8h.1m0-11h-.1m-2-8h.1m-1 25h-.1m0-28h.1m-4 2h-.1m0 15h.1m-6 10h-.1m-7-9h.1m-1 8h-.1m0 1h.1m-1-11h-.1m0-8h.1m-1-5h-.1m-1 4h.1m-1 3h-.1m-2 4h.1m-1-12h-.1m-1 21h.1m0 4h-.1m-3-13h.1m0 11h-.1m0 5h.1m-3-27h-.1m0 20h.1m0-6h-.1m0-9h.1m-1 10h-.1m0-17h.1m0 13h-.1m-1-3h.1m0 15h-.1m-4-23h.1m-3-2h-.1m-1 27h.1m-1-28h-.1m-1 10h.1m-3 10h-.1m-1-11h.1m-2-7h-.1m0 6h.1m-1 17h-.1m-2-23h.1m-1-2h-.1m-2 19h.1m-4 7h-.1m-1-4h.1m0-20h-.1m-1 6h.1m0 12h-.1m-3 7h.1m-2-22h-.1m0 14h.1m-1-11h-.1m-1 15h.1m-2-8h-.1m-2 6h.1m-4-10h-.1m0 3h.1m-1 5h-.1m0 4h.1m-2-21h-.1m-1 24h.1m-2-15h-.1m-4-6h.1m-1 19h-.1m-1-2h.1m-8-2h-.1m-2 2h.1m-6-7h-.1m0-15h.1m-2 22h-.1m-1-21h.1m0 3h-.1m-2 20h.1m-1-16h-.1m-3 18h.1m0-21h-.1m-1 16h.1m0 4h-.1m-1-12h.1m-1 2h-.1m-1-3h.1m0 13h-.1m-1 3h.1m-1-5h-.1m-1-20h.1m-1 11h-.1m0 16h.1m-1-27h-.1m-1 14h.1m-6-6h-.1m-3-2h.1m0 3h-.1m0 13h.1m-2 1h-.1m-4-11h.1m0 5h-.1m-1-8h.1m-1 6h-.1m-1-4h.1m0 16h-.1m-1-27h.1m0 9h-.1m-2 2h.1m0 8h-.1m0-6h.1m-2 2h-.1m-1-6h.1m-1 14h-.1m-1-20h.1m-1 2h-.1m0 12h.1m0 5h-.1m-1-7h.1m-1-6h-.1m-1 6h.1m-3-8h-.1m-2-9h.1m-1 5h-.1m-6 17h.1m-1 0h-.1m-2-20h.1m0 13h-.1m-1-9h.1m0-2h-.1m0 10h.1m-1-7h-.1m-1 4h.1m-1 10h-.1m-2 2h.1m0-9h-.1m-1 7h.1m0-9h-.1m-1-5h.1m-1 24h-.1m0-21h.1m-2 17h-.1m-4-18h.1m0-10h-.1m-4 8h.1m-1 2h-.1m-3-4h.1m-2 18h-.1m-6-2h.1m-1-16h-.1m-2-4h.1m-6 1h-.1m12 43h.1m5 4h-.1m1-6h.1m2 17h-.1m4-11h.1m1-16h-.1m1 26h.1m2-10h-.1m8 1h.1m2 9h-.1m0-4h.1m3 7h-.1m0-12h.1m2-5h-.1m0-10h.1m1 2h-.1m0 6h.1m1 3h-.1m2 5h.1m0 4h-.1m0-21h.1m3 11h-.1m2-13h.1m0 26h-.1m6-24h.1m1 14h-.1m1-14h.1m1 4h-.1m0 22h.1m5-21h-.1m1 7h.1m0 6h-.1m2-16h.1m1 18h-.1m1 6h.1m0-16h-.1m1 10h.1m0 7h-.1m1-10h.1m1-12h-.1m1 12h.1m0-12h-.1m1 24h.1m1-5h-.1m1-2h.1m0 5h-.1m0-29h.1m1 5h-.1m1 12h.1m0-6h-.1m1 14h.1m4-6h-.1m1-5h.1m0 11h-.1m1-7h.1m1 7h-.1m1-20h.1m0 10h-.1m1 11h.1m3-5h-.1m0-6h.1m1 3h-.1m0-13h.1m1 8h-.1m0-5h.1m1 13h-.1m0-15h.1m0 5h-.1m0 13h.1m2 4h-.1m2-26h.1m1 21h-.1m0 7h.1m1-11h-.1m0-17h.1m6 22h-.1m1 3h.1m0-7h-.1m1-8h.1m0 17h-.1m1-28h.1m1 23h-.1m3 0h.1m0-19h-.1m1 24h.1m0-18h-.1m0 4h.1m3-10h-.1m0 15h.1m0 7h-.1m2-12h.1m0-7h-.1m1 13h.1m2 5h-.1m1-13h.1m1 10h-.1m1-11h.1m1 18h-.1m0-11h.1m1-13h-.1m1 8h.1m2 15h-.1m1-8h.1m2 7h-.1m1-9h.1m1-11h-.1m1-4h.1m0 25h-.1m1-20h.1m1 3h-.1m1-4h.1m1 15h-.1m1-13h.1m1 0h-.1m4 11h.1m3-13h-.1m0 3h.1m1 15h-.1m0-7h.1m0-16h-.1m1 13h.1m0-6h-.1m2 15h.1m0-20h-.1m0 16h.1m0-12h-.1m2 6h.1m0 13h-.1m2-26h.1m1 23h-.1m3 2h.1m0-27h-.1m1 23h.1m1 6h-.1m1-8h.1m0-1h-.1m0-14h.1m5-3h-.1m0 24h.1m1-26h-.1m2 25h.1m1-27h-.1m0 14h.1m1 2h-.1m1 1h.1m1 14h-.1m1-7h.1m3 7h-.1m0-22h.1m1 21h-.1m1-18h.1m0-11h-.1m5 7h.1m0 15h-.1m1-20h.1m1 16h-.1m2-15h.1m0 24h-.1m0-11h.1m1 13h-.1m1-7h.1m2-4h-.1m1-7h.1m1 17h-.1m2-13h.1m1 8h-.1m1 2h.1m1-10h-.1m0-6h.1m5-10h-.1m2 15h.1m1-4h-.1m1-3h.1m1 15h-.1m2-13h.1m0-6h-.1m2 3h.1m0 2h-.1m3 2h.1m1 14h-.1m0-22h.1m1 10h-.1m1 4h.1m1-16h-.1m0 26h.1m1-21h-.1m3 6h.1m1 15h-.1m0-11h.1m1-16h-.1m2 30h.1m0-20h-.1m1-4h.1m1 12h-.1m0 12h.1m0-2h-.1m1-9h.1m2-2h-.1m1-13h.1m1 16h-.1m1-12h.1m0-5h-.1m1 26h.1m2-19h-.1m0 7h.1m1 11h-.1m2-5h.1m1-16h-.1m1 20h.1m0-7h-.1m4-5h.1m4-2h-.1m1-11h.1m3 10h-.1m0-10h.1m0 1h-.1m1 9h.1m0 10h-.1m4-9h.1m3 7h-.1m0-13h.1m0 19h-.1m1-10h.1m1-9h-.1m1 7h.1m1-10h-.1m0 4h.1m1 19h-.1m1-13h.1m2-11h-.1m1 18h.1m1 4h-.1m1 4h.1m0-8h-.1m7 2h.1m2 6h-.1m1-28h.1m1 15h-.1m0-2h.1m2 14h-.1m2-4h.1m0 6h-.1m3-6h.1m1-8h-.1m1-7h.1m2 1h-.1m2-6h.1m0 11h-.1m0 6h.1m1-12h-.1m1 14h.1m3-18h-.1m0 18h.1m1 2h-.1m0-5h.1m1 9h-.1m0-7h.1m1-16h-.1m2 4h.1m1 3h-.1m2 15h.1m1-11h-.1m3-6h.1m1 21h-.1m2-12h.1m1-7h-.1m1 10h.1m0 4h-.1m0 2h.1m1-22h-.1m1 9h.1m0-9h-.1m1 7h.1m0 11h-.1m0-13h.1m1 10h-.1m3-2h.1m0-6h-.1m1 0h.1m1-12h-.1m0 19h.1m3-15h-.1m3 24h.1m1-26h-.1m1-4h.1m2 15h-.1m3 0h.1m1 10h-.1m2-19h.1m0-2h-.1m1 14h.1m1 14h-.1m2-13h.1m1-10h-.1m1 5h.1m1 14h-.1m0-13h.1m1 4h-.1m2 0h.1m0-13h-.1m2 22h.1m1-27h-.1m1 30h.1m1-19h-.1m1 17h.1m0-22h-.1m0-6h.1m3 8h-.1m0-7h.1m0 17h-.1m2 8h.1m0-22h-.1m0 26h.1m0-19h-.1m2 8h.1m0-10h-.1m0-4h.1m1 10h-.1m1-4h.1m0 12h-.1m1 5h.1m0-28h-.1m0 5h.1m1 4h-.1m2 12h.1m0-8h-.1m2 5h.1m0 10h-.1m1-24h.1m2-2h-.1m1 7h.1m1 21h-.1m1-8h.1m3 8h-.1m0-3h.1m3-18h-.1m0 4h.1m0 17h-.1m1-19h.1m1 8h-.1m0 8h.1m1-13h-.1m0-10h.1m4 16h-.1m1 2h.1m1 4h-.1m3-14h.1m0-7h-.1m0 9h.1m1 10h-.1m3-14h.1m0-7h-.1m4 27h.1m0-8h-.1m1-17h.1m2-5h-.1m2 17h.1m0 12h-.1m1-19h.1m0-6h-.1m1 13h.1m2-8h-.1m0 22h.1m0-17h-.1m1-13h.1m0 15h-.1m0-12h.1m1 2h-.1m2 22h.1m0-16h-.1m2 15h.1m0-2h-.1m1-15h.1m0 12h-.1m3-14h.1m0-5h-.1m2 4h.1m1-6h-.1m1 9h.1m1 6h-.1m1 3h.1m1-5h-.1m2-11h.1m0-3h-.1m0 7h.1m4 10h-.1m1 6h.1m1-20h-.1m0 13h.1m3 11h-.1m2-1h.1m1-19h-.1m0 2h.1m1 2h-.1m1 2h.1m0 9h-.1m1-17h.1m2 17h-.1m0-20h.1m1 14h-.1m0-12h.1m1 13h-.1m1 7h.1m0-24h-.1m1 21h.1m2-5h-.1m1-5h.1m1 1h-.1m1-6h.1m0 4h-.1m1 8h.1m0-16h-.1m1 21h.1m2-19h-.1m1 13h.1m2 2h-.1m3 2h.1m1 4h-.1m1-12h.1m1-2h-.1m1-4h.1m0 2h-.1m1 20h.1m2-1h-.1m2-8h.1m2 9h-.1m0-8h.1m1 5h-.1m1-24h.1m2 7h-.1m0 3h.1m1-12h-.1m0 7h.1m0 3h-.1m0 5h.1m1 12h-.1m3-8h.1m1-12h-.1m0 5h.1m0-6h-.1m1 2h.1m0 12h-.1m2-7h.1m1-2h-.1m1 0h.1m1 18h-.1m0-12h.1m1 2h-.1m0-12h.1m2 22h-.1m1-12h.1m2 13h-.1m0-19h.1m1-6h-.1m0 25h.1m1-16h-.1m1 10h.1m0-19h-.1m2 6h.1m1 20h-.1m0-22h.1m2 13h-.1m0-21h.1m1 12h-.1m0 17h.1m1-2h-.1m0-11h.1m3-4h-.1m0-3h.1m2-6h-.1m1-5h.1m2 13h-.1m1-1h.1m2 1h-.1m1 18h.1m0-21h-.1m3 9h.1m0 11h-.1m0-24h.1m4 13h-.1m1-13h.1m3 5h-.1m1 20h.1m1-4h-.1m2 1h.1m3-25h-.1m0 3h.1m1-5h-.1m2 19h.1m0 2h-.1m1 8h.1m0-12h-.1m2 4h.1m1-8h-.1m2 1h.1m2-1h-.1m0 16h.1m4-10h-.1m1-6h.1m1-2h-.1m0 14h.1m3 4h-.1m1-29h.1m0 10h-.1m6-8h.1m0 14h-.1m2-1h.1m1 12h-.1m1-25h.1m1 5h-.1m1 11h.1m0-12h-.1m0 18h.1m1-14h-.1m1 10h.1m0-19h-.1m1 6h.1m4 15h-.1m2-12h.1m1 13h-.1m1 6h.1m2-8h-.1m1-15h.1m2 10h-.1m2-13h.1m5 7h-.1m0 14h.1m2-19h-.1m0 2h.1m5 23h-.1m2-14h.1m1 7h-.1m0-23h.1m1 28h-.1m1-12h.1m0 3h-.1m1 10h.1m1-16h-.1m1 9h.1m1-3h-.1m1 9h.1m1-7h-.1m2-11h.1m0 15h-.1m0-6h.1m0 8h-.1m1-19h.1m2 19h-.1m0-21h.1m1 20h-.1m1-21h.1m3-3h-.1m1-2h.1m0 18h-.1m4-9h.1m0-7h-.1m1 2h.1m3 8h-.1m2-11h.1m2 10h-.1m0 8h.1m2-10h-.1m0-10h.1m1 17h-.1m1-2h.1m1 15h-.1m1-24h.1m0 23h-.1m0-7h.1m0-18h-.1m1-4h.1m2 5h-.1m2 1h.1m1-4h-.1m1-2h.1m0 28h-.1m2-19h.1m1 4h-.1m1-7h.1m0 20h-.1m1-7h.1m2-1h-.1m1-17h.1m0 7h-.1m1 19h.1m2-16h-.1m0-8h.1m1-1h-.1m3 30h.1m0-2h-.1m2 0h.1m3-20h-.1m1 21h.1m2-4h-.1m1-21h.1m0 11h-.1m2 8h.1m1-19h-.1m1 2h.1m1 22h-.1m2-8h.1m2-19h-.1m1 18h.1m0 3h-.1m1-6h.1m1-7h-.1m0 17h.1m2-4h-.1m1 2h.1m2-8h-.1m1-13h.1m2 3h-.1m1 10h.1m2-14h-.1m1 20h.1m1-18h-.1m3 3h.1m5-4h-.1m6 15h.1m1 5h-.1m1-6h.1m0-8h-.1m1 14h.1m0-9h-.1m0-14h.1m1 28h-.1m5-12h.1m3-14h-.1m3 5h.1m1 18h-.1m5 0h.1m6-15h-.1m5 0h.1m8 7h-.1m3-15h.1m1 4h-.1m1 23h.1m6-30h-.1m2 1h.1m5 10h-.1m0 17h.1m4 2h-.1m2-7h.1m0 6h-.1m2-13h.1m0 9h-.1m12-3h.1m3-17h-.1m1 21h.1m2-7h-.1m5-7h.1m2-5h-.1m509-1h.1m6 3h-.1m30 3h.1m1 17h-.1m5-16h.1m0 7h-.1m3 1h.1m3-11h-.1m0 17h.1m1-9h-.1m7 0h.1m3-3h-.1m2 2h.1m0 2h-.1m1-4h.1m3 6h-.1m0-8h.1m1 13h-.1m2-5h.1m2-3h-.1m0 12h.1m4-9h-.1m2 6h.1m1 3h-.1m2-5h.1m1 1h-.1m1-3h.1m2 7h-.1m2-7h.1m1-5h-.1m3 12h.1m17-9h-.1m3 8h.1m9-7h-.1m12 0h.1m8-2h-.1m17-3h.1m16-4h-.1m1 12h.1m0-14h-.1m1-11h.1m1 2h-.1m3 6h.1m2 7h-.1m1-4h.1m8 17h-.1m2-11h.1m3-17h-.1m2 15h.1m1-5h-.1m0 7h.1m0-4h-.1m2-11h.1m0 10h-.1m2 13h.1m0-7h-.1m1 12h.1m3-24h-.1m0-4h.1m2 3h-.1m0 5h.1m3 19h-.1m0-14h.1m1 12h-.1m2 3h.1m2-10h-.1m0 4h.1m0-11h-.1m1-3h.1m0-8h-.1m1 6h.1m1 6h-.1m1-5h.1m0 7h-.1m0-9h.1m2 4h-.1m1 4h.1m1-7h-.1m2 0h.1m2 7h-.1m1 5h.1m1-2h-.1m0 9h.1m1-16h-.1m0 3h.1m1-8h-.1m3 18h.1m2 6h-.1m2 0h.1m1-13h-.1m3 11h.1m2-6h-.1m0 5h.1m2 2h-.1m3-4h.1m3 3h-.1m7 3h.1m9-4h-.1m10 32h.1m-5 3h-.1m0-23h.1m-5 5h-.1m0 11h.1m-1 6h-.1m-5-19h.1m-4 10h-.1m0 4h.1m-2-21h-.1m0 18h.1m-3-13h-.1m-1 16h.1m-1-11h-.1m-1 6h.1m-1-4h-.1m-1 0h.1m-1-11h-.1m-1 24h.1m0-4h-.1m-1 1h.1m-1-21h-.1m0 3h.1m0 5h-.1m-1 16h.1m-1-4h-.1m-1 3h.1m0-17h-.1m-4 10h.1m-5 0h-.1m-2-16h.1m-2 17h-.1m-3 7h.1m-1 3h-.1m-1-14h.1m0-9h-.1m0 16h.1m-1 5h-.1m-1-8h.1m0 2h-.1m-1-12h.1m-2-4h-.1m-1 14h.1m0-22h-.1m-2 7h.1m0 23h-.1m-1-8h.1m-2-22h-.1m-1 7h.1m-2-1h-.1m-1 19h.1m-3-18h-.1m-2 12h.1m-2-11h-.1m0 23h.1m-4-22h-.1m-3 15h.1m-5-23h-.1m-1 10h.1m-2 7h-.1m-7 2h.1m-2-2h-.1m-12-14h.1m0 9h-.1m-12 2h.1m-3-6h-.1m-4 20h.1m-2-11h-.1m-18-7h.1m-1-7h-.1m-5-3h.1m-8 3h-.1m-1 8h.1m0 2h-.1m-6 16h.1m0-24h-.1m0-5h.1m-2 20h-.1m0 9h.1m-2-25h-.1m-1-3h.1m0 27h-.1m-1-16h.1m0-4h-.1m-1 7h.1m-2 13h-.1m-2-17h.1m-1 3h-.1m-7 9h.1m-1-4h-.1m0-13h.1m-1 9h-.1m0-11h.1m-1 15h-.1m-10-9h.1m-13-3h-.1m-35 3h.1m-9 3h-.1m-26 0h.1m-8 5h-.1m-495-8h.1m-7-1h-.1m-2-6h.1m-2 14h-.1m-4 12h.1m-5-27h-.1m-1 12h.1m-4 13h-.1m-1-19h.1m0 4h-.1m-4 12h.1m-7-13h-.1m-4-9h.1m-1 18h-.1m0-2h.1m-5-13h-.1m-2 12h.1m-5 8h-.1m-2-26h.1m-1 6h-.1m0 19h.1m-1 5h-.1m-1-13h.1m-2-11h-.1m-2-2h.1m-5-4h-.1m-1 5h.1m0 16h-.1m-3-12h.1m0-6h-.1m-1 24h.1m-3-6h-.1m-1-2h.1m0-6h-.1m-1-8h.1m0 9h-.1m-1 2h.1m0-10h-.1m-1 2h.1m-1 11h-.1m0-15h.1m0-4h-.1m-1 24h.1m0-3h-.1m-5 3h.1m-1 7h-.1m-1-19h.1m-1 17h-.1m-1-23h.1m-1 7h-.1m-1 15h.1m0-7h-.1m0-20h.1m-1 31h-.1m-1-14h.1m-1-10h-.1m-2 17h.1m-1-18h-.1m-1 13h.1m-2-20h-.1m-1 26h.1m-1 5h-.1m0-8h.1m-1-12h-.1m-1 5h.1m0-14h-.1m-2 12h.1m-3-10h-.1m0 9h.1m0-5h-.1m-1 2h.1m-2 6h-.1m-1 4h.1m-2-10h-.1m-1 2h.1m0 4h-.1m-2 2h.1m-1-13h-.1m-2 13h.1m-2-4h-.1m0-8h.1m-1 14h-.1m-2-8h.1m-1 10h-.1m-4 7h.1m-1-24h-.1m-2 21h.1m-2-20h-.1m-1 8h.1m-1 14h-.1m-4-5h.1m-3-2h-.1m-1 2h.1m-1 8h-.1m-1-12h.1m-2-6h-.1m0-8h.1m-1 24h-.1m0-18h.1m-2 13h-.1m0-19h.1m0 23h-.1m-1-18h.1m-1 3h-.1m0-9h.1m0 3h-.1m-1 8h.1m-2-4h-.1m0 13h.1m-3-6h-.1m-2-16h.1m-2 22h-.1m-5-21h.1m0 4h-.1m0 16h.1m-1-6h-.1m-2-1h.1m-1 13h-.1m0-6h.1m-3-13h-.1m0-2h.1m-1-7h-.1m0 9h.1m-1 15h-.1m0 2h.1m0-15h-.1m-3-9h.1m0 10h-.1m-2 5h.1m0-15h-.1m-1 6h.1m-1 10h-.1m-1-13h.1m0 11h-.1m0 14h.1m0-22h-.1m-1 15h.1m-1-20h-.1m-1 15h.1m-1-2h-.1m0 8h.1m-2 0h-.1m-4-12h.1m0 17h-.1m-1-21h.1m0-4h-.1m-1 20h.1m-1-12h-.1m-2-1h.1m-2 13h-.1m0-8h.1m0-9h-.1m-2 3h.1m-1-8h-.1m0 2h.1m-1 22h-.1m-1-6h.1m0-10h-.1m0 18h.1m0-16h-.1m-1 3h.1m-1-15h-.1m-1 14h.1m-1 2h-.1m0 8h.1m-1-19h-.1m0 14h.1m-1-11h-.1m-1 8h.1m-2-10h-.1m0 13h.1m-4-3h-.1m-1-8h.1m0 21h-.1m-2-29h.1m-2 3h-.1m0 12h.1m-1 1h-.1m0-13h.1m-1 21h-.1m-2-1h.1m-2-10h-.1m-2 16h.1m-2-2h-.1m-1-4h.1m-1-9h-.1m-1-15h.1m-3 6h-.1m-7-4h.1m-4 29h-.1m-2-31h.1m0 28h-.1m-1-21h.1m0 23h-.1m0-12h.1m-2 4h-.1m-1 8h.1m-3-17h-.1m-2-9h.1m-3 7h-.1m-2 2h.1m-1 4h-.1m-2-11h.1m0 25h-.1m-5-6h.1m0-5h-.1m-1 2h.1m-1 10h-.1m0-20h.1m-3-7h-.1m-1 9h.1m0 4h-.1m-1 11h.1m-2-14h-.1m-2 8h.1m-1-2h-.1m-2 11h.1m-1-2h-.1m0-3h.1m-2-12h-.1m0 3h.1m-1-1h-.1m-1 8h.1m0-12h-.1m-1-3h.1m-1-5h-.1m-1 10h.1m-1-7h-.1m0 20h.1m-1-5h-.1m0-8h.1m-2 3h-.1m0 8h.1m-3 2h-.1m-1-1h.1m-2-8h-.1m0-3h.1m-1 3h-.1m-1 8h.1m-1-6h-.1m0-8h.1m-2 4h-.1m-1-16h.1m0 31h-.1m0-28h.1m-2 17h-.1m-1-7h.1m0 3h-.1m-2 6h.1m-1-5h-.1m-1-17h.1m-1 12h-.1m-5-8h.1m-5-1h-.1m0 24h.1m0-17h-.1m-1 2h.1m-1 12h-.1m0 4h.1m-1-1h-.1m-1-3h.1m-1 3h-.1m-1-13h.1m-1-6h-.1m0 2h.1m-1 2h-.1m-1-6h.1m-1-1h-.1m-1 18h.1m0-12h-.1m-2 19h.1m-1-8h-.1m-1-14h.1m0 6h-.1m-1 16h.1m0-20h-.1m-1-8h.1m0 20h-.1m-2-5h.1m0 6h-.1m-2 6h.1m0-10h-.1m-4-15h.1m-1-3h-.1m0 9h.1m-2 11h-.1m-3-2h.1m-2-14h-.1m-1-3h.1m0 17h-.1m-3 11h.1m-1-8h-.1m-1-12h.1m-1-6h-.1m-1 11h.1m0 8h-.1m0-9h.1m0-2h-.1m-1 14h.1m-4-23h-.1m-1 23h.1m-1-15h-.1m-2-12h.1m-4 3h-.1m0 13h.1m-3-15h-.1m-1 21h.1m-1-6h-.1m-1-4h.1m-1 12h-.1m0-6h.1m-1-7h-.1m-1 20h.1m0-25h-.1m0-3h.1m-1 16h-.1m-1-2h.1m-1-4h-.1m-5 4h.1m0-5h-.1m-1-9h.1m-1 9h-.1m-1 10h.1m-1-16h-.1m-1 6h.1m-2 9h-.1m-2-2h.1m-1 12h-.1m0-27h.1m-1 15h-.1m0 9h.1m-1-4h-.1m-1 2h.1m-1-19h-.1m-4 18h.1m-2-24h-.1m0 15h.1m-2-6h-.1m-1 9h.1m0 5h-.1m0-13h.1m0 19h-.1m-2-4h.1m-1-24h-.1m0 27h.1m-3-8h-.1m-2-11h.1m-1-2h-.1m-1 20h.1m0-21h-.1m-1 10h.1m0-6h-.1m-1 5h.1m-1 14h-.1m0-23h.1m-1 13h-.1m0 3h.1m-2-18h-.1m0 24h.1m0-17h-.1m0 19h.1m-2-18h-.1m0 8h.1m0-3h-.1m-6-1h.1m-1-6h-.1m-1 10h.1m0 5h-.1m-1 5h.1m0-2h-.1m0-17h.1m-1-8h-.1m0 5h.1m-1 5h-.1m-1 4h.1m-5-10h-.1m0-3h.1m-1 1h-.1m-2 15h.1m-1-6h-.1m-2-6h.1m-1 0h-.1m0 11h.1m-3-11h-.1m-2 2h.1m0 6h-.1m-2 13h.1m0-24h-.1m0 3h.1m-3-6h-.1m0 4h.1m-3 21h-.1m-1-24h.1m-1 28h-.1m0-6h.1m-4 5h-.1m-1-21h.1m-1 14h-.1m0-17h.1m-2 21h-.1m-1-23h.1m0 17h-.1m-2-7h.1m-1-1h-.1m0 6h.1m-1-1h-.1m-1 4h.1m-3 2h-.1m-1-24h.1m-2 0h-.1m0 30h.1m0-13h-.1m0 11h.1m-1-24h-.1m-1 7h.1m0 14h-.1m-3-26h.1m-1 28h-.1m0-9h.1m-1-10h-.1m0-6h.1m-1 6h-.1m-2 17h.1m0-10h-.1m-1 5h.1m-2 11h-.1m-2-27h.1m0 27h-.1m-2-15h.1m-1 10h-.1m0 4h.1m-1-14h-.1m0 3h.1m-1 6h-.1m0-16h.1m0 3h-.1m-1 15h.1m-2-5h-.1m-1-21h.1m0 4h-.1m0 8h.1m-1 4h-.1m-1-3h.1m0-13h-.1m-2 20h.1m0-10h-.1m-1-9h.1m0 17h-.1m-3-3h.1m-1-15h-.1m0 5h.1m-1-4h-.1m0 7h.1m-1 22h-.1m-1-8h.1m-1-6h-.1m-1-16h.1m-1 27h-.1m-2-11h.1m-2 2h-.1m-1 3h.1m-1-2h-.1m0-3h.1m-1-9h-.1m-1 6h.1m0 9h-.1m0-7h.1m-2-9h-.1m0 6h.1m-2 10h-.1m0-13h.1m-2 14h-.1m-1-14h.1m0-6h-.1m0 8h.1m-2 10h-.1m-1 7h.1m0-24h-.1m0 11h.1m-1 2h-.1m0-17h.1m-1 30h-.1m-1-31h.1m-2 16h-.1m-2 14h.1m0-9h-.1m-1-14h.1m0-3h-.1m-1 14h.1m-2 0h-.1m0 3h.1m-1 7h-.1m-2-15h.1m-2-8h-.1m-1 12h.1m-1 8h-.1m-1-11h.1m-2-13h-.1m-1 9h.1m-1 15h-.1m-1-6h.1m0 10h-.1m-4-21h.1m-1-7h-.1m-1 12h.1m0-8h-.1m-3 23h.1m-1-4h-.1m-4-15h.1m-7-3h-.1m-2 17h.1m-1-23h-.1m-1 15h.1m-3-11h-.1m-3 3h.1m-1 21h-.1m-1-24h.1m0 2h-.1m-1 23h.1m0-20h-.1m-1 6h.1m0 12h-.1m-4-1h.1m-1-22h-.1m0 15h.1m-1-13h-.1m-1 10h.1m-1-10h-.1m-4 11h.1m-1-17h-.1m0 26h.1m-1-16h-.1m-2 17h.1m-1-8h-.1m-1-18h.1m-1 14h-.1m-1-9h.1m-1 10h-.1m-1 8h.1m-1-21h-.1m0-2h.1m0 29h-.1m0-14h.1m-3 13h-.1m-1-5h.1m0-23h-.1m-1 10h.1m-3 2h-.1m0 11h.1m-1-12h-.1m-1-2h.1m0-9h-.1m0 14h.1m-1 5h-.1m-5-8h.1m-3 8h-.1m-2-6h.1m-1-4h-.1m0 8h.1m-2-14h-.1m0-3h.1m-2 8h-.1m-1 7h.1m0-11h-.1m0 9h.1m-6 3h-.1m-6 9h.1m0-3h-.1m-1-16h.1m-1-7h-.1m0 4h.1m-1 10h-.1m-2 17h.1m-1-13h-.1m-1 9h.1m-1-3h-.1m0 5h.1m-1-13h-.1m0-3h.1m-2-12h-.1m-1 15h.1m-1-2h-.1m0-10h.1m-1 21h-.1m-1-15h.1m-2 14h-.1m-4-21h.1m0 15h-.1m-4-15h.1m-1 18h-.1m0-16h.1m-1 26h-.1m-4-11h.1m0 8h-.1m0-13h.1m-2 3h-.1m-1 2h.1m-1-14h-.1m-1 23h.1m-4-22h-.1m-1 18h.1m0 2h-.1m-1-7h.1m-1-8h-.1m-1-12h.1m-1 27h-.1m-2-18h.1m-1 2h-.1m-1 2h.1m-5 5h-.1m-1-7h.1m-1-1h-.1m-1 17h.1m-1 4h-.1m-2-10h.1m-3-10h-.1m-2-3h.1m-1 14h-.1m-2-18h.1m-4 21h-.1m-2-20h.1m-1 3h-.1m-4-6h.1m-3 0h-.1m-12-1h.1m-2 4h-.1m-3-5h.1m-4 4h-.1m35 31h.1m6 13h-.1m11-4h.1m0 6h-.1m3-2h.1m1-5h-.1m1 3h.1m5 11h-.1m0-4h.1m2-8h-.1m3 11h.1m0-21h-.1m1-4h.1m1 16h-.1m0-11h.1m1 23h-.1m1-15h.1m0 9h-.1m4 2h.1m0 2h-.1m2-14h.1m1 8h-.1m0-13h.1m1-2h-.1m0-2h.1m2 24h-.1m1-23h.1m1 28h-.1m2-12h.1m2-19h-.1m1 12h.1m0 7h-.1m0 11h.1m1-7h-.1m2-2h.1m1-13h-.1m1 7h.1m2-9h-.1m0 24h.1m1-30h-.1m0 11h.1m3 11h-.1m4-14h.1m0 8h-.1m0 2h.1m0 2h-.1m1-19h.1m0 25h-.1m4-1h.1m2-25h-.1m1 28h.1m3-20h-.1m1-6h.1m2 26h-.1m1-7h.1m0-22h-.1m0 13h.1m1 6h-.1m4 5h.1m4-3h-.1m2 0h.1m0 4h-.1m2-12h.1m0-7h-.1m0-5h.1m1 17h-.1m1-10h.1m2 4h-.1m1 19h.1m1-3h-.1m1-7h.1m1-20h-.1m1 5h.1m0 17h-.1m2 6h.1m0-22h-.1m1 8h.1m1 10h-.1m0-14h.1m2 13h-.1m1-16h.1m3-5h-.1m2 1h.1m5 4h-.1m1 19h.1m0-9h-.1m2 7h.1m2-4h-.1m2-14h.1m2 17h-.1m0 2h.1m0-26h-.1m1 11h.1m1 19h-.1m0-27h.1m1 16h-.1m1 4h.1m2-12h-.1m1 12h.1m1 7h-.1m4-22h.1m3-3h-.1m0 16h.1m1-20h-.1m1-1h.1m1 10h-.1m3 2h.1m0-10h-.1m1 13h.1m0 12h-.1m1-18h.1m2-6h-.1m2 25h.1m2-23h-.1m0 26h.1m0-4h-.1m1 3h.1m1-4h-.1m0-23h.1m0 27h-.1m3-21h.1m1 19h-.1m1-1h.1m1-22h-.1m0 16h.1m0 9h-.1m3-23h.1m1-4h-.1m1 18h.1m0 2h-.1m1-18h.1m1 23h-.1m0-6h.1m1 9h-.1m1-23h.1m1 2h-.1m1 15h.1m0 3h-.1m2-24h.1m0 3h-.1m4 17h.1m0 3h-.1m0 2h.1m1-20h-.1m1 12h.1m2 6h-.1m0-2h.1m1-19h-.1m2 14h.1m2-14h-.1m1 18h.1m2-17h-.1m0-5h.1m1 18h-.1m2 8h.1m0-10h-.1m2-13h.1m1 13h-.1m0-10h.1m1 17h-.1m2-7h.1m1-15h-.1m1 25h.1m1-19h-.1m3 9h.1m1-17h-.1m0 22h.1m2-1h-.1m1-14h.1m0 21h-.1m1-7h.1m1-4h-.1m0-4h.1m0 13h-.1m2 3h.1m1-18h-.1m1-9h.1m2 5h-.1m0 3h.1m1 5h-.1m1-3h.1m1-5h-.1m0 6h.1m1-8h-.1m1 19h.1m1-11h-.1m2 5h.1m3 11h-.1m0-6h.1m2-16h-.1m2-2h.1m0-2h-.1m1 23h.1m0-2h-.1m1-11h.1m0 8h-.1m2-6h.1m1 16h-.1m4-13h.1m1-6h-.1m0-9h.1m3 7h-.1m0 8h.1m1-15h-.1m0 13h.1m2 11h-.1m1-23h.1m0 26h-.1m1-30h.1m3 27h-.1m1-19h.1m0-5h-.1m0 7h.1m2 7h-.1m4 1h.1m0 10h-.1m1 2h.1m0-19h-.1m1 19h.1m0-8h-.1m1 3h.1m0-8h-.1m1-12h.1m0 9h-.1m1 3h.1m2 5h-.1m1-10h.1m2-2h-.1m0-2h.1m1 23h-.1m3-13h.1m1-11h-.1m1-2h.1m2 20h-.1m1-4h.1m0 8h-.1m2-14h.1m1 10h-.1m0-22h.1m1 6h-.1m1 17h.1m0-3h-.1m0-18h.1m0 24h-.1m3-6h.1m1-6h-.1m0-17h.1m1 19h-.1m2 5h.1m0 5h-.1m0-14h.1m1-4h-.1m0 16h.1m1-4h-.1m0-3h.1m1 2h-.1m3-21h.1m4 22h-.1m0-4h.1m1 10h-.1m1-23h.1m2 7h-.1m0 11h.1m2 4h-.1m1-5h.1m2-13h-.1m3 4h.1m1 16h-.1m1-30h.1m1 22h-.1m2 0h.1m1 2h-.1m0-22h.1m2 25h-.1m1-5h.1m0-10h-.1m1 11h.1m0-13h-.1m3-5h.1m1 10h-.1m1 2h.1m0 9h-.1m1-26h.1m4 28h-.1m0-13h.1m0-3h-.1m1-2h.1m1 11h-.1m0-9h.1m2 15h-.1m0-21h.1m1-5h-.1m1 22h.1m1-21h-.1m1 28h.1m2-2h-.1m0-15h.1m1 17h-.1m2-27h.1m0 14h-.1m1-3h.1m1-2h-.1m0 14h.1m3 2h-.1m2-11h.1m1 12h-.1m2-30h.1m0 2h-.1m1 24h.1m1-9h-.1m0-17h.1m1 20h-.1m0-17h.1m3 27h-.1m1-16h.1m1-3h-.1m0 17h.1m1 3h-.1m3-17h.1m1 4h-.1m3 14h.1m1-30h-.1m2 14h.1m0-11h-.1m0 2h.1m5 23h-.1m3-2h.1m1-28h-.1m1 30h.1m0-12h-.1m1-12h.1m5 19h-.1m1-12h.1m2 18h-.1m1-2h.1m2-14h-.1m1 17h.1m0-3h-.1m1-19h.1m0 3h-.1m1 9h.1m0-2h-.1m2 8h.1m3-13h-.1m0-10h.1m2 26h-.1m1-3h.1m3-8h-.1m3-20h.1m1 11h-.1m1-7h.1m2 17h-.1m0 9h.1m2-8h-.1m1-4h.1m0 11h-.1m0-24h.1m1 16h-.1m2-4h.1m1-2h-.1m1 10h.1m1-23h-.1m3 24h.1m2-8h-.1m2-1h.1m3 9h-.1m2-13h.1m1 12h-.1m1-13h.1m0-10h-.1m0 17h.1m3 12h-.1m1-22h.1m0 9h-.1m2-12h.1m0 7h-.1m0 16h.1m1-20h-.1m1 17h.1m0-22h-.1m1 9h.1m2-6h-.1m0 3h.1m1 1h-.1m1 19h.1m1-26h-.1m1-1h.1m0 7h-.1m1 9h.1m2-16h-.1m2 16h.1m3 12h-.1m1-8h.1m1 8h-.1m0-21h.1m5-9h-.1m1 8h.1m3 11h-.1m2 8h.1m1-27h-.1m1 26h.1m2-26h-.1m1 19h.1m1 9h-.1m1-19h.1m0 3h-.1m2 4h.1m0-17h-.1m1 10h.1m1 20h-.1m3-2h.1m0-14h-.1m3 9h.1m1 7h-.1m0-2h.1m0-16h-.1m1-9h.1m1 22h-.1m4-1h.1m1-3h-.1m1 9h.1m0-5h-.1m0-2h.1m4 2h-.1m0-19h.1m0 8h-.1m2 18h.1m0-21h-.1m0 17h.1m2-18h-.1m1 16h.1m0-18h-.1m2 5h.1m0-3h-.1m0 14h.1m1-16h-.1m1 20h.1m1-21h-.1m1 11h.1m1 2h-.1m1 4h.1m1-24h-.1m1 3h.1m1 2h-.1m1 16h.1m0-2h-.1m1-12h.1m1 7h-.1m3 16h.1m0-11h-.1m0 8h.1m1-4h-.1m5 5h.1m1-3h-.1m0-23h.1m1 26h-.1m0-22h.1m1 3h-.1m0 18h.1m2 3h-.1m1-28h.1m0 19h-.1m2-12h.1m4 19h-.1m0-15h.1m1-5h-.1m3 15h.1m0-20h-.1m1 28h.1m2-23h-.1m0 9h.1m2-5h-.1m1-2h.1m0 19h-.1m0-5h.1m2-9h-.1m0-4h.1m1-4h-.1m1 17h.1m1-24h-.1m1 8h.1m0 3h-.1m1 4h.1m1 9h-.1m1-21h.1m1 7h-.1m3-4h.1m1 12h-.1m2-2h.1m0-7h-.1m2 23h.1m1-13h-.1m0-5h.1m1 7h-.1m1 5h.1m0-17h-.1m1 13h.1m0-10h-.1m1 12h.1m1-7h-.1m2 6h.1m1 8h-.1m0-11h.1m3-9h-.1m0 18h.1m1-23h-.1m1 22h.1m1 3h-.1m1-23h.1m1 2h-.1m0-5h.1m0 18h-.1m4-10h.1m2-1h-.1m1-10h.1m0 27h-.1m1-15h.1m2-8h-.1m1 6h.1m2 7h-.1m1-2h.1m1-2h-.1m0 13h.1m0-16h-.1m1 5h.1m2 0h-.1m1-3h.1m1-5h-.1m0-2h.1m2 11h-.1m2 11h.1m1-20h-.1m1-5h.1m1 25h-.1m1-4h.1m0-13h-.1m1 16h.1m2-24h-.1m0 16h.1m2-3h-.1m1-8h.1m0 4h-.1m1-12h.1m1 30h-.1m1-26h.1m5 4h-.1m0 3h.1m1-6h-.1m1 12h.1m1-9h-.1m1-4h.1m1-1h-.1m2 12h.1m0-4h-.1m3-6h.1m0 2h-.1m3 10h.1m1 9h-.1m5 4h.1m0-26h-.1m1 1h.1m0 17h-.1m2 8h.1m2-26h-.1m2 11h.1m2-12h-.1m0 18h.1m1-11h-.1m1-3h.1m3 5h-.1m2-12h.1m2 18h-.1m3-11h.1m2 17h-.1m4-2h.1m0-10h-.1m1 12h.1m0 4h-.1m3-10h.1m3-7h-.1m5-6h.1m1-5h-.1m0 16h.1m5 5h-.1m3 0h.1m1-16h-.1m0 9h.1m3 10h-.1m0-20h.1m633-1h-.1m45 8h.1m1-4h-.1m0 16h.1m8 6h-.1m2-18h.1m2-11h-.1m0 20h.1m7-2h-.1m61-12h.1m1 1h-.1m9 4h.1m5-7h-.1m1 7h.1m1-5h-.1m2 6h.1m2-12h-.1m1 8h.1m5 14h-.1m0-2h.1m0-11h-.1m2 21h.1m3-31h-.1m0 27h.1m0-4h-.1m1-14h.1m2-9h-.1m1 1h.1m0 12h-.1m2 17h.1m0-15h-.1m0-9h.1m1 21h-.1m3-18h.1m0 13h-.1m3-13h.1m2-5h-.1m1 8h.1m2-4h-.1m1 16h.1m1 3h-.1m0-9h.1m0-8h-.1m1-10h.1m1 27h-.1m0-8h.1m2-18h-.1m2 1h.1m0 21h-.1m1-13h.1m1 9h-.1m2-18h.1m1 28h-.1m3-19h.1m1 18h-.1m2 21h.1m-1-6h-.1m-7 10h.1m-5-17h-.1m0-3h.1m-3 15h-.1m-2-13h.1m0 26h-.1m-2-3h.1m-16 0h-.1m-2-2h.1m-16-12h-.1m-51 8h.1m-10 8h-.1m-4-5h.1m-7 1h-.1m-6-2h.1m-5-16h-.1m-3 6h.1m-7 8h-.1m-5-17h.1m-680 2h-.1m-5 2h.1m-3 23h-.1m-1-13h.1m-3 12h-.1m-1-2h.1m-2 2h-.1m-1-21h.1m-6 18h-.1m-1-11h.1m-3-7h-.1m-1 6h.1m-8 6h-.1m0-16h.1m-4 13h-.1m-1 14h.1m-2-23h-.1m-2-3h.1m-1 24h-.1m-2-18h.1m-1-4h-.1m-4 11h.1m-1-17h-.1m-2 17h.1m-1-6h-.1m-1 4h.1m-4-4h-.1m-2 6h.1m-6-17h-.1m-1 28h.1m-2-7h-.1m-1-2h.1m-1-2h-.1m0 4h.1m-5-16h-.1m-6-1h.1m0-3h-.1m-1 29h.1m0-12h-.1m-1 5h.1m-1-13h-.1m-10-8h.1m-2 22h-.1m-1-6h.1m0 9h-.1m-1-6h.1m-1-4h-.1m-1-6h.1m-2 6h-.1m0-14h.1m-3 4h-.1m0-8h.1m-3 4h-.1m-1 12h.1m-1-4h-.1m-1 8h.1m-2-13h-.1m-2 3h.1m-2 1h-.1m-1 18h.1m-1-13h-.1m-1-13h.1m-3 5h-.1m-1 19h.1m-1-13h-.1m-2 8h.1m0-10h-.1m0 7h.1m-2 2h-.1m0-3h.1m-1-16h-.1m-2 14h.1m-1 9h-.1m-2-22h.1m-1-1h-.1m-1 7h.1m-2 2h-.1m0 10h.1m0-7h-.1m-2 7h.1m-2 0h-.1m-1 3h.1m-1-8h-.1m0 6h.1m-1-13h-.1m-1 5h.1m-1-9h-.1m-2 11h.1m-1-12h-.1m-3-4h.1m-1 4h-.1m-1 5h.1m-1 12h-.1m0 9h.1m-1-3h-.1m0-27h.1m-2 20h-.1m-1 11h.1m0-17h-.1m-1-2h.1m0-7h-.1m-3 9h.1m-2-7h-.1m-2-2h.1m-1 23h-.1m-1-1h.1m-1-8h-.1m-2-3h.1m-6-14h-.1m0 16h.1m0 5h-.1m-2-18h.1m-1 26h-.1m-1-3h.1m0-2h-.1m-4-18h.1m-4 6h-.1m-2 12h.1m-1-6h-.1m-1-15h.1m0-4h-.1m-1 10h.1m-4-5h-.1m0-1h.1m-1 15h-.1m-5 4h.1m-2-11h-.1m0-5h.1m-1 16h-.1m0-21h.1m-2 27h-.1m-1-23h.1m-1 23h-.1m0-10h.1m-1 7h-.1m-3-16h.1m0-4h-.1m-1 23h.1m-2-13h-.1m-5 12h.1m0-17h-.1m0 8h.1m-2 11h-.1m-3-11h.1m-1-15h-.1m0-3h.1m0 5h-.1m-1 3h.1m-2 6h-.1m0 15h.1m-1-30h-.1m0 26h.1m-3-26h-.1m-1 17h.1m-2 5h-.1m-1-8h.1m0 17h-.1m-1-32h.1m0 12h-.1m-3-1h.1m-1 1h-.1m-1 4h.1m0-10h-.1m-1 11h.1m-1 4h-.1m-1-13h.1m-1 21h-.1m0-12h.1m-1 9h-.1m-2-9h.1m0-16h-.1m0 19h.1m-3-7h-.1m0 7h.1m-1 2h-.1m-1-9h.1m-3-9h-.1m-1 11h.1m-4-15h-.1m-6 12h.1m-1 8h-.1m-1-17h.1m0 14h-.1m-1 5h.1m-2 4h-.1m0-17h.1m-3-5h-.1m-1 10h.1m0 11h-.1m0 6h.1m0-3h-.1m-3-19h.1m0 19h-.1m-2-14h.1m-2-8h-.1m0 7h.1m-1 7h-.1m0-19h.1m-2 2h-.1m-2 17h.1m-3-16h-.1m0 5h.1m-1-5h-.1m-2 23h.1m-3-19h-.1m-2-3h.1m-1-2h-.1m-1 4h.1m-1 11h-.1m0-15h.1m-2 5h-.1m-1 13h.1m-1-9h-.1m-3 13h.1m-4-16h-.1m-1 21h.1m-1-17h-.1m-4 7h.1m-1-11h-.1m-3 3h.1m-3 13h-.1m-3 6h.1m0-21h-.1m-2 1h.1m-1 13h-.1m-1-20h.1m-1 27h-.1m-1-21h.1m0 7h-.1m-1-14h.1m0 11h-.1m-1-7h.1m-1 4h-.1m-1 9h.1m0 9h-.1m0-26h.1m-2 2h-.1m-1 5h.1m-3 0h-.1m0 19h.1m0-2h-.1m-1 1h.1m-5-7h-.1m-1 6h.1m0-14h-.1m0-9h.1m-3 28h-.1m0-9h.1m-1-4h-.1m-1 12h.1m0-9h-.1m-4-7h.1m-2 11h-.1m0-19h.1m-3 13h-.1m0-17h.1m0-2h-.1m-1 25h.1m-1-4h-.1m-4-6h.1m0-3h-.1m0 9h.1m-1 7h-.1m-1-17h.1m-3-7h-.1m-2 5h.1m-1 17h-.1m-2-2h.1m-4-22h-.1m-1 13h.1m-1 1h-.1m-4 12h.1m0-12h-.1m-2-9h.1m0 15h-.1m-2-1h.1m-1-13h-.1m-1 4h.1m0 9h-.1m-1-21h.1m-4 4h-.1m0 21h.1m0 5h-.1m-1-15h.1m-3 2h-.1m-1 12h.1m-1-26h-.1m-4 4h.1m0 9h-.1m0 5h.1m-4-11h-.1m-1 7h.1m0-13h-.1m0 19h.1m-1 5h-.1m-1-16h.1m0-4h-.1m-1 12h.1m-1-10h-.1m-1 11h.1m-1 7h-.1m-1-18h.1m-3-3h-.1m-1 13h.1m0-19h-.1m-1 3h.1m-2-3h-.1m-2 12h.1m-3 5h-.1m0-14h.1m-1 16h-.1m0-8h.1m-2 10h-.1m-2-22h.1m-4 25h-.1m-1-4h.1m0-21h-.1m-3 22h.1m-1-5h-.1m-1 6h.1m0-2h-.1m-4-10h.1m-3 7h-.1m-3-2h.1m0 4h-.1m-2-15h.1m0 19h-.1m-3 2h.1m-2-25h-.1m-1 16h.1m-1-14h-.1m-4 5h.1m-1 14h-.1m0-22h.1m-1 30h-.1m-3-8h.1m0 5h-.1m-1-7h.1m-3-16h-.1m0 12h.1m0 13h-.1m-1-23h.1m-1-3h-.1m0 8h.1m-1-9h-.1m0 5h.1m-1 7h-.1m-1-2h.1m-2-10h-.1m-1-3h.1m-2 4h-.1m0 22h.1m-1 2h-.1m-1-21h.1m-5 18h-.1m-2-20h.1m0 25h-.1m-2-17h.1m0 7h-.1m-1-16h.1m-4 24h-.1m0-16h.1m0-7h-.1m-1 2h.1m-4 2h-.1m0-9h.1m0 17h-.1m-1 5h.1m-1 1h-.1m-1-4h.1m0-4h-.1m-3-3h.1m-1 11h-.1m-2-4h.1m0 6h-.1m-1-18h.1m-2 1h-.1m0 17h.1m-2 3h-.1m0-19h.1m-1-8h-.1m-1 24h.1m-7-9h-.1m0 5h.1m-2-16h-.1m-3 2h.1m0 24h-.1m0-28h.1m0-2h-.1m-5 14h.1m-3 12h-.1m-2-8h.1m-6-11h-.1m0 21h.1m0-29h-.1m-2 0h.1m-2 27h-.1m-4 1h.1m0-15h-.1m0 18h.1m0-21h-.1m-1 9h.1m-1-14h-.1m-2-1h.1m0 6h-.1m-1 22h.1m-2-3h-.1m-2-17h.1m-2 16h-.1m-3-11h.1m-3 4h-.1m-1-9h.1m-4-11h-.1m-1 4h.1m-4 23h-.1m-1-14h.1m-1-9h-.1m-3 24h.1m0-26h-.1m-1-2h.1m-1 4h-.1m-4-3h.1m0 11h-.1m-3-1h.1m-2 14h-.1m-1-5h.1m-4-17h-.1m-1 28h.1m-9-1h-.1m-1-28h.1m-4 7h-.1m-1-6h.1m-5 7h-.1m-5-2h.1m-2-8h-.1m-8 4h.1m-6-3h-.1m46 34h.1m6 6h-.1m1-8h.1m13 10h-.1m15-6h.1m1 21h-.1m1-13h.1m2 13h-.1m2-22h.1m0 23h-.1m4-10h.1m0 13h-.1m2-9h.1m7-9h-.1m2-12h.1m2 21h-.1m2-9h.1m2 4h-.1m1-7h.1m6 11h-.1m2-19h.1m0 7h-.1m1-3h.1m5 9h-.1m3-15h.1m1 27h-.1m1-22h.1m1 13h-.1m2 12h.1m5-16h-.1m2-12h.1m7 20h-.1m1-19h.1m5 11h-.1m1 18h.1m0-8h-.1m4-20h.1m3 5h-.1m2 12h.1m2-4h-.1m0-12h.1m5 23h-.1m1-20h.1m2 11h-.1m1-15h.1m1-4h-.1m3 31h.1m3-26h-.1m0 10h.1m2 4h-.1m4 12h.1m1-18h-.1m2-3h.1m5 12h-.1m3-18h.1m1 21h-.1m4-12h.1m3 9h-.1m4 4h.1m1 3h-.1m0-17h.1m4 3h-.1m3 6h.1m3-2h-.1m0-7h.1m3 18h-.1m2-1h.1m2-21h-.1m1 17h.1m3-23h-.1m6 29h.1m1-18h-.1m5 3h.1m0 4h-.1m2-17h.1m0 2h-.1m1 3h.1m1 13h-.1m1-21h.1m2 17h-.1m0 7h.1m3 6h-.1m0-4h.1m7-15h-.1m10 14h.1m1-7h-.1m3-10h.1m2-5h-.1m2 10h.1m1 17h-.1m1-24h.1m3-3h-.1m1 5h.1m1 7h-.1m1 11h.1m2-17h-.1m5-2h.1m1-3h-.1m0 15h.1m7-2h-.1m4 5h.1m2-6h-.1m1-13h.1m0 5h-.1m1-2h.1m1 9h-.1m0-2h.1m2-1h-.1m0 15h.1m4-3h-.1m0-16h.1m1 11h-.1m2-16h.1m1 9h-.1m3-11h.1m0 5h-.1m3 0h.1m1 2h-.1m0-4h.1m1 8h-.1m1-6h.1m0 17h-.1m1-7h.1m0-14h-.1m1 16h.1m1 10h-.1m2-17h.1m1 11h-.1m2-4h.1m2-15h-.1m7 2h.1m4 25h-.1m4-29h.1m4 1h-.1m0 25h.1m1-2h-.1m1-20h.1m1-4h-.1m2 6h.1m2 20h-.1m13-8h.1m1-12h-.1m0 2h.1m1 3h-.1m2 9h.1m1 8h-.1m0-2h.1m0-26h-.1m1 5h.1m3 4h-.1m2-8h.1m5 3h-.1m1-5h.1m1 20h-.1m2-12h.1m2-5h-.1m1 2h.1m2-5h-.1m3 19h.1m6 8h-.1m1 4h.1m1-27h-.1m0 8h.1m1 3h-.1m0 2h.1m2-2h-.1m1-4h.1m0 20h-.1m1-9h.1m1 8h-.1m2-27h.1m1 9h-.1m1-8h.1m1 5h-.1m3 17h.1m2-24h-.1m1 14h.1m1-4h-.1m2-8h.1m1 9h-.1m2 7h.1m1 4h-.1m2 4h.1m2 1h-.1m2-18h.1m3-9h-.1m2 26h.1m1-2h-.1m4-1h.1m1-15h-.1m3 9h.1m2-9h-.1m0-5h.1m2 12h-.1m2-1h.1m7 11h-.1m1-4h.1m5-22h-.1m1 27h.1m2-16h-.1m6-8h.1m2 6h-.1m1 6h.1m3-13h-.1m3 16h.1m3-5h-.1m2 18h.1m2-11h-.1m1-14h.1m2-3h-.1m2-4h.1m6 29h-.1m1-23h.1m2 3h-.1m0-6h.1m1 17h-.1m6 12h.1m2-17h-.1m1-11h.1m2 27h-.1m2-16h.1m1 4h-.1m0-17h.1m9 14h-.1m6 8h.1m2-19h-.1m2 5h.1m1 19h-.1m6-2h.1m3-26h-.1m7 11h.1m0 19h-.1m1-7h.1m2-5h-.1m1-8h.1m1 3h-.1m2-9h.1m3 1h-.1m7 23h.1m5 1h-.1m2-17h.1m2 7h-.1m1-4h.1m4-4h-.1m3-12h.1m2 15h-.1m9-6h.1m1 16h-.1m0-3h.1m2-5h-.1m0-2h.1m0-5h-.1m8-8h.1m0 11h-.1m1-8h.1m5 6h-.1m1 4h.1m0 5h-.1m4 2h.1m2-14h-.1m3 1h.1m1 7h-.1m9 0h.1m9-10h-.1m736-5h.1m0 11h-.1m6-9h.1m9 7h-.1m9 4h.1m2 13h-.1m2 2h.1m8-24h-.1m1 25h.1m3-5h-.1m1 4h.1m0-7h-.1m5-12h.1m1 15h-.1m8-11h.1m1 11h-.1m2-10h.1m2 3h-.1m2-5h.1m1 2h-.1m0 8h.1m0-12h-.1m6 5h.1m1-4h-.1m3-4h.1m1 10h-.1m0 3h.1m2-10h-.1m3-10h.1m0 10h-.1m0 15h.1m0-6h-.1m1 8h.1m5-18h-.1m0-6h.1m1 18h-.1m2 7h.1m3-21h-.1m0 17h.1m0-5h-.1m2-18h.1m1 2h-.1m3 20h.1m1-21h-.1m1 23h.1m0-10h-.1m2 0h.1m4 3h-.1m0-14h.1m1 3h-.1m4 6h.1m3 5h-.1m-4 41h.1m-2-11h-.1m-1 10h.1m-2-11h-.1m-2-8h.1m-1-3h-.1m0 12h.1m-2-7h-.1m-2 3h.1m0-6h-.1m-1 4h.1m0-2h-.1m0 10h.1m0-4h-.1m-2 7h.1m0-17h-.1m0 3h.1m-1 20h-.1m-2-8h.1m-2-11h-.1m-1 19h.1m-2-25h-.1m0 25h.1m-3-7h-.1m0-9h.1m-2 9h-.1m-1-9h.1m-1 1h-.1m0 3h.1m-1-16h-.1m0 4h.1m-2 6h-.1m-2 1h.1m-2-7h-.1m0 25h.1m-4-18h-.1m-1-5h.1m-1 6h-.1m0-11h.1m-1 9h-.1m-1 18h.1m-3-14h-.1m-6 8h.1m-1-7h-.1m0-14h.1m-3 3h-.1m-1-3h.1m0 10h-.1m-5 1h.1m-1-8h-.1m-2 19h.1m-3 0h-.1m-3-9h.1m-1-5h-.1m-1-5h.1m-2 3h-.1m0-2h.1m-1 13h-.1m-4-13h.1m-5-1h-.1m-4 0h.1m-7 5h-.1m-3 0h.1m-2 7h-.1m-2-10h.1m-764-2h-.1m-8 7h.1m-6-3h-.1m0 17h.1m-2-9h-.1m-4-9h.1m0 12h-.1m-3-8h.1m-1 2h-.1m-3-4h.1m-2-7h-.1m-3 6h.1m-2 0h-.1m-3-4h.1m-7 15h-.1m-1-12h.1m-5 4h-.1m0 8h.1m-4 1h-.1m-2-1h.1m0 8h-.1m-5-20h.1m-1 12h-.1m-2 3h.1m0-12h-.1m-1 18h.1m-2-16h-.1m-1-8h.1m-1 25h-.1m-4-13h.1m-1-8h-.1m-3-7h.1m-4 3h-.1m-2 9h.1m0 3h-.1m-2 13h.1m0-10h-.1m-2-18h.1m0 20h-.1m-3-10h.1m-2-1h-.1m-2-6h.1m-4 4h-.1m0 16h.1m-2-17h-.1m-1 25h.1m0-17h-.1m-1-14h.1m-1 24h-.1m-3-6h.1m-2 2h-.1m0-9h.1m-2 17h-.1m-3-9h.1m-1-3h-.1m0 8h.1m-5-18h-.1m-9 25h.1m0-16h-.1m-1 12h.1m-1-26h-.1m-4 12h.1m-2 7h-.1m0-17h.1m-2 27h-.1m-3-6h.1m-1 2h-.1m-1-18h.1m0-6h-.1m-1 19h.1m-8-22h-.1m-1 23h.1m-2-12h-.1m-1 5h.1m-1-12h-.1m0 4h.1m-3 8h-.1m0 5h.1m0 6h-.1m-3-2h.1m0 4h-.1m0-9h.1m-2-15h-.1m-10 8h.1m-8 0h-.1m-1 13h.1m-1-18h-.1m-23 16h.1m0-12h-.1m-4-3h.1m-2-5h-.1m-1 20h.1m-2-9h-.1m-1 4h.1m0-11h-.1m-4-1h.1m-3 21h-.1m-2 3h.1m0-20h-.1m-2-6h.1m-2 12h-.1m-1 6h.1m0-12h-.1m-1 20h.1m-3-21h-.1m-1 2h.1m-1-9h-.1m-1 28h.1m-7 1h-.1m-4-14h.1m-5-10h-.1m0-6h.1m-1 13h-.1m-2-14h.1m-1 12h-.1m-2 15h.1m-15-3h-.1m0-4h.1m-1-19h-.1m-2 15h.1m0-14h-.1m-3 2h.1m0 21h-.1m-5-19h.1m-4-6h-.1m-7 8h.1m-1 9h-.1m0 4h.1m-3-14h-.1m-1 10h.1m-1 12h-.1m-5-18h.1m-7 15h-.1m-1-13h.1m-2-8h-.1m-2 5h.1m-2 7h-.1m-4-12h.1m-6 8h-.1m-7-8h.1m-1 23h-.1m-3-10h.1m0 3h-.1m-1-10h.1m0 12h-.1m-1-23h.1m-4 27h-.1m-1-16h.1m-9-4h-.1m-3 16h.1m-1-14h-.1m-5 2h.1m0 14h-.1m-4-18h.1m-1 14h-.1m-1-16h.1m-5 18h-.1m0 3h.1m-6-11h-.1m0-5h.1m-2-6h-.1m-1 3h.1m-2 12h-.1m-1-4h.1m-1-12h-.1m-1 11h.1m-3 1h-.1m-2-15h.1m-2 10h-.1m-1-6h.1m-5-3h-.1m0 24h.1m-2-20h-.1m-7 4h.1m-2-3h-.1m-7 11h.1m-5 12h-.1m0-24h.1m-1 15h-.1m-5-9h.1m-1 17h-.1m-3-23h.1m-5 7h-.1m-1 13h.1m-2-15h-.1m-5 17h.1m0-27h-.1m-6 18h.1m-1 4h-.1m-1-16h.1m-2 5h-.1m0 11h.1m-1-22h-.1m-2 1h.1m-1 21h-.1m-5-23h.1m0 5h-.1m-3-5h.1m-1 8h-.1m-3 11h.1m-3-11h-.1m-2 22h.1m0-12h-.1m-2 7h.1m0-8h-.1m-1-13h.1m0 2h-.1m-2 4h.1m-1-10h-.1m-8 19h.1m-2-3h-.1m-3-12h.1m-3-1h-.1m-2 7h.1m-1-2h-.1m-6 7h.1m-7-7h-.1m-3 8h.1m-9-13h-.1m-5 10h.1m-11-13h-.1m77 35h.1m17 7h-.1m15-6h.1m7 10h-.1m4-2h.1m3-5h-.1m2-2h.1m3 4h-.1m2-5h.1m3 11h-.1m3-13h.1m13 8h-.1m5 14h.1m3-20h-.1m3 9h.1m0 2h-.1m3-7h.1m1 13h-.1m1 3h.1m0 5h-.1m0-11h.1m5 8h-.1m1-23h.1m0 6h-.1m1 14h.1m2-4h-.1m1-7h.1m2 6h-.1m11-7h.1m4 5h-.1m0 11h.1m0-25h-.1m4 9h.1m3-1h-.1m2 8h.1m1-13h-.1m2 12h.1m4 14h-.1m5-3h.1m0-12h-.1m0-12h.1m4 12h-.1m1 10h.1m1-2h-.1m0-20h.1m1-3h-.1m2 9h.1m1 14h-.1m3-9h.1m5 16h-.1m1-23h.1m1 7h-.1m1-13h.1m2 25h-.1m1-5h.1m0-6h-.1m9 13h.1m4-4h-.1m0-24h.1m2 3h-.1m5 16h.1m1-16h-.1m3 18h.1m1-4h-.1m3-11h.1m3 21h-.1m0-24h.1m2 27h-.1m2-25h.1m9 20h-.1m2 2h.1m0-14h-.1m1 16h.1m0-18h-.1m4 0h.1m1-2h-.1m1-6h.1m3-4h-.1m6 22h.1m3-16h-.1m3 13h.1m1 7h-.1m4-2h.1m3-7h-.1m3 2h.1m0 3h-.1m7-5h.1m1 9h-.1m6-3h.1m1-23h-.1m1 30h.1m4-24h-.1m1 18h.1m0-21h-.1m1 14h.1m2 10h-.1m4 0h.1m1-8h-.1m2-1h.1m5 6h-.1m3-7h.1m0-7h-.1m4-6h.1m3 19h-.1m5-21h.1m3 28h-.1m1-19h.1m2 7h-.1m5 3h.1m2 7h-.1m1 4h.1m1-16h-.1m2-3h.1m1-5h-.1m1 21h.1m3 2h-.1m2-20h.1m0-8h-.1m3-1h.1m0 12h-.1m2 3h.1m6-9h-.1m4 0h.1m2 9h-.1m2-2h.1m0-9h-.1m1 12h.1m2 10h-.1m1-11h.1m1 3h-.1m2-8h.1m1 20h-.1m2-2h.1m4-29h-.1m4 24h.1m1-6h-.1m0-9h.1m0 20h-.1m2-11h.1m2-11h-.1m1 11h.1m0-9h-.1m4-4h.1m1 11h-.1m4-7h.1m6-4h-.1m4 13h.1m1-14h-.1m6 10h.1m0 6h-.1m2-13h.1m5-7h-.1m0 11h.1m3-8h-.1m1 10h.1m1-12h-.1m3 28h.1m4-23h-.1m0-6h.1m2 8h-.1m0 11h.1m0 10h-.1m3-11h.1m1 12h-.1m0-14h.1m0-14h-.1m2 12h.1m2 13h-.1m5-19h.1m0 4h-.1m4 14h.1m2-26h-.1m4 16h.1m9 7h-.1m4-12h.1m0-8h-.1m4 2h.1m0 9h-.1m841-9h.1m4-4h-.1m5 3h.1m2 16h-.1m0-13h.1m3 2h-.1m0 3h.1m3-12h-.1m0 1h.1m1 18h-.1m0 6h.1m3-25h-.1m0 5h.1m4-2h-.1m1 15h.1m0-10h-.1m0-7h.1m2 22h-.1m2-9h.1m0-4h-.1m1 12h.1m0-2h-.1m1-13h.1m1-6h-.1m0 7h.1m4 22h-.1m1-29h.1m1 7h-.1m1 1h.1m0 3h-.1m0 4h.1m1 2h-.1m3-9h.1m2 7h-.1m2-4h.1m2-13h-.1m0 3h.1m5 3h-.1m0-3h.1m1 15h-.1m0-8h.1m-937 26h-.1m-9 3h.1m-3-4h-.1m-11 5h.1m0-5h-.1m-4 12h.1m0 2h-.1m-5-10h.1m-1-3h-.1m-1 15h.1m-3-19h-.1m0 5h.1m-1 16h-.1m-3 10h.1m-4-14h-.1m0 12h.1m-8-8h-.1m-2 4h.1m-1-13h-.1m-5 9h.1m-2-16h-.1m-1 2h.1m-5 15h-.1m-1 2h.1m-1 2h-.1m-4 5h.1m-1-27h-.1m0 11h.1m-2 15h-.1m-1-8h.1m0-6h-.1m0-5h.1m-8 2h-.1m0 8h.1m-1 11h-.1m-4-28h.1m-1 12h-.1m0 15h.1m-1-9h-.1m0-3h.1m-2-6h-.1m0 14h.1m-1-7h-.1m-2 8h.1m-3-17h-.1m-2 4h.1m-3-6h-.1m-1 19h.1m-2-11h-.1m-1-10h.1m-4 6h-.1m-3 14h.1m0 2h-.1m-2-8h.1m-2-19h-.1m0 14h.1m-1 10h-.1m-6-19h.1m-6 5h-.1m-9-8h.1m-4 24h-.1m0-18h.1m-2-6h-.1m-4 0h.1m-2 9h-.1m-4-8h.1m-2 8h-.1m0 14h.1m-1-8h-.1m-1 6h.1m-1-13h-.1m-2 1h.1m-1 15h-.1m-3-19h.1m-2 5h-.1m-5-13h.1m0 24h-.1m-6-17h.1m0 4h-.1m-2 10h.1m-2-15h-.1m-2 12h.1m0 5h-.1m-1-10h.1m-1-3h-.1m-1 6h.1m-3-11h-.1m-2 17h.1m-6 1h-.1m-5-17h.1m-4 21h-.1m-3-25h.1m-5 16h-.1m0-11h.1m-1 8h-.1m0-6h.1m-5 7h-.1m-1-11h.1m-1 7h-.1m-3-12h.1m-3 20h-.1m-2-14h.1m-4-1h-.1m-8-2h.1m0-4h-.1m-3 9h.1m-9-1h-.1m-2-5h.1m-5 9h-.1m-6-9h.1m-18 0h-.1m-15 1h.1m138 32h-.1m20 5h.1m6-5h-.1m10-3h.1m4 1h-.1m11 9h.1m4-8h-.1m29-1h.1m10 3h-.1m3 3h.1m30-4h-.1m104 35h.1m-4-6h-.1m-1706 254h.1m59 1h-.1m256 29h.1m-10 1h-.1m-5-11h.1m-3 2h-.1m0 6h.1m-1-2h-.1m-2 4h.1m-3-1h-.1m-2-3h.1m-2-9h-.1m-4 6h.1m-1-2h-.1m0 7h.1m0 2h-.1m-1-11h.1m-3 9h-.1m-1 0h.1m-1-7h-.1m0 11h.1m-3-10h-.1m-4 1h.1m-5 3h-.1m-1 4h.1m-2-10h-.1m-2 3h.1m0 8h-.1m0-3h.1m-2-10h-.1m-3 1h.1m-3 11h-.1m-3 2h.1m-1-6h-.1m-2-6h.1m-5-10h-.1m-4 22h.1m-6-17h-.1m-5 18h.1m0-5h-.1m0-4h.1m-1-3h-.1m-1 2h.1m-2-9h-.1m0 16h.1m-1-8h-.1m-1-2h.1m0 5h-.1m-4 7h.1m-1-11h-.1m-1-4h.1m-1 9h-.1m0 4h.1m-1-10h-.1m-1 3h.1m-1-4h-.1m-6 14h.1m-1-12h-.1m-1 4h.1m-3-4h-.1m-1 6h.1m0-9h-.1m0 15h.1m-1-12h-.1m-5 7h.1m-3-15h-.1m-1 11h.1m-1 2h-.1m-2-5h.1m-4 6h-.1m-2 2h.1m-5-6h-.1m-1 1h.1m-3 6h-.1m-2-6h.1m-1 5h-.1m-2-3h.1m-4 2h-.1m-5-3h.1m0-7h-.1m-2 5h.1m-1 4h-.1m-14 3h.1m-3-8h-.1m-2 2h.1m0 7h-.1m-1-10h.1m0-2h-.1m-9 6h.1m0 6h-.1m-3-7h.1m0-4h-.1m0 2h.1m-2 6h-.1m-1 3h.1m-3-10h-.1m-1 5h.1m-3-3h-.1m0 6h.1m-1 1h-.1m-2 1h.1m-4-5h-.1m-4-8h.1m-3 7h-.1m0 7h.1m-2-26h-.1m-2 9h.1m0 7h-.1m-1 10h.1m0-16h-.1m0 13h.1m-2-15h-.1m0 14h.1m0 2h-.1m-1-9h.1m-3 0h-.1m-1-3h.1m-1 2h-.1m0-6h.1m-1 8h-.1m0 11h.1m0-5h-.1m-1-9h.1m-3-4h-.1m-1-3h.1m-4 17h-.1m-1 2h.1m-3-12h-.1m-1-5h.1m0 13h-.1m-2-11h.1m0 7h-.1m-2-1h.1m-2-3h-.1m-1 14h.1m-1-10h-.1m0-6h.1m-2 13h-.1m-1-3h.1m0-13h-.1m0 10h.1m0-8h-.1m-2-2h.1m-1 15h-.1m-1-1h.1m0 4h-.1m0-10h.1m0 8h-.1m-3-6h.1m-2-11h-.1m-2 16h.1m0-1h-.1m-2-9h.1m-2-7h-.1m-1 11h.1m-1-17h-.1m-2 7h.1m-1 9h-.1m-2-11h.1m-2-1h-.1m-1 7h.1m-2 4h-.1m0 11h.1m0-20h-.1m-1-7h.1m-1 9h-.1m0 11h.1m0-14h-.1m-1 5h.1m-1 7h-.1m-3-6h.1m-1 13h-.1m0-3h.1m-1-24h-.1m-1 26h.1m0-13h-.1m-3-10h.1m-3 24h-.1m-1-2h.1m-1-6h-.1m0-14h.1m0 25h-.1m-1-23h.1m-2 19h-.1m0-2h.1m0-19h-.1m-2 20h.1m-2-16h-.1m-1-3h.1m0-3h-.1m-3 13h.1m0 9h-.1m-2 3h.1m-3-17h-.1m0 6h.1m-1 12h-.1m-1-8h.1m-3 0h-.1m-1 8h.1m-3-11h-.1m-2 1h.1m-2-6h-.1m0 2h.1m-1 8h-.1m-1 6h.1m-1-14h-.1m0 6h.1m-1-9h-.1m-1 13h.1m-3-7h-.1m-1 7h.1m0-8h-.1m-3 3h.1m0-5h-.1m-2 11h.1m-1-7h-.1m0 9h.1m0-17h-.1m-5 4h.1m-1 13h-.1m-3-2h.1m-1 1h-.1m-1-8h.1m-1 3h-.1m0-2h.1m0 7h-.1m-2-1h.1m-3 3h-.1m-2-2h.1m-2-7h-.1m-2 5h.1m-4 9h-.1m4 19h.1m1-15h-.1m1 6h.1m0-8h-.1m1-2h.1m0 12h-.1m3-11h.1m3 26h-.1m0-13h.1m2-11h-.1m0 25h.1m1-19h-.1m3 18h.1m3-21h-.1m1 18h.1m1-28h-.1m1 26h.1m0-10h-.1m2 10h.1m0-14h-.1m0-10h.1m0 19h-.1m0-3h.1m1 5h-.1m0-8h.1m0 14h-.1m2-15h.1m0-12h-.1m2 6h.1m0-4h-.1m1 7h.1m0-4h-.1m0 7h.1m1-8h-.1m2 5h.1m1 7h-.1m0 9h.1m1-19h-.1m2 17h.1m0-5h-.1m1-17h.1m3 27h-.1m0-28h.1m1 22h-.1m0-7h.1m0 9h-.1m0-21h.1m0-2h-.1m1 17h.1m1-5h-.1m1 13h.1m1-4h-.1m1-14h.1m0 9h-.1m3-18h.1m1 1h-.1m0 27h.1m0-28h-.1m1 10h.1m0-1h-.1m2 7h.1m0 12h-.1m0-27h.1m1 28h-.1m0-27h.1m2 3h-.1m2 24h.1m1-4h-.1m0-4h.1m4 3h-.1m1-2h.1m0-6h-.1m1-14h.1m2 8h-.1m1 9h.1m3 11h-.1m1-16h.1m1 2h-.1m2-14h.1m4 28h-.1m1-31h.1m4 27h-.1m1 3h.1m0-16h-.1m1-1h.1m1-10h-.1m2 24h.1m1-24h-.1m0 6h.1m1 12h-.1m0 7h.1m1 3h-.1m0-10h.1m0 3h-.1m2-11h.1m2 4h-.1m1 14h.1m4 1h-.1m1-16h.1m1-9h-.1m0-6h.1m0 29h-.1m4-15h.1m0 2h-.1m0-7h.1m1 8h-.1m0-12h.1m1 11h-.1m1-15h.1m1 6h-.1m1 23h.1m2-20h-.1m0 9h.1m1-17h-.1m1 15h.1m0-10h-.1m3 17h.1m2-2h-.1m1-17h.1m1 7h-.1m0 18h.1m2 0h-.1m1-11h.1m0-15h-.1m0 13h.1m2-2h-.1m0-14h.1m0 4h-.1m1 20h.1m0-11h-.1m1-2h.1m3 0h-.1m1-4h.1m0 8h-.1m1-12h.1m0 5h-.1m3 6h.1m1 4h-.1m1 6h.1m1-23h-.1m0 15h.1m1-13h-.1m0 18h.1m2 1h-.1m0 4h.1m0 3h-.1m1-21h.1m0 3h-.1m0 14h.1m1-21h-.1m2 21h.1m0-10h-.1m2-5h.1m1 14h-.1m0-21h.1m0 2h-.1m1 1h.1m0 8h-.1m2-1h.1m0 8h-.1m1-20h.1m0 5h-.1m2 9h.1m0-15h-.1m3 27h.1m1-5h-.1m0-1h.1m1-19h-.1m2 20h.1m1 2h-.1m0-9h.1m0-10h-.1m2 11h.1m1-18h-.1m1 4h.1m1 18h-.1m1-20h.1m2 29h-.1m1-11h.1m0 4h-.1m2-6h.1m0-3h-.1m3 6h.1m2-6h-.1m2 14h.1m1-23h-.1m1 4h.1m2-2h-.1m0 8h.1m3-4h-.1m3-11h.1m2 21h-.1m0-12h.1m1 2h-.1m1-9h.1m1 15h-.1m2 8h.1m1-21h-.1m0 4h.1m1-9h-.1m0 2h.1m0 2h-.1m1 10h.1m2-2h-.1m0 8h.1m0-4h-.1m2-13h.1m0 7h-.1m1 14h.1m0 7h-.1m0-2h.1m0-23h-.1m1 7h.1m2 17h-.1m1-3h.1m1-5h-.1m0-5h.1m3 3h-.1m1 3h.1m1-9h-.1m5-1h.1m1 15h-.1m8 4h.1m4-20h-.1m2 19h.1m3-19h-.1m1 12h.1m2-14h-.1m3-3h.1m1 5h-.1m1 18h.1m2 2h-.1m0-21h.1m6-9h-.1m1 26h.1m1-26h-.1m1 16h.1m2-17h-.1m2 12h.1m1-7h-.1m1 1h.1m2 16h-.1m0-23h.1m2 30h-.1m0-15h.1m0-9h-.1m2-4h.1m1-2h-.1m1 1h.1m0 11h-.1m1 14h.1m3-24h-.1m2 6h.1m0 17h-.1m0-23h.1m1 1h-.1m5 12h.1m0-10h-.1m1 16h.1m0-11h-.1m0-7h.1m0 14h-.1m2-10h.1m0 18h-.1m1-15h.1m2 15h-.1m1-20h.1m4 1h-.1m2-6h.1m0 3h-.1m0 26h.1m1-5h-.1m1-7h.1m1-16h-.1m0 12h.1m0-10h-.1m2 9h.1m0 7h-.1m0-12h.1m1 9h-.1m2 1h.1m0-6h-.1m2-5h.1m0 10h-.1m0 10h.1m0-6h-.1m1-18h.1m0 28h-.1m1-25h.1m0 20h-.1m0-18h.1m4 11h-.1m0-10h.1m1 4h-.1m1 11h.1m3 2h-.1m2-16h.1m0 4h-.1m1 13h.1m1 2h-.1m2 3h.1m1-11h-.1m1-7h.1m0-2h-.1m2 17h.1m0-15h-.1m2-9h.1m1 25h-.1m2-15h.1m1-11h-.1m1 9h.1m3 3h-.1m1 7h.1m1-22h-.1m1 16h.1m0 13h-.1m1-27h.1m0 7h-.1m0 10h.1m2 5h-.1m2-14h.1m1-6h-.1m1 1h.1m2-4h-.1m2 26h.1m3-2h-.1m0-21h.1m1 2h-.1m1-5h.1m0 21h-.1m0-12h.1m1 16h-.1m0-21h.1m0 10h-.1m1-1h.1m0 6h-.1m0-9h.1m0 14h-.1m2-7h.1m1-14h-.1m2 9h.1m2 9h-.1m0-6h.1m2 10h-.1m1-17h.1m0 16h-.1m4 1h.1m0-10h-.1m1 9h.1m3-2h-.1m1-12h.1m0 16h-.1m1-18h.1m1 11h-.1m0 7h.1m1-21h-.1m1 11h.1m2 13h-.1m1-15h.1m0-7h-.1m2 10h.1m0-10h-.1m0 13h.1m0-11h-.1m1 18h.1m0-27h-.1m2 24h.1m2-15h-.1m1 5h.1m3 16h-.1m3-1h.1m3-12h-.1m1 14h.1m0-8h-.1m1 4h.1m4-12h-.1m3-9h.1m0 9h-.1m1 3h.1m0 7h-.1m1-8h.1m1-5h-.1m0 3h.1m1 7h-.1m0 5h.1m2-6h-.1m3 4h.1m17 6h-.1m126 31h.1m-10-3h-.1m-5 2h.1m-14-4h-.1m-4-5h.1m-1 6h-.1m-1 3h.1m-7-1h-.1m-2 0h.1m-4-1h-.1m-3 0h.1m-2-6h-.1m-2 7h.1m-2 2h-.1m-3-4h.1m-3-3h-.1m0-2h.1m-4-12h-.1m-2 11h.1m0 8h-.1m-2-28h.1m-1 28h-.1m-1-12h.1m-1 8h-.1m-2 5h.1m-3-8h-.1m-1 10h.1m0-8h-.1m-1-1h.1m-1 6h-.1m0-18h.1m-1 17h-.1m-1 2h.1m0-5h-.1m0-21h.1m-1 28h-.1m-1-12h.1m0 4h-.1m-1-14h.1m0 1h-.1m-2 0h.1m0-4h-.1m-2 23h.1m0-14h-.1m-1 4h.1m-1-8h-.1m0 9h.1m-1-6h-.1m-1 14h.1m0-4h-.1m-1 6h.1m-2-17h-.1m-1 2h.1m-2 10h-.1m0 2h.1m-3-21h-.1m-1 21h.1m-1-1h-.1m-1-23h.1m0 18h-.1m-2-5h.1m-1-8h-.1m-1 7h.1m-1-15h-.1m0 20h.1m0 9h-.1m0-16h.1m-2-7h-.1m-1-2h.1m0 23h-.1m-1-3h.1m-1-16h-.1m-1-5h.1m-1 2h-.1m-3 15h.1m-1-16h-.1m-2 10h.1m0 17h-.1m-1-15h.1m0-6h-.1m0 9h.1m0-15h-.1m-1 5h.1m-1 10h-.1m-2-8h.1m0 13h-.1m-1 3h.1m-1-23h-.1m0-3h.1m-1 21h-.1m0 7h.1m-4-14h-.1m-1 11h.1m0-26h-.1m-2 11h.1m0 6h-.1m0 4h.1m-2-21h-.1m-1 20h.1m-1-16h-.1m0 6h.1m0 6h-.1m-2-10h.1m-1 0h-.1m-1 11h.1m0 8h-.1m-1-14h.1m-1 19h-.1m-1-29h.1m-3 27h-.1m-3-22h.1m-2-1h-.1m0 3h.1m-2-3h-.1m0 3h.1m0-5h-.1m-1-3h.1m-3 28h-.1m-1-16h.1m0-5h-.1m-2-7h.1m0 23h-.1m-2-23h.1m-2 17h-.1m-1 13h.1m0-20h-.1m-2-8h.1m-1-2h-.1m-3 22h.1m-6-9h-.1m-1 1h.1m-1-5h-.1m-2 17h.1m-5-4h-.1m-2-3h.1m-10 11h-.1m-5-11h.1m-2 8h-.1m-2-15h.1m-1 13h-.1m-2-12h.1m-2 10h-.1m-1-16h.1m-1 20h-.1m0-3h.1m0-11h-.1m-1-10h.1m-3 11h-.1m-2-3h.1m-2 14h-.1m-3-16h.1m-1 18h-.1m0 3h.1m-2-7h-.1m-1-21h.1m-2 1h-.1m-1 17h.1m0 2h-.1m0-13h.1m-1 5h-.1m0 12h.1m-3-11h-.1m0-13h.1m0 11h-.1m-3-2h.1m-2-2h-.1m-1 1h.1m-1 15h-.1m0-13h.1m0 7h-.1m-1 9h.1m0-9h-.1m-1-10h.1m-1 11h-.1m-1-8h.1m0-1h-.1m-1 19h.1m0-12h-.1m-1 8h.1m0-2h-.1m0-21h.1m-1 5h-.1m0 12h.1m-2 10h-.1m0-30h.1m-1 10h-.1m-1 11h.1m-3-15h-.1m-2 6h.1m-1 13h-.1m0-16h.1m-2 14h-.1m-1 0h.1m0-14h-.1m-1 3h.1m-1 6h-.1m-2 4h.1m-1-19h-.1m0 27h.1m-1-26h-.1m-1 23h.1m-2-19h-.1m0 13h.1m-4-19h-.1m-4 6h.1m-2-2h-.1m-1 5h.1m0-8h-.1m-2 4h.1m-1 14h-.1m0-14h.1m-2 22h-.1m-1-24h.1m-2 4h-.1m-4-3h.1m0-4h-.1m0 7h.1m-1-10h-.1m0 13h.1m-3 2h-.1m0 9h.1m0-21h-.1m-1 6h.1m0-3h-.1m-2 8h.1m-1-9h-.1m0 6h.1m-4 2h-.1m-6 17h.1m0-25h-.1m0 8h.1m-5 6h-.1m-2 4h.1m0-11h-.1m-1 12h.1m0-14h-.1m0 19h.1m-5-20h-.1m-1 9h.1m0 6h-.1m0 7h.1m-1-3h-.1m-1-12h.1m0-14h-.1m0 9h.1m-1 7h-.1m-1-6h.1m-1 15h-.1m-1-12h.1m0 5h-.1m-1 7h.1m0 3h-.1m-1-6h.1m-2 1h-.1m0 4h.1m-1-15h-.1m-4 5h.1m0 10h-.1m-2-8h.1m0-3h-.1m-4 4h.1m-1 5h-.1m0-7h.1m-1-17h-.1m-1 9h.1m-1 9h-.1m-1-9h.1m-1 9h-.1m0-7h.1m0 8h-.1m-2-11h.1m-1 7h-.1m-3-7h.1m0-3h-.1m-1 17h.1m0-12h-.1m0-9h.1m0 4h-.1m-3-1h.1m-2 4h-.1m-1-7h.1m0 26h-.1m-1-28h.1m0 7h-.1m0 19h.1m0-8h-.1m-1-3h.1m-1-12h-.1m-1 2h.1m0 5h-.1m-1 17h.1m0-16h-.1m-1-12h.1m-2 25h-.1m-1-9h.1m0-3h-.1m-2 10h.1m0-18h-.1m-2 7h.1m-1 17h-.1m-1-10h.1m-3-3h-.1m-1 7h.1m0-12h-.1m-2 19h.1m-1-20h-.1m-5 17h.1m0-4h-.1m-1 6h.1m-1-21h-.1m-4 6h.1m0 12h-.1m-2-12h.1m-1 3h-.1m-1-18h.1m-4 0h-.1m0 27h.1m-2 3h-.1m-2-7h.1m-1 9h-.1m0-19h.1m-1 13h-.1m0 4h.1m-1-19h-.1m-3 13h.1m0-8h-.1m0-3h.1m-1 14h-.1m0-23h.1m-1 3h-.1m-1 24h.1m-2-27h-.1m-2 4h.1m0 3h-.1m-1 20h.1m-1-13h-.1m-3 0h.1m-1-12h-.1m-1 2h.1m-2 17h-.1m0 3h.1m-1-16h-.1m0 8h.1m-1-3h-.1m-1-11h.1m-1 15h-.1m0 2h.1m-1-22h-.1m-1 17h.1m-1 4h-.1m-1-17h.1m-1 25h-.1m-1-29h.1m-1 18h-.1m-1-15h.1m-1-4h-.1m-4 15h.1m-1-2h-.1m-3 0h.1m0-3h-.1m0 10h.1m-1 4h-.1m-2-19h.1m0 21h-.1m0-12h.1m-3 15h-.1m0-4h.1m0-22h-.1m-1 6h.1m-1-5h-.1m-1 21h.1m0-15h-.1m-2 13h.1m-2 9h-.1m0-4h.1m-2-13h-.1m0 15h.1m-1-18h-.1m0 10h.1m0-6h-.1m-1-6h.1m0-1h-.1m-1 21h.1m-3-16h-.1m-1 7h.1m0-16h-.1m-2 11h.1m0-4h-.1m-2 14h.1m-4-22h-.1m-2 12h.1m0-8h-.1m-2 5h.1m0-3h-.1m-2-4h.1m0-4h-.1m-2 24h.1m-1-26h-.1m-1 15h.1m-1 7h-.1m-2-16h.1m0 8h-.1m-1 1h.1m-1-2h-.1m0 7h.1m-1-8h-.1m-3 3h.1m-5-4h-.1m-1-9h.1m-3 1h-.1m-5-2h.1m0 11h-.1m-1-9h.1m-3 12h-.1m-2 8h.1m0-13h-.1m-2 4h.1m-5-7h-.1m0 2h.1m-5 8h-.1m-2-1h.1m-1-6h-.1m0 1h.1m-10-9h-.1m-3 0h.1m89 35h-.1m4-1h.1m5 5h-.1m2-3h.1m4-1h-.1m2 8h.1m1 2h-.1m0-8h.1m0-3h-.1m2 2h.1m0 6h-.1m0 1h.1m3-3h-.1m0-8h.1m1 19h-.1m5-20h.1m1 12h-.1m1-5h.1m1-5h-.1m3 2h.1m1-3h-.1m0-1h.1m0 9h-.1m0 5h.1m1-8h-.1m2 8h.1m0 5h-.1m0-19h.1m0 6h-.1m2-3h.1m4 8h-.1m0-4h.1m1 15h-.1m3-15h.1m2 7h-.1m2 3h.1m1-5h-.1m6 0h.1m1-12h-.1m4 3h.1m2 15h-.1m1-8h.1m1 0h-.1m2-9h.1m2 4h-.1m4 4h.1m0 18h-.1m2 3h.1m0-16h-.1m1 6h.1m0-7h-.1m1-10h.1m0 17h-.1m2-13h.1m1 8h-.1m1 2h.1m0-13h-.1m1 9h.1m1 9h-.1m0-11h.1m1 7h-.1m3-4h.1m2 0h-.1m0-2h.1m2 2h-.1m1 3h.1m1-8h-.1m1 20h.1m1-7h-.1m0-7h.1m1-7h-.1m1-5h.1m1 21h-.1m2-14h.1m0 2h-.1m0 1h.1m2 2h-.1m1-7h.1m2 18h-.1m3-22h.1m1 5h-.1m1 12h.1m0-17h-.1m1 2h.1m0 16h-.1m1 2h.1m1-10h-.1m1 3h.1m0-15h-.1m2 16h.1m1 11h-.1m1-13h.1m1 5h-.1m1-12h.1m1 20h-.1m1-16h.1m0-5h-.1m0 8h.1m2 3h-.1m2-16h.1m0 14h-.1m1 6h.1m0 6h-.1m1-25h.1m0-3h-.1m0 25h.1m1-27h-.1m0 22h.1m1 9h-.1m0-18h.1m0 13h-.1m6-14h.1m0-8h-.1m2 6h.1m0 19h-.1m1 3h.1m2-15h-.1m1-6h.1m1 3h-.1m1 11h.1m0-6h-.1m1-10h.1m0 22h-.1m1-21h.1m0 18h-.1m1-6h.1m0 4h-.1m1-13h.1m1 6h-.1m3 6h.1m0-8h-.1m2 14h.1m2-29h-.1m1 27h.1m2-2h-.1m1-27h.1m0 21h-.1m2 4h.1m2-5h-.1m1 3h.1m2 5h-.1m1 3h.1m3-13h-.1m3 1h.1m1 10h-.1m4-13h.1m0 9h-.1m2-3h.1m1 2h-.1m0-20h.1m0 27h-.1m1-5h.1m2-6h-.1m0-9h.1m1 8h-.1m0 8h.1m3-16h-.1m1 6h.1m3 0h-.1m4 4h.1m1-5h-.1m1 12h.1m1-13h-.1m1 2h.1m2 13h-.1m1-4h.1m0-18h-.1m3 7h.1m0-5h-.1m1-10h.1m1 27h-.1m1-3h.1m0 5h-.1m1-13h.1m1 6h-.1m0-18h.1m1 25h-.1m3-27h.1m2 4h-.1m0 3h.1m0 16h-.1m0 6h.1m2-15h-.1m1 4h.1m0 6h-.1m2-6h.1m2-4h-.1m3 8h.1m1-16h-.1m0-3h.1m1 14h-.1m1 2h.1m0 5h-.1m1-25h.1m1 22h-.1m0-4h.1m1-7h-.1m1-11h.1m0 3h-.1m1 6h.1m0 2h-.1m0-12h.1m2 3h-.1m0 12h.1m0-2h-.1m1-10h.1m0 24h-.1m1-6h.1m3-18h-.1m2 5h.1m2 6h-.1m1-4h.1m1-7h-.1m0 15h.1m0-4h-.1m1 13h.1m1 4h-.1m2-24h.1m1-5h-.1m1 24h.1m0-8h-.1m1-13h.1m0 11h-.1m1-12h.1m2 15h-.1m1-1h.1m0-2h-.1m1-4h.1m0 3h-.1m2 1h.1m1-16h-.1m2 12h.1m3 14h-.1m2-5h.1m0 6h-.1m0-8h.1m3 11h-.1m0-2h.1m3-21h-.1m0 24h.1m3-5h-.1m3-8h.1m0-7h-.1m1-9h.1m3 16h-.1m4-12h.1m0 13h-.1m2-13h.1m3-3h-.1m5 21h.1m3-5h-.1m7 10h.1m2-3h-.1m1-14h.1m3 10h-.1m0-19h.1m1 5h-.1m2 0h.1m2 16h-.1m1-17h.1m5 5h-.1m1-10h.1m2 29h-.1m0-28h.1m0 18h-.1m1-19h.1m0 12h-.1m0-14h.1m4 14h-.1m1 15h.1m1-7h-.1m1-3h.1m3-12h-.1m0-6h.1m1 1h-.1m4 3h.1m2-1h-.1m1 24h.1m2-27h-.1m0 26h.1m1-10h-.1m2-7h.1m0-5h-.1m1-3h.1m0 5h-.1m1 11h.1m1 10h-.1m3-9h.1m0-3h-.1m1-7h.1m1-9h-.1m2 9h.1m1 18h-.1m1-11h.1m0-5h-.1m3-7h.1m1-3h-.1m2 19h.1m1-12h-.1m3-4h.1m0 18h-.1m1 6h.1m0-23h-.1m1 25h.1m1-11h-.1m0-6h.1m0-3h-.1m4 12h.1m1-6h-.1m3 3h.1m1-14h-.1m1 8h.1m0 6h-.1m0-9h.1m2 7h-.1m1 5h.1m1 3h-.1m1 4h.1m0-6h-.1m1-23h.1m1 26h-.1m0-10h.1m1-9h-.1m1 17h.1m1-22h-.1m1 5h.1m1-6h-.1m1 10h.1m0-7h-.1m1 27h.1m1-27h-.1m0-1h.1m0 8h-.1m1 7h.1m1 5h-.1m0-1h.1m1-14h-.1m2 21h.1m0-25h-.1m0 4h.1m1 1h-.1m2 17h.1m2-14h-.1m0 7h.1m1 6h-.1m0 5h.1m1-18h-.1m1-2h.1m0 16h-.1m1-10h.1m3-12h-.1m0 6h.1m2 19h-.1m1-24h.1m3-1h-.1m0 22h.1m2 1h-.1m1-24h.1m0 2h-.1m1 5h.1m0 5h-.1m0 2h.1m2 10h-.1m0-20h.1m0 3h-.1m2 2h.1m1 0h-.1m1 10h.1m2-21h-.1m0 15h.1m2-13h-.1m1 11h.1m1 5h-.1m0-7h.1m0 9h-.1m0-21h.1m1 2h-.1m1 27h.1m1-14h-.1m1 1h.1m0 7h-.1m3-5h.1m3 0h-.1m0-8h.1m0 10h-.1m1 7h.1m2 3h-.1m0-21h.1m0 12h-.1m1-18h.1m0 18h-.1m1 2h.1m1 2h-.1m1-9h.1m2 8h-.1m0-13h.1m1-1h-.1m1 4h.1m1 9h-.1m0-11h.1m1 14h-.1m0-15h.1m1 17h-.1m1-5h.1m1-11h-.1m0 19h.1m0-24h-.1m1 20h.1m1-10h-.1m1 5h.1m3-12h-.1m1 20h.1m1-13h-.1m1 11h.1m0-9h-.1m1-11h.1m2 18h-.1m3 5h.1m0-20h-.1m3 21h.1m0-14h-.1m2-2h.1m1-13h-.1m4 17h.1m4 8h-.1m1-12h.1m0 6h-.1m1 9h.1m2-6h-.1m0 2h.1m1-5h-.1m0 9h.1m3-2h-.1m2-12h.1m0 5h-.1m1-2h.1m0 7h-.1m6 0h.1m3-6h-.1m6 9h.1m13 2h-.1m6-1h.1m3 0h-.1m111 31h.1m-4-10h-.1m-3 11h.1m0-2h-.1m-7-5h.1m-2-2h-.1m-1-4h.1m-1 12h-.1m-1-5h.1m-4 4h-.1m-2-5h.1m-3-7h-.1m0 2h.1m-2-7h-.1m0 5h.1m-1 9h-.1m-1 3h.1m-3-15h-.1m0 10h.1m-2-1h-.1m-2 4h.1m0-3h-.1m-2-4h.1m-2 7h-.1m-1-15h.1m-2 3h-.1m0-2h.1m-5 10h-.1m-1-7h.1m0-3h-.1m-2 15h.1m-1-8h-.1m-2-3h.1m0 4h-.1m0 7h.1m0-19h-.1m-2 9h.1m0-3h-.1m-1 5h.1m-2 10h-.1m-2-5h.1m-1-10h-.1m-4-8h.1m0 20h-.1m-2-9h.1m0 9h-.1m-2-10h.1m-1 2h-.1m-2 5h.1m-1-6h-.1m0 7h.1m-1-8h-.1m-2 1h.1m-2 13h-.1m-2-22h.1m-2 11h-.1m0 2h.1m-1 1h-.1m0-14h.1m-3 5h-.1m0 4h.1m-1 5h-.1m-2-12h.1m0 16h-.1m-1-18h.1m0 16h-.1m-1 5h.1m0-18h-.1m-2 2h.1m-1-9h-.1m-1 3h.1m-1 16h-.1m0-8h.1m0-1h-.1m0 15h.1m-2-26h-.1m-1 18h.1m0-1h-.1m-2-13h.1m0 1h-.1m-1 10h.1m-1-5h-.1m-2-13h.1m-2 9h-.1m-1 4h.1m-1 3h-.1m-1-6h.1m-1 6h-.1m0-2h.1m-1 11h-.1m0-17h.1m-1 21h-.1m0-1h.1m-2-17h-.1m-3 16h.1m0-20h-.1m-2-3h.1m-1 16h-.1m-1-16h.1m-2 20h-.1m-2-23h.1m-1 16h-.1m0-18h.1m0 24h-.1m-5-8h.1m0-11h-.1m0 2h.1m0 17h-.1m-1-5h.1m-1 1h-.1m0-9h.1m-2 18h-.1m-1-13h.1m-2 7h-.1m-2-11h.1m0 7h-.1m-1 3h.1m0 3h-.1m-2-16h.1m-1 3h-.1m0 14h.1m0-9h-.1m0-6h.1m-3-8h-.1m-2 16h.1m0-7h-.1m-1 12h.1m-1-5h-.1m-2-15h.1m0 4h-.1m-4-6h.1m0 17h-.1m0-7h.1m-2 4h-.1m0 8h.1m-2 2h-.1m-1-25h.1m0 24h-.1m-2-7h.1m-1 3h-.1m-1-14h.1m0 18h-.1m-1-11h.1m-1 4h-.1m-1-13h.1m-1 5h-.1m-1 4h.1m-2 18h-.1m-1-28h.1m0 18h-.1m-1-12h.1m-2 21h-.1m-1-21h.1m0-9h-.1m0 12h.1m-1-8h-.1m-2 0h.1m0 4h-.1m-1 16h.1m-1-19h-.1m-2 17h.1m-1-2h-.1m-1-14h.1m0 16h-.1m-8-1h.1m-3-13h-.1m-1-5h.1m-1 7h-.1m-1 0h.1m-3 4h-.1m0-12h.1m-1 5h-.1m0-4h.1m-3 11h-.1m-2-11h.1m-2 18h-.1m-1-9h.1m-3-10h-.1m-4-2h.1m-2 4h-.1m-3 20h.1m-3-17h-.1m0 12h.1m-4 5h-.1m-4 0h.1m-1-2h-.1m-3 2h.1m-6-15h-.1m-2 13h.1m-2 5h-.1m-1-3h.1m-3-22h-.1m-2 29h.1m0-18h-.1m-3 5h.1m-7-16h-.1m-2 11h.1m-5-10h-.1m-6 25h.1m-1-18h-.1m-2-7h.1m-5-4h-.1m-2 9h.1m0 11h-.1m-1-16h.1m-4 14h-.1m0 10h.1m-1-16h-.1m-2-8h.1m0 25h-.1m-1-4h.1m-3-6h-.1m-2-18h.1m-2 2h-.1m-5 2h.1m-4 24h-.1m0-8h.1m0-11h-.1m0-7h.1m-3-3h-.1m-1 24h.1m-3 2h-.1m-12-15h.1m0-3h-.1m-2 23h.1m-5-4h-.1m0-21h.1m0 12h-.1m-3 13h.1m-1-17h-.1m0 14h.1m-8-2h-.1m-2-11h.1m0 13h-.1m-2 3h.1m-1-26h-.1m-1 13h.1m-4 10h-.1m0-16h.1m-1-6h-.1m-1 9h.1m0-7h-.1m-2 23h.1m-2-18h-.1m-2-4h.1m-1 22h-.1m0-28h.1m-1 24h-.1m0-7h.1m-2-2h-.1m-2 6h.1m0-20h-.1m-1 25h.1m-2-4h-.1m-1-11h.1m0 9h-.1m-4 3h.1m-1-24h-.1m-1 4h.1m-2 11h-.1m-1-8h.1m-1-7h-.1m0 19h.1m-1 10h-.1m-1-26h.1m0-2h-.1m-2 17h.1m0 10h-.1m0-5h.1m0-21h-.1m0 2h.1m-1 19h-.1m-1-18h.1m0 9h-.1m-4 13h.1m-1-23h-.1m-1 17h.1m-2 4h-.1m0-19h.1m-3 12h-.1m0 5h.1m-4-21h-.1m0-3h.1m-1 27h-.1m-1-5h.1m0-4h-.1m-1-11h.1m0 22h-.1m-1-2h.1m-1-21h-.1m0 6h.1m-1 3h-.1m0-13h.1m-1 20h-.1m-1 8h.1m0-30h-.1m0 19h.1m0-13h-.1m0 11h.1m-1-14h-.1m-1 11h.1m0-7h-.1m-3 9h.1m-2 10h-.1m-1-10h.1m-1-7h-.1m-1-4h.1m-1 21h-.1m0-4h.1m-1-3h-.1m-1-2h.1m-1-18h-.1m-1 16h.1m-3-10h-.1m-2 6h.1m0-6h-.1m-2 15h.1m-1-20h-.1m-2 14h.1m-2-3h-.1m-2-5h.1m-1-6h-.1m-9 0h.1m-8 25h-.1m-3-26h.1m-7 21h-.1m-1-9h.1m-5-11h-.1m-1 4h.1m-3 16h-.1m-1-19h.1m-1 28h-.1m-2-29h.1m-1 7h-.1m-5 1h.1m0-7h-.1m-9 3h.1m-2 4h-.1m-5 4h.1m0-10h-.1m-5 3h.1m-19 24h-.1m-7-18h.1m-11 9h-.1m8 21h.1m19-8h-.1m28 7h.1m19-6h-.1m16-2h.1m38-1h-.1m3 1h.1m0 2h-.1m3 5h.1m5 5h-.1m2-3h.1m3 2h-.1m1-6h.1m3 0h-.1m3 1h.1m3-7h-.1m1 0h.1m6 13h-.1m8-10h.1m0 14h-.1m4 3h.1m0-20h-.1m2 7h.1m2-3h-.1m0 18h.1m1-16h-.1m0-5h.1m5 8h-.1m1-3h.1m1-1h-.1m0 9h.1m1-13h-.1m1 8h.1m1 6h-.1m1 8h.1m0-5h-.1m1-10h.1m1 6h-.1m2 6h.1m1-2h-.1m3 6h.1m4 0h-.1m1-19h.1m0 3h-.1m2 4h.1m0-9h-.1m1 3h.1m2-2h-.1m0 10h.1m0 4h-.1m1-13h.1m2 7h-.1m1-3h.1m2 6h-.1m2-7h.1m4-3h-.1m0 11h.1m7 12h-.1m1-13h.1m1-3h-.1m1 11h.1m1-17h-.1m1-5h.1m3 7h-.1m4 2h.1m0 5h-.1m1 6h.1m0-11h-.1m0-2h.1m0-6h-.1m1 9h.1m0-2h-.1m1-7h.1m1 24h-.1m2-24h.1m2 12h-.1m1 2h.1m2-7h-.1m1 14h.1m0-3h-.1m2-2h.1m1 3h-.1m0-14h.1m1 21h-.1m1-11h.1m1-5h-.1m1 18h.1m0-4h-.1m1-9h.1m1 4h-.1m0-13h.1m3-3h-.1m0 22h.1m1-13h-.1m0 14h.1m1-14h-.1m1 17h.1m2-21h-.1m0 2h.1m3 14h-.1m0-12h.1m0-8h-.1m1 16h.1m3-18h-.1m1 19h.1m0-9h-.1m1-6h.1m2 1h-.1m5 18h.1m1-19h-.1m0 10h.1m5 6h-.1m1 6h.1m2-15h-.1m1 14h.1m1-13h-.1m1-2h.1m4 18h-.1m1-19h.1m2 15h-.1m0-4h.1m3-22h-.1m0 16h.1m1 6h-.1m1-5h.1m0-6h-.1m1 17h.1m1-4h-.1m0-13h.1m2 16h-.1m1-19h.1m1 16h-.1m0-9h.1m2-1h-.1m1 7h.1m2-15h-.1m1 22h.1m3-20h-.1m0 14h.1m2 7h-.1m0-16h.1m2 11h-.1m1-8h.1m2 11h-.1m1-18h.1m3 13h-.1m1 2h.1m3 5h-.1m3-6h.1m0 3h-.1m1-23h.1m1 27h-.1m2-14h.1m1 4h-.1m6 5h.1m9-27h-.1m1 9h.1m3 2h-.1m5 3h.1m0 11h-.1m3-15h.1m1 13h-.1m1-19h.1m2 10h-.1m3 6h.1m1-10h-.1m7 17h.1m1-19h-.1m0 16h.1m2 5h-.1m5-6h.1m7 7h-.1m2-22h.1m2-7h-.1m3 11h.1m8-8h-.1m1 12h.1m15 9h-.1m2-19h.1m2 24h-.1m2-30h.1m1 26h-.1m1-13h.1m4-12h-.1m2 14h.1m0-2h-.1m1-2h.1m4-9h-.1m0 6h.1m0-7h-.1m0 10h.1m2 9h-.1m4 3h.1m0-13h-.1m1-6h.1m1 28h-.1m0-7h.1m1-16h-.1m1 17h.1m7-5h-.1m2 6h.1m0-8h-.1m2 1h.1m0 2h-.1m1-12h.1m1 14h-.1m1-1h.1m1-5h-.1m1-10h.1m1-8h-.1m1 20h.1m0-5h-.1m1-12h.1m1 19h-.1m0-8h.1m1-10h-.1m0 15h.1m1-12h-.1m0 6h.1m2 8h-.1m0-7h.1m2-13h-.1m1 0h.1m0 25h-.1m1-18h.1m0 6h-.1m0 4h.1m1-5h-.1m2 16h.1m0-17h-.1m3-2h.1m3-4h-.1m0 6h.1m0-7h-.1m0 26h.1m1-21h-.1m0 4h.1m1 17h-.1m4-2h.1m1-2h-.1m0-27h.1m2 7h-.1m0-4h.1m1 26h-.1m0 2h.1m1-18h-.1m0-12h.1m0 5h-.1m2 22h.1m0-5h-.1m2-20h.1m1 20h-.1m0-9h.1m2 15h-.1m1-22h.1m0 17h-.1m1 6h.1m2-20h-.1m2 4h.1m0 8h-.1m1-22h.1m1 16h-.1m0-12h.1m1 4h-.1m0 17h.1m2-16h-.1m0 13h.1m1-22h-.1m0 2h.1m1 4h-.1m1-4h.1m1 13h-.1m1-7h.1m1 10h-.1m1-17h.1m0 10h-.1m2 17h.1m1-2h-.1m0-23h.1m1 11h-.1m1-2h.1m1-3h-.1m1-9h.1m3 6h-.1m1 15h.1m3 1h-.1m2-7h.1m0-8h-.1m0 13h.1m1-19h-.1m2 24h.1m0 4h-.1m0-13h.1m1-11h-.1m1 9h.1m1-11h-.1m1 10h.1m1 17h-.1m2 1h.1m4 0h-.1m0-30h.1m0 5h-.1m1 4h.1m1-3h-.1m0-3h.1m0 16h-.1m1 11h.1m0-7h-.1m1-6h.1m0 8h-.1m1-19h.1m0 14h-.1m0 5h.1m3-9h-.1m2 11h.1m1-12h-.1m1-10h.1m2 17h-.1m0-12h.1m1 9h-.1m0 11h.1m2-3h-.1m0-8h.1m1-6h-.1m1 12h.1m1-11h-.1m0 14h.1m1-14h-.1m0-7h.1m1-4h-.1m1 19h.1m1-8h-.1m2 11h.1m1-17h-.1m2 18h.1m0-14h-.1m2 4h.1m1 6h-.1m5-5h.1m1 11h-.1m0-2h.1m1-16h-.1m5 17h.1m4 1h-.1m3-3h.1m21 4h-.1m34 32h.1m-11-4h-.1m-6-14h.1m0 16h-.1m0-11h.1m-1 1h-.1m-3 2h.1m-4-5h-.1m0 16h.1m0-4h-.1m-2-15h.1m-1 16h-.1m0-2h.1m0-13h-.1m-1 11h.1m0-18h-.1m-1 21h.1m-1-4h-.1m-2-20h.1m-1 16h-.1m-2-6h.1m-1 17h-.1m-1-19h.1m-7-1h-.1m-1 11h.1m0-2h-.1m-1-2h.1m-1-8h-.1m-3-6h.1m0 29h-.1m0-18h.1m-2-13h-.1m-1 18h.1m0-3h-.1m-2-3h.1m0-4h-.1m-2 7h.1m-2 15h-.1m-1-29h.1m-2 24h-.1m-3 0h.1m-2-11h-.1m0-2h.1m-1 5h-.1m-3-5h.1m-1 2h-.1m0 14h.1m-1-25h-.1m0 23h.1m0 4h-.1m-1-6h.1m-1-13h-.1m-2-11h.1m-1 7h-.1m-1 21h.1m-1-9h-.1m0-20h.1m-1 5h-.1m-1 17h.1m-2-5h-.1m-1 3h.1m-1-16h-.1m0 27h.1m-2-16h-.1m0-8h.1m0 10h-.1m-1-8h.1m-2-5h-.1m0 12h.1m-1-16h-.1m0 31h.1m-1-16h-.1m0-14h.1m-1 2h-.1m-1 26h.1m0-9h-.1m-1-4h.1m-5 5h-.1m-1-20h.1m-2 11h-.1m0 10h.1m-1 7h-.1m-1-6h.1m0-19h-.1m-2 17h.1m0-3h-.1m-1 8h.1m0 1h-.1m-1-18h.1m-4-8h-.1m-1 11h.1m0-7h-.1m-2 18h.1m-2-19h-.1m-2-4h.1m-1 14h-.1m0 14h.1m-2 0h-.1m-1-21h.1m-1 13h-.1m-2-16h.1m0-2h-.1m0-2h.1m-1 16h-.1m-2 15h.1m-2-7h-.1m-3-5h.1m0-15h-.1m-2 17h.1m-2 0h-.1m-2-8h.1m-1-12h-.1m-3 28h.1m-1-21h-.1m-1 3h.1m-2 6h-.1m-5 7h.1m0-22h-.1m0 12h.1m-1-13h-.1m-4 11h.1m-1 12h-.1m-1-14h.1m-1-7h-.1m-1 20h.1m-4-3h-.1m-6-19h.1m-5 9h-.1m-4 5h.1m-9-12h-.1m-5 10h.1m-1 4h-.1m-8 9h.1m-9-11h-.1m-2-5h.1m-2 3h-.1m-1 15h.1m-3-8h-.1m-2-13h.1m-2 19h-.1m0-5h.1m-6 6h-.1m-4-23h.1m-2 27h-.1m-8-24h.1m-1 25h-.1m-2-3h.1m-2 3h-.1m0-6h.1m-1 3h-.1m-1-8h.1m0 11h-.1m-5-9h.1m0-20h-.1m-1 24h.1m0-27h-.1m-1 21h.1m-2 2h-.1m-3-2h.1m0 5h-.1m-2-20h.1m0 9h-.1m0 12h.1m-1-14h-.1m0 7h.1m-3-6h-.1m0-9h.1m-1 2h-.1m-6 14h.1m-3 6h-.1m0-22h.1m-1-2h-.1m0 17h.1m0-4h-.1m-1-14h.1m-2-1h-.1m0 14h.1m-1-2h-.1m-1 13h.1m0-4h-.1m-2-10h.1m-1 18h-.1m0-27h.1m-1 12h-.1m0 6h.1m-1-4h-.1m0-9h.1m-1 18h-.1m0-20h.1m-2 0h-.1m-1 10h.1m-1 4h-.1m0-2h.1m-1-4h-.1m-2 12h.1m0 1h-.1m-1 4h.1m-1-25h-.1m0-3h.1m-1 2h-.1m0 25h.1m0-30h-.1m-1 15h.1m0-13h-.1m-2 16h.1m-1-18h-.1m0 8h.1m-1 13h-.1m-1-18h.1m-1 17h-.1m-2-9h.1m-2-2h-.1m-1 6h.1m-1 17h-.1m-1-16h.1m-1 4h-.1m-1-4h.1m-3-11h-.1m0 15h.1m0-2h-.1m-3 5h.1m0-12h-.1m-2-2h.1m-1 11h-.1m0-14h.1m-2-2h-.1m0 14h.1m0-5h-.1m-1-8h.1m-1 17h-.1m-1 4h.1m-1-5h-.1m0-11h.1m0 6h-.1m-3 9h.1m-2-2h-.1m0-20h.1m-4 4h-.1m-1 20h.1m-1-15h-.1m-1-1h.1m-2 14h-.1m0-25h.1m0 3h-.1m0 14h.1m-2-9h-.1m-1 22h.1m-2-11h-.1m-1-17h.1m-2 8h-.1m0 19h.1m-1-23h-.1m-2 8h.1m-1-9h-.1m0 13h.1m-2-17h-.1m-2 27h.1m-1-15h-.1m0-10h.1m-2 15h-.1m0-8h.1m-1 1h-.1m-4 1h.1m-1 7h-.1m0-15h.1m-2-3h-.1m-1 19h.1m-2-6h-.1m0 8h.1m-1-6h-.1m0 2h.1m-4-16h-.1m-1 5h.1m-4 3h-.1m-2-7h.1m-4 2h-.1m-2 2h.1m-3-1h-.1m-1 4h.1m-1-10h-.1m0 6h.1m0-3h-.1m-2 8h.1m-4-7h-.1m-2 3h.1m-24-7h-.1m93 38h.1m6-4h-.1m3-1h.1m5 4h-.1m1 2h.1m4 6h-.1m3-1h.1m3-3h-.1m2 6h.1m1-9h-.1m4 5h.1m0 2h-.1m2-6h.1m1-5h-.1m0 13h.1m0 7h-.1m2-3h.1m1 2h-.1m1-20h.1m2 18h-.1m0-11h.1m4 11h-.1m0-12h.1m2 3h-.1m1 12h.1m2 0h-.1m0-7h.1m0 2h-.1m1-6h.1m1 7h-.1m0 9h.1m3-10h-.1m1 7h.1m2-15h-.1m1 10h.1m4 4h-.1m0-18h.1m2-1h-.1m3 22h.1m1-23h-.1m2 16h.1m2-11h-.1m1-3h.1m1 6h-.1m0-1h.1m1 9h-.1m1 5h.1m1-10h-.1m1 6h.1m0-17h-.1m1 16h.1m0 3h-.1m1-15h.1m0 7h-.1m0 11h.1m3-18h-.1m0 2h.1m1 9h-.1m1 3h.1m1-13h-.1m1 17h.1m2-14h-.1m4-4h.1m0 19h-.1m2-21h.1m1 12h-.1m0-6h.1m2 17h-.1m1-21h.1m2-1h-.1m1 11h.1m1-5h-.1m1 20h.1m0-18h-.1m1 9h.1m0-2h-.1m1-9h.1m1-11h-.1m1 16h.1m1-7h-.1m0 3h.1m1 15h-.1m1-4h.1m2-8h-.1m1-10h.1m1 13h-.1m2 1h.1m0-16h-.1m1 17h.1m0-19h-.1m2 10h.1m2 2h-.1m1-1h.1m1 8h-.1m1-4h.1m2-16h-.1m0 8h.1m2 11h-.1m1-2h.1m2-3h-.1m2 15h.1m0-10h-.1m1-3h.1m1 12h-.1m1-5h.1m0-9h-.1m1 11h.1m0-11h-.1m0-7h.1m1-7h-.1m0 25h.1m1-2h-.1m3-5h.1m2 2h-.1m4 7h.1m0-28h-.1m1 24h.1m2-8h-.1m2-5h.1m2-1h-.1m1 6h.1m2 7h-.1m1-5h.1m3 8h-.1m2-10h.1m0-6h-.1m1 3h.1m0 16h-.1m2-23h.1m3 20h-.1m1-21h.1m0 20h-.1m1 2h.1m3-13h-.1m2 4h.1m4-6h-.1m0 19h.1m3-15h-.1m6-8h.1m5 23h-.1m2-20h.1m3 13h-.1m1-17h.1m2 15h-.1m2-7h.1m0-12h-.1m3 13h.1m1 15h-.1m3-7h.1m1-18h-.1m8 7h.1m3-8h-.1m16 14h.1m0-19h-.1m4 8h.1m1 13h-.1m2-8h.1m0-6h-.1m1 12h.1m3-13h-.1m2 3h.1m3 7h-.1m4 1h.1m0-16h-.1m1 6h.1m1-2h-.1m0 6h.1m0-9h-.1m4 0h.1m1 9h-.1m1-9h.1m0 7h-.1m0 6h.1m2-13h-.1m1 3h.1m1-1h-.1m3 7h.1m3-7h-.1m4 2h.1m4 3h-.1m4-4h.1m4-2h-.1m5 10h.1m3-4h-.1m6 3h.1m3-4h-.1m1-4h.1m2-2h-.1m5 12h.1m4-11h-.1m1 9h.1m5 4h-.1m3-7h.1m0-2h-.1m5 7h.1m3-8h-.1m4-4h.1m6 9h-.1m2-2h.1m6-3h-.1m6 4h.1m1342 50h-.1m-27 3h.1m-8-3h-.1m-7 4h.1m-1466-30h-.1m-9 4h.1m-2-2h-.1m-6-2h.1m-6 2h-.1m-7-2h.1m-4 5h-.1m-8-5h.1m-7-1h-.1m1487 48h.1m1 3h-.1m7 2h.1m2 4h-.1m0-2h.1m2-15h-.1m1 4h.1m0 12h-.1m1-22h.1m2 7h-.1m0 2h.1m1 14h-.1m1 3h.1m0-21h-.1m0 11h.1m0 8h-.1m1-10h.1m3 12h-.1m1-13h.1m0 3h-.1m1-5h.1m1 15h-.1m0-3h.1m1-18h-.1m0-1h.1m1 9h-.1m0-5h.1m1-2h-.1m0 12h.1m0-9h-.1m1 11h.1m2-7h-.1m0 14h.1m0-30h-.1m2 7h.1m1 8h-.1m0-14h.1m0 9h-.1m2-7h.1m3 9h-.1m1 8h.1m0-15h-.1m1 12h.1m1-8h-.1m2 6h.1m1 15h-.1m0-17h.1m0 7h-.1m2-7h.1m1 4h-.1m0-8h.1m0 20h-.1m2-16h.1m0 4h-.1m1-3h.1m0 11h-.1m0-1h.1m3-1h-.1m0-14h.1m1 1h-.1m1 8h.1m0-6h-.1m2 5h.1m0 6h-.1m0 7h.1m1-16h-.1m0-2h.1m0 7h-.1m1-19h.1m0 10h-.1m0 15h.1m1-18h-.1m4 11h.1m4 11h-.1m1-8h.1m0-16h-.1m0-2h.1m0 9h-.1m0-2h.1m3 8h-.1m1 6h.1m0-3h-.1m0-13h.1m2-3h-.1m1 16h.1m1-4h-.1m0-4h.1m0 12h-.1m1 2h.1m1-22h-.1m0 12h.1m4 6h-.1m1-12h.1m1 5h-.1m15-5h.1m38 12h-.1m5-5h.1m53 3h-.1m8-3h.1m2 6h-.1m6-7h.1m4-5h-.1m0 10h.1m9-11h-.1m4 9h.1m8-4h-.1m2 14h.1m11-8h-.1m6-6h.1m4 6h-.1m7-4h.1m6-4h-.1m2 8h.1m6-6h-.1m7-4h.1m0 7h-.1m8-4h.1m4-4h-.1m6 5h.1m5-15h-.1m2 17h.1m2-8h-.1m6-5h.1m-92 30h-.1m-142 17h.1m-1-12h-.1m-5-8h.1m-1 14h-.1m-1-4h.1m-1 16h-.1m-1-5h.1m-1-8h-.1m0-8h.1m0-2h-.1m-2 1h.1m-2 14h-.1m-2-9h.1m0 19h-.1m-1-8h.1m0-3h-.1m-1-9h.1m-1-2h-.1m0 6h.1m-2 5h-.1m-1-2h.1m-2-8h-.1m0-2h.1m-2 11h-.1m0-4h.1m-3 7h-.1m0-11h.1m-1-5h-.1m0 16h.1m-1-17h-.1m0 12h.1m-2-5h-.1m-3 10h.1m-1-5h-.1m0 7h.1m-1-9h-.1m-3-11h.1m0 7h-.1m0 6h.1m0 4h-.1m-1-8h.1m-1 12h-.1m-2-10h.1m-1-2h-.1m0 4h.1m-2-5h-.1m0 6h.1m-1-10h-.1m-3-4h.1m-1 9h-.1m-1-9h.1m-2 19h-.1m-1-18h.1m0 10h-.1m-1-11h.1m0 6h-.1m-1-4h.1m-5-1h-.1m-1 7h.1m-6-6h-.1m-4-3h.1m-1 8h-.1"/>
<path stroke="#E65367" d="M1603 424h.1m-17 0h-.1m-11 21h.1m-220 13h-.1m15-5h.1m82-1h-.1m5 21h.1m36-22h-.1m17 26h.1m17-5h-.1m13-6h.1m39-2h-.1m19 0h.1m111 1h-.1m80 40h.1m-11-1h-.1m-3-16h.1m-175-2h-.1m-3 15h.1m-67 0h-.1m-20 8h.1m-46-26h-.1m-23 1h.1m-21 27h-.1m-48-29h.1m-60 23h-.1m-11-13h.1m-127 38h-.1m11 1h.1m11 12h-.1m126-13h.1m38-7h-.1m24 13h.1m46-2h-.1m5-10h.1m114 18h-.1m5-12h.1m1 4h-.1m9 3h.1m42-2h-.1m37-22h.1m38 13h-.1m2-4h.1m57 21h-.1m20-25h.1m13 14h-.1m12-6h.1m22 14h-.1m33-27h.1m51 17h-.1m6-7h.1m13 4h-.1m45-7h.1m75-3h-.1m80 59h.1m-165-5h-.1m-33-9h.1m-77-9h-.1m-138-2h.1m-9 19h-.1m-9-11h.1m-132-6h-.1m-10 10h.1m-51 6h-.1m-20-25h.1m-23 25h-.1m-9-14h.1m-13-2h-.1m-24 20h.1m-55-14h-.1m-115 10h.1m-49-14h-.1m6 21h.1m30 19h-.1m19 2h.1m49 6h-.1m23-23h.1m96 8h-.1m100 16h.1m4 1h-.1m11-1h.1m152-1h-.1m46-12h.1m82 4h-.1m18-13h.1m38 3h-.1m12 13h.1m4 7h-.1m29-24h.1m194 42h-.1m-308-6h.1m-34 15h-.1m-13-5h.1m-80-10h-.1m-54 0h.1m-74 7h-.1m-41 1h.1m-31-12h-.1m-69 2h.1m-20 2h-.1m-14 16h.1m-4-11h-.1m-74 7h.1m-13-20h-.1m-7 25h.1m-28-15h-.1m-12-6h.1m-5 11h-.1m0-10h.1m-17 19h-.1m-23-22h.1m-13 9h-.1m-52 12h.1m2 37h-.1m14-3h.1m74-9h-.1m23 14h.1m21-9h-.1m4 7h.1m51 1h-.1m19-8h.1m24 4h-.1m4-12h.1m10-11h-.1m72 12h.1m27-14h-.1m7 1h.1m77 14h-.1m37 0h.1m12-11h-.1m20 20h.1m27-13h-.1m5-8h.1m14 0h-.1m17 14h.1m15 12h-.1m3-9h.1m23 9h-.1m54-17h.1m44-10h-.1m199 13h.1m135-6h-.1m29 53h.1m-261-25h-.1m-26-1h.1m-17 22h-.1m-79-11h.1m-15-15h-.1m-59 24h.1m-94 3h-.1m-1-21h.1m-18 12h-.1m-42 9h.1m-3-12h-.1m-1-10h.1m-53 9h-.1m-26 1h.1m-13-5h-.1m-12 4h.1m-18 2h-.1m-36 12h.1m-181-14h-.1m-9 13h.1m-7-3h-.1m-149-19h.1m-6-3h-.1m-18 47h.1m31-7h-.1m33 14h.1m88-3h-.1m39 7h.1m46-21h-.1m32 23h.1m39-30h-.1m42 2h.1m26 3h-.1m16 9h.1m5 17h-.1m40-32h.1m5 22h-.1m82-10h.1m39 11h-.1m69 7h.1m32-27h-.1m12 15h.1m3-9h-.1m67 11h.1m29 5h-.1m4-24h.1m13 24h-.1m108-13h.1m8 16h-.1m175-16h.1m13 3h-.1m22 30h.1m-14 9h-.1m-46 1h.1m-32-5h-.1m-15-1h.1m-39 7h-.1m-20-13h.1m-28-9h-.1m-128 22h.1m-12 4h-.1m-10-7h.1m-1 7h-.1m-189-7h.1m-25-15h-.1m-72 5h.1m-9 9h-.1m-61-2h.1m-4 11h-.1m-20-13h.1m-1 9h-.1m-7-18h.1m-60 10h-.1m-106 5h.1m-24 1h-.1m-11 2h.1m-3-4h-.1m-62 4h.1m-70-23h-.1m-1 19h.1m-6 2h-.1m0-6h.1m-6 5h-.1m-19 1h.1m-11-2h-.1m77 26h.1m10-1h-.1m20-12h.1m28 4h-.1m7 2h.1m54 6h-.1m109 17h.1m0-23h-.1m59 13h.1m14-8h-.1m49 4h.1m79 9h-.1m10-11h.1m16 3h-.1m4-14h.1m5 14h-.1m36-15h.1m15 27h-.1m9-9h.1m5-17h-.1m10 9h.1m302-12h-.1m5 24h.1m27 38h-.1m-166-3h.1m-80 1h-.1m-102-19h.1m-49 15h-.1m-7-13h.1m-27-9h-.1m-59 28h.1m-27-28h-.1m-57 4h.1m-26 20h-.1m0-23h.1m-24 24h-.1m-37 3h.1m-45-24h-.1m-76-2h.1m-8 27h-.1m-29-23h.1m-8 8h-.1m-15-3h.1m-28 5h-.1m-11 7h.1m-21-8h-.1m-6-15h.1m-39 12h-.1m-17 22h.1m137 20h-.1m17-23h.1m0 7h-.1m1-3h.1m71-4h-.1m3 9h.1m37 5h-.1m3-11h.1m43 20h-.1m9 0h.1m156 5h-.1m172-24h.1m97 0h-.1m22 17h.1m18 9h-.1m101-25h.1m106 55h-.1m-44-16h.1m-165 10h-.1m-268 6h.1m-10 1h-.1m-7-9h.1m-65 9h-.1m-138-16h.1m-30-4h-.1m-2-10h.1m-210 14h-.1m24 26h.1m10 14h-.1m311-11h.1m104-8h-.1m160-1h.1m106 12h-.1m43-9h.1m134 7h-.1m42 30h.1m-155 9h-.1m-62 0h.1m-120-1h-.1m-22-12h.1m-234 15h-.1m-74-18h.1m49 40h-.1m274-7h.1m110 22h-.1m18-15h.1m0-8h-.1m18 15h.1m142 31h-.1m-8 11h.1m-59-12h-.1m-180 15h.1m-67 6h-.1m28 14h.1m211-15h-.1m81 10h.1m-225 32h-.1m-154 10h.1m-3 6h-.1m-4-8h.1m-13 2h-.1m-20 4h.1m-12-21h-.1m-3 15h.1m-2-6h-.1m-11 7h.1m-6-8h-.1m-4 13h.1m-22 33h-.1m9-10h.1m6-1h-.1m22-5h.1m6-1h-.1m21-12h.1m0 31h-.1m14-12h.1m6 12h-.1m78-20h.1m63 0h-.1m79 13h.1m394 37h-.1m-199-19h.1m-155 6h-.1m-168 3h.1m-106 6h-.1m-28-21h.1m-16 9h-.1m-3-6h.1m-14 24h-.1m12 13h.1m1-9h-.1m2-3h.1m24 9h-.1m47-5h.1m73 8h-.1m5-2h.1m147 3h-.1m163-5h.1m198-4h-.1m65 20h.1m131 34h-.1m-7-19h.1m-36 13h-.1m-52-9h.1m-4 12h-.1m-84-16h.1m-94-3h-.1m-93 46h.1m106-7h-.1m87 3h.1m4 1h-.1m12-12h.1m18 26h-.1m12-28h.1m10 17h-.1m34 5h.1m12-20h-.1m11 1h.1m31 10h-.1m51 4h.1m51-14h-.1m28 41h.1m-5 9h-.1m0 2h.1m-101-8h-.1m-17-2h.1m-24-4h-.1m-28 1h.1m-3 14h-.1m-32-12h.1m-8 9h-.1m-1-5h.1m-13 0h-.1m-23-8h.1m-20-8h-.1m-37 7h.1m-41-7h-.1m-8 11h.1m-44 4h-.1m-26 7h.1m-5-14h-.1m-30 21h.1m-56-20h-.1m-20 7h.1m-129 38h-.1m7 7h.1m77-22h-.1m23-2h.1m6 18h-.1m47-22h.1m45 14h-.1m1-16h.1m27 23h-.1m10 6h.1m12-4h-.1m72-13h.1m64-10h-.1m23-1h.1m28 16h-.1m21-11h.1m18 5h-.1m30 19h.1m35-6h-.1m11-7h.1m32-5h-.1m15-6h.1m17 3h-.1m32 15h.1m3-9h-.1m83 3h.1m16 0h-.1m3-2h.1m28 38h-.1m-12 0h.1m-12 3h-.1m-3-19h.1m-9 16h-.1m-78 1h.1m-8 3h-.1m-7-3h.1m0-2h-.1m0-10h.1m-33 9h-.1m-16 3h.1m-55-20h-.1m-15 1h.1m-44 25h-.1m-14-20h.1m-11 15h-.1m-35-7h.1m-13 7h-.1m-2-17h.1m-75 2h-.1m-9-4h.1m-58 17h-.1m-100-18h.1m-3 25h-.1m0-24h.1m-11 14h-.1m-1-4h.1m-102 13h-.1m-11 1h.1m-11-2h-.1m-5 1h.1m-24-11h-.1m-10 45h.1m25-29h-.1m8 23h.1m3 0h-.1m132-16h.1m2 1h-.1m37 21h.1m15-27h-.1m15 23h.1m19-14h-.1m8-6h.1m1 11h-.1m69-16h.1m28 22h-.1m17 8h.1m0-27h-.1m38 17h.1m29-20h-.1m5 27h.1m149-5h-.1m3-11h.1m17 6h-.1m33-4h.1m7-7h-.1m26 5h.1m3-3h-.1m14 4h.1m37 4h-.1m159 45h.1m-40-24h-.1m-84 15h.1m-62 7h-.1m-13-26h.1m-138 3h-.1m-3-6h.1m-8 17h-.1m-97 5h.1m-26 3h-.1m-26-7h.1m-7 2h-.1m-2 9h.1m-15-17h-.1m-29 5h.1m-77-11h-.1m-45 1h.1m-30-1h-.1m-1 8h.1m-33 3h-.1m-60 9h.1m-30-19h-.1m-6 4h.1m-23 1h-.1m-7-8h.1m0 14h-.1m-3-5h.1m-47-9h-.1m-19 57h.1m6 0h-.1m2-17h.1m7 8h-.1m20 12h.1m62-10h-.1m87 1h.1m3-1h-.1m9-5h.1m11 3h-.1m29-5h.1m5-9h-.1m44-5h.1m48 17h-.1m19-13h.1m23 21h-.1m13-25h.1m38 18h-.1m0 1h.1m17-20h-.1m8 7h.1m44-7h-.1m0 19h.1m5-14h-.1m12-3h.1m7 15h-.1m22 10h.1m89 2h-.1m10-6h.1m19-11h-.1m15 4h.1m37-12h-.1m63 12h.1m3 5h-.1m114-11h.1m26 0h-.1m7 20h.1m8-12h-.1m35 15h.1m-64 9h-.1m-89 13h.1m-83 4h-.1m-36-10h.1m-11 12h-.1m-13-11h.1m-40 0h-.1m-23-2h.1m-30 6h-.1m-45 7h.1m-28-11h-.1m-4-7h.1m-16 12h-.1m-33-4h.1m-29 7h-.1m-17-18h.1m-18 21h-.1m-16-4h.1m-7-8h-.1m-18-15h.1m-47 20h-.1m-21-17h.1m-6 10h-.1m-42 6h.1m-33-18h-.1m-10 3h.1m-2 22h-.1m-18-12h.1m-52-15h-.1m-29 24h.1m-3-24h-.1m-61 23h.1m-39 5h-.1m-1-8h.1m23 17h-.1m30 17h.1m8 2h-.1m196-14h.1m36 21h-.1m19-22h.1m19-4h-.1m15-6h.1m17 7h-.1m27-2h.1m41 14h-.1m83-7h.1m64 11h-.1m19-17h.1m12 19h-.1m24-24h.1m12 9h-.1m10 11h.1m3 7h-.1m121-20h.1m64-7h-.1m28 34h.1m-91 2h-.1m-18 16h.1m-25 8h-.1m-20-10h.1m-2-4h-.1m-46-10h.1m-18 4h-.1m-52-9h.1m-24 15h-.1m-18 6h.1m-57-10h-.1m-16 20h.1m-5-7h-.1m-14 1h.1m-2-5h-.1m-25 6h.1m-13-14h-.1m-27 18h.1m-43-29h-.1m-12 26h.1m-3-3h-.1m-50-11h.1m-5 1h-.1m-9-1h.1m-8-12h-.1m-99 22h.1m-24 5h-.1m-51-13h.1m-15-13h-.1m-39 25h.1m-22 36h-.1m87-13h.1m45-9h-.1m27 23h.1m6-14h-.1m59-12h.1m12 22h-.1m32-1h.1m3-20h-.1m12-5h.1m15 26h-.1m46-10h.1m5 1h-.1m66 0h.1m55-14h-.1m52 1h.1m1 12h-.1m46 7h.1m25-8h-.1m28 15h.1m4-19h-.1m33 1h.1m14 6h-.1m15-12h.1m47 14h-.1m29-10h.1m616 19h-.1m108-7h.1m-204 22h-.1m-567 8h.1m-29 7h-.1m-1-12h.1m-23 3h-.1m-11 0h.1m-66-7h-.1m-19-13h.1m-23 10h-.1m-1-8h.1m-4 25h-.1m-2-10h.1m-64 11h-.1m-9-23h.1m-5 12h-.1m-31 2h.1m-22-19h-.1m-43 3h.1m-18 15h-.1m-2-16h.1m-40 11h-.1m-4 13h.1m-29-6h-.1m-54-5h.1m-44-8h-.1m-3 17h.1m-48-21h-.1m-49 4h.1m-4 2h-.1m-16 14h.1m-32-15h-.1m48 35h.1m25-4h-.1m12 18h.1m7-17h-.1m33-6h.1m3-1h-.1m85 3h.1m90-2h-.1m22 16h.1m25-16h-.1m35 8h.1m12-1h-.1m3-7h.1m30 9h-.1m26-8h.1m4 19h-.1m64 1h.1m101-3h-.1m63-16h.1m3 12h-.1m838 38h.1m-867-4h-.1m-81 2h.1m-15 4h-.1m-9-14h.1m-42 5h-.1m-95-5h.1m-13 2h-.1m-53 0h.1m-17-1h-.1m-96 12h.1m-33-13h-.1m-57 4h.1m-64 5h-.1m-3-5h.1m-3 14h-.1m174 33h.1m77-2h-.1m73-10h.1m86-16h-.1m32 14h.1m66 4h-.1m843 10h.1m102 28h-.1m-8-4h.1m-36-8h-.1m-22-11h.1m-16 8h-.1m-1009-10h.1m-166 20h-.1m0-16h.1m-12 25h-.1m-16-29h.1m-91 5h-.1m65 36h.1m84-5h-.1m36 12h.1m54-4h-.1m71 2h.1m1030-1h-.1m-926 45h.1m-10-19h-.1m-116 13h.1m-1225 319h-.1m-19 2h.1m-94 10h-.1m-62-13h.1m-70 1h-.1m-12-15h.1m-48 36h-.1m64-2h.1m1 23h-.1m12-12h.1m2-16h-.1m19 17h.1m26-1h-.1m56 13h.1m4 0h-.1m1-27h.1m12 22h-.1m8-5h.1m97-15h-.1m42 2h.1m21 14h-.1m131 31h.1m-25-8h-.1m-24 8h.1m-27-5h-.1m-25-3h.1m-72 13h-.1m-16-21h.1m-10 18h-.1m-35-19h.1m-34 25h-.1m-28-15h.1m-9 6h-.1m-4-15h.1m-37 10h-.1m-41 3h.1m-36 8h-.1m-1-5h.1m-17-1h-.1m80 35h.1m76-5h-.1m12-8h.1m105 12h-.1m77-13h.1m97-7h-.1m52 8h.1m33 48h-.1m-219-25h.1m-3 5h-.1m-17 5h.1m-35-10h-.1m120 62h.1m123-3h-.1m128-10h.1m29-12h-.1m55 7h.1m69 39h-.1m-216-16h.1m-48 0h-.1m-15 21h.1m-1-4h-.1m-8-9h.1m-19 5h-.1m-13-14h.1m-8 26h-.1m-29-15h.1m-16-9h-.1m338 39h.1m33 1h-.1m1556 74h.1"/>
<path stroke="#FBF6B4" d="M1139 883h.1m410 267h-.1m1688 407h.1m-844 140h-.1m-36 60h.1"/>
</g>
<g stroke="#000" stroke-width="4.5" fill="none" stroke-linecap="butt">
<path d="M211 140.7V1308.9"/>
<path d="M208.8 1306.6H1787.9"/>
<path d="M196.4 196.0H209M196.4 416.3H209M196.4 636.5H209M196.4 856.8H209M196.4 1077.0H209M196.4 1297.3H209M418.2 1308V1320.9M759.2 1308V1320.9M1100.3 1308V1320.9M1441.3 1308V1320.9M1782.4 1308V1320.9"/>
</g>
<text transform="translate(183.6,214.3) scale(1.065,1)" font-size="52.8" text-anchor="end">20</text>
<text transform="translate(183.6,434.6) scale(1.065,1)" font-size="52.8" text-anchor="end">15</text>
<text transform="translate(183.6,654.8) scale(1.065,1)" font-size="52.8" text-anchor="end">10</text>
<text transform="translate(183.6,875.1) scale(1.065,1)" font-size="52.8" text-anchor="end">5</text>
<text transform="translate(183.6,1095.3) scale(1.065,1)" font-size="52.8" text-anchor="end">0</text>
<text transform="translate(183.6,1315.6) scale(1.065,1)" font-size="52.8" text-anchor="end">-5</text>
<text transform="translate(417.4,1370.6) scale(1.065,1)" font-size="52.8" text-anchor="middle">-5</text>
<text transform="translate(758.5,1370.6) scale(1.065,1)" font-size="52.8" text-anchor="middle">0</text>
<text transform="translate(1099.5,1370.6) scale(1.065,1)" font-size="52.8" text-anchor="middle">5</text>
<text transform="translate(1440.5,1370.6) scale(1.065,1)" font-size="52.8" text-anchor="middle">10</text>
<text transform="translate(1781.6,1370.6) scale(1.065,1)" font-size="52.8" text-anchor="middle">15</text>
<text transform="translate(824.6,99.2) scale(1.065,1)" font-size="68.3" font-weight="bold" style="stroke-width:1.6px">SYNGAP1</text>
<text transform="translate(881.1,1436) scale(0.947,1)" font-size="61">UMAP_1</text>
<text transform="translate(93.6,841.5) rotate(-90) scale(0.947,1)" font-size="61">UMAP_2</text>
<defs><linearGradient id="mg" x1="0" y1="1" x2="0" y2="0">
<stop offset="0.0" stop-color="#000004"/>
<stop offset="0.1" stop-color="#140E36"/>
<stop offset="0.2" stop-color="#3B0F70"/>
<stop offset="0.3" stop-color="#641A80"/>
<stop offset="0.4" stop-color="#8C2981"/>
<stop offset="0.5" stop-color="#B73779"/>
<stop offset="0.6" stop-color="#DE4968"/>
<stop offset="0.7" stop-color="#F7705C"/>
<stop offset="0.8" stop-color="#FE9F6D"/>
<stop offset="0.9" stop-color="#FECF92"/>
<stop offset="1.0" stop-color="#FCFDBF"/>
</linearGradient></defs>
<rect x="1844" y="579.8" width="63.8" height="318.6" fill="url(#mg)"/>
<path d="M1844 898.0h12.7M1895.1 898.0h12.7M1844 825.5h12.7M1895.1 825.5h12.7M1844 753.0h12.7M1895.1 753.0h12.7M1844 680.5h12.7M1895.1 680.5h12.7M1844 608.0h12.7M1895.1 608.0h12.7" stroke="#fff" stroke-width="1.6" fill="none"/>
<text transform="translate(1937.3,916.6) scale(1.065,1)" font-size="52.8">0.00</text>
<text transform="translate(1937.3,844.1) scale(1.065,1)" font-size="52.8">0.25</text>
<text transform="translate(1937.3,771.6) scale(1.065,1)" font-size="52.8">0.50</text>
<text transform="translate(1937.3,699.1) scale(1.065,1)" font-size="52.8">0.75</text>
<text transform="translate(1937.3,626.6) scale(1.065,1)" font-size="52.8">1.00</text></svg>
</body></html>
